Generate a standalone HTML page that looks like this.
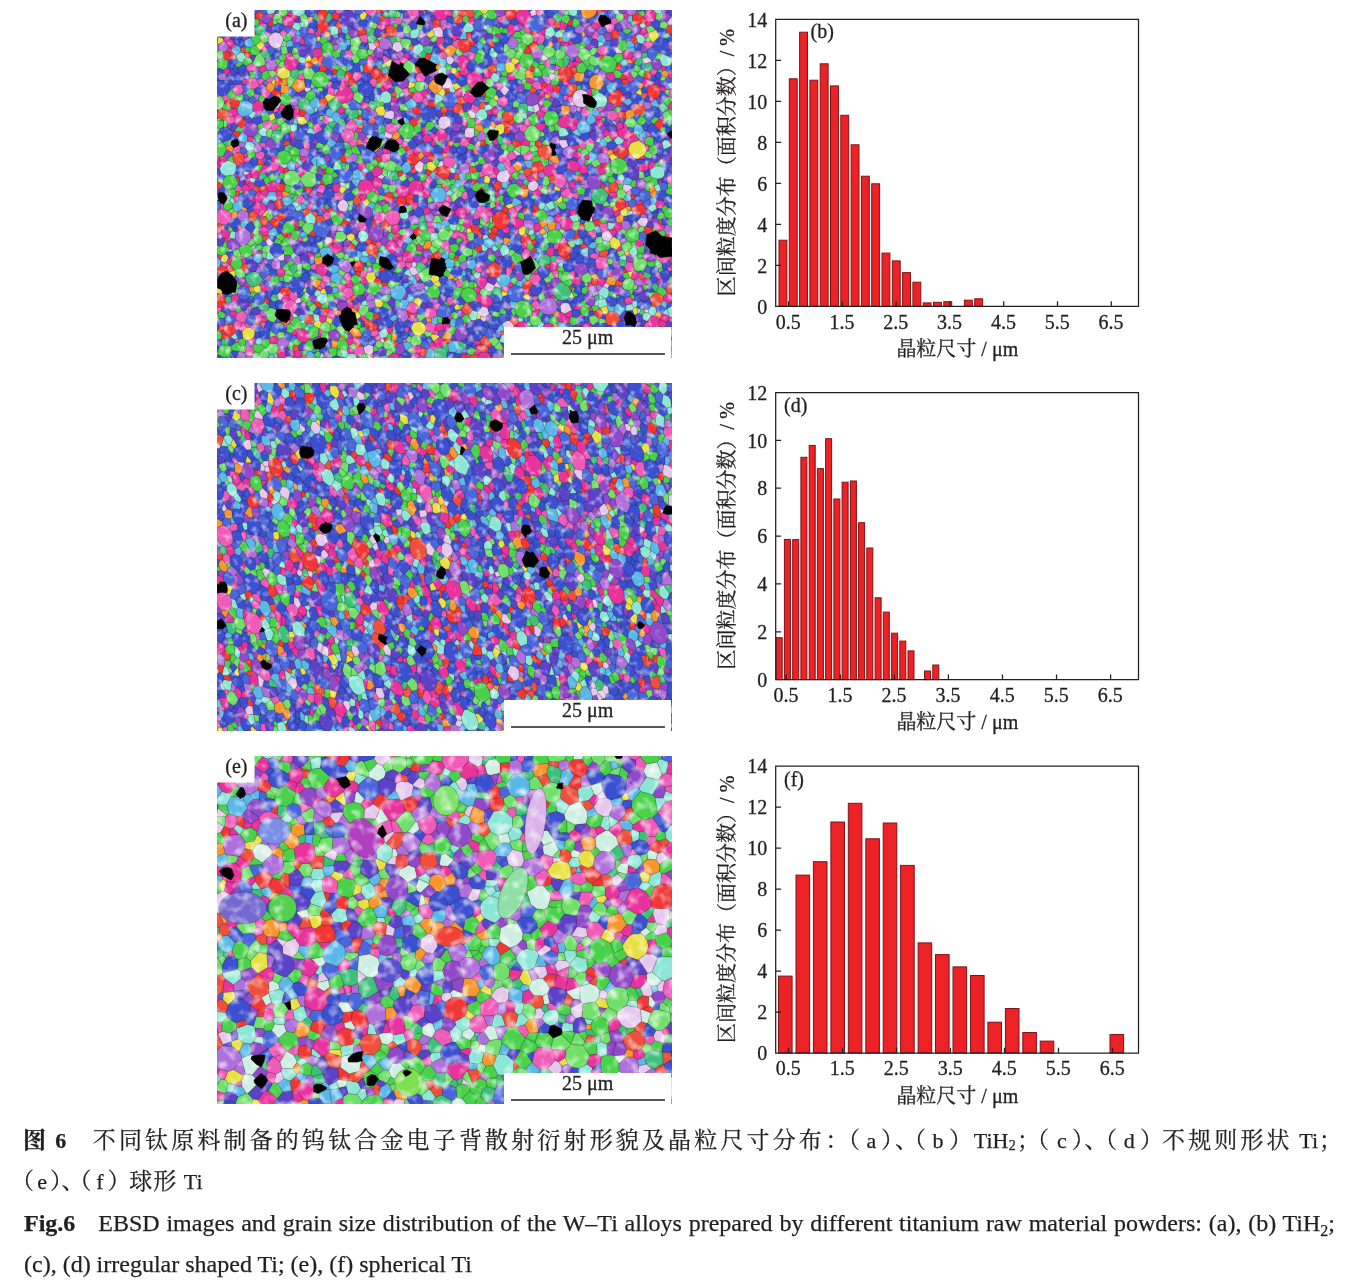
<!DOCTYPE html>
<html lang="zh"><head><meta charset="utf-8"><title>Fig.6</title>
<style>
html,body{margin:0;padding:0;background:#fff}
body{width:1348px;height:1286px;position:relative;overflow:hidden;color:#231f20;font-family:'Liberation Serif','Noto Serif CJK SC',serif}
.ln{position:absolute;left:24px;width:1306px;height:40px;line-height:40px;font-size:24px;white-space:nowrap}
.j{white-space:normal;text-align:justify;text-align-last:justify}
svg text{stroke:#231f20;stroke-width:.3px}
.ln{-webkit-text-stroke:.25px #231f20}
.a{position:absolute;top:0}
.c,.cb{font-size:23px}
.l,.lb{font-size:22px}
.cb,.lb{font-weight:bold}
.s{font-size:14px}
.g2{display:inline-block;width:23px}
sub{font-size:16px;vertical-align:-5px;line-height:0}
</style></head><body>
<svg width="1348" height="1286" viewBox="0 0 1348 1286" style="position:absolute;left:0;top:0" font-family="'Liberation Serif','Noto Serif CJK SC',serif" fill="#231f20"><defs>
<filter id="bl" x="0" y="0" width="100%" height="100%"><feGaussianBlur stdDeviation="0.9"/></filter>
<filter id="nz0" x="0" y="0" width="100%" height="100%" color-interpolation-filters="sRGB"><feTurbulence type="fractalNoise" baseFrequency="0.07" numOctaves="2" seed="3"/><feColorMatrix values="0 0 0 0 1  0 0 0 0 1  0 0 0 0 1  1.9 0 0 0 -0.95"/></filter>
<filter id="nz1" x="0" y="0" width="100%" height="100%" color-interpolation-filters="sRGB"><feTurbulence type="fractalNoise" baseFrequency="0.07" numOctaves="2" seed="8"/><feColorMatrix values="0 0 0 0 1  0 0 0 0 1  0 0 0 0 1  1.7 0 0 0 -0.9"/></filter>
<filter id="nz2" x="0" y="0" width="100%" height="100%" color-interpolation-filters="sRGB"><feTurbulence type="fractalNoise" baseFrequency="0.045" numOctaves="2" seed="5"/><feColorMatrix values="0 0 0 0 1  0 0 0 0 1  0 0 0 0 1  2.0 0 0 0 -0.95"/></filter>
</defs><svg x="217" y="10" width="455" height="348" viewBox="0 0 910 696" preserveAspectRatio="none"><rect width="910" height="696" fill="#555"/><g filter="url(#bl)"><g stroke="#111" stroke-width="0.7" stroke-opacity="0.5" stroke-linejoin="round"><path fill="#3cc07a" d="M748 373l4-12 14-6 7 2 10 12 0 1-4 12-9 7-1 0-10-2-9-8zM674 556l14-13 2 1 14 10 5 10-5 10-4 4-9 4-9-3-4-3-4-7zM530 370l6-8 8-3 11 5 3 12 0 2-4 5-8 3-8 0-8-9zM56 534l1-2 11-8 9-1 8 4 6 12-7 11-11 4-6-1-9-10zM112 241l5-1 10 1 7 7-1 8-7 8-7 2-12-10zM221 188l1-4 14-10 13 13 0 4-10 13-4 0-10-7zM434 680l4-4 12-1 11 9-2 13-17 5-7-6zM649 490l9-2 8 5 2 11-3 4-12 4-8-1-3-6zM601 196l5-9 12-1 4 4-1 12-2 3-11 2-5-2zM858 -15l6-5 2-1 9 2 5 8-7 12-10-1-5-7zM241 121l6-4 10 7-2 11-3 2-10-2-4-6zM74 39l3-6 6-3 9 2 5 7 0 3-2 5-9 4-8-3zM350 323l6-2 4 2 4 12 0 3-6 4-12-3-3-5zM268 199l13 0 3 12-4 5-10 3-3 0-5-7zM146 122l13-5 3 3 3 8-5 10-3 1-11-7zM303 186l4-5 7 0 4 2 3 10-5 7-5 1-9-9zM857 107l11-3 4 13-6 7-10-1-3-4zM671 15l4-8 7-2 9 7-2 10-2 2-10-1zM882 195l2-5 9-5 9 8 1 5-2 3-8 4-11-9zM342 7l3-10 7 0 7 5-2 13-2 1-9 0-3-2zM550 563l5-9 13 2 2 6-2 6-7 4-4-1-6-4zM648 467l3-2 12 2 1 8-6 8-8-1-4-8zM83 593l0-2 11-6 9 3 2 8-5 6-13-1zM163 181l8-4 1 0 10 15-6 8-10 0-5-9zM402 429l2-4 13-2 2 1 2 12-1 3-11 3-7-7zM839 97l9-1 2 1 3 8-8 7-10-3-1-2zM400 506l8-3 9 7 2 6-16 10-6-11zM301 51l13-1 6 6 0 2-8 8-10 0-1 0zM85 87l1-3 14-2 8 7-5 7-8 1zM763 330l14-3 6 7-1 8-10 3-2 0zM730 698l2-4 11-3 1 0 6 12-7 6-8-2zM559 258l6-8 1 0 11 9-2 7-8 4-4-2zM108 571l5-3 7 1 3 11-5 3-10-2zM566 135l3-2 9 0 5 8-6 10-4 1-10-10zM73 254l0-1 9-8 8 7-4 13-3 1-2 1zM803 501l2-2 14 2 2 3-6 9-10-1zM145 513l10-6 4 2 2 12-9 7-7-9zM220 229l1 0 11 8 0 7-6 6-14-10zM552 50l3 0 9 6 1 8-9 3-6-5zM663 97l0-1 12-5 5 6-3 12-9 0zM321 238l3-6 8-2 4 3 1 10-2 2-11 2-1-2zM413 73l10-3 9 5-3 12-10 0-6-6zM222 5l7 3 2 9-9 9-7-4zM529 349l5-4 9 2 2 9-1 3-8 3-7-8zM331 569l16-1 2 6-9 11-7 1-5-7zM79 469l8-1 5 5-2 9-10-1-4-4zM9 659l0-1 13-1 2 14-14-1zM299 40l6-5 11 3-2 12-13 1-2-3zM264 153l15-6 4 5-1 11-8 4zM483 662l4 0 10 6 1 1-1 7-9 4-4-3zM402 90l11-9 6 6-3 9-11 1zM194 531l4-6 13 8-2 8-13-3zM853 528l3-5 10 4 3 4-3 6-12-1zM450 675l5-9 7 2 1 15-2 1zM-11 418l1-1 7-1 6 11-2 4-9 4-7-9zM465 354l4-5 4 0 9 8-1 2-5 6-4 0-6-6zM868 553l6-7 4 0 6 8-6 10-1 0-1 0zM795 682l-1-2 2-2 4-1 10 5 0 10-7 1zM692 98l1-1 12 2 1 2-6 13-8-1zM896 465l10 0-1 13-11-4zM437 340l10-4 7 3-1 7-4 3-9 0zM247 217l7 1 4 10-2 5-15-7zM135 273l11-5 6 5-7 12-11-5zM850 86l10-2 2 10-12 3-2-1zM473 566l14 4 0 2-10 11-8-10zM225 224l9-2 6 4-8 11-11-8zM840 488l1-3 11 2 0 10-10 0zM254 265l1-1 9 1 5 10-1 1-10 3-4-3zM67 586l7-2 9 7 0 2-14 5zM898 222l10-3 3 9-7 6-2 0zM753 574l11-6 0 1 1 11-2 2-6-1zM403 415l11-6 1 1 2 13-13 2zM666 493l8-3 6 3-2 10-10 1zM256 198l8-2 4 3-6 13-7-7zM443 479l4-4 12 5 0 3-10 7-7-8zM346 60l2-6 9-2 2 11-8 5-3-1zM740 115l6-6 11 3-5 12-12-6zM555 470l1-3 5-2 10 5-6 10-2-1zM172 177l3-2 12 7-3 9-2 1zM11 264l15-5 3 3-1 7-10 4zM345 445l3-1 6 4-3 12-7 0-4-7zM810 682l5-2 4 2 1 8-6 4-4-2zM247 308l3-3 7 0 1 3-2 9-6 1zM330 469l6 2 1 5-8 8-6-1-1-5zM263 390l5 1 4 7-8 5-4-2zM830 636l10 1 1 5-12 8zM16 575l6-3 6 3 2 7-7 4-6-1zM85 325l13 3 2 5-7 6-9-5zM612 341l7-4 6 7-4 8-9-3zM551 -8l12 1 1 2-7 8-8-5zM912 416l4-5 8 1 2 3-4 11-2 1-2-1zM906 675l15 3-9 13-4-3zM642 68l9 0 5 5-5 11-10-7zM356 579l11 1-2 14-10-1zM123 533l10-1 2 12-11-2zM688 71l6 0 4 4-3 8-11-4zM387 333l4-1 4 8-9 5-5-7zM508 -4l0-1 15 3-6 10-2 1zM900 44l5 4-5 11-9-4zM189 143l9 11-10 4-2-3zM168 682l10-2 3 4-2 6-9 0zM826 25l5-2 6 6-6 5zM322 110l7 0 2 8-2 3-10-5zM-6 46l3-3 3 0 5 11-4 4-5-1zM646 601l7 6-6 10-6-5zM191 14l6-7 3 0 5 16-2 1-10-5zM185 600l8 3 1 5-2 3-12-2zM541 563l9 0 1 4-5 6-7-2zM720 151l8-1 0 9-9 2zM145 369l13-1 1 1-9 10-6-7zM214 393l5-7 6 9-5 5zM697 88l10 7-2 4-12-2zM19 694l6-3 3 5-6 5-2 0zM580 -10l6 7-10 6-2-4zM513 13l2-4 2-1 7 4-2 6-5 2zM715 324l9-3 4 6-10 6zM881 121l7-4 4 4-3 6-8-4zM343 120l8 2-7 8-3-3zM294 513l6 0 1 1-1 9-8-2zM799 570l8 2-9 6-1-1zM721 410l8 4-4 10-2-2zM592 78l9-7 1 12-4 1zM435 230l8 0 4 7-5 3-8-6zM836 248l1 0 8 1 1 6-3 4zM727 457l3 0 3 9-7 5-1-1zM67 472l9-5 3 2-3 8-4 1z"/><path fill="#e6c8ee" d="M711 172l3-7 5-4 9-2 11 4 8 14-1 7-9 9-5 2-12-2-3-2-5-8zM103 54l7-7 6-3 9 2 7 8 1 6-5 13-1 1-10 4-10-6-5-9zM559 331l6-8 14-4 8 11-4 10-5 4-10 1-7-4-2-5zM447 143l7-9 5-2 1 0 9 8 2 9-1 2-6 6-9 1-4-2zM442 223l4-8 3-2 9-1 7 5 3 12-1 2-12 8-8-2-4-7zM240 391l5-9 8-4 7 5 3 7-3 11-7 3-9-3zM431 38l0-1 1-1 14-3 6 9 0 12-10 1-7-4zM769 453l1-8 13-5 9 14-7 9-3 0-10-3zM686 592l6-7 11 1 1 1 6 13-14 8-8-4zM625 344l9-3 4 1 6 8-4 9-8 4-8-3-2-3-1-5zM570 627l10-6 4 0 10 10-4 12-2 3-5 1-3-1-5-4zM293 674l10-5 10 3 0 12-1 2-8 4-1 0-8-4zM495 241l5-6 1-1 13 2 1 1 0 15-6 4-11-1-3-6zM351 68l8-5 8 1 5 12-3 6-9 3-9-7zM522 604l8-12 11 3 4 13-8 6-9-1-6-8zM839 424l9-10 12 2 2 7-4 10-3 1-8-2zM684 266l1-6 11-1 3 1 4 12-10 5-4-2zM396 310l10-9 8 6-1 11-6 7-6-2-6-8zM337 204l11-4 7 4-1 12-5 3-14-3-2-4zM650 653l15 7-4 10-2 1-12-4 0-1zM541 544l13 6 1 4-5 9-9 0-7-7zM384 518l5-5 8 2 6 11-1 1-7 4-6 0zM573 152l4-1 8 9-9 11-2 0-8-10zM217 454l1-1 9 1 4 4-1 7-9 5-6-4zM667 126l7 1 6 6-12 8-5-9zM458 97l3-5 7 0 6 6 1 4-7 8-8-3zM302 66l10 0 8 8-7 8-9-4zM813 348l13 2 5 5-2 3-11 7-7-7zM568 -19l13 0-1 9-6 9-10-4-1-2zM97 462l6-7 10 10 0 1-7 7-6-3zM737 414l7-5 7 6 0 8-14 2zM631 192l11-5 4 13-9 6-2-1zM-13 106l12 0 3 10-4 6-10 0-3-7zM908 14l8 8-6 8-7 0-3-5zM335 245l2-2 14 6-1 7-5 2-9-5zM850 97l12-3 8 7-2 3-11 3-4-2zM162 575l5 1 2 6-1 3-9 3-4-6zM624 674l8-5 5 8-1 3-8 2-4-4zM625 3l12-6 2 13-10 3zM647 97l5-8 11 7 0 1-9 6-6-3zM501 204l6-4 11 7-1 8-2 2-8 0zM120 569l6-5 7 7-5 10-5-1zM528 613l9 1 2 7-6 3-7-6zM133 487l2 3 0 11-9 1-7-6zM330 328l5 5-5 6-11-5zM795 76l6-2 10 10-1 3-12 0zM507 159l1-2 14 0 1 3-7 7zM778 545l8 5-5 7-9-4-1 0zM445 303l7-2 2 10-12 4-1-1zM54 322l12 2 0 1-8 6-5-4zM592 283l3-4 12 8 1 2-8 3zM554 550l5-7 10 11-1 2-13-2zM177 154l9 1 2 3 0 2-9 5-5-6zM667 120l7-1 2 2-2 6-7-1zM328 656l4 0 4 7-4 4-6-6zM390 505l3-2 7 3-3 9-8-2zM854 599l1-1 8 1 0 7-8-1zM706 186l6-3 5 8-10 1zM491 160l7 4-6 10-2-1zM175 566l4-2 7 7-2 2-10-4zM916 22l4 1-1 12-9-5z"/><path fill="#f05ab8" d="M877 489l5-12 12-3 11 4 1 0 5 13-7 10-8 5-6 0-2-1-9-7zM0 406l4-6 3-1 7-1 8 3 6 6 2 9-7 11-9 3-11-3-6-11zM336 407l13-8 3 0 12 5 1 2 2 11-5 11-13 3-3-1-10-10zM130 594l3-8 13-7 9 3 4 6 2 9-6 9-4 3-10 1-9-6zM532 310l6-5 8 1 8 7-2 13-10 6-6-1-8-8zM757 499l7-7 14 3 2 3 3 11-6 9-15 1-5-7zM677 329l2-2 14 1 6 12 1 4-5 8-9 5-10-6-3-4zM247 251l0-1 10-14 18 8-1 14-10 7-9-1zM394 166l5-4 8 2 7 11-5 9-4 2-6-1-9-9zM381 4l6-8 14-2 3 7 0 12-14 5-7-5zM519 395l4-4 13 2 1 1 3 8-3 9-7 5-4 0-10-9zM417 598l3-2 12 0 7 6 1 9 0 1-11 5-11-2-1 0-2-5zM258 228l9-9 3 0 8 5 4 8 0 3-6 8-1 1-18-8-1-3zM452 301l3-4 6-4 9 2 6 4 1 7-6 9-5 2-12-6zM628 528l15 1 6 8-8 13-9 0-7-9zM783 202l11-2 8 6 0 9-7 6-6 2-9-9zM336 233l5-5 8-3 9 5 3 12-10 7-14-6zM250 564l8-10 12 2 4 13-13 10-10-9zM40 606l10-5 1 0 9 8 1 2-5 14-1 0-5 1-12-6-2-5zM560 182l3-6 11-5 2 0 7 12-2 6-7 6-13-7zM384 585l9-1 10 9-4 13-9 1-10-5-3-3zM906 159l1-2 8-4 9 8-1 11-6 5-15-4 0-1zM313 411l7-6 12-1 4 3 0 13-8 7-8-1-6-6zM35 150l14-2 1 1 3 13-4 6-11 3-8-11zM416 630l4-5 8-1 9 6 0 7-8 8-11-4zM303 -10l11-2 4 5 2 13-13 7-7-4-4-6zM64 139l3-2 8-1 5 3 4 11-2 4-8 5-8-3-4-7zM760 76l2-2 11-4 9 7-3 13-4 2-9-2-6-6zM59 674l12-1 4 10-4 10-12-2-3-6zM815 513l6-9 10 1 4 15-3 2-11 2-5-7zM90 225l1-2 14-3 3 2 2 4-2 11-8 2-7-4zM399 128l14-5 7 5-6 16-15-1-2-6zM191 237l3-9 7-2 4 3 6 11-14 8-1 0zM274 679l4-4 11-3 4 2 2 12-9 8-7-2-5-5zM450 462l12-2 4 9-1 5-6 6-12-5zM687 365l11-9 6 0 2 1 4 11-1 6-6 2-13-3-1-2zM144 571l4-8 12 4 2 8-7 7-9-3zM161 370l7 0 5 3 3 8-3 6-5 2-2 0-9-6zM489 258l9-3 8 11-7 9-13-5-1-5zM775 32l1-2 12-4 6 4 1 9-8 7-7-2zM111 304l10 0 5 5 0 1-5 10-11 4-3-3-3-8zM900 333l10-5 4 1 1 1 4 11-6 8-12-2-1 0zM91 162l7-4 10 7 0 1-7 11-4 0-9-8zM327 293l6-6 13 0 1 13-11 6-6-4zM226 599l4 0 6 5 1 8-6 6-11-4-2-2zM732 195l5-2 10 13 0 1-7 7-10-2-3-7zM236 365l9-1 6 4 2 4 0 6-8 4-12-4-1 0zM214 405l6-2 6 3 2 11-11 4-6-9zM271 129l4-5 12 0 2 1-1 11-9 8-9-8zM630 148l3-5 11-1 5 6 0 11-10 1-9-8zM611 291l14-10 4 3 4 9-4 8-14 0zM566 290l7-2 7 4 2 5-11 9-6-1-4-7zM200 355l6-5 1-1 8 1 1 1 2 5-6 11-12-3 0-1zM18 220l6-8 11 2 1 11-7 3-7-2zM58 112l13-7 7 8-3 9-11 2-5-4zM559 16l1-2 15-3 2 4-4 10-4 2-5-2zM459 582l1-7 9-2 8 10-9 8-2 1zM628 589l5-7 7-1 6 7-1 11-7 0-8-6zM255 81l2 0 9-1 8 9-5 6-11-1zM741 448l1-4 12-4 6 6-3 9-7 0zM764 432l4-6 13 0 2 14-13 5-1 0zM258 525l5 0 6 8-1 7-9 3-8-7 0-2zM362 503l10-2 5 4 0 8-7 5-9-6zM614 479l6-2 7 5 1 2-5 13-10 4-5-11zM580 292l5-8 7-1 8 9-3 6-10 3-5-4zM223 155l6-1 7 5 0 13-14-4-1-6zM477 542l5-4 6 1 3 3-1 14-11-2zM351 102l13-4 3 7-4 9-7 3-5-5zM280 431l1-2 4-5 11 0 5 11-6 6-8 1zM77 287l12-5 7 4-1 8-7 5-6-1-5-4zM604 229l10-1 8 6-8 11-8-3zM530 416l7-5 9 4-1 9-8 3zM599 652l1 0 13 3-2 12-10 2-6-6zM421 331l4 0 9 8-9 10-9-8zM-17 516l4-3 13 6 0 4-5 6-11 0-3-3zM514 518l5-8 6-1 7 11-5 6-9-2zM211 533l7-3 9 4 1 8-1 2-11 2-7-5zM240 554l3-6 3-2 10 4 2 4-8 10-6-2zM284 52l15-4 2 3 0 15-2 0-10-1zM33 275l10-4 4 4-1 9-14 3-1-3zM583 398l11-5 0 1 4 8-8 8-8-5zM35 357l7-8 7 6 0 4-5 5-6-1zM504 83l14 4-4 13-9 0-4-6zM75 611l11-4 4 6-3 8-9 2zM571 306l11-9 5 4 2 10-10 7zM491 365l7-3 2 1 3 14-8 3-7-6zM451 384l4-3 12 5-3 10-5 3-9-6zM321 29l11-1 7 6-1 2-9 5-10-5zM-8 438l0-3 9-4 8 10-1 3-7 4-6-2zM355 16l2-1 9 0 5 3 0 4-4 6-4 2-7-4zM558 145l5-3 10 10-7 9-6 0-1-1zM80 139l9-3 6 5-5 7-6 2zM50 626l5-1 3 11-8 7-7-3zM264 265l10-7 6 2 0 11-11 4zM214 212l3-2 10 4-2 10-4 5-1 0-8-6-1-2zM579 318l10-7 2 0 8 11-12 8-8-11zM851 68l4-5 14 0 3 2 0 8-10 5-11-8zM510 188l13 5 3 5-8 9-11-7zM459 370l8 2 4 12-4 2-12-5zM744 491l10-6 10 6 0 1-7 7-10-3zM637 -3l11 0 6 8-7 7-8-2zM32 629l6-9 12 6-7 14-4 1zM578 517l1-1 7-1 5 3-1 8-6 6-6-4zM757 41l2 0 6 8-6 10-7-1-3-4zM287 524l5-3 8 2 1 2-4 11-9 0-2-3zM368 269l5-9 9 6 0 6-8 4-5-2zM388 689l4-3 13 3 0 1-4 10-4 0-10-5zM110 226l10 0 5 5-8 9-5 1-4-4zM660 21l3-5 8-1 6 8-7 11-2-1zM359 464l6-6 9 6-5 11-5 0zM668 523l12-3 3 3 0 14-7-1zM654 103l9-6 5 12-5 6-5-1-4-5zM174 262l12 5 0 10-2 3-11-4zM645 50l9 0 2 9-5 9-9 0-3-4zM720 668l12-6 7 6-7 13-3 1-6-3zM723 268l5-8 9 4 2 2-2 11-6 2-7-7zM35 214l8-6 9 6 0 1-11 13-5-3zM369 130l6-5 9 4 0 3-3 7-10-2zM304 144l6-8 9 3 2 5-6 11-1 0zM414 175l4 0 6 8-4 9-11-8zM568 556l1-2 12-2 4 4-4 9-11-3zM437 385l14-1-1 9-9 3zM540 402l8 0 5 8-2 2-5 3-9-4zM615 218l6-2 9 14-8 4-8-6zM314 654l10-5 4 7-2 5-7 2zM377 505l13 0-1 8-5 5-7-5zM787 19l9-5 7 11-9 5-6-4zM-6 333l2 0 5 8 0 1-8 6-6-6zM-10 682l11 2 2 5-14 12-5-8zM364 98l9-6 10 7 0 2-10 7-6-3zM320 463l6-1 4 7-8 9-5-9zM433 591l10-6 5 4-9 13-7-6zM452 412l6-4 6 5-2 9-11 0zM105 133l7 2 1 3-5 8-6 0-4-5zM759 689l8-2 5 7-6 9-5 1-3-2zM209 541l7 5 1 7-2 4-3 0-7-6zM702 173l9-1 1 11-6 3-6-6zM420 439l1-3 12-3 3 4 0 8-8 3zM613 36l1-5 6-2 8 13-2 5-8-1zM710 368l9-4 5 6-2 8-2 1-11-5zM356 260l9-4 8 4-5 9-7-1zM31 375l6-4 5 1 2 10-8 2zM866 124l6-7 9 4 0 2-5 7-7 0zM308 643l12-4 4 5 0 5-10 5-6-2zM594 394l14-6 4 7-11 8-3-1zM330 96l3-5 2 0 12 7-10 8-2 0zM419 424l13-1 2 2-1 8-12 3zM472 63l10-4 4 0-6 17-1 0-9-6zM746 254l9 9-2 4-14-1-2-2zM652 192l1 0 9 4 0 6-5 4-11-6zM444 89l4-6 7 0 6 9-3 5-10 0zM705 524l8-3 3 3 0 9-8 5zM178 392l8-5 7 1-6 14-8-6zM9 173l11-4 6 9-11 5zM299 254l6 4-1 6-2 2-9-1-1-3zM182 41l4-5 6 1 4 7-2 4-12-1zM633 572l8 0 1 5-2 4-7 1-3-5zM358 493l12-1 2 9-10 2zM55 296l7-2 5 4-2 6-9 1-3-3zM631 51l11-5 3 4-6 14-6-1zM165 128l7 0 4 10-2 2-14-2zM72 478l4-1 4 4-1 6-7 4-2-1zM515 217l2-2 12 6-1 7-11 3zM542 332l10-6 7 5 0 5-12 1zM875 531l8-6 3 1 3 11-6 2zM810 126l10-5 5 5-7 6-7-2zM86 629l3-5 8 1-2 11-2 1zM132 207l13 4-10 12-5-8zM691 453l11 10-1 4-15 1-1-2zM83 266l3-1 11 1 0 8-7 2zM156 306l4-1 8 7-11 6zM378 283l9-6 5 2 1 8-9 4-6-5zM796 344l2-4 2-1 13 3 0 6-12 1zM674 468l11-2 1 2-5 11-6 0-2-3zM453 357l6-4 6 1 1 5-8 6zM187 510l9-3 4 3-3 11-10-3zM319 358l2 0 4 11-3 2-7-7zM852 487l2-1 8 3-3 13-7-5zM494 394l10-1 2 2 2 10-8 3zM154 192l7-1 5 9-1 0-10-2zM818 365l11-7 1 10-3 2-8-2zM224 141l7 4-2 9-6 1-3-5zM598 437l5 1 1 10-6 2-4-4zM363 130l6 0 2 7-7 5-4-4zM238 -3l9 1 1 7-3 4-9-4zM168 585l1-3 10 4 1 5-10 1zM112 413l9-1 1 7-11-2zM612 558l12 1-2 9-8 1zM513 407l3 0 10 9 0 1-13 2zM906 614l9 2-3 12-9-7zM678 109l10 6-4 5-8 1-2-2zM125 46l8-8 8 9-9 7zM55 625l1 0 10 5-1 5-7 1zM66 630l10-2-2 12-9-5zM166 453l6 2-1 8-12-2zM862 45l1 1 0 7-7 4-4-6zM15 505l4-1 6 5-7 5-5-2zM395 531l7-4 5 11-7 6zM533 136l1 0 5 2-3 11-5-1zM-1 595l10 0-1 7-7 4-3-2zM35 659l6-3 4 2-3 7-5 0zM902 514l4-1 5 6-5 5-6-6zM8 387l5-1 1 12-7 1zM759 196l18-3 0 3-12 9zM313 354l6 4-4 6-6-1zM692 171l8-1 2 3-2 7-7 2zM104 528l4 6-2 6-12 0-1-1zM383 614l3 0 7 5 0 7-12-7zM-9 291l3-3 12 6-1 2-11 0zM446 33l1-1 11 0 2 3-8 7zM494 625l6 1-4 9-5-1zM34 68l6 3-11 7-1-2zM488 341l9-3 3 3 0 2-8 6zM644 350l8 0-4 13-8-4zM839 424l8 8-6 8-4-3zM176 544l3 0 5 7-5 6-4-1zM524 324l4-1 8 8-1 2-11 2zM739 553l3-1 6 2-1 7-4 0zM382 198l10-1 0 8-11-4zM307 90l6-5 3 8-3 2zM121 696l1-1 12 2-1 4-5 3zM743 24l5 5-14 7-1-2zM412 3l5-3 1 7-5 2zM660 352l1 0 9 7-9 8zM642 187l2-3 6-2 2 1 1 9-1 0zM812 171l6 7-6 7zM728 608l6 5 0 1-13 4-1-2zM674 307l10-2-6 15-7-9zM781 524l8 0 2 8-8 1-3-3zM372 659l6-1 3 6-10 2z"/><path fill="#e8309c" d="M242 158l2-2 10-3 9 0 1 0 10 14-2 11-5 4-8 4-10 1-13-13 0-2zM382 354l4-9 9-5 10 1 3 2 5 15-7 10-3 2-12 0-6-3zM499 132l2-3 12-7 4-1 10 7 6 8-2 12-9 9-14 0-8-9zM599 5l7-5 12-2 7 5 4 10-9 16-6 2-10-5-7-11zM648 639l7-11 8-2 10 4 7 9 0 9-10 11-5 1-15-7-1-2zM281 354l5-13 12-3 12 4 3 12-4 9-10 6-8-1-7-8zM158 651l5-14 11 1 8 5 5 16-10 6-8 0-9-8zM432 4l6-10 10-4 14 9-1 14-4 5-11 3-7-3-6-8zM134 103l5-8 12-3 11 8 2 5-5 12-13 5-11-7zM652 322l2-8 9-5 8 2 7 9 1 7-2 2-14 4-7-1zM522 692l6-8 13 0 2 1 7 12 0 3-6 10-10 2-10-5zM359 354l13-5 10 5 3 13-9 8-14-1-5-11zM492 174l6-10 9-5 9 8 3 7-1 5-8 9-14-4zM131 14l8-4 12 3 4 8 0 4-5 9-16-1-3-5zM589 419l1-1 12-3 12 6-1 11-10 6-5-1-5-4zM73 392l2-6 1 0 13-2 9 7 2 9-10 11-2 1-5-1-10-10zM684 217l10-7 6 0 9 8 1 8-6 8-6 3-10-2-7-8zM97 350l10-7 9 0 5 6-1 12-3 3-13 0-5-6zM341 694l10-8 7 0 7 4-3 17-7 2-8-2-6-6zM336 471l8-11 7 0 8 4 5 11-11 14-5-1-11-12zM200 510l11-4 8 4 4 6 0 3-5 11-7 3-13-8-1-4zM437 247l5-7 5-3 8 2 6 9-3 12-9 5-12-4-1-1zM685 425l5-6 13-5 2 0 7 10-1 14-16 4-7-6zM482 95l1-2 8-3 10 4 4 6-6 15-11 1-5-3-4-10zM801 241l11-5 9 0 5 9-1 10-2 4-9 1-12-8zM856 4l7-4 10 1 6 6-2 11-8 6-9-2-6-5-1-3zM641 698l4-10 5-4 18 8 0 7-5 9-8 2-11-3zM699 312l8-13 14 4 5 8-2 10-9 3-15-5zM70 188l10-7 2 0 10 4 3 7-6 14-2 1-9-1-6-4zM861 622l7-10 7-1 11 7 0 1-4 13-7 5-9-4zM370 492l6-11 18 6 1 2-2 14-3 2-13 0-5-4zM190 84l6-7 13-1 2 3 0 12-10 5-5-3zM228 478l4-10 10-3 10 9-2 9-15 6-3 0zM532 573l7-2 7 2 6 10 0 2-2 5-9 5-11-3-4-6zM83 437l7-6 6 0 8 10-1 9-1 1-11 1-6-5zM476 403l6-8 12-1 6 14-4 10-1 0-10-1-9-10zM310 342l5-8 4 0 11 5 2 8-3 7-8 4-2 0-6-4zM433 663l12-9 5 2 3 3 2 7-5 9-12 1zM810 87l1-3 10-6 11 8 0 6-5 6-7 1-7-2zM907 184l10-2 6 5 1 5-1 5-6 5-14-4-1-5zM349 431l13-3 1 0 3 11-3 7-5 2-4 0-6-4zM678 613l8-8 2-1 8 4 3 6-7 11-9-1zM521 537l7-5 12 5 1 7-7 12-6 2-7-5-2-7zM600 630l4-5 8-3 7 3 3 9 0 3-9 6-9-3zM728 634l9-8 2 0 12 6 0 5-3 5-14 5-7-6zM665 508l3-4 10-1 4 4 1 6-3 7-12 3-1 0-2-5zM662 148l5-1 4 4 2 12-6 7-11-3-5-8zM330 149l8-8 6-1 4 2 4 10-12 10-3 0zM892 573l8-7 9 1 4 9-4 9-9 1-7-6zM411 256l2-4 6-5 8 4 4 9-4 4-12 2-2-2zM79 364l5-1 2 0 9 12-6 9-13 2-2-11zM580 36l3-7 3-2 11 4 1 12-8 9-1 0-6-4zM495 418l1 0 14 6 1 5-4 7-7 1-3-1-6-5 0-1zM635 428l9-3 6 11-6 6-10 0-3-4zM484 123l4-7 11-1 3 3-1 11-2 3-11-1zM726 311l9-2 4 2 4 8-2 7-11 2-2-1-4-6zM795 427l4-3 9 2 3 11-5 6-6 1-7-7zM66 325l0-1 8-7 1 0 10 7 0 1-1 9-7 4-8-3zM149 201l6-3 10 2-1 13-4 4-5 0-9-6zM390 671l17-1 2 5-4 14-13-3zM748 29l10-9 5 0 7 12-11 9-2 0zM315 314l6-2 11 6-2 10-11 6-4 0-7-10zM8 444l1-3 5-3 7 1 6 6-2 10-11 2-3-2zM474 442l4-2 8 3 2 2-2 9-8 5-11-5zM876 389l4-9 13 1 3 9-7 7-9 0zM712 690l11-11 6 3 3 12-2 4-11 4zM844 309l11-2 6 4 3 8-11 5-9-2-1-1zM477 160l11-5 3 5-1 13-9 2-7-9zM635 231l7-6 14 3 2 3-7 12-4 1zM908 219l3-6 4-2 5 3 4 9-7 7-6-2zM874 433l9-6 7 1 6 4-2 8-11 3-9-8zM413 358l6 0 8 8 0 6-6 5-7 0-8-9zM119 520l8-5 3 0 6 7 0 7-3 3-10 1-3-2zM658 483l6-8 9 1 2 3-1 11-8 3-8-5zM673 415l9-8 4 1 3 4 1 7-5 6-7 1-3-2zM103 657l2-3 14-3 4 7-3 10-14-1zM850 145l4-9 10 3 1 2 0 10-4 3-8-1zM756 225l2-5 10-1 6 6 1 6-12 3zM708 539l0-1 8-5 13 0 1 8-8 10-1 0-10-5zM22 202l6-6 12 2 3 10-8 6-11-2zM903 125l9-3 3 1 3 11-6 6-11-7zM119 685l5-8 8 1 5 5 0 10-3 4-12-2zM779 126l13-2 5 13-7 6-14-9zM815 575l11-3 8 9-4 7-11 2-5-6zM488 445l3 0 8 1 1 1 1 11-8 4-1-1-6-7zM785 244l15-3 1 0 1 11-8 9-3 0-8-10zM437 630l5-4 8 1 2 1 2 12-10 4-7-7zM761 539l3-3 10 0 4 6 0 3-7 8-10-5zM632 363l8-4 8 4 2 4-7 8-5 0-5-6zM825 255l11-7 7 11 0 2-15 5-5-7zM637 206l9-6 11 6-4 9-10 2zM92 310l2-1 10 4 3 8-9 7-13-3 0-1zM832 522l3-2 7 3 2 4-1 9-9 5-7-5zM331 21l5-6 7-1 3 2 0 14-7 4-7-6zM232 348l13-1 2 5-2 12-9 1-6-8zM49 355l8-7 4 1 6 10-7 9-7-3-4-6zM259 543l9-3 6 9-4 7-12-2-2-4zM771 -9l9-10 4 1 5 8-1 8-8 5-8-2 0-2zM504 15l9-2 4 7-5 11-10-6zM155 682l8-3 5 3 2 8-7 6-8-3zM533 125l8-7 10 9-4 9-8 2-5-2zM252 137l3-2 8 4 0 14-9 0-7-7zM298 98l5-7 4-1 6 5-1 7-5 5-5-2zM258 660l1-1 2-3 10 0 3 10-11 6zM578 133l4-7 8-1 6 6 1 6-1 3-13 1zM438 64l4-9 10-1 3 2 0 7-6 9-5 3-4-2zM836 463l8-5 9 5 0 7-14 6-3-1zM818 132l7-6 2 0 7 12-1 3-8 3-6-6zM710 226l10 4 0 7-10 7-6-10zM259 583l2-3 9 3 4 7-2 5-4 3-8-4zM387 389l7-6 7 1 2 10-11 6zM87 553l8-4 10 7-4 6-12 3-1-1zM848 36l10-1 4 10-10 6-7-3zM549 199l3-5 5-1 7 8-3 9-1 2-10-3zM18 65l9-7 5 2 2 8-6 8-5-1zM889 667l5-7 5 1 5 10 0 2-9 5-4-2zM410 283l6-5 11 3 1 5-7 7-6-1zM583 647l5-1 11 6-4 11-5 2-6-3zM28 575l3-5 9-3 6 11-8 7-8-3zM886 619l11 5 0 8-3 4-12-4zM811 267l3-7 9-1 5 7-6 12-10-3zM459 399l5-3 12 7 0 4-12 6-6-5zM281 307l13-3 4 2 0 9-9 7-9-4zM600 643l4-3 9 3 1 10-1 2-13-3zM850 539l4-3 12 1 0 1-4 11-10 0zM872 690l6-1 5 4-2 11-7 3-7-8zM890 608l1-1 13 5 2 2-3 7-6 3-11-5 0-1zM450 273l10-3 6 4-1 10-4 3-9-4zM412 398l8-5 7 8 0 5-12 4-1-1zM706 101l8 3 1 9-11 3-4-2zM909 507l8-3 5 4-6 12-5-1-5-6zM452 628l13-1 3 5-6 9-5 1-3-2zM630 603l8-4 7 0 1 2-5 11-13-1zM798 231l2-4 4-3 9 3-1 9-11 5-1 0zM-12 307l4-3 9 1 5 10-1 2-11 1zM126 310l8 7-1 9-6 0-6-6zM687 24l2-2 11 6 1 2-4 9-12 0 0-2zM762 322l7-9 8 3 3 5-3 6-14 3-1-1zM703 346l6-4 7-1 1 12-11 4-2-1zM133 571l11 0 2 8-13 7-5-5zM684 702l3-6 14 0 1 7-6 8-10-5zM769 275l10-3 5 7-4 8-11-1zM392 279l7-6 10 10-8 8-8-4zM715 283l5-1 7 2 4 8-9 7-10-5zM249 191l7 7-1 7-10 3-6-4zM609 265l8-8 9 6-2 10-14-3zM554 383l4-5 9 5 1 6-8 6-2-1zM699 614l7 2-1 11-10 2-3-4zM570 438l10-6 6 5-1 8-1 1-7 1zM86 363l13-5 5 6-5 10-4 1zM783 369l4-5 12 0 2 10-9 3-9-7zM337 637l15-4-1 14-1 1-7-1zM408 343l8-2 9 8-6 9-6 0zM61 349l6-5 7 2 2 5-3 8-6 0zM246 694l2-1 10 2 1 6-5 6-8-3zM205 612l12-1 1 1 2 2-2 9-9 3-5-5zM272 595l2-5 7-2 6 3-5 12zM405 690l11 3 4 4-5 11 0 1-14-9zM117 364l3-3 10 3 2 10-3 5-9 0zM701 696l3-6 8 0 7 12-3 6-14-5zM429 645l8-8 7 7-1 7-13-3zM157 420l6 1 1 12-8 1-3-7zM-11 163l7-2 9 11-10 5-7-5zM330 277l10-2 8 9-2 3-13 0zM288 536l9 0 6 9-9 5-8-5zM196 44l6-4 6 5-2 8-7 0-5-5zM619 334l9-5 6 4 0 8-9 3-6-7zM837 687l7-5 2 2 3 8-10 9-1 0zM594 631l6-1 4 10-4 3-10 0zM709 218l4-3 13 6 0 1-6 8-10-4zM286 187l5-5 12 4-1 6-6 6zM861 311l8-10 7 5 1 6-11 8-2-1zM90 613l8 0 4 7-5 5-8-1-2-3zM83 114l13-4 4 10-10 6-5-3zM13 120l7-4 6 3-2 9-5 2-5-5zM284 373l7-5 8 1 1 8-9 7-2-1zM399 470l4-3 9 7 1 4-3 5-12-2zM520 568l5-2 7 7-6 13-9-3-1-1zM577 259l2-2 11 7 0 3-9 5-6-6zM493 218l9 2-1 14-1 1-12-6zM259 679l4-5 11 5 0 8-11 1zM595 110l9-6 5 8-6 8-6-3zM-4 2l6-6 6 5 0 6-9 5-1-1zM5 296l1-2 7-2 8 6 0 3-10 6-6-7zM23 495l4 1 3 2-3 11-2 0-6-5zM271 656l2-2 14-1-2 10-10 4-1-1zM491 -6l14-6 3 7 0 1-11 6-5-4zM407 164l7-5 4 1 4 4 1 3-5 8-4 0zM708 273l15-5 1 4-4 10-5 1zM860 22l9 2 0 7-11 3-1-5zM696 608l14-8 1 13-5 3-7-2zM904 67l10 1 5 6-9 6-7-3zM370 158l12-4 2 3 0 7-3 3-6 1-4-3zM617 137l1-1 14 1 1 6-3 5-11-4zM739 163l8-8 1 1 3 16-4 5zM354 448l4 0 7 10-6 6-8-4zM462 -1l1 0 9 3-1 12-10-1zM516 678l2-1 8 4 2 3-6 8-8-3zM783 440l10-3 7 7-6 10-2 0zM771 246l8-7 6 5-2 7-9 4zM716 94l5-3 10 12 0 1-5 2-9-4zM538 202l11-3 1 10-1 1-8 0zM166 292l14 2 0 5-8 7-6-7zM390 607l9-1 1 2-1 5-6 6-7-5zM27 602l10 0 3 4-4 9-11-5zM112 290l8 0 1 14-10 0-4-6zM598 402l3 1 1 2 0 10-12 3 0-8zM286 615l2-5 7 0 4 8-6 5-3 0zM493 462l8-4 6 3-8 10zM813 8l5-3 6 5-4 9-6-2zM885 153l11 1 2 5-3 5-8-1zM903 261l4-5 8-1 0 13-6 3zM52 139l12 0-2 10-12 0-1-1zM128 187l11 5-9 12-5-3-2-5zM144 246l4-3 6 1 2 13-9 1zM255 -6l6-9 8 12-2 4-8 0zM239 406l5-5 9 3-2 11-11-6zM859 622l2 0 5 11-10 4-3-6zM794 404l9-4 3 1 1 8-9 5-5-4zM649 159l2 0 5 8-1 5-5 3-6-1-2-2zM12 57l7-5 7 5 1 1-9 7-5-2zM425 667l8-4 5 13-4 4-9-3zM368 451l10 0 2 2-6 11-9-6zM911 491l3 0 3 13-8 3-5-6zM142 85l7 0 3 4-1 3-12 3-3-6zM636 680l1-3 8-1 5 7 0 1-5 4zM705 401l13-3 2 11-14 3zM609 465l12 3-1 9-6 2-5-4zM427 251l3-4 7 0-1 13-5 0zM94 72l7 3-1 7-14 2 0-3zM412 494l12 3 0 1-7 12-9-7zM855 268l12 4-4 10-4 1zM61 252l12 1 0 1-4 10-9-1zM427 264l4-4 5 0 1 1 2 9-8 4zM587 543l8 7-10 6-4-4zM409 234l7-1 5 8-2 3-10 0-1-1zM172 316l8 7-13 12-6-9zM140 614l1-4 10-1 2 7-6 7zM47 493l1-1 9 3 2 12-8 2zM512 557l1-1 8-3 7 5-3 8-5 2zM579 667l5-5 6 3-1 9-10-5zM179 486l2-3 15 6-1 7 0 1-11-1zM655 36l2 2-1 11-2 1-9 0-3-4zM206 398l0-2 8-3 6 7 0 3-6 2zM56 343l4-6 5 1 2 6-6 5-4-1zM282 235l8 3 1 6-8 3-7-4zM112 198l2-2 9 0 2 5-11 6-1-1zM551 261l8-3 4 10-6 3-6-6zM204 637l1-1 8 7-6 11-5-1zM85 21l3-1 6 6-2 6-9-2zM158 636l4 1 1 0-5 14-8-1-1-3zM714 104l3-2 9 4-8 8-3-1zM827 98l5-6 7 5-5 10-1 0zM-6 296l11 0 0 4-4 5-9-1zM870 452l12-4 5 10-6 5zM349 174l8-1 4 5-1 6-13 0zM374 88l5-2 7 6-3 7-10-7zM514 661l12 0 2 7-8 3-7-5zM554 313l5 0 6 10-6 8-7-5zM756 213l9-6 6 8-3 4-10 1zM692 144l11-2 3 6-3 5-10-3zM808 470l3 10-11 4-1-5zM61 377l1-3 12 1 2 11-1 0zM537 394l9 0 3 3-1 5-8 0zM718 589l8 0 3 4-3 8-14-2zM855 290l2 5-3 4-12-1zM290 324l12 2-5 7-7-3zM514 269l5-2 7 6-6 5-4-1zM666 573l8-4 4 7-5 2-8-3zM326 20l5 1 1 7-11 1-1-2zM799 273l5 4-2 7-10 1-1-5zM148 681l3-1 4 2 0 11-4 2-4-3zM68 659l6-5 5 3-3 11-1 0zM741 546l7-3 4 7-4 4-6-2zM296 198l6-6 9 9-3 3zM23 75l5 1 1 2 1 6-3 2-9-3zM171 54l2 1 4 13-10 2-1-3zM694 64l8 0 2 6-6 5-4-4zM67 445l3 0 5 6-3 7-4-1zM816 382l7 1 0 9-6 3zM245 147l2-1 7 7-10 3zM52 288l7-3 3 9-7 2zM243 37l5-1 3 9-9 4 0-1zM469 47l6 4-1 4-4 3-6-4zM1 489l9 2-3 10-7-7zM498 688l2-2 8 5-6 7-1-1zM831 402l4-1 4 8-2 1-7-2zM888 117l2-6 8 2 0 8-6 0zM702 64l5-6 7 10-10 2zM386 309l10 1-1 5-6 2zM47 13l5 0 1 9-8 2-1 0zM822 289l2-4 10 11-8 1zM734 293l10-7 0 13-6 0zM7 644l6-3 2 5-5 3zM221 470l9-5 2 3-4 10-6-4zM461 615l7-6 3 8-5 4zM833 679l2-1 8 2 1 2-7 5-3-1zM429 134l10 0 0 5-8 1zM587 330l7 8-6 4-5-2zM906 647l9 3 0 6-7 4-4-2zM611 684l7 1 2 3-7 3zM141 447l7-1 1 10-4 1-5-3zM612 395l3 1 3 9-3 4-5-4zM58 543l9 10-3 3-10-5zM1 305l4-5 6 7-5 8zM151 13l2-3 12 3-10 8zM802 215l3 2-1 7-4 3-5-6zM325 157l5-8 7 13-7 3zM498 255l11 1-3 10zM142 4l7-1 4 7-2 3-12-3zM377 633l9 4-5 8-7-2zM866 174l13 3-1 1-11 8-1-1zM628 484l1 1 4 13-10-1zM475 51l11 1 0 7-4 0-8-4zM687 65l5-3 2 2 0 7-6 0zM470 58l4-3 8 4-10 4zM890 696l7 6-8 6-3-3zM202 107l1-2 8-1 1 6-6 2zM739 626l6-4 6 9 0 1zM567 45l2 0 0 1-5 10-9-6zM642 517l1 12-15-1zM223 118l9-4 2 5-3 5zM304 690l8-4 2 8-2 2zM103 8l11-1 1 1-4 11-1 0zM58 331l8-6 3 10-4 3-5-1zM743 596l3-3 3 0 3 9-7 1zM624 559l2 0 3 10-4 1-3-2zM11 534l4 1 0 5-6 4-7-3 0-1zM409 244l10 0 0 3-6 5zM838 383l9-2 5 3-1 4-12 2zM459 480l6-6 5 10-6 2-5-3zM768 308l1 5-7 9-6-7zM17 585l6 1 0 12-3 0-7-6zM846 684l9 0 2 4-1 4-7 0zM377 327l1 0 9 6-6 5-1 0zM63 584l4 2 2 12-1 1-4 0-1-1zM813 227l3-2 5 10 0 1-9 0zM53 302l3 3-7 8-5-3zM423 154l3 5-4 5-4-4zM644 174l6 1 0 7-6 2zM284 360l7 8-7 5-4-2zM555 364l3-2 3 0 6 8-9 6zM14 457l11-2 2 2-7 9-5-4z"/><path fill="#48d24a" d="M787 306l3-4 12-7 1 0 9 3 7 6 3 14-1 2-10 8-9 2-9-3-6-7zM653 215l4-9 5-4 13 0 5 4 4 11-3 10-6 4-13 2-4-2-2-3zM595 597l5-13 9-4 13 3 6 6 2 4 0 10-2 8-2 2-14 4-8-3-6-5zM661 445l3-3 13-4 7 3 7 7 0 5-6 13-11 2-9-3-4-10zM362 242l8-12 5-3 9-1 9 7 4 15-1 3-5 5-2 1-15 0-8-8zM604 100l7-13 2-1 15 2 6 9 0 4-4 10-10 6-11-5-5-8zM487 570l5-12 10-3 10 2 8 11-4 14-15 4-3-1-11-13zM765 102l10-10 4-2 13 4 8 12-4 14-4 4-13 2-11-7-5-9zM188 140l8-15 9-3 10 2 9 11 0 6-4 9-9 5-10 0-3-1-9-11zM819 441l8-5 10 1 4 3 4 5-1 13-8 5-10 1-5-2-5-8-1-4zM12 340l5-8 15-2 6 5 4 9 0 5-7 8-13 2-10-7-1-2zM44 477l3-5 14-4 6 4 5 6-2 12-6 4-7 1-9-3zM442 702l17-5 2 2 2 3 3 10-2 8-9 6-13-7-2-3zM120 290l3-6 11-4 11 5 4 7-1 8-8 8-14 1-5-5zM-8 277l5-8 12-5 2 0 7 9 1 7-6 12-7 2-12-6zM579 358l2-5 8-5 9-1 9 7 2 4-3 10-9 7-5 2-8-5-5-10zM127 172l2-5 12-1 10 9 0 1-5 12-4 3-3 1-11-5-3-6zM693 676l5-8 15-4 7 4 3 11-11 11-8 0-10-11zM270 556l4-7 12-4 8 5 4 10-6 9-13 3-5-3zM4 675l6-5 14 1 3 2 3 8-1 4-4 6-6 3-9 0-7-5-2-5zM420 562l4-8 9-5 10 5 4 10-3 10-2 2-16 1-6-8zM639 405l6-6 7 0 6 5 4 8-4 8-13 3-8-11zM900 703l12-9 8 7 2 8-5 11-3 1-5-1-8-4zM126 231l9-8 12 8 1 12-4 3-10 2-7-7zM305 546l9-2 7 5 5 11-1 3-10 8-11-4-4-7zM133 429l8-8 4 1 8 5 3 7-1 6-7 6-7 1-7-4-3-8zM406 450l3-8 11-3 8 9-2 13-8 1-7-2zM539 250l7-10 8-2 11 12-6 8-8 3-11-8zM613 655l1-2 13-1 6 5 1 7-2 5-8 5-12-6-1-1zM210 69l11-6 7 2 4 5 1 11-5 7-5 0-12-9-2-3zM30 498l9-4 8-1 4 16-4 8-12 3-8-11zM212 330l1-1 5-2 11 3 4 6-2 11-15 4-1-1-5-10zM147 623l6-7 9-2 5 7 0 6-5 10-4-1-12-9zM893 405l9-10 3 0 10 7 1 9-4 5-9 2-7-5zM-1 106l6-8 6-2 12 6-3 14-7 4-11-4zM284 77l10 0 7 4 2 10-5 7-12 1-8-11zM228 417l12-8 11 6 2 3-5 11-7 2-8-2zM538 7l6-9 5 0 8 5 3 11-1 2-8 4-10-3zM692 524l4-2 9 2 3 14 0 1-18 5-2-1-2-4zM381 469l9-4 9 5-1 11-4 6-18-6zM-1 479l6-6 5-1 6 3 3 11-1 2-8 3-9-2-2-3zM536 161l3-6 11-1 9 6 1 1-2 8-6 7-5 1-10-4zM182 643l3-7 9-5 10 6-2 16-14 6-1 0zM588 494l0-1 9-9 11 6 5 11-2 2-14 4-5-3zM718 114l8-8 5-2 9 11 0 3-6 9-14-3zM518 87l2-1 15 5-4 14-9 4-8-9zM299 369l10-6 6 1 7 7-1 12-2 3-2 1-11-2-6-8zM792 94l6-7 12 0 3 10-8 9-5 0zM621 216l0-1 13-10 1 0 2 1 6 11-1 8-7 6-5-1zM695 650l1-1 15 0 2 15-15 4-4-9zM726 601l3-8 4-1 10 4 2 7-4 9-7 1-6-5zM901 357l13-4 8 4 1 6-10 9-14-4-2-5zM72 458l3-7 10-4 6 5 1 9-5 7-8 1-3-2zM867 272l6-2 3 0 5 8-1 9-9 3-8-8zM66 75l8-5 4 1 8 10 0 3-1 3-7 4-9-1-4-6zM177 665l10-6 1 0 7 12-1 6-6 6-7 1-3-4zM48 34l9-6 6 1 5 11-1 1-10 7-2 0-9-9zM420 224l9-1 5 6 1 1-1 4-7 7-6 0-5-8zM632 124l4-8 6-1 7 6 1 11-1 1-1 1-14-1zM856 256l3-2 8-1 7 3-1 14-6 2-12-4zM179 165l9-5 10 8 0 6-11 8-12-7zM506 327l14-5 4 2 0 11-4 6-9-2-2-2zM295 610l8-8 10 3 1 1-1 9-6 6-8-3zM220 568l10-2 3 2 3 7-4 8-9 1-2-1zM649 121l9-7 5 1 4 5 0 6-4 6-13 0zM241 661l2-1 15 0 5 12 0 2-4 5-8 1-11-3 0-1zM805 60l12 0 2 2 2 15 0 1-10 6-10-10zM148 446l7-6 6 1 5 6 0 6-7 8-10-5zM134 475l2-2 8-2 6 2 4 12-7 6-12-1-2-3zM27 673l10-8 5 0 6 7-4 11-1 0-13-2zM13 386l3-4 9-1 7 7-1 7-9 6-8-3zM222 679l7-4 11 1 0 1-1 14-11 4-1-1zM152 273l3 0 11 6-1 12-16 1-4-7zM-3 643l4-1 6 2 3 5-1 9 0 1-15-1-2-7zM68 56l4-4 6-4 8 3 1 12-9 8-4-1zM269 533l8-4 9 4 2 3-2 9-12 4-6-9zM22 359l13-2 3 6-1 8-6 4-3 0-5-5zM666 616l8-5 4 2 5 11-2 2-8 4-10-4zM711 20l4-4 11 4 0 10-10 6-6-5zM59 164l7-8 8 3 2 8-3 6-8 2-6-7zM317 387l2-1 11 6 2 12-12 1-6-8zM908 14l0-2 10-9 11 8-7 11-2 1-4-1zM601 71l2-4 7-3 10 7-7 15-2 1-9-4zM489 616l7-7 7 1 5 10-3 5-5 1-6-1zM552 33l1-1 3 0 8 4 3 9-12 5-3 0-2-2zM209 277l5-8 5-1 9 7-6 13-5 2-7-7zM358 281l11-7 5 2 4 7 0 3-11 6zM87 207l2-1 8-1 7 6 1 9-14 3zM760 469l10-3 7 5 2 8-13 5-8-9zM890 694l5-8 13 2 4 3 0 3-12 9-3-1-7-6zM106 540l2-6 12-3 3 2 1 9-5 8-8 1zM71 673l4-5 1 0 13 1 6 7-10 10-10-3zM792 124l4-4 10 1 4 5 1 4-5 7-9 0zM1 221l12 1 0 12-7 4-11-5zM140 631l6-4 12 9-9 11-10-3zM652 183l9-5 1 0 7 9 0 3-7 6-9-4zM748 642l3-5 14 4 2 5-3 5-9 5-2 0zM465 474l1-5 13-2 2 1 4 10-9 8-6-2zM310 511l1-3 5-2 13 4-4 13-10 2-2-1zM846 212l8 2 5 6-2 6-8 5-9-4-1-4zM502 220l5-3 8 0 2 14-3 5-13-2zM483 492l8-4 8 6 0 8-12 4-5-6zM720 355l7-2 10 5-2 10-11 2-5-6zM706 616l5-3 9 3 1 2 1 10-10 4-7-5zM321 257l2-1 8 1 5 9-7 10-3 0-8-7zM542 490l11-3 5 7-4 10-2 1-11-7zM57 95l9 0 6 9-1 1-13 7-5-4-2-3zM479 554l11 2 2 2-5 12-14-4-1-5zM102 333l9-8 8 10-3 8-9 0zM581 272l9-5 6 8-1 4-3 4-7 1-5-5zM167 576l3-5 4-2 10 4 0 7-5 6-10-4zM511 350l10-6 8 5 0 5-8 9-5 0-6-4zM90 126l10-6 2 1 3 12-7 8-3 0-6-5zM276 620l1 0 11 4 0 10-4 4-12-3zM218 318l3-5 11 3 2 4 0 3-5 7-11-3zM91 659l12-2 3 10-8 10-3-1-6-7zM613 150l6-6 11 4 0 4-5 8-10-1zM233 568l11-6 6 2 1 6-5 6-5 1-5-2zM882 448l1-5 11-3 4 8-8 10-3 0zM819 682l5-6 9 3 1 7-5 5-9-1zM691 12l2-2 11 1 3 8-7 9-11-6zM149 292l16-1 1 1 0 7-6 6-4 1-8-6zM867 342l3-7 11 3 1 10-8 4-3-1zM587 330l12-8 2 1 3 5-2 10-3 2-5-2zM-17 478l10-4 6 5 0 7-14 3-3-2zM684 387l7-4 7 3 2 11-10 3-8-8zM1 606l7-4 8 4 2 5-4 6-10-1zM491 542l8-3 5 5-2 11-10 3-2-2zM468 609l1-3 6-3 6 3 3 9-6 4-7-2zM268 276l1-1 11-4 0 1 7 13-1 3-3 2-12-3zM-17 362l10-8 6 4-1 11-7 4-4-2zM170 508l11-3 6 5 0 8-4 4-12-6zM393 233l12-6 4 7-1 9-11 5zM-4 548l6-7 7 3 1 8-2 3-9 1zM882 406l11-1 3 8-8 7-4 0-5-4zM128 88l1 0 7 1 3 6-5 8-6-1-5-5zM884 554l4-1 10 7 2 6-8 7-14-9zM286 694l9-8 8 4-3 13-2 2-11-7zM330 392l9-6 2 0 8 13-13 8-4-3zM130 462l6-7 4-1 5 3-1 14-8 2zM207 54l9-1 4 3 1 7-11 6-5-6zM668 141l12-8 1 0 5 8-5 9-10 1-4-4zM20 169l6-9 4 0 8 11-2 4-8 3-2 0zM70 423l5-2 10 0 5 10-7 6-6-1zM500 679l9-5 7 4-2 11-6 2-8-5zM408 327l10 1 3 3-5 10-8 2-3-2zM641 650l8 1 1 2-3 13-13-2-1-7zM567 270l8-4 6 6-1 7-6 2-7-4zM132 54l9-7 2 0 7 8-1 5-10 3-6-3zM633 293l10-2 6 7-2 4-15 4-3-5zM839 476l14-6 3 4-2 12-2 1-11-2zM452 521l6-3 9 7 0 3-6 7-8-4zM641 572l8-8 5 2 4 10-8 5-8-4zM587 537l9-3 6 7-5 9-2 0-8-7zM680 97l12 1 0 15-4 2-10-6-1 0zM158 361l8-5 8 1 0 1-6 12-7 0-2-1-1-1zM464 486l6-2 6 2 1 2-4 12-10-4zM903 537l4-5 12 1 0 11-12 3zM137 349l13 4 1 2-7 11-10-4zM59 285l2-3 12-2 4 7 0 7-10 4-5-4zM621 468l5-4 8 7 1 3-8 8-7-5zM194 310l5 0 4 3-4 15-2 1-12-6zM208 -18l10 4 1 1-4 13-6-1-5-7zM213 643l10 1 1 13-12 3-5-6zM454 339l8-2 4 3 3 9-4 5-6-1-6-7zM322 371l3-2 1 0 8 3 0 8-13 3zM366 189l10-3 6 12-1 3-1 1-12 0-3-2zM97 413l6-10 5 0 4 10-1 4-6 6-1 0zM298 306l10-1 7 9-7 10-2-1-8-8zM278 354l3 0 3 6-4 11-4 1-8-8 0-1zM70 24l2-4 6-3 7 4-2 9-6 3zM233 81l12-2 3 2-2 13-10 3-8-9zM36 175l2-4 11-3 4 3 0 10-7 3zM119 452l3-4 7-1 7 8-6 7-1 0-10-6zM488 210l0-1 5-5 8 0 6 13-5 3-9-2zM45 658l7-2 6 5-1 10-9 1-6-7zM777 327l3-6 7-1 6 7-2 5-8 2zM535 260l5-7 11 8 0 4-8 5-5-1zM426 56l9-5 7 4-4 9-8 1-2-2zM247 648l10-7 6 1-2 14-2 3-13-6zM429 303l9-8 7 8-4 11-1 0zM690 544l18-5 3 7-3 5-4 3zM835 109l10 3 4 7-8 6-8-3zM15 187l11 6 2 3-6 6-12-5zM468 632l9 2 2 2-5 14-3 0-9-9zM903 418l9-2 6 10-10 6-7-3zM-11 71l9-3 3 1 1 0 1 11-6 6-7 0-4-6zM783 334l8-2 7 8-2 4-10 3-4-5zM474 501l8-1 5 6-2 7-11-1zM152 73l10 5 0 9-10 2-3-4zM318 183l9-5 8 9-2 5-12 1zM538 40l3-5 11-2-2 15-9-1zM860 503l15-1 1 10-8 3-8-5zM258 279l10-3 3 11-8 7-8-5zM349 219l5-3 8 5 0 4-4 5-9-5zM598 43l7 0 6 8-2 5-13 0-6-4zM44 1l7-4 2 1 7 10-8 5-5 0-5-8zM478 430l4-3 9 3 0 1-5 12-8-3zM139 506l6 7 0 6-9 3-6-7zM308 305l9-8 6 8-2 7-6 2zM602 405l8 0 5 4 0 11-1 1-12-6zM521 301l3-8 7 0 7 12-6 5-8-3zM149 664l11-7 9 8-6 7-9-2zM30 549l4-7 7 0 6 11-6 5-8-3zM472 2l5-2 5 3 1 7-9 6-3-2zM668 692l5-6 12 4 2 6-3 6-16-3zM744 691l10-5 5 3-1 13-8 1zM488 155l0-1 12-6 8 9-1 2-9 5-7-4zM909 567l4-5 12 2 1 1-4 11-5 1-4-1zM491 14l6-3 7 4-2 10-4 2-7-5zM729 557l7-4 3 0 4 8-7 8-7-3zM749 593l5-3 9 3 2 3-11 8-2-2zM644 109l10 0 4 5-9 7-7-6zM812 526l9-2 5 12-10 2-5-6zM812 39l9-3 7 3 1 5-10 5-8-7zM152 528l9-7 7 1 2 6-3 7-15-1 0-2zM-3 86l6-6 10 5-2 11-6 2zM841 125l8-6 4 0 3 4-2 13-12-6zM523 -2l9 10-2 3-6 1-7-4zM913 93l10-7 8 6-3 7-16-1 0-1zM32 -8l10 0 2 9-2 4-13-4zM378 396l6-7 3 0 5 11-11 5-2-1zM145 663l1-1 3 2 5 6-3 10-3 1-2-1-5-7zM647 667l12 4-9 12-5-7zM227 544l1-2 15 6-3 6-9 1-4-5zM860 658l6 1 0 11-7 4-9-8zM232 114l5-6 11 6-1 3-6 4-7-2zM388 428l14 1 0 6-9 5-8-5zM194 688l6-5 4 0 4 4-3 8-10-1zM504 544l9-2 1 2-1 12-1 1-10-2zM767 687l3-6 13 3-1 8-10 2zM258 48l4-2 7 11-2 2-7 1-4-5zM872 436l2-1 9 8-1 5-12 4-3-1zM568 124l9-4 5 6-4 7-9 0zM675 231l6-4 7 8-5 8-8-2zM726 66l4-3 8 6-2 7-11 2-1-1zM883 240l10-7 5 2-1 13-1 0zM390 671l2 15-4 3-9-9zM482 357l10-7 6 12-7 3-10-6zM227 628l3-2 9 8-1 5-13 3zM881 84l11 4-7 12-10-1zM361 512l9 6 0 2-8 7-10-3zM86 170l2-1 9 8-5 8-10-4zM339 655l4-8 7 1-1 12-2 1-6-1zM556 602l8 2 2 4-3 7-13-2-1-4zM333 586l7-1 9 11-6 4-13-7zM683 513l9 1 4 8-4 2-9-1-3-3zM876 213l7 3 1 2-10 10-4-1-2-6zM530 53l3 0 7 13-7 3-10-6zM198 269l4-5 12 5-5 8-10 0-2-1zM64 124l11-2 3 3-3 11-8 1zM841 5l10-5 5 4-3 10zM284 638l4-4 9 0 2 2-10 13zM359 309l10 4 1 9-10 1-4-2zM163 421l4-1 10 5-7 9-6 0 0-1zM617 525l11 3-3 13-5 0-6-6zM506 266l8 3 2 8-4 4-12-4-1-2zM93 339l7-6 2 0 5 10-10 7-1-1zM210 589l11-6 2 1 0 12-13 1-2-2zM219 -13l11 3-8 15-7-5zM750 379l9 8-5 7-9-2-1-1zM882 650l9 0 1 8-11 3-2-2zM81 309l11 1-7 14-10-7zM172 455l9-5 1 10-7 5-4-2zM766 419l6-6 2 1 7 12-13 0zM353 672l4 1 1 13-7 0-4-7zM127 326l6 0 2 1-3 12-1 0-9-4zM748 156l16 4 1 5-14 7zM690 373l13 3-5 10-7-3zM498 328l6-2 2 1 3 10-9 4-3-3zM439 189l0-2 11-5 6 11-7 3zM852 337l3-3 12-3 3 4-3 7-8 3zM835 671l12-4-4 13-8-2zM619 625l6-4 5 9-8 4zM323 305l7-3 6 4-3 11-1 1-11-6zM781 306l1 0 5 0 0 14-7 1-3-5zM564 201l10-2 2 3-5 8-10 0zM391 459l6-2 6 10-4 3-9-5zM835 425l4-1-2 13-10-1 1-4zM662 233l13-2 0 10-7 5zM777 471l5-8 3 0 3 12-7 6-2-2zM893 179l9-5 5 10-5 9-9-8zM526 417l0-1 4 0 7 11-2 4-10-2zM204 313l14-6 3 6-3 5-6 1zM12 10l8 2 0 10-13-2zM567 370l6 1 1 2-2 7-5 3-9-5 0-2zM785 653l12-6 4 5-5 10-1 1zM283 290l3-2 8 16-13 3-3-3zM460 107l8 3 2 5-2 3-9 1-4-5zM626 263l11 0 0 8-12 3-1-1zM167 627l9-1 3 2 0 4-5 6-11-1-1 0zM876 306l9-4 6 6-3 5-11-1zM647 302l2-4 14 0 0 11-9 5zM731 104l0-1 12-4 3 10-6 6zM737 193l9-9 10 11-9 11zM180 226l1-3 3-1 10 6-3 9-6-1zM321 144l9 5-5 8-10-2zM194 677l1-6 11 2-2 10-4 0zM536 174l1-1 10 4-3 8-9 0-1-2zM414 307l5 0 2 12-2 1-6-2zM728 583l9-4 2 9-6 4-4 1-3-4zM119 456l10 6-4 7-12-3 0-1zM151 355l7 6 0 7-13 1-1-3zM478 459l8-5 6 7-11 7-2-1zM84 -10l9-1 4 8-11 5-1 0zM240 677l11 3-3 13-2 1-7-3zM634 101l10 6 0 2-2 6-6 1-6-5zM859 345l8-3 4 9-5 3-7-2zM573 37l7-1 3 12-14-2 0-1zM572 596l8 8-4 5-10-1-2-4zM179 586l5-6 10 7-11 7-3-3zM625 451l9-3 4 5-2 6-8 2zM738 299l6 0 6 4-1 3-10 5-4-2zM384 157l11-3 4 8-5 4-10-2zM139 506l12-6 4 7-10 6zM798 193l6-1 3 10-5 4-8-6zM58 73l8 2-1 9-10 1zM408 212l6 9-9 6-3-7zM755 656l9-5 6 7-5 7zM671 382l8-1 5 6-2 5-6 4zM851 551l1-2 10 0 3 3-7 9-4-1zM629 284l12-2 2 9-10 2zM41 591l4 1 5 9-10 5-3-4zM411 460l7 2-6 12-9-7zM547 426l4 0 4 7-8 5-4-1-1-2zM238 303l8-6 4 8-3 3zM440 612l0-1 12 5-2 11-8-1zM67 565l8-1 4 2-6 8-7-2zM784 562l9 0 1 3-6 7-5 0zM792 377l9-3 3 3-7 8-5-2zM587 602l4-5 4 0 3 12-5 3zM901 201l2-3 14 4-2 9-4 2zM831 340l7 0 0 14-7 1-5-5zM783 684l11-4 1 2-5 15-8-5zM80 230l10-5 3 10-10 5zM42 231l10 6-1 6-3 2-12-3zM21 298l10-8 3 15-13-4zM875 502l4-4 9 7-8 8-4-1zM400 28l13 2-4 11-3 1-6-4zM650 266l5-7 11 5 1 2-2 5-14-1zM463 442l3-4 8 4-7 12zM605 43l8-7 5 10-7 5zM340 115l0-1 11-2 5 5-1 3-4 2-8-2zM333 4l1 0 8 3 1 7-7 1-5-4zM896 390l6 5-9 10-4-8zM437 261l12 4 1 7-11-2zM901 347l12 2 1 4-13 4zM186 532l8-1 2 7-4 3-7-3zM275 244l1-1 7 4-1 12-2 1-6-2zM848 599l6 0 1 6-4 6-7-4zM699 -3l2 0 4 13-1 1-11-1zM22 401l9-6 5 7-8 5zM-3 467l8 6-6 6-6-5zM75 683l10 3 0 4-14 3zM906 478l10 1-2 12-3 0zM511 479l3-2 8 8-6 11-6-6zM801 349l12-1-2 10-8 1zM15 462l5 4 0 7-4 2-6-3zM826 464l10-1 0 12-5-1zM125 231l1 0 1 10-10-1zM856 57l7-4 6 10-14 0zM298 505l4-4 9 7-1 3-9 3-1-1zM829 691l5-5 3 1 1 14zM117 217l3 1 0 8-10 0-2-4zM21 439l4-7 7 5-1 5-4 3zM116 99l7-2 5 5-6 9-1 0zM473 265l12 0 1 5-6 6-8-5zM192 698l3-4 10 1 1 2-1 7-12-3zM211 79l12 9-9 5-3-2zM313 672l3-1 7 6-1 5-9 2zM714 68l12-2-2 11zM350 366l7-3 5 11-1 1-7-1zM683 523l9 1-6 15-3-2zM596 56l13 0 1 8-7 3zM648 100l6 3 0 6-10 0 0-2zM711 565l3-1 9 5 0 2-10 4zM440 349l9 0 1 6-13-1zM883 517l7-1 3 3-7 7-3-1zM724 272l7 7-4 5-7-2zM673 578l5-2 4 3-4 6zM510 519l4-1 4 6-5 5-3-1zM560 212l1-2 10 0 0 9-11-6zM515 237l11 7-7 9-4-1zM229 330l5-7 8 7-1 4-8 2zM567 383l5-3 4 11 0 1-8-3zM689 412l14 2-13 5zM530 119l11-4 0 3-8 7-1 0zM610 318l3 2 0 6-9 2-3-5zM43 103l8 2 2 3-11 7-6-4zM823 561l8-3 2 1-2 10-4 1zM801 652l5 3-3 7-7 0zM356 26l7 4-4 7-9-6zM398 481l12 2 0 7-15-1-1-2zM826 572l1-2 4-1 5 3-2 9zM564 36l5-3 4 4-4 8-2 0zM162 120l12 0-2 8-7 0zM213 466l2 0 6 4 1 4-10 1zM876 676l2 1 0 12-6 1-5-5zM618 437l7 2-3 9-6-1zM478 116l5-3 5 3-4 7-4 0zM833 492l7-4 2 9-8 4zM466 340l8-3 4 3-5 9-4 0zM537 427l8-3 2 2-5 9-7-4zM913 576l4 1 1 13-6 0-3-5zM452 437l12-6 2 7-3 4zM855 204l-1 10-8-2-1-1zM1 214l12 7 0 1-12-1zM129 462l1 0 6 11-2 2-9-6zM16 475l4-2 4 4-2 7-3 2zM355 544l8-1 2 8-8 0zM771 215l7 0-4 10-6-6zM445 412l7 0-1 10-2 1zM453 588l6-6 7 10-1 0zM116 625l13 0 2 4-5 3zM859 352l7 2-1 10-11-5zM347 661l2-1 7 2-4 7zM49 359l4 6-7 2-2-3zM367 28l4-6 9 7-7 5zM196 489l9-5 4 9-14 3zM352 -3l7-2 3 5-1 1-2 1zM522 431l3-2 10 2-9 7zM711 555l5 1-2 8-3 1-2-1zM523 261l3 1 1 10-1 1-7-6zM159 369l2 1-4 13-5 2-2-6z"/><path fill="#3b4fd0" d="M406 207l2-6 12-9 14 3 5 9 0 8-4 7-6 4-9 1-6-3-6-9zM331 501l6-8 11-5 5 1 5 4 4 10-1 9-9 12-1 0-14-4-8-10zM143 546l9-12 15 1 9 9-1 12-4 6-6 4-5 1-12-4-4-8zM796 632l10-11 13 2 9 7 2 6-1 14 0 2-16 5-7-2-5-3-4-5zM-4 152l3-9 5-3 14 0 1 1 6 9 1 10-6 9-11 4-4-1-9-11zM872 65l12-11 7 1 9 4 4 8-1 10-11 11-11-4-9-11zM6 238l7-4 6 0 8 4 4 6 0 2-5 13-15 5-2 0-9-13 0-3zM106 473l7-7 12 3 9 6-1 12-14 9-4-1-10-11zM791 699l12-6 7-1 4 2 6 15-6 10-9 5-9-4-7-11zM283 152l11-8 10 0 10 11-2 11-9 7-10 0-11-10zM197 248l14-8 1 0 14 10 0 5-7 13-5 1-12-5-5-8zM609 383l4-7 8-3 6 2 7 5 1 10-4 4-8 3-8-1-3-1-4-7zM642 517l3-6 8 1 12 6 2 5-5 10-9 5-4-1-6-8zM542 622l8-9 13 2 7 12-9 10-10 1-8-2zM212 367l6-11 12 1 6 8-4 13-12 2-6-5zM661 369l0-2 9-8 4 0 12 4 1 2 2 6-10 10-8 1-2 0-8-10zM718 398l4-7 12-5 10 5 1 1 0 15-1 2-7 5-8 0-8-4-1-1zM522 485l8-4 8 2 4 7-1 8-5 5-9 1-11-8zM703 249l1-1 6-2 16 7 2 7-5 8-15 5-5-1-4-12zM427 281l4-7 8-4 11 2 0 1 2 10-3 7-11 5-10-9zM692 504l3-4 13-3 6 3 4 7-5 14-8 3-9-2-4-8zM326 524l11-4 14 4-2 17-7 5-13-2-4-8zM826 176l2-9 9-1 11 5 1 3-3 12-10 3-6-3zM588 462l10-4 9 2 2 5 0 10-12 9-7-5-3-8zM893 381l6-13 14 4 6 8-3 10-11 5-3 0-6-5zM471 515l3-3 11 1 7 7-4 11-7 4-6 0-8-7 0-3zM511 648l9-10 14 13-8 10-12 0-3-4zM508 44l6-4 9 2 7 11-7 10-2 1-3 0-9-4zM876 247l7-7 13 8-1 12-5 5-8-1-8-8zM-20 131l8-9 10 0 6 8 0 10-5 3-8 0-7-4zM283 465l4-3 10 2 4 5-3 12-9 3-9-3-2-4 0-4zM880 363l8-3 9 3 2 5-6 13-13-1-5-6zM30 132l8-6 5 0 4 2 5 11-3 9-14 2-3-2-4-9zM353 633l8-8 11-2 1 1 4 9-3 10-6 3-9-2zM186 210l10-6 2 1 7 7 1 8-5 6-7 2-10-6zM626 559l6-9 9 0 7 7 1 7-8 8-8 0-4-3zM707 51l9-7 12 4 4 6-2 9-4 3-12 2-7-10zM564 56l5-10 14 2 6 4-9 15-6 2-9-5zM179 557l5-6 6-1 8 6 1 3-5 10-8 2-7-7zM231 618l6-6 13 0 0 1 3 10-3 8-11 3-9-8zM552 75l4-8 9-3 9 5 0 15-12 3-7-5zM684 305l1-1 3 0 11 8 1 7-7 9-14-1-1-7zM730 457l11-9 9 7 1 9-9 8-9-6zM576 171l9-11 12-1 4 6-3 16-6 3-9-1zM30 416l11 0 6 6 0 9-7 5-8 1-7-5-2-5zM464 413l12-6 9 10-3 10-4 3-12-2-4-6zM333 617l8-3 4 2 6 7 1 10-15 4-2 0-4-7zM480 137l8-6 11 1 1 16-12 6-8-8zM85 645l8-8 2-1 11 5-1 13-2 3-12 2-5-4zM535 91l2-2 7-1 7 8 0 12-10 6-10-9zM282 25l6-5 7-1 10 6 0 10-6 5-14-5zM178 246l1 0 17 2 1 0 0 8-7 9-4 2-12-5 0-1zM520 278l6-5 1-1 6 1 5 9-7 11-7 0-4-4zM572 495l16-1 4 10-6 11-7 1-10-11zM814 694l6-4 9 1 9 10 1 0-1 4-4 6-5 1-9-3zM182 476l7-8 7-2 3 1 7 12-1 5-9 5-15-6zM77 338l7-4 9 5 3 10-11 6-9-4-2-5zM253 98l5-4 11 1 5 12-2 4-13 2-6-3zM886 526l7-7 7-1 6 6 1 8-4 5-12 2-2-2zM722 488l4-1 8 6-1 13-15 1-4-7zM550 590l2-5 15-2 2 0 4 4-1 9-8 8-8-2zM739 668l6-1 11 9-2 10-10 5-1 0-11-10zM203 377l11-2 6 5-1 6-5 7-8 3-9-8zM863 231l7-4 4 1 9 12-7 7-8 1-9-6zM70 218l8-12 9 1 4 16-1 2-10 5-10-6zM623 690l5-8 8-2 9 8-4 10-8 3-8-5zM790 144l0-1 7-6 9 0 3 3 3 10-1 2-8 8-4 0zM-11 701l14-12 7 5 3 10-3 6-11 3zM782 77l7-4 6 3 3 11-6 7-13-4zM392 400l11-6 9 4 2 11-11 6-8-5zM4 359l8-7 10 7 1 11-9 6-8-3-2-3zM380 202l1-1 11 4 3 3-1 8-9 6-9-8zM176 0l14-8 2 2 5 13-6 7-10 0-6-7zM492 350l0-1 8-6 8 3 3 4-1 9-10 4-2-1zM382 266l7-9 2-1 9 14-1 3-7 6-5-2-5-5zM781 265l10-4 3 0 5 8 0 4-8 7-7-1-5-7zM-17 236l10-2 7 14 0 3-12 6-9-9zM868 515l8-3 4 1 3 4 0 8-8 6-6 0-3-4zM289 125l3-1 15 3 3 9-6 8-10 0-6-8zM779 633l3-3 14 2 1 15-12 6-4-1-2-4zM35 47l4-7 7-1 9 9-4 10-5 2-9-3zM905 48l8-1 9 6-2 9-6 6-10-1-4-8zM203 195l3-3 8 1 5 7-2 10-3 2-9 0-7-7zM252 432l11-3 9 8-3 9-10 5-7-8zM65 422l5 1 7 13-7 9-3 0-12-9zM818 113l4-6 11 0 1 0 1 2-2 13-6 4-2 0-5-5zM505 100l9 0 8 9-1 6-4 6-4 1-11-4-3-3zM777 577l6-5 5 0 9 5 1 1 2 10-5 5-14-1zM50 385l11-8 14 9-2 6-13 6-8-5zM326 595l4-2 13 7-2 14-8 3-6-2-5-8zM119 266l7-2 6 4 3 5-1 7-11 4-6-8zM183 23l10-4 10 5-3 9-8 4-6-1-3-4zM869 24l8-6 9 4 1 2-2 11-6 5-2 0-8-9zM476 299l10-9 2 0 9 10-1 5-10 6-6-2-3-3zM167 535l3-7 12-3 4 7-1 6-6 6-3 0zM505 378l6-2 12 6 0 9-4 4-13 0-2-2zM789 489l11-4 5 9 0 5-2 2-10 1-5-6zM697 39l4-9 9 1 6 5 0 8-9 7-4-2-6-8zM161 261l13 0 0 1-1 14-7 3-11-6zM212 660l12-3 5 3 0 15-7 4-12-9zM583 141l13-1 3 12-2 7-12 1-8-9zM0 43l8-7 7 1 5 4 1 4-2 7-7 5-7-3zM574 373l10-1 8 5-2 10-14 4-4-11zM533 69l7-3 1 0 8 9-5 13-7 1-7-11zM516 621l3-2 7-1 7 6-1 8-12 6-1-1zM647 617l6-10 10 3 3 6-3 10-8 2-6-4zM657 5l8-7 3 1 7 8-4 8-8 1zM253 372l15-8 8 8-4 8-12 3-7-5zM198 168l3-5 11 0 4 10 0 2-11 4-7-5zM678 663l5-4 11 0 4 9-5 8-12-3zM113 32l0-2 9-4 9 2 3 5-1 5-8 8-9-2zM713 475l4-5 8 0 1 1 3 6-3 10-4 1-8-5zM265 308l3-5 10 1 3 3-1 11-9 6-7-5zM498 531l1-2 11-1 3 1 3 7-3 6-9 2-5-5zM65 304l2-6 10-4 5 4-1 11-6 8-1 0zM351 524l1 0 10 3 7 9-1 1-5 6-8 1-6-3zM728 150l2-4 14 1 3 8-8 8-11-4zM649 537l4 1 6 8-1 6-10 5-7-7zM445 535l8-4 8 4 1 3-7 13-6-1-6-9zM747 496l10 3 0 13-15 4-4-7zM480 276l6-6 13 5 1 2-4 9-8 4-2 0-6-7zM170 230l10-4 5 10-6 10-1 0-8-7zM726 253l2-5 17-4 1 10-9 10-9-4zM829 650l12-8 10 4 0 2-6 13-14-5-2-4zM710 600l2-1 14 2 2 7-8 8-9-3zM751 631l12-8 5 5 1 7-4 6-14-4 0-5zM457 206l4-5 12 1 1 3-2 8-7 4-7-5zM227 495l5-6 3 0 10 9 1 10-3 4-11-3-5-7zM432 75l1 0 7-2 4 2 4 8-4 6-15-1 0-1zM92 514l0-1 10-6 6 3 3 7-8 8-10-6zM192 109l10-2 4 5-1 10-9 3-7-9zM303 655l5-3 6 2 5 9-3 8-3 1-10-3zM584 446l1-1 9 1 4 4 0 8-10 4-1-1-4-5zM712 576l1-1 10-4 5 12-2 6-8 0-7-6zM220 380l12-2 1 0 3 12-6 6-5-1-6-9zM906 465l5-4 4 1 6 6 0 7-5 4-10-1-1 0zM504 295l10-7 6 1 4 4-3 8-6 4-6-1zM101 195l3-1 8 4 1 8-9 5-7-6zM413 30l2-2 16 9 0 1-12 11-10-8zM841 583l6-2 10 2-2 15-1 1-6 0-8-3-1 0zM145 211l1 0 9 6-3 11-5 3-12-8zM879 40l6-5 13 3 2 6-9 11-7-1zM200 594l8 1 2 2 0 5-6 8-10-2-1-5zM500 657l11 0 3 4-1 5-4 5-11-2-1-1zM665 402l1-2 10-4 6 11-9 8-8-4zM452 42l8-7 6 2 3 10-5 7-9 2-3-2zM576 609l4-5 7-2 6 10-9 9-4 0zM39 310l5 0 5 3 5 9-1 5-9 4-7-6zM3 25l3-4 1-1 13 2 2 4-7 11-7-1zM477 583l10-11 11 13-4 4-10 1-5-2zM673 680l8-7 12 3 1 3-9 11-12-4zM124 399l10-9 7 2 1 14-4 4-12-6zM680 639l2-2 10 0 4 12-1 1-12 1-3-3zM114 207l11-6 5 3 2 3-2 8-10 3-3-1zM875 202l7-6 11 9-2 5-8 6-7-3zM455 56l9-2 6 4 2 5-2 7-8 1-7-8zM228 695l11-4 7 3 0 10-5 6-8-1zM160 164l3 1 8 12-8 4-12-5 0-1zM264 403l8-5 5 0 7 10-12 6-6-3zM783 509l7 0 5 7-6 8-8 0-4-6zM368 646l6-3 7 2 3 7-6 6-6 1-5-5zM785 415l8-5 5 4 1 10-4 3-12-2zM734 127l6-9 12 6 3 5-9 8-11-6zM118 436l5-4 8 3 3 8-5 4-7 1zM218 307l1-1 9-7 9 4-5 13-11-3zM803 160l8-8 11 4 4 10-14 3zM649 -12l9-3 4 3 3 10-8 7-3 0-6-8zM572 573l9-3 6 12-2 3-12 2-4-4zM457 18l4-5 10 1 3 2 1 10-3 2-11-3zM96 286l7-5 3 0 6 9-5 8-7 0-5-4zM206 673l4-3 12 9-10 8-4 0-4-4zM272 111l2-4 9-1 2 3 2 15-12 0-4-7zM721 618l13-4 3 12-9 8-6-6zM903 77l7 3 3 13-1 4-20-9zM854 299l3-4 11 2 1 4-8 10-6-4zM320 619l7-4 6 2-2 13-10 1-3-4zM904 234l7-6 6 2 2 8-5 5-6-1zM822 411l8-3 7 2 2 14-4 1-12-3zM22 657l2-3 3 0 8 5 2 6-10 8-3-2zM110 89l6-8 12 7-5 9-7 2-1 0zM-7 661l1-3 15 1 1 11-6 5-9-5zM800 444l6-1 9 7 1 4-11 7-11-7zM842 633l6-4 5 2 3 6-5 9-10-4-1-5zM97 625l5-5 10 5-6 16-11-5zM392 328l9-5 6 2 1 2-3 14-10-1-4-8zM181 450l1 0 13 3 1 13-7 2-7-8zM887 163l8 1 7 8 0 1 0 1-9 5-10-5zM377 680l2 0 9 9-1 6-2 1-6 2-12-8zM164 105l11 2 2 9-3 4-12 0-3-3zM460 132l9-6 6 2 3 8-9 4zM720 442l15-4 7 6-1 4-11 9-3 0-1-1zM107 555l4-4 8-1 8 7-1 7-6 5-7-1zM174 140l2-2 12 2 1 3-3 12-9-1zM319 103l3-6 8-1 5 10-6 4-7 0zM836 -4l4-8 7 1 4 8 0 3-10 5-1 0zM835 68l6-3 10 3 0 2-5 11-10 0-2-7zM314 155l1 0 10 2 5 8-3 5-11 0-4-4zM231 145l9-2 5 4-1 9-2 2-6 1-7-5zM193 388l1 0 3 0 9 8 0 2-6 7-13-3zM510 424l3-5 13-2-1 12-3 2-11-2zM419 654l8-2 6 11-8 4-10-6zM522 109l9-4 10 9 0 1-11 4-9-4zM581 249l13-1 1 0 1 12-6 4-11-7zM37 645l2-4 4-1 7 3 2 13-7 2-4-2zM857 688l9-3 1 0 5 5-5 9-5 1-6-8zM500 639l6-5 13 3 1 1-9 10-9-3zM134 248l10-2 3 12-2 4-8-1-4-5zM854 176l8-5 4 3 0 11-10-1zM126 632l5-3 9 2-1 13-3 2-11-3zM656 59l10 0 1 3-4 10-7 1-5-5zM280 272l12-4 5 9-10 8zM224 135l8-7 6 1 4 6-2 8-9 2-7-4zM195 453l3-2 10 4-1 8-8 4-3-1zM367 292l11-6 6 5-5 12-2 1-10-7zM716 556l5-5 1 0 7 6 0 9-6 3-9-5zM597 298l3-6 8-3 3 2 4 10-1 3-4 3-11-3zM466 274l6-3 8 5 0 7-8 4-7-3zM384 30l6-7 9 3 1 2 0 10-11 2zM333 192l2-5 11-2 2 15-11 4zM643 375l7-8 11 2 0 3-7 14-5-1zM100 298l7 0 4 6-7 9-10-4zM42 115l11-7 5 4 1 8-12 8-4-2zM387 59l2-3 8 1 8 10-11 5-5-4zM74 159l8-5 9 8-3 7-2 1-10-3zM373 624l8-5 12 7-5 11-2 0-9-4zM809 667l3-1 6 4-3 10-5 2-10-5zM103 525l8-8 8 3 1 11-12 3-4-6zM507 461l6 0 2 4 0 12-1 0-3 2-12-5 0-3zM783 370l9 7 0 6-8 4-5-5zM46 60l5-2 3 3 3 12-10 3-5-5zM737 358l4-4 11 7-4 12-11-1-2-4zM454 565l4-7 14 3 1 5-4 7-9 2-4-4zM307 107l5-5 7 1 3 7-3 6-6 1zM898 113l10-4 4 13-9 3-5-4zM629 643l2-1 7 2 3 6-8 7-6-5zM461 684l2-1 12 2-1 12-13 2-2-2zM-17 407l6-8 11 7-3 10-7 1zM242 49l9-4 7 3-2 7-10 6-3-4zM455 239l12-8 5 11-7 7-4-1zM866 538l0-1 3-6 6 0 8 8-5 7-4 0zM118 583l5-3 5 1 5 5-3 8-9 1-4-3zM619 -10l9-2 8 5 1 4-12 6-7-5zM908 296l14 3-4 13-12-2-1-3zM183 522l4-4 10 3 1 4-4 6-8 1-4-7zM230 396l6-6 4 1 4 10-5 5-7-4zM647 12l7-7 3 0 6 11-3 5-4 1zM197 329l2-1 13 2-2 10-4 2-7-2zM828 630l6-9 5 3 3 9-2 4-10-1zM705 490l2-4 7-3 8 5-8 12-6-3zM517 313l0-1 7-5 8 3-4 13-4 1-4-2zM778 215l2-1 9 9 0 2-12 7-2-1-1-6zM734 647l14-5 5 14-4 2-14-5zM377 418l5-2 6 12-3 7-7 2-5-8zM222 26l9-9 11 4-6 11-8 1-4-3zM24 102l3-4 12-3 4 8-7 8-1 0zM586 21l11-6 7 11-7 5-11-4zM362 527l8-7 5 4 1 5-7 7zM462 460l5-6 11 5 1 8-13 2zM103 588l2-5 3-2 10 2-1 9-7 4-5 0zM500 363l10-4 6 4-5 13-6 2-2-1zM468 110l7-8 4 1 4 10-5 3-8-1zM569 27l4-2 10 4-3 7-7 1-4-4zM108 403l9-6 7 2 2 5-5 8-9 1zM876 130l5-7 8 4 2 4-5 8-7-2zM774 150l4 1 3 11-10 6-6-3-1-5zM362 0l8-7 3 1 4 9-4 3-5 1-7-6zM296 424l3-6 4-1 6 5 0 11-4 3-4-1zM487 230l1-1 12 6-5 6-9 0zM425 349l11 6-9 11-8-8zM472 287l8-4 6 7-10 9-6-4zM869 130l7 0 3 7-5 6-9-2-1-2zM363 30l4-2 6 6-2 9-10 0-2-6zM138 410l4-4 10 2 2 9-9 5-4-1-3-4zM609 475l5 4-6 11-11-6zM888 420l8-7 7 5-2 11-5 3-6-4zM557 647l6-4 2 1 4 7-4 11-10-9zM700 578l4-4 8 2-1 7-7 4-1-1zM541 595l9-5 6 12-7 7-4-1zM18 488l1-2 3-2 10-2 1 8-6 6-4-1zM756 676l8-4 6 9-3 6-8 2-5-3zM543 676l8-4 4 1 2 5-1 7-3 2-10-2-2-1zM596 140l1-3 12 3 1 8-11 4zM108 166l9 9 0 4-8 5-8-7zM348 142l12-4 4 4-3 10-6 1-3-1zM358 305l9-8 10 7-8 9-10-4zM270 583l9-8 4 7-2 6-7 2zM216 423l1-2 11-4 5 12-7 5zM558 281l9-4 7 4-1 7-7 2zM124 542l11 2-4 11-4 2-8-7zM517 583l9 3 4 6-8 12-11-3 0-1zM769 635l10-2 0 15-12-2-2-5zM786 550l10 1-3 11-9 0-3-5zM381 645l5-8 2 0 7 13-6 4-5-2zM309 249l5-6 9 2 1 2-1 9-2 1-11-4zM247 251l8 13-1 1-15 0-1-1zM730 541l4 3 2 9-7 4-7-6zM704 587l7-4 7 6-6 10-2 1zM798 578l9-6 4-1 4 4-1 9-9 5-5-1zM906 524l5-5 5 1 6 8-3 5-12-1zM267 344l2-1 9 11-10 9-5-5zM475 685l1 0 12 3 0 1-1 7-11 2-2-1zM485 478l6 2 0 8-8 4-6-4-1-2zM865 552l3 1 8 11-14 2-4-5zM35 111l1 0 6 4 1 11-5 0-7-8zM289 65l10 1-5 11-10 0-1-2zM890 506l6 0 6 8-2 4-7 1-3-3zM847 158l6-5 8 1-1 12-10 0zM427 241l7-7 8 6-5 7-7 0zM735 131l11 6-2 10-14-1 0-2zM661 372l8 10-12 6-3-2zM533 624l6-3 3 1 1 14-2 1-9-5zM160 229l2-2 8 3 0 9-10 1zM352 152l3 1 0 10-8 5-7-6zM849 231l8-5 6 5-4 11-2 0-3 0zM374 46l12 0 3 10-2 3-15-2zM434 339l2 0 1 1 3 9-3 5-1 1-11-6zM723 571l0-2 6-3 7 3 3 5-2 5-9 4zM895 321l8-3 7 10-10 5-5-2zM745 603l7-1 2 2 1 6-11 4-3-2zM164 434l6 0 3 9-7 4-5-6zM615 159l10 1 2 6-8 6-8-7zM676 396l6-4 8 8-4 8-4-1zM822 671l7-5 6 5 0 7-2 1-9-3zM125 422l13-5 3 4-8 8-8-2zM76 644l9 1 1 10-7 2-5-3zM439 212l7 3-4 8-5-1-2-3zM23 102l1 0 11 9-4 7-5 1-6-3zM495 520l5-4 10 3 0 9-11 1zM335 91l8-10 5 13-1 4zM781 481l7-6 11 4 1 5 0 1-11 4-6-4zM119 335l3 0 9 4-5 8-5 2-5-6zM549 210l1-1 10 3 0 1-8 10-4 0-2-2zM102 451l1-1 16 2 0 4-6 9-10-10zM202 287l8-4 7 7-3 5-14-2zM101 562l4-6 2-1 6 13-5 3-6-2zM335 218l0-2 14 3 0 6-8 3zM150 353l12-7 4 10-8 5-7-6zM590 665l5-2 6 6-3 9-5 1-4-5zM560 161l6 0 8 10-11 5-5-7zM59 580l7-8 7 2 1 10-7 2-4-2zM303 173l9-7 4 4-2 11-7 0zM795 663l1-1 7 0 6 5-9 10-4 1zM405 227l9-6 6 3-4 9-7 1zM371 344l9-6 1 0 5 7-4 9-10-5zM404 652l10-5 5 7-4 7-5 2zM293 -16l1 0 9 6-7 13-1 0-8-9zM293 173l10 0 4 8-4 5-12-4zM851 648l9 10-10 8-3 0-2-5zM-11 635l12-9 5 4-5 12-4 1zM729 414l8 0 0 11-3 3-7-2-2-2zM822 602l9-2 4 10-4 5-1 0zM139 74l13-1-3 12-7 0zM391 370l12 0 0 12-2 2-7-1zM730 328l11-2 5 6-5 9-9-2zM272 414l12-6 1 0-2 12-7 2-4-3zM175 465l7-5 7 8-7 8zM734 493l9-2 1 0 3 5-9 13-5-3zM356 647l3-3 9 2-1 8-6 1zM840 298l2 0 12 1 1 8-11 2-2-2zM116 150l1 0 11 2-1 11-13-3zM63 29l7-5 7 9-3 6-6 1zM29 685l1-4 13 2-4 13-3 0zM211 155l9-5 3 5-2 7-9 1zM465 592l1 0 2-1 6 3 3 6-2 3-6 3zM836 371l7-2 4 12-9 2-4-4zM587 301l10-3 2 6-8 7-2 0zM686 141l6 3 1 6-6 4-6-4zM811 328l10-8 1 14-6 3zM263 525l4-4 10 2 0 6-8 4zM880 397l9 0 4 8-11 1zM247 280l7-4 4 3-3 10-4 1zM870 404l12 2-3 10-6 0-1-1zM94 26l8 1 1 5-6 7-5-7zM734 614l0-1 7-1 3 2 1 8-6 4-2 0zM555 281l1 0 2 0 8 9-5 8-4-1zM384 129l11-6 4 5-2 9-13-5zM14 430l9-3 2 5-4 7-7-1zM681 591l5 1 2 12-2 1-7-4zM499 494l11-4 6 6-1 2-16 4zM373 -6l6-4 6 1 2 5-6 8-4-1zM168 522l3-6 12 6-1 3-12 3zM60 398l13-6 0 9-10 6-3-4zM640 464l8 3-2 7-8 2-3-2-1-3zM533 273l5-4 5 1 2 9-7 3zM624 360l8 3 1 6-6 6-6-2zM-12 677l7-7 9 5-3 9-11-2zM368 202l12 0-4 12-4 2zM813 413l8-2 1 0 1 11-10 0zM361 612l1 0 10 11-11 2-3-4zM437 222l5 1 1 7-8 0-1-1zM-15 489l14-3 2 3-1 5-14 4zM455 63l7 8-5 5-8-4zM97 574l-1-1 6-4 6 2 0 10-3 2zM764 651l3-5 12 2 2 4-11 6zM791 332l2-5 9 3-2 9-2 1zM650 175l5-3 6 6-9 5-2-1zM760 84l6 6-4 6-11-5zM279 144l9-8 6 8-11 8-4-5zM720 379l2-1 10 2 2 6-12 5zM662 196l7-6 6 5 0 7-13 0zM677 269l7-3 5 9-12 2zM369 82l3-6 9 2-2 8-5 2zM311 411l2 0 1 9-5 2-6-5zM783 485l6 4-1 7-8 2-2-3zM491 22l7 5-6 9-8-8zM753 13l6-7 6 1 0 11-2 2-5 0zM-2 122l4-6 11 4 1 5-10 5zM90 276l7-2 6 7-7 5-7-4zM900 586l9-1 3 5-12 8-2 0zM853 324l11-5 2 1 1 11-12 3zM299 66l2 0 1 0 2 12-3 3-7-4zM502 118l11 4-12 7zM623 397l8-3 3 7-5 4-6-2zM159 588l9-3 2 7-6 6-3-1zM331 257l5-4 9 5-7 8-2 0zM370 518l7-5 7 5-9 6-5-4zM32 437l8-1 2 5-4 4-7-3zM315 525l10-2 1 1-1 12-7 0zM32 60l5-3 9 3-4 11-2 0-6-3zM288 624l2-1 3 0 4 11-9 0zM378 327l9-5 5 6-1 4-4 1zM173 373l9-5 2 1 1 3-5 8-4 1zM663 467l2-2 9 3-1 8-9-1zM680 206l8-2 6 6-10 7zM805 217l13 1-2 7-3 2-9-3zM639 160l10-1-7 13-6-6zM174 358l8 10-9 5-5-3zM290 220l2-2 8 2 1 5-8 4-1-1zM247 -2l8-4 4 7-11 4zM242 135l10 2-5 9-2 1-5-4zM898 235l4-1 2 0 4 8-8 6-3 0zM363 543l5-6 6 9-2 6-7-1zM514 446l6 0 2 7-8 5zM847 623l5-4 7 3-6 9-5-2zM417 0l1-2 8 5-4 5-4-1zM95 141l3 0 4 5-4 9-8-7zM771 168l10-6 6 4-6 12zM579 362l5 10-10 1-1-2zM404 1l8 2 1 6-5 5-3 0-1-1zM19 141l9-2 4 9-7 2zM509 671l4-5 7 5-2 6-2 1-7-4zM566 250l8-5 7 3 0 1-2 8-2 2zM65 7l12 1 1 9-6 3zM363 428l10 1 5 8-12 2zM-1 -11l3 5 0 2-6 6-11-5zM803 515l2-3 10 1 1 4-5 5zM293 506l5-1 2 8-6 0zM718 142l12 2 0 2-2 4-8 1-4-4zM837 410l2-1 8 1 1 4-9 10zM551 638l10-1 2 6-6 4zM538 386l8 0 0 8-9 0-1-1zM580 471l7 0 3 8-5 1zM760 446l9-1 1 0-1 8-11 2-1 0zM705 99l2-4 9-1 1 8-3 2-8-3zM545 356l8-4 5 10-3 2-11-5zM254 218l8-6 5 7-9 9zM698 237l6-3 6 10 0 2-6 2zM708 475l5 0 1 8-7 3zM622 634l8-4 3 2-2 10-2 1-7-6zM208 455l9-1-2 12-2 0-6-3zM524 12l6-1 2 4-3 5-7-2zM880 397l2 9-12-2zM583 487l5 6 0 1-16 1-1-2zM246 61l10-6 4 5-2 5-12-2zM591 518l3-1 6 5-4 7-6-3zM53 162l6 2 0 4-6 3-4-3zM51 601l12-3 1 1-4 10zM-4 333l9-3 0 8-4 3zM117 592l4 3-2 5-9-4zM683 651l12-1-1 9-11 0zM385 696l2-1 10 5-10 5zM261 70l6 0 1 1-2 9-9 1zM613 218l2 0-1 10-10 1-1-2zM422 164l4-5 8 8-11 0zM233 378l12 4-5 9-4-1zM823 422l12 3-7 7zM194 677l6 6-6 5-6-5zM896 278l11-5-3 14zM216 351l15-4 1 1-2 9-12-1zM474 205l14 4 0 1-11 7-5-4zM242 465l0-1 11-1 0 10-1 1zM640 581l2-4 8 4-4 7zM768 628l10-3 4 5-3 3-10 2zM-1 358l5 1 0 11-6-1zM212 163l9-1 1 6-6 5zM500 626l5-1 1 9-6 5-4-4zM436 437l13-1 1 0-9 11-5-2zM11 568l0-1 11 2 0 3-6 3zM461 699l13-2 2 1-2 9-11-5zM419 244l2-3 6 0 3 6-3 4-8-4zM704 11l1-1 10 3 0 3-4 4-4-1zM750 455l7 0 1 0-2 9-5 0zM707 298l5-4 10 5-1 4-14-4zM263 122l8-5 4 7-4 5zM643 217l10-2 3 13-14-3zM57 495l7-1 3 7-8 6zM190 354l4-2 6 3 0 8-9-3zM691 47l6-6 6 8-11 3zM842 523l12-3 2 3-3 5-9-1zM864 576l2 0 4 14-12-7zM223 519l8 9-4 6-9-4zM397 57l6-4 6 5-3 9-1 0zM577 447l7-1-1 10-10-1zM234 320l14-1-6 11-8-7zM399 185l6 1-1 8-7-1zM874 256l8 8-6 6-3 0zM366 249l8 8-1 3-8-4zM108 89l2 0 5 10-10 1-2-4zM277 620l9-5 4 8-2 1zM683 256l2-3 9 0 2 6-11 1zM263 416l3-5 6 3 0 5-4 1zM515 498l1-2 11 8-2 5-6 1zM894 222l1-1 3 1 4 12-4 1-5-2zM868 248l8-1-2 9-7-3zM543 347l2-1 8 3 0 3-8 4zM192 37l8-4 2 7-6 4zM303 595l10 1 0 9-10-3zM499 656l1 1-3 11-10-6zM270 512l2 0 5 11-10-2zM400 544l7-6 7 8-14-1zM430 65l8-1 2 9-7 2zM755 397l7 6-6 5-3-2zM107 321l3 3 1 1-9 8-2 0-2-5zM125 427l8 2-2 6-8-3zM691 582l9-4 3 8-11-1zM527 128l5-3 1 0 1 11-1 0zM498 669l11 2 0 3-9 5-3-3zM275 450l8-4-1 8-6 2zM22 26l9 5-11 10-5-4zM671 34l14 3 0 2 0 1-8 5zM535 185l9 0 1 4-9 2zM566 664l13 3 0 2-7 6zM541 210l8 0-3 11-7-4zM488 290l8-4 7 9-6 5zM780 530l3 3-5 9-4-6zM214 193l7-5 4 9-6 3zM885 290l5-2 4 4-4 6-2-1zM131 339l1 0 5 10-11-2zM160 567l5-1 5 5-3 5-5-1zM716 524l13 8 0 1-13 0z"/><path fill="#6fe06a" d="M166 340l1-5 13-12 5 0 12 6 2 11-2 8-3 4-4 2-14 0zM611 503l2-2 10-4 10 1 4 2 5 5 3 6-3 6-14 11-11-3-4-5zM135 327l10-6 10 0 6 5 6 9-1 5-4 6-12 7-13-4-5-10zM-25 605l11-5 12 4 3 2 3 10-3 10-12 9-2 0-12-6-6-11zM614 245l8-11 8-4 5 1 12 13-2 10-2 6-6 3-11 0-9-6zM230 -19l7-9 11-2 12 7 2 5-1 3-6 9-8 4-9-1-8-7zM831 505l3-4 8-4 10 0 7 5 1 1 0 7-6 10-12 3-7-3zM609 56l2-5 7-5 8 1 5 4 2 12-11 8-2 0-10-7zM811 545l5-7 10-2 1 0 7 5 1 7-4 10-8 3-8-2-5-6zM402 527l1-1 16-10 1 0 6 5 4 9-3 9-13 7-7-8zM656 73l7-1 9 3 5 6-2 10-12 5-11-7-1-5zM100 602l5-6 5 0 9 4 6 8 0 3-10 13-3 1-10-5-4-7zM174 120l3-4 12 0 7 9-8 15-12-2-4-10zM921 678l5-2 6 3 6 11-4 9-14 2-8-7 0-3zM441 447l9-11 2 1 11 5 4 12-5 6-12 2-7-6zM373 108l10-7 13 7 1 4-2 11-11 6-9-4-4-8zM170 434l7-9 1 0 16 3-1 11-11 11-9-7zM336 306l11-6 11 5 1 4-3 12-6 2-9-1-8-5zM78 91l7-4 10 10 2 10-1 3-13 4-5-1-7-8 1-1zM725 78l11-2 9 6 3 9-5 8-12 4-10-12zM209 626l9-3 9 5-2 14-2 2-10-1-8-7zM766 703l6-9 10-2 8 5 1 2-2 10-11 8-5-2zM-5 177l10-5 4 1 6 10 0 4-5 10-7 3-12-7-2-4zM389 654l6-4 9 2 6 11-3 7-17 1-3-5zM71 693l14-3 8 9 0 7-7 7-12-1-5-8zM367 64l3-6 2-1 15 2 2 9-7 9-1 1-9-2zM818 218l0-1 14-2 7 8 1 4-7 9-12-1-5-10zM267 59l2-2 15-5 5 13-6 10-15-4-1-1zM743 99l5-8 3 0 11 5 3 6-2 8-6 2-11-3zM397 146l2-3 15 1 2 2-2 13-7 5-8-2-4-8zM908 660l7-4 8 3 4 8-1 9-5 2-15-3-2-2 0-2zM239 443l13 0 7 8 0 6-6 6-11 1-7-7zM734 428l3-3 14-2 1 0 5 9-3 8-12 4-7-6zM625 621l1-8 2-2 13 1 6 5 2 7-9 8-7 0-3-2zM35 520l12-3 9 7 1 8-1 2-12 3-7-7zM332 667l4-4 5-3 6 1 5 8 1 3-6 7-8 1-7-7zM596 131l8-11 13 4 1 12-1 1-8 3-12-3zM577 85l10-8 5 1 6 6-4 11-5 3-8-5zM539 138l8-2 8 8-5 10-11 1-3-6zM98 677l8-10 14 1 4 9-5 8-6 3-8 0zM891 210l2-5 8-4 10 12-3 6-10 3-3-1zM808 470l13-8 5 2 5 10-7 8-8 1-5-3zM287 591l2-1 11 1 3 4 0 7-8 8-7 0-6-7zM428 463l15-7 7 6-3 13-4 4-14-9zM799 364l4-5 8-1 7 7 1 3-6 10-9-1-3-3zM274 167l8-4 11 10-2 9-5 5-1 0-13-9zM86 51l9-4 8 7-1 9-8 4-7-4zM123 -2l2-2 13-3 4 11-3 6-8 4-1 0-6-7zM907 635l6-5 5 1 4 6-2 10-5 3-9-3 0-1zM543 659l0-1 12-5 10 9 0 1-10 10-4-1zM677 81l7-2 11 4 2 5-4 9-1 1-12-1-5-6zM593 211l10-6 5 2 5 11-10 9-6-2-5-7zM608 271l2-1 14 3 1 1 0 7-14 10-3-2-1-2zM491 480l8-6 12 5-1 11-11 4-8-6zM744 614l11-4 9 7-1 6-12 8-6-9zM342 356l3-7 11 1 3 4-2 9-7 3-5-2zM92 473l8-3 6 3-1 11-5 2-9-1-1-3zM796 14l2-4 7-5 8 3 1 9-10 8-1 0zM373 34l7-5 4 1 5 10-3 6-12 0-3-3zM729 533l0-1 12-8 7 6 2 7-2 6-7 3-7-2-4-3zM311 700l1-4 2-2 12 0 3 11-12 5zM85 686l10-10 3 1 7 11-2 6-10 5-8-9zM866 659l4-2 9 2 2 2 1 5-4 10 0 1-2-1-10-6zM139 137l7-5 11 7-8 15-4 1-4-4zM887 24l8-2 5 3 3 5-5 8-13-3zM652 336l4-4 7 1 3 13-5 6-1 0-8-2zM739 266l14 1 2 7-6 9-4 2-8-8zM93 699l10-5 6 7-2 9-8 1-6-5zM355 153l6-1 9 6 1 7-7 3-5 0-4-5zM133 532l3-3 16 3 0 2-9 12-8-2zM165 13l10-6 6 7 1 8-7 3-7-1zM555 673l10-10 1 1 6 11-2 6-13-3zM500 447l10-3 4 2 0 12-1 3-6 0-6-3zM749 306l1-3 11-6 7 11-12 7-4-2zM758 455l11-2 3 7-2 6-10 3-4-5zM712 424l11-2 2 2 2 2-7 16-3 0-6-4zM467 372l5-7 4 0 7 10-9 9-3 0zM235 489l15-6 5 5-2 9-8 1zM435 412l5-2 5 2 4 11-1 3-14-1-2-2zM528 558l6-2 7 7-2 8-7 2-7-7zM544 185l3-8 5-1 8 6 1 6-4 5-5 1-7-5zM266 80l2-9 15 4 1 2-6 11-4 1zM727 284l4-5 6-2 8 8-1 1-10 7-3-1zM879 7l11-2 2 1-1 7-5 9-9-4zM119 649l6-6 11 3-2 9-11 3-4-7zM8 1l7-3 11 4-6 10-8-2-4-3zM602 -11l8-4 5 0 4 5-1 8-12 2zM366 439l12-2 0 14-10 0-5-5zM374 326l3 1 3 11-9 6-7-6 0-3zM127 74l1-1 11 0 0 1 3 11-6 4-7-1zM479 76l1 0 12 9-1 5-8 3-6-8zM652 350l8 2 1 15 0 2-11-2-2-4zM745 82l6-7 9 1 0 8-9 7-3 0zM592 184l6-3 8 6-5 9-10-2 0-1zM239 634l11-3 7 10-10 7-9-9zM491 701l10-4 1 1 2 13-7 0-6-4zM522 79l8-1 7 11-2 2-15-5zM274 495l5-3 7 4 0 5-10 3-1-1zM318 497l2-1 11 5-2 9-13-4zM399 613l1-5 15 2 2 5-9 8-3 0zM68 457l4 1 4 9-9 5-6-4zM269 95l5-6 4-1 8 11-3 7-9 1zM421 377l6-5 7 11-13 4zM120 218l10-3 5 8-9 8-1 0-5-5zM115 8l9-1 6 7-10 7-9-2zM859 283l4-1 8 8-3 7-11-2-2-5zM301 81l3-3 9 4 0 3-6 5-4 1zM342 546l7-5 6 3 2 7-9 8-7-9zM625 274l12-3 6 6-2 5-12 2-4-3zM199 467l8-4 6 3-1 9-6 4zM780 498l8-2 5 6-3 7-7 0zM77 436l6 1 2 10-10 4-5-6zM653 538l9-5 7 6-3 6-7 1zM773 257l1-2 9-4 8 10-10 4zM397 457l2-5 7-2 5 10-8 7zM319 663l7-2 6 6 0 6-9 4-7-6zM268 464l0-1 8-6 7 8-5 8zM136 522l9-3 7 9 0 4-16-3zM858 35l0-1 11-3 8 9-14 6-1-1zM844 322l9 2 2 10-3 3-9 0zM102 121l12 0 6 6-8 8-7-2zM183 594l11-7 6 7-7 9-8-3zM847 432l8 2-1 9-9 2-4-5zM424 478l5-8 14 9-1 3-11 6zM100 239l8-2 4 4-5 15-2 0-7-4zM128 102l6 1 1 12-7 1-6-5zM546 386l8-3 4 11-9 3-3-3zM533 236l10 0 3 4-7 10-8-7zM414 647l4-6 11 4 1 3-3 4-8 2zM596 275l12-4-1 16-12-8zM576 688l15-6-4 18zM476 365l5-6 10 6-3 9-5 1zM265 495l9 0 1 8-8 2-5-5zM701 467l1-4 11-3 4 10-4 5-5 0zM32 482l1-1 11-4 4 15-1 1-8 1-6-4zM800 485l0-1 11-4 5 3-1 6-10 5zM485 417l10 1-4 12-9-3zM48 672l9-1 2 3-3 11-12-2zM764 617l1-1 12 3 1 6-10 3-5-5zM574 69l6-2 7 10-10 8-3-1zM339 680l8-1 4 7-10 8-3-4zM784 387l8-4 5 2 0 6-7 4-5-3zM332 347l12 2 1 0-3 7-8 3-5-5zM862 566l14-2 1 0-11 12-2 0zM242 524l3-6 13 7-7 9zM598 84l4-1 9 4-7 13-10-5zM770 389l9-7 5 5 1 5-9 2zM674 127l2-6 8-1-3 13-1 0zM249 191l0-4 10-1 5 6 0 4-8 2zM33 555l8 3-1 9-9 3-3-4zM379 698l6-2 2 9-2 4-6 0-3-5zM585 480l5-1 7 5-9 9-5-6zM263 672l11-6 1 1 3 8-4 4-11-5zM205 212l9 0-3 9-5-1zM574 281l6-2 5 5-5 8-7-4zM130 14l1 0 0 14-9-2-2-5zM653 457l8-2 4 10-2 2-12-2zM159 509l9-2 2 1 1 8-3 6-7-1zM305 25l2-2 13 4 1 2-2 7-3 2-11-3zM226 406l6-4 7 4 1 3-12 8zM827 126l6-4 8 3 1 5-8 8zM378 658l6-6 5 2-2 12-6-2zM13 222l0-1 5-1 4 6-3 8-6 0zM255 488l5-1 5 8-3 5-7 0-2-3zM609 140l8-3 2 7-6 6-3-2zM332 318l1-1 8 5 0 11-6 0-5-5zM257 346l10-2-4 14-4 0-3-4zM1 342l0-1 4-3 7 2-1 10zM251 536l8 7-3 7-10-4zM546 415l5-3 0 14-4 0-2-2zM359 2l2-1 7 6-2 8-9 0zM321 549l7-3 4 6-6 8zM898 159l8 0-4 13-7-8zM667 523l1 0 8 13-7 3-7-6zM281 199l1-1 9 3-3 10-4 0zM509 304l6 1 2 7 0 1-11 0-1-4zM359 168l5 0 2 6-5 4-4-5zM89 489l2-4 9 1-2 11-6-1zM891 131l8 4-3 5-8 2-2-3zM515 305l6-4 3 6-7 5zM530 11l2-3 6-1 3 10-2 1-7-3zM151 92l1-3 10-2 4 6-4 7zM811 437l8 4-4 9-9-7zM133 60l6 3 0 10-11 0zM-7 234l2-1 11 5-6 10zM888 505l2 1 0 10-7 1-3-4zM835 548l7 4-3 7-6 0-2-1zM806 655l7 2-1 9-3 1-6-5zM647 244l4-1 5 5-2 5-9 1zM329 110l6-4 2 0 3 8 0 1-9 3zM902 174l0-1 15 4 0 5-10 2zM201 155l10 0 1 8-11 0zM260 383l12-3 1 7-5 4-5-1zM258 308l7 0-1 11-8-2zM113 688l6-3 3 10-1 1-5 0zM597 117l6 3 1 0-8 11-6-6zM514 544l5 2 2 7-8 3zM488 531l2 2-2 6-6-1-1-3zM110 19l1 0 9 2 2 5-9 4zM175 556l4 1 0 7-4 2-4-4zM346 430l3 1-1 13-3 1-8-6zM899 661l5-3 4 2-4 11zM270 219l10-3 2 3-4 5zM739 588l7 5-3 3-10-4zM491 431l6 5-6 9-3 0-2-2zM630 593l8 6-8 4zM609 112l11 5 0 2-3 5-13-4-1 0zM320 56l8-3 3 3-6 7-5-5zM543 437l4 1 2 8-2 1-5-3zM429 223l6-4 2 3-3 7zM685 40l0-1 12 0 0 2-6 6zM420 516l9-6 4 7-7 4zM276 422l7-2 2 4-4 5zM239 594l3 4-6 6-6-5zM684 441l4-5 7 6-4 6zM484 590l10-1-6 10-1 0zM299 250l10-1 1 4-5 5-6-4zM361 268l7 1 1 5-11 7zM106 641l13 8 0 2-14 3zM734 544l7 2 1 6-3 1-3 0zM248 114l5-4 6 3 1 9-3 2-10-7zM357 52l13 6-3 6-8-1zM627 375l6-6 5 6-4 5zM352 633l1 0 6 11-3 3-5 0zM883 693l7 1 0 2-4 9-5-1z"/><path fill="#5ab8e8" d="M348 559l9-8 8 0 7 1 5 5 2 8-8 13-4 2-11-1-7-5-2-6zM46 184l7-3 10 1 7 6 2 14-9 9-11 3-9-6-3-10zM427 366l9-11 1-1 13 1 3 2 5 8 1 5-4 11-4 3-14 1-3-2-7-11zM720 230l6-8 12 1 8 7 0 12-1 2-17 4-8-11zM559 536l9-8 10 0 6 4 3 5 0 6-6 9-12 2-10-11zM-16 502l2-4 14-4 7 7 0 11-7 7-13-6zM32 388l4-4 8-2 6 3 2 8-4 7-7 4-5-2-5-7zM533 460l10-5 9 4 4 8-1 3-6 6-7 1-10-9zM462 668l6-6 14-1 1 1 1 15-8 8-1 0-12-2zM227 534l4-6 11-4 9 10 0 2-5 10-3 2-15-6zM205 484l1-5 6-4 10-1 6 4 4 11-5 6-15 0-3-2zM499 502l16-4 4 12-5 8-4 1-10-3zM187 182l11-8 7 5 1 13-3 3-9 2-10-6zM429 88l15 1 4 8-5 11-4 1-15-5zM456 499l7-3 10 4 1 1 0 11-3 3-12 1-5-8zM129 379l3-5 12-2 6 7 2 6-2 2-9 5-7-2zM376 186l1-1 12-9 1 0 9 9-2 8-5 4-10 1zM369 313l8-9 2-1 7 6 3 8-2 5-9 5-1 0-3-1-4-4zM200 293l14 2 5 11-1 1-14 6-1 0-4-3zM833 236l7-9 9 4 5 11-9 7-8-1-4-5zM223 516l9-7 11 3 2 6-3 6-11 4-8-9zM72 491l7-4 10 2 3 7-5 9-6 2-8-6zM795 593l5-5 5 1 12 10 0 1-12 12-11-10zM729 477l14-2 0 16-9 2-8-6zM140 308l8-8 8 6 1 12-2 3-10 0-5-6zM558 111l5-5 12 0 1 1 1 13-9 4-9-3zM48 245l3-2 10 9-1 11-3 3-13-2-4-6 0-1zM740 214l7-7 9 6 2 7-2 5-10 5-8-7zM54 61l10-5 4 0 6 14-8 5-8-2-1 0zM134 697l3-4 10-1 4 3 1 11-11 5-8-10zM749 658l4-2 2 0 10 9-1 7-8 4-11-9zM286 496l5-4 11 0 0 9-4 4-5 1-7-5zM243 68l3-5 12 2 3 5-4 11-2 0-7 0-3-2zM104 364l13 0 3 15-5 4-12-4-4-5zM271 324l9-6 9 4 1 2 0 6-6 9-12-2zM367 580l4-2 8 2 5 5-7 14-7 0-5-5zM778 151l12-7 9 16-12 6-6-4zM421 679l4-2 9 3 1 16-15 1-4-4zM229 213l6-9 4 0 6 4 2 9-6 9-1 0-6-4zM29 78l11-7 2 0 5 5 1 8-9 7-9-7zM765 266l2-8 6-1 8 8-2 7-10 3-1-1zM483 328l5-3 10 3-1 10-9 3-3-2zM612 668l12 6 0 4-6 7-7-1-5-5zM816 337l6-3 9 6-5 10-13-2 0-6zM182 192l2-1 10 6 2 7-10 6-8-5-2-5zM867 186l11-8 6 12-2 5-13-3zM478 340l7-1 3 2 4 8 0 1-10 7-9-8zM592 377l5-2 12 8-1 5-14 6 0-1-4-6zM690 55l2-3 11-3 4 2 0 7-5 6-8 0-2-2zM614 304l1-3 14 0 3 5-3 11-9-1zM323 483l6 1 8 9-6 8-11-5zM104 441l9-6 5 1 4 12-3 4-16-2zM559 313l6-8 6 1 8 12 0 1-14 4zM79 657l7-2 5 4-2 10-13-1zM744 286l1-1 4-2 13 7-1 7-11 6-6-4zM382 567l8 1 6 9-3 7-9 1-5-5zM448 426l1-3 2-1 11 0 4 6-2 3-12 6-2-1-1 0zM819 368l8 2 3 8-7 5-7-1-3-4zM765 49l8 1 4 11-4 4-10-2-4-4zM179 690l2-6 7-1 6 5 1 6-3 4-9-1zM448 97l10 0 2 10-5 7-7 0-5-6zM818 178l8-2 4 10-8 6-10-7zM269 343l3-6 12 2 2 2-5 13-3 0zM662 412l3-1 8 4 2 9-14 2-3-6zM434 425l14 1 1 10-13 1-3-4zM381 139l3-7 13 5 2 6-2 3-13-2zM521 64l2-1 10 6-3 9-8 1-3-4zM756 195l3 1 6 9 0 2-9 6-9-6 0-1zM-12 260l0-3 12-6 9 13-12 5zM387 533l2-2 6 0 5 13 0 1-4 4-4-1-6-7zM345 616l10-7 6 3-3 9-7 2zM219 200l6-3 10 7-6 9-2 1-10-4zM371 666l10-2 6 2 3 5-11 9-2 0zM819 62l8-1 8 7-1 6-13 3zM248 36l3-4 9 2 4 8-2 4-4 2-7-3zM486 52l7-9 6 2 1 14-14 0zM685 690l9-11 10 11-3 6-14 0zM329 121l2-3 9-3 3 5-2 7-10 1zM523 382l7-5 8 9-2 7-13-2zM713 460l1-2 12-2 1 1-2 13-8 0zM380 453l6 1 5 5-1 6-9 4-7-5zM449 490l10-7 5 3-1 10-7 3-7-4zM-7 31l3-5 7-1 5 11-8 7-3 0zM429 617l11-5 2 14-5 4-9-6zM845 249l9-7 3 0 2 12-3 2-10-1zM751 464l5 0 4 5-2 6-5 3-10-3-1-3zM865 378l3-4 7 0 5 6-4 9-7 0zM813 97l7 2 2 8-4 6-9-2-4-5zM430 323l2 0 7 6-3 10-2 0-9-8zM-14 595l4-5 9 5-1 9-12-4zM139 63l10-3 4 8-1 5-13 1 0-1zM280 481l9 3 2 8-5 4-7-4zM517 121l4-6 9 4 2 6-5 3zM326 694l1-2 11-2 3 4 0 7-12 4zM329 484l8-8 11 12-11 5zM278 224l4-5 8 1 2 8-10 4zM316 170l11 0 0 8-9 5-4-2zM561 637l9-10 5 15-10 2-2-1zM162 614l0-1 6-5 9 3-2 9-8 1zM780 592l1 0 14 1-1 9-11 2zM893 580l7 6-2 12-11-8zM638 476l8-2 4 8-3 5-3 0-5-4zM824 10l7 1 0 12-5 2-3 0-3-6zM602 541l6 0 4 6-1 9-14-6zM226 255l12 9 1 1-4 7-7 3-9-7zM681 626l2-2 9 1 3 4-3 8-10 0zM105 688l8 0 3 8-7 5-6-7zM652 399l5-8 9 9-1 2-7 2zM47 422l17-2 1 2-10 14-3 0-5-5zM-2 11l1 1 7 9-3 4-7 1-8-5 0-1zM183 697l9 1 1 3-6 11-3-1-4-3zM506 395l13 0-3 12-3 0-5-2zM194 293l6 0-1 17-5 0-7-8zM403 370l3-2 8 9-1 3-10 2zM306 385l11 2-3 10-3 2-11-7zM568 345l10-1 3 9-2 5-10-3zM324 247l11-2 1 8-5 4-8-1zM757 432l7 0 5 13-9 1-6-6zM290 330l7 3 1 5-12 3-2-2zM172 -11l15-2 3 5-14 8zM585 585l2-3 13 2-5 13-4 0zM95 375l4-1 4 5 0 7-5 5-9-7zM466 621l5-4 7 2-1 15-9-2-3-5zM259 113l13-2-1 6-8 5-3 0zM231 555l9-1 4 8-11 6-3-2zM633 632l7 0 3 6-5 6-7-2zM159 41l5 0 5 11-12-2zM710 246l0-2 10-7 8 11-2 5zM532 15l7 3-5 8-5-6zM334 359l8-3 3 8-8 3-3-3zM199 340l7 2 1 7-1 1-9-2zM372 216l4-2 9 8-1 4-9 1zM311 399l3-2 6 8-7 6-2 0zM608 541l6-6 6 6-8 6zM260 60l7-1 0 11-6 0-3-5zM231 51l11-3 0 1 1 8-10-1zM285 109l8 2-1 13-3 1-2-1zM245 498l8-1 2 3-9 8zM484 677l4 3 0 8-12-3zM166 447l7-4 9 7-1 0-9 5-6-2zM138 -7l2 0 9 4 0 6-7 1zM882 666l7 1 2 9-13 0zM653 436l8-8 3 14-3 3zM2 -6l11-3 2 7-7 3-6-5zM160 305l6-6 6 7-2 6-2 0zM155 217l5 0 2 10-2 2-8-1zM821 78l0-1 13-3 2 7-4 5zM176 381l4-1 6 7-8 5-5-5zM168 389l5-2 5 5 1 4-5 3-4-1zM644 487l3 0 2 3-7 15-5-5zM374 546l8-1 3 5-8 7-5-5zM179 628l14 0 1 3-9 5-6-4zM-11 399l0-2 15 3-4 6zM561 572l7-4 4 5-3 10-2 0zM492 520l3 0 4 9-1 2-8 2-2-2zM416 146l7 3 0 5-5 6-4-1zM587 461l1 1-1 9-7 0-2-1zM216 546l11-2 0 6-10 3zM289 322l9-7 8 8-4 3-12-2zM-12 566l8-4 2 5-7 6zM789 225l0-2 6-2 5 6-2 4zM368 7l5-1 0 10-2 2-5-3zM259 186l8-4-3 10zM382 545l4-4 6 7-7 2z"/><path fill="#4a66dc" d="M193 439l1-11 3-3 19-2 10 11 0 8-8 11-1 1-9 1-10-4zM451 173l6-6 9-3 8 2 7 9-1 12-8 7-12 1-4-2-6-11zM242 330l6-11 2-1 6-1 8 2 7 5 1 13-3 6-2 1-10 2-11-1-5-11zM629 13l10-3 8 2 9 10-1 14-13 10-14-4-8-13zM581 565l4-9 10-6 2 0 14 6 1 2 2 11-2 7-3 4-9 4-13-2-6-12zM41 558l6-5 7-2 10 5 3 9-1 7-7 8-7 0-6-2-6-11zM286 288l1-3 10-8 6-2 2 0 9 4 3 5 3 8-3 5-9 8-10 1-4-2zM439 602l9-13 5-1 12 4 4 14-1 3-7 6-9 1-12-5zM293 229l8-4 5 0 7 5 2 9-1 4-5 6-10 1-8-6-1-6zM222 288l6-13 7-3 12 8 4 10-5 7-8 6-1 0-9-4zM853 463l9-11 5-1 3 1 11 11-2 11-13 4-10-4-3-4zM214 93l9-5 5 0 8 9 1 11-5 6-9 4-2 0-9-8-1-6zM908 109l4-11 16 1 8 8-1 12-11 5-9-1-3-1zM698 386l5-10 6-2 11 5 2 12-4 7-13 3-5-4zM173 55l9-8 12 1 5 5 2 10-7 9-10 0-7-4zM154 244l6-4 10-1 8 7-4 15-13 0-5-4zM843 369l4-8 7-2 11 5 1 2 2 8-3 4-13 6-5-3zM73 574l6-8 9-2 1 1 7 8 1 1-3 11-11 6-9-7zM824 146l1-2 8-3 10 7 2 10-8 8-9 1-2-1-4-10zM691 448l4-6 16-4 6 4-3 16-1 2-11 3-11-10zM855 204l2-4 10-3 8 5 1 11-8 8-9-1-5-6zM462 538l11 1 4 3 2 12-7 7-14-3-3-7zM692 637l3-8 10-2 7 5 4 11-5 6-15 0zM562 87l12-3 3 1 4 8-6 13-12 0-5-11zM-17 95l7-9 7 0 8 12-6 8-12 0-3-4zM307 13l13-7 1 1 4 4 1 9-6 7-13-4zM152 408l6-7 7 1 6 4 2 5-6 9-4 1-6-1-3-3zM315 216l8-5 10 1 2 4 0 2-3 12-8 2-8-4zM14 617l4-6 7-1 11 5 2 5-6 9-17 0zM759 527l3-8 15-1 4 6-1 6-6 6-10 0zM517 20l5-2 7 2 5 6 1 4-3 7-9 5-9-2-2-9zM693 328l7-9 15 5 3 9-2 8-7 1-10-2zM267 182l5-4 13 9-3 11-1 1-13 0-4-3 0-4zM49 313l7-8 9-1 9 13-8 7-12-2zM291 201l5-3 12 6 2 11-10 5-8-2-4-7zM61 611l10-2 4 2 3 12-2 5-10 2-10-5zM240 226l1 0 15 7 1 3-10 14-15-6 0-7zM112 625l3-1 1 1 10 7-1 11-6 6-13-8zM687 154l6-4 10 3 2 8-5 9-8 1-8-5zM-7 380l10 0 5 7-1 12-3 1-15-3-3-6zM601 165l10 0 8 7-1 14-12 1-8-6zM732 54l6-3 11 3 3 4-5 9-9 2-8-6zM860 84l2-6 10-5 9 11-6 15-5 2-8-7zM448 -14l4-7 11 1 3 4-3 15-1 0-14-9zM265 478l13-1 2 4-1 11-5 3-9 0-5-8zM76 628l10 1 7 8-8 8-9-1-2-4zM529 221l10-4 7 4 2 2-1 7-4 6-10 0-5-8zM534 26l5-8 2-1 10 3 2 12-1 1-11 2-6-5zM346 287l2-3 10-3 9 11 0 5-9 8-11-5zM765 7l7-6 8 2 3 13-8 6-10-4zM659 671l2-1 12 10 0 6-5 6-18-8 0-1zM681 166l3 0 8 5 1 11-4 5-14-9 0-1zM513 461l1-3 8-5 9 2 2 5-1 8-4 3-3 0-10-6zM42 372l4-5 7-2 7 3 2 6-1 3-11 8-6-3zM743 319l9-6 4 2 6 7 0 7-16 3-5-6zM33 697l3-1 3 0 7 6-4 13-11 1-3-10zM85 527l8-8 10 6 1 3-11 11-2 0zM164 41l4-6 6-1 2 1 6 6 0 6-9 8-2-1-2-2zM236 97l10-3 7 4 0 12-5 4-11-6zM673 67l8-5 6 3 1 6-4 8-7 2-5-6zM638 453l9-4 4 1 2 7-2 8-3 2-8-3-4-5zM184 280l2-3 11-1 2 1 3 10-2 6-6 0-10-5zM541 637l2-1 8 2 6 9-2 6-12 5-8-7zM407 670l3-7 5-2 10 6 0 10-4 2-12-4zM759 41l11-9 5 0 5 12-7 6-8-1zM615 409l3-4 5-2 6 2 5 8-5 7-14 0zM287 653l2-2 14 4 0 14-10 5-4-2-4-9zM405 575l1-2 4-4 10 0 6 8-2 5-5 5-9-2zM413 9l5-2 4 1 5 6-1 6-10 4-8-10zM403 593l2 0 12 5-2 12-15-2-1-2zM478 619l6-4 5 1 5 9-3 9-12 2-2-2zM223 584l9-1 8 6-1 5-9 5-4 0-3-3zM401 384l2-2 10-2 8 7-1 6-8 5-9-4zM823 383l7-5 4 1 4 4 1 7-3 3-8 1-5-2zM780 3l8-5 4 3 6 9-2 4-9 5-4-3zM597 507l14-4 2 17-13 2-6-5zM78 125l7-2 5 3-1 10-9 3-5-3zM302 492l2-1 6-1 8 7-2 9-5 2-9-7zM67 359l6 0 6 5-5 11-12-1-2-6zM877 594l10-4 11 8-7 9-1 1-11-4zM656 248l12-2 4 8-6 10-11-5-1-6zM845 445l9-2 8 9-9 11-9-5zM634 380l4-5 5 0 6 10-7 6-7-1zM399 273l1-3 13-6 2 2 1 12-6 5-1 0zM884 349l8-5 8 3 1 0 0 10-4 6-9-3zM819 49l10-5 6 7-8 10-8 1-2-2zM834 138l8-8 12 6-4 9-7 3-10-7zM136 646l3-2 10 3 1 3-4 12-1 1-11-8zM94 540l12 0 5 11-4 4-2 1-10-7zM253 404l7-3 4 2 2 8-3 5-8 2-2 0-2-3zM239 265l15 0 0 11-7 4-12-8zM466 -16l14 2 2 3-5 11-5 2-9-3zM675 278l2-1 12-2 4 2-2 9-10 6-3-2zM415 266l12-2 4 10-4 7-11-3zM50 149l12 0 4 7-7 8-6-2zM756 408l6-5 6 0 1 0 3 10-6 6-4-1-6-7zM508 73l4-1 7 3 3 4-2 7-2 1-14-4zM47 275l8-1 6 8-2 3-7 3-6-4zM414 546l13-7 6 8 0 2-9 5-8-3zM857 583l1 0 12 7 1 2-8 7-8-1zM851 388l1-4 13-6 4 11-6 8-5 0zM714 207l5-4 8 2 3 7-4 9-13-6zM141 392l9-5 7 9 1 5-6 7-10-2zM563 615l3-7 10 1 4 12-10 6zM678 -10l1 0 6 8-3 7-7 2-7-8zM755 274l8 3 1 10-2 3-13-7zM805 45l6-3 8 7-2 11-12 0-2-3zM31 31l1 0 7 9-4 7-6 1-8-3-1-4zM638 342l7-7 7 1 0 14-8 0zM184 496l11 1 1 10-9 3-6-5zM829 358l2-3 7-1 9 7-4 8-7 2-6-3zM815 559l8 2 4 9-1 2-11 3-4-4zM519 174l6-4 11 4-2 9-7 2-9-6zM230 -10l8 7-2 8-7 3-7-3zM106 281l11-5 6 8-3 6-8 0zM629 485l10-2 5 4-7 13-4-2zM145 155l4-1 11 10-9 11-10-9zM335 333l6 0 2 1 3 5-2 10-12-2-2-8zM286 99l12-1 4 7-9 6-8-2-2-3zM488 680l9-4 3 3 0 7-2 2-10 1 0-1zM632 669l2-5 13 2 0 1-2 9-8 1zM101 75l6-3 10 6-1 3-6 8-2 0-8-7zM443 554l6-4 6 1 3 7-4 7-7-1zM809 111l9 2 2 8-10 5-4-5zM661 352l5-6 7 1 3 4-2 8-4 0zM773 65l4-4 10-1 2 13-7 4-9-7zM612 617l14-4-1 8-6 4-7-3zM891 650l4-5 11 1 0 1-2 11-5 3-5-1-2-2zM405 186l4-2 11 8-12 9-4-7zM299 636l3 0 6 7 0 9-5 3-14-4 0-2zM278 -3l3-2 6-1 8 9-10 7-8-2zM133 38l1-5 16 1 0 1-7 12-2 0zM520 638l12-6 9 5-6 14-1 0zM343 600l6-4 1 1 5 12-10 7-4-2zM361 655l6-1 5 5-1 7-8 1-6-5zM881 278l11-2 2 2-4 10-5 2-5-3zM90 252l8 0 7 4-8 10-11-1zM4 616l10 1 1 12-1 1-8 0-5-4zM520 341l4-6 11-2-1 12-5 4-8-5zM712 131l6 11-2 5-10 1-3-6zM574 195l7-6 10 4 0 1-5 9-10-1-2-3zM757 112l6-2 5 9-6 10-7 0-3-5zM859 678l0-4 7-4 10 6-9 9-1 0zM566 456l7 0 1 13-3 1-10-5zM693 182l7-2 6 6 1 6-1 1-17-3 0-1 0-2zM358 342l6-4 7 6 1 5-13 5-3-4zM557 193l4-5 13 7 0 4-10 2zM891 308l2-2 12 1 1 3-3 8-8 3-7-8zM390 568l9-8 1 0 6 13-1 2-9 2zM65 175l8-2 7 8-10 7-7-6zM409 561l5-5 6 6 0 7-10 0zM434 195l5-6 10 7-2 6-8 2zM629 420l5-7 3-1 8 11-1 2-9 3zM245 208l10-3 7 7-8 6-7-1zM495 380l8-3 2 1-1 15-10 1zM111 325l-1-1 11-4 6 6-5 9-3 0zM742 18l11-5 5 7-10 9-5-5zM773 136l3-2 14 9 0 1-12 7-4-1zM632 137l2-4 14 1-4 8-11 1zM233 336l8-2 5 11-1 2-13 1-1-1zM899 135l2-2 11 7 0 4-11 3-5-7zM465 217l7-4 5 4 0 8-9 4zM315 571l10-8 6 6-3 10-12-1zM449 265l9-5 3 3-1 7-10 3 0-1zM313 596l4-3 9 2-4 12-8-1-1-1zM321 358l8-4 5 5 0 5-8 5-1 0zM248 81l7 0 3 13-5 4-7-4zM201 63l4 0 5 6-1 7-13 1-2-5zM150 650l8 1 2 6-11 7-3-2zM279 692l7 2 1 4-5 9-5-4zM586 437l7-4 5 4-4 9-9-1zM772 345l10-3 4 5-3 6-7 1zM559 449l7 7-5 9-5 2-4-8zM126 502l9-1 4 5-9 9-3 0zM162 346l4-6 10 14-2 3-8-1zM860 510l8 5-2 12-10-4-2-3zM200 405l6-7 8 7-3 7-10-1zM536 503l5-5 11 7-11 8zM57 48l10-7 5 11-4 4-4 0zM638 644l5-6 5 1 1 12-8-1zM153 68l13-1 1 3-5 8-10-5zM894 278l2 0 8 9 0 3-10 2-4-4zM92 461l5 1 3 8-8 3-5-5zM557 571l4 1 6 11-15 2 0-2zM743 475l10 3 1 7-10 6-1 0zM622 580l4-3 4 0 3 5-5 7-6-6zM5 330l3-4 9 6-5 8-7-2zM668 109l9 0 1 0-4 10-7 1-4-5zM119 600l2-5 9-1 2 10-7 4zM381 78l1-1 10 3 2 7-8 5-7-6zM438 295l11-5 6 7-3 4-7 2zM836 572l7-2 4 11-6 2-7-2zM168 312l2 0 2 4-11 10-6-5 2-3zM417 615l1 0 2 10-4 5-8-7zM588 342l6-4 5 2-1 7-9 1zM715 13l5-5 9 1 3 5-6 6-11-4zM645 254l9-1 1 6-5 7-7-6zM86 2l11-5 1 0 3 10-9 3zM518 179l9 6-4 8-13-5zM180 294l4-6 10 5-7 9-7-3zM31 246l9 11 0 1-11 4-3-3zM490 533l8-2 1 8-8 3-3-3zM590 526l6 3 0 5-9 3-3-5zM716 341l11 4 1 3-1 5-7 2-3-2zM188 158l10-4 3 1 0 8-3 5-10-8zM551 20l8-4 5 9-8 7-3 0zM335 -4l5-2 5 3-3 10-8-3zM142 191l4-3 8 4 1 6-6 3zM560 395l8-6 8 3-7 10-5 0zM598 450l6-2 5 3-2 9-9-2zM724 370l11-2 2 4-5 8-10-2zM64 494l6-4 2 1 1 10-6 0zM634 442l10 0 3 7-9 4-4-5zM360 389l6 4-2 11-12-5zM277 8l8 2 3 10-6 5-3-2zM836 208l9 3 1 1-7 11-7-8zM866 538l8 8-6 7-3-1-3-3zM444 644l10-4 3 2-7 14-5-2-2-3zM300 9l7 4 0 10-2 2-10-6zM805 589l9-5 5 6-2 9zM859 220l9 1 2 6-7 4-6-5zM413 318l6 2-1 8-10-1-1-2zM294 550l9-5 2 1-5 14-2 0zM610 307l4-3 6 12-7 4-3-2zM821 236l0-1 12 1 0 7-7 2zM634 97l13 0 1 3-4 7-10-6zM583 183l9 1-1 9-10-4zM173 411l3 1 2 13-1 0-10-5zM366 -12l4 5-8 7-3-5zM812 150l12-4-2 10-11-4zM469 140l9-4 2 1 0 9-9 3zM730 212l10 2-2 9-12-1 0-1zM135 544l8 2 1 9-13 0zM577 15l9 6 0 6-3 2-10-4zM869 192l13 3 0 1-7 6-8-5zM20 598l3 0 4 4-2 8-7 1-2-5zM83 411l5 1-3 9-10 0zM313 230l3-2 8 4-3 6-6 1zM53 171l6-3 6 7-2 7-10-1zM480 309l6 2-2 6-5 1zM546 573l5-6 6 4-5 12zM888 553l5-4 7 3-2 8zM268 391l5-4 7 4-3 7-5 0zM25 150l7-2 3 2-5 10-4 0zM95 192l6 3-4 10-8 1zM739 311l10-5 3 7-9 6zM565 509l4-4 10 11-1 1-9 1zM557 678l13 3-7 7-7-3zM849 174l5 2 2 8-5 4-5-2zM624 678l4 4-5 8-3-2-2-3zM194 376l5-2 4 3-6 11-3 0zM25 691l4-6 7 11-3 1-5-1zM374 464l7 5-5 12-7-6zM663 610l10-2 1 3-8 5zM868 403l2 1 2 11-12 0 0-2zM227 502l5 7-9 7-4-6zM56 524l5-4 7 4-11 8zM22 569l6-3 3 4-3 5-6-3zM845 112l8-7 4 2-4 12-4 0zM259 358l4 0 5 5 0 1-15 8-2-4zM721 0l6-1 2 10-9-1zM400 560l9 1 1 8-4 4zM165 566l6-4 4 4-1 3-4 2zM542 444l5 3-4 6-5-4zM612 576l10 4 0 3-13-3zM320 426l8 1 0 7-9-3zM335 218l6 10-5 5-4-3zM170 398l4 1-3 7-6-4zM650 482l8 1 0 5-9 2-2-3zM224 30l4 3-2 12-6-2zM28 696l5 1-5 9-6-5zM654 50l2-1 11 6-1 4-10 0zM102 500l10-2-4 12-6-3zM334 364l3 3-3 5-8-3zM341 51l7 3-2 6-9-4zM579 407l3-2 8 5 0 8-1 1-2 0zM116 81l1-3 10-4 2 14-1 0zM260 34l9-1 1 5-6 4zM321 7l12-3-2 7-6 0zM515 465l10 6-10 6zM264 298l4 5-3 5-7 0-1-3zM176 35l7-3 3 4-4 5zM477 600l10-1-6 7-6-3zM516 536l5 1-2 9-5-2-1-2zM699 340l10 2-6 4-3-2zM570 681l6 7-9 7-4-7z"/><path fill="#5b42c8" d="M245 9l3-4 11-4 8 0 10 7 2 15-10 10-9 1-9-2-8-11zM765 665l5-7 11-6 4 1 10 10 1 15-2 2-11 4-13-3-6-9zM-32 219l9-13 10-3 12 6 2 5 0 7-6 12-2 1-10 2-6-3zM150 473l9-12 12 2 4 2 7 11-1 7-2 3-14 6-5-1-6-6zM883 -10l6-11 12-4 10 11-1 10-9 10-9 0-2-1zM162 78l5-8 10-2 7 4 5 12-4 7-8 5-11-3-4-6zM338 266l7-8 5-2 6 4 5 8-3 13-10 3-8-9zM466 37l6-9 3-2 9 2 8 8 1 7-7 9-11-1-6-4zM591 682l2-3 5-1 8 1 5 5 2 7-1 9-9 7-16-7zM821 320l1-2 12-2 9 5 1 1-1 15-5 3-7 0-9-6zM465 249l7-7 13 0 4 7 0 9-4 7-12 0-6-4zM172 306l8-7 7 3 7 8-9 13-5 0-8-7-2-4zM59 507l8-6 6 0 8 6 1 6-5 10-9 1-7-4zM64 -6l6-6 9-1 5 3 1 12-8 6-12-1zM164 598l6-6 10-1 3 3 2 6-5 9-3 2-9-3zM777 232l12-7 9 6 2 10-15 3-6-5zM805 612l12-12 5 2 8 13-11 8-13-2zM377 557l8-7 7-2 4 1 3 11-9 8-8-1-3-2zM843 570l1-5 10-5 4 1 4 5 2 10-6 7-1 0-10-2zM819 304l7-7 8-1 6 2 2 9-8 9-12 2zM835 610l6-3 3 0 7 4 1 8-5 4-8 1-5-3-3-6zM165 492l14-6 5 10-3 9-11 3-2-1zM52 580l7 0 4 4 0 14-12 3-1 0-5-9zM423 167l11 0 2 1-1 14-11 1-6-8zM490 190l6-6 14 4-3 12-6 4-8 0zM386 92l8-5 8 3 3 7-1 2-8 9-13-7 0-2zM-15 -3l11 5 2 9-10 9-11-8 0-4zM526 438l9-7 7 4 1 2-1 7-4 5-6 2-7-9zM745 244l1-2 14-1 4 5 0 11-9 6-9-9zM573 587l12-2 6 12-4 5-7 2-8-8zM322 682l1-5 9-4 7 7-1 10-11 2zM533 53l8-6 9 1 2 2-2 12-9 4-1 0zM787 60l2-3 14 0 2 3-4 14-6 2-6-3zM368 537l1-1 7-7 11 4-1 8-4 4-8 1zM215 557l2-4 10-3 4 5-1 11-10 2zM794 30l9-5 1 0 8 8 0 6-1 3-6 3-10-6zM563 439l7-1 7 9-4 8 0 1-7 0-7-7zM43 333l1-2 9-4 5 4 2 6-4 6-11-1zM47 128l12-8 5 4 3 13-3 2-12 0zM804 192l8-7 10 7 2 7-8 6-9-3zM68 599l1-1 14-5 4 8-1 6-11 4-4-2zM316 38l3-2 10 5 2 5-3 7-8 3-6-6zM-3 461l6-5 8-1 3 2 1 5-5 10-5 1-8-6zM496 286l4-9 12 4 2 7-10 7-1 0zM871 290l9-3 5 3 3 7-3 5-9 4-7-5-1-4zM442 576l2-2 12-3 4 4-1 7-6 6-5 1-5-4zM-11 325l5-7 11-1 3 9-3 4-9 3-2 0-6-6zM613 643l9-6 7 6-2 9-13 1zM477 217l11-7 5 8-5 11-1 1-10-5zM754 394l5-7 10 2-1 14-6 0-7-6zM97 39l6-7 10 0 3 12-6 3-13-5zM163 672l6-7 8 0 1 15-10 2-5-3zM483 375l5-1 7 6-1 14-12 1-8-11zM747 67l5-9 7 1 4 4-1 11-2 2-9-1zM690 400l10-3 5 4 1 11-1 2-2 0-14-2-3-4zM340 585l9-11 7 5-1 14-5 4-1-1zM516 363l5 0 9 7 0 7-7 5-12-6zM420 128l1 0 8 6 2 6-8 9-7-3-2-2zM726 20l6-6 10 4 1 6-10 10-7-4zM221 697l6-3 1 1 5 14-1 1-12 2-4-2zM665 660l5-1 8 4 3 10-8 7-12-10zM509 256l6-4 4 1 4 8-4 6-5 2-8-3zM888 142l8-2 5 7-1 3-4 4-11-1-1-1zM891 539l12-2 4 10-1 2-6 3-7-3zM742 516l15-4 5 7-3 8-11 3-7-6zM350 597l5-4 10 1 5 5-8 13-1 0-6-3zM302 326l4-3 2 1 7 10-5 8-12-4-1-5zM669 187l6-9 14 9 0 2-14 6-6-5zM215 124l6-6 2 0 8 6 1 4-8 7zM561 362l8-7 10 3 0 4-6 9-6-1zM523 42l9-5 6 3 3 7-8 6-3 0zM391 256l5-5 15 5 2 8-13 6zM540 537l3-4 16 3 0 7-5 7-13-6zM163 165l11-6 5 6-4 10-3 2-1 0zM343 81l8-3 9 7-1 6-11 3zM543 270l8-5 6 6-1 10-1 0-10-2zM279 575l0-3 13-3 6 6 0 5-9 4-6-2zM558 494l12-2 1 1 1 2-3 10-4 4-11-5zM549 397l9-3 2 1 4 7-11 8-5-8zM681 292l10-6 7 9-10 9-3 0zM468 325l8 2-2 10-8 3-4-3zM617 703l8-7 8 5-1 7-2 2-10-1zM361 178l5-4 7-1 4 12-1 1-10 3-6-5zM125 611l6 8-2 6-13 0-1-1zM145 262l2-4 9-1 5 4-6 12-3 0-6-5zM668 246l7-5 8 2 2 10-2 3-11-2zM833 559l6 0 5 6-1 5-7 2-5-3zM279 23l3 2 3 10-4 6-11-3-1-5zM912 140l6-6 7 0 0 13-10 4-3-7zM467 386l4-2 3 0 8 11-6 8-12-7zM897 624l6-3 9 7 1 2-6 5-10-3zM746 230l10-5 7 9-3 7-14 1zM587 419l2 0 4 14-7 4-6-5zM856 474l10 4 1 8-5 3-8-3zM591 194l10 2 2 9-10 6-7-8zM321 631l10-1 4 7-11 7-4-5zM890 336l5-5 5 2 0 14-8-3zM29 228l7-3 5 3 1 3-6 11-5 2-4-6zM424 498l6 7-1 5-9 6-1 0-2-6zM667 55l8-4 5 5 1 6-8 5-6-5-1-3zM658 231l4 2 6 13-12 2-5-5zM698 295l9 3 0 1-8 13-11-8zM874 143l5-6 7 2 2 3-4 10-8-3zM505 625l3-5 8 1 3 16-13-3zM312 686l1-2 9-2 5 10-1 2-12 0zM675 195l14-6 0 1-1 14-8 2-5-4zM52 215l0-1 11-3 7 7 0 6-11 3zM557 297l4 1 4 7-6 8-5 0-8-7zM192 -6l12-2 5 7-9 8-3 0zM910 -4l7 3 1 4-10 9-7-6zM137 683l9-3 2 1-1 11-10 1zM712 632l10-4 6 6-1 7-11 2zM547 337l12-1 2 5-8 8-8-3zM19 130l5-2 6 4-2 7-9 2-1-1zM675 479l6 0 3 12-4 2-6-3zM220 56l8-6 3 1 2 5-5 9-7-2zM501 586l15-4 1 1-6 17zM597 375l9-7 7 8-4 7zM-5 529l5-6 11 11-9 6-7-8zM811 532l5 6-5 7-11-5zM42 344l3-2 11 1 1 5-8 7-7-6zM564 25l5 2 0 6-5 3-8-4zM862 423l7 1 5 9 0 2-2 1-14-3zM439 204l8-2 4 4-2 7-3 2-7-3zM648 557l10-5 5 4-3 8-6 2-5-2zM397 248l11-5 1 1 4 8-2 4-15-5zM753 478l5-3 8 9-2 7-10-6zM502 645l9 3 0 9-11 0-1-1zM381 405l11-5 3 10-12 4zM26 119l5-1 7 8-8 6-6-4zM205 229l7-6 8 6-8 11-1 0zM186 267l4-2 8 4-1 7-11 1zM9 595l4-3 7 6-4 8-8-4zM419 587l5-5 9 9-1 5-12 0zM557 271l6-3 4 2 0 7-9 4-2 0zM367 417l10 1-4 11-10-1-1 0zM161 597l3 1 4 10-6 5-7-7zM822 192l8-6 6 3-4 11-8-1zM427 14l6-4 6 8-8 5-5-3zM307 621l6-6 7 4-2 8-9-2zM482 -11l9 5 1 4-10 5-5-3zM881 338l9-2 2 8-8 5-2-1zM851 -3l7-4 5 7-7 4-5-4zM822 289l4 8-7 7-7-6zM700 210l6-7 8 4-1 8-4 3zM896 506l8-5 5 6-3 6-4 1zM64 599l4 0 3 10-10 2-1-2zM447 564l7 1 2 6-12 3zM29 48l6-1 2 10-5 3-5-2-1-1zM-9 193l12 7-4 9-12-6zM812 171l0-2 14-3 2 1-2 9-8 2zM729 682l3-1 11 10-11 3zM468 92l9-7 6 8-1 2-8 3zM485 242l1-1 9 0 0 8-6 0zM578 344l5-4 5 2 1 6-8 5zM410 585l9 2 1 9-3 2-12-5zM878 178l1-1 4-3 10 5 0 6-9 5zM556 125l3-4 9 3 1 9-3 2zM422 8l4-5 6 1 1 6-6 4zM155 21l10-8 3 11-3 2-10-1zM89 565l12-3 1 7-6 4zM120 127l4 8-8 5-3-2-1-3zM896 248l1 0 3 0 7 8-4 5-8-1zM569 518l9-1 0 11-10 0zM184 72l10 0 2 5-6 7-1 0zM336 266l2 0 2 9-10 2-1-1zM132 678l9-5 5 7-9 3zM471 650l3 0 8 11-14 1-2-4zM32 537l5-7 7 7-3 5-7 0zM133 256l4 5-5 7-6-4zM189 84l1 0 6 9-7 5-4-7zM199 277l10 0 1 6-8 4zM413 380l1-3 7 0 0 10zM208 45l9 0-1 8-9 1-1-1zM118 -2l5 0 1 9-9 1-1-1zM329 41l9-5 0 10-7 0zM773 608l5 1-1 10-12-3zM-7 60l3-3 5 1 0 11-3-1zM489 249l6 0 3 6-9 3zM708 551l3-5 10 5-5 5-5-1zM332 79l10 0 1 2-8 10-2 0zM518 64l3 0-2 11-7-3zM285 187l1 0 10 11-5 3-9-3zM226 442l1 0 0 12-9-1zM763 277l5-3 1 1 0 11-5 1zM7 501l8 4-2 7-6 0zM859 678l7 7-9 3-2-4zM103 379l12 4-1 3-11 0zM625 570l4-1 4 3-3 5-4 0zM69 90l9 1-6 13-6-9zM587 242l7 6-13 1 0-1zM555 144l3 1 1 15-9-6zM799 269l12-2 1 8-8 2-5-4zM612 395l-2 10-8 0-1-2zM785 295l5 7-3 4-5 0zM348 67l3 1 0 10-8 3-1-2zM694 253l9-4-4 11-3-1zM500 341l9-4 2 2-3 7-8-3zM428 63l2 2 3 10-1 0-9-5zM310 215l-4 10-5 0-1-5zM769 389l1 0 6 5-7 9-1 0zM543 685l10 2-3 10zM38 585l8-7 6 2-7 12-4-1z"/><path fill="#8ce6d6" d="M747 177l4-5 14-7 6 3 10 10 0 5-4 10-18 3-3-1-10-11zM5 317l1-2 5-8 10-6 13 4 5 5-2 15-5 5-15 2-9-6zM900 598l12-8 6 0 9 6 1 10-6 9-7 1-9-2-2-2zM866 320l11-8 11 1 7 8 0 10-5 5-9 2-11-3-3-4zM149 -3l5-8 7-3 11 2 0 1 4 11-1 7-10 6-12-3-4-7zM518 207l8-9 8 0 4 4 3 8-2 7-10 4-12-6zM-26 546l12-4 10 6 3 8-3 6-8 4-9 0-8-5 0-3zM885 100l7-12 20 9 0 1-4 11-10 4-8-2zM327 170l3-5 7-3 3 0 7 6 2 6-2 10-1 1-11 2-8-9zM657 38l11-5 2 1 1 0 6 11-2 6-8 4-11-6zM176 412l11-8 11 11-1 10-3 3-16-3zM57 266l3-3 9 1 7 5-3 11-12 2-6-8zM394 72l11-5 1 0 7 6 0 8-11 9-8-3-2-7zM386 46l3-6 11-2 6 4-3 11-6 4-8-1zM199 574l9-7 12 1 1 15-11 6-10-8zM283 446l1-2 3-2 8-1 7 7 2 7-7 9-10-2-5-8zM417 -10l4-7 14 3 3 8-6 10-6-1-8-5zM701 -3l1-1 14-2 5 6-1 8-5 5-10-3zM569 651l11-5 3 1 1 15-5 5-13-3-1-1 0-1zM763 563l9-10 9 4 3 5-1 10-6 5-1 0-12-8 0-1zM258 695l5-7 11-1 5 5-2 11-10 6-8-8zM571 470l3-1 4 1 2 1 5 9-2 7-12 6-1-1-5-12zM39 91l9-7 6 2 3 9-6 10-8-2-4-8zM98 -3l7-7 6-2 7 10-4 9-11 1-2-1zM890 265l5-5 8 1 6 10-2 2-11 5-2 0-2-2zM837 51l8-3 7 3 4 6-1 6-4 5-10-3zM683 243l5-8 10 2 6 11-1 1-9 4-9 0zM863 599l8-7 6 2 2 10-4 7-7 1-5-6zM109 184l8-5 8 2 3 6-5 9-9 0-5-7zM324 644l11-7 2 0 6 10-4 8-7 1-4 0-4-7zM492 36l6-9 4-2 10 6 2 9-6 4-9 1-6-2zM851 611l4-6 8 1 5 6-7 10-2 0-7-3zM442 120l6-6 7 0 4 5 0 13-5 2-11-5zM228 33l8-1 7 5-1 11-11 3-3-1-2-5zM763 582l2-2 11-3 1 0 4 15-1 0-14 4-1 0-2-3zM824 482l7-8 5 1 3 1 2 9-1 3-7 4-7-3zM657 388l12-6 2 0 5 14-10 4-9-9zM503 610l8-9 11 3 0 1-3 14-3 2-8-1zM677 45l8-5 6 7 1 5-2 3-10 1-5-5zM162 100l4-7 11 3 1 7-3 4-11-2zM83 240l10-5 7 4-2 13-8 0-8-7zM155 25l10 1 3 9-4 6-5 0-9-6 0-1zM802 330l9-2 5 9-3 5-13-3zM436 168l5-1 10 6-1 9-11 5-4-5zM192 611l2-3 10 2 1 2-1 9-9 3zM794 261l8-9 12 8-3 7-12 2zM237 303l1 0 9 5 3 10-2 1-14 1-2-4zM863 397l6-8 7 0 4 8-10 7-2-1zM100 486l5-2 10 11-3 3-10 2-4-3zM428 448l8-3 5 2 2 9-15 7-2-2zM544 88l11-6 7 5-4 8-7 1zM464 431l2-3 12 2 0 10-4 2-8-4zM819 590l11-2 4 8-3 4-9 2-5-2 0-1zM27 445l4-3 7 3-2 13-9-1-2-2zM251 680l8-1 4 9-5 7-10-2zM147 231l5-3 8 1 0 11-6 4-6-1zM874 352l8-4 2 1 4 11-8 3-3-2zM536 191l9-2 7 5-3 5-11 3-4-4zM705 414l1-2 14-3 1 1 2 12-11 2zM547 136l4-9 5-2 10 10-3 7-5 3-3-1zM834 581l7 2-2 13-5 0-4-8zM880 -11l3 1 7 15-11 2-6-6zM642 391l7-6 5 1 3 2 0 3-5 8-7 0zM789 -10l10-2 5 5-2 5-10 3-4-3zM365 406l14-2 2 1 2 9-1 2-5 2-10-1zM199 559l8 3 1 5-9 7-5-5zM781 426l2-1 12 2-2 10-10 3zM718 -15l5-2 8 5-4 11-6 1-5-6zM166 389l2 0 2 9-5 4-7-1-1-5zM601 618l3-4 8 3 0 5-8 3zM375 524l9-6 5 13-2 2-11-4zM14 376l9-6 5 5-3 6-9 1zM735 653l14 5-4 9-6 1-7-6zM613 691l7-3 3 2 2 6-8 7-5-3zM185 236l6 1 5 11-17-2zM792 1l10-3 3 7-7 5zM649 624l6 4-7 11-5-1-3-6zM622 190l9 2 4 13-1 0-13-3zM625 439l6-1 3 4 0 6-9 3-3-3zM165 26l3-2 7 1-1 9-6 1zM682 507l10-3 0 10-9-1zM794 565l5 5-2 7-9-5zM466 317l5-2 7 3-1 9-1 0-8-2zM513 529l5-5 9 2 1 6-7 5-5-1zM528 471l4-3 10 9-4 6-8-2zM844 30l7-5 6 4 1 5 0 1-10 1zM757 581l6 1 0 11-9-3zM559 703l8-5 8 10-3 4-11-2zM37 645l4 11-6 3-8-5zM126 310l0-1 14-1 0 7-6 2zM464 157l6-6 7 9-3 6-8-2zM608 207l11-2 2 10 0 1-6 2-2 0zM805 494l10-5 4 4 0 8-14-2zM175 25l7-3 1 1 0 9-7 3-2-1zM72 202l6 4-8 12-7-7zM822 402l6-1 3 1-1 6-8 3-1 0zM289 484l9-3 6 10-2 1-11 0zM458 365l8-6 6 6-5 7-8-2zM289 584l9-4 2 2 0 9-11-1zM147 491l7-6 6 6-9 9zM549 476l6-6 8 9-9 5zM901 147l11-3 3 7 0 2-8 4-7-7zM458 518l1-2 12-1-4 10zM65 338l4-3 8 3-3 8-7-2zM543 236l4-6 8 7-1 1-8 2zM772 460l10 3-5 8-7-5zM28 375l3 0 5 9-4 4-7-7zM549 75l3 0 3 7-11 6zM881 661l11-3 2 2-5 7-7-1zM532 451l6-2 5 4 0 2-10 5-2-5zM373 260l1-3 15 0-7 9zM477 306l3 3-1 9-1 0-7-3zM341 322l9 1-7 11-2-1zM150 387l2-2 5-2 9 6-9 7zM763 63l10 2 0 5-11 4zM416 551l8 3-4 8-6-6zM208 687l4 0 3 7-9 3-1-2zM151 609l4-3 7 7 0 1-9 2zM236 159l6-1-6 14zM535 30l6 5-3 5-6-3zM24 477l9 4-1 1-10 2zM194 197l9-2-5 10-2-1zM840 596l8 3-4 8-3 0zM179 632l6 4-3 7-8-5zM255 418l8-2 5 4-4 5zM764 569l12 8-11 3zM167 621l8-1 1 6-9 1zM364 168l7-3 4 3-2 5-7 1zM764 257l3 1-2 8-10-3zM227 214l2-1 5 9-9 2zM651 450l10-5 0 10-8 2zM898 598l2 0 4 14-13-5zM245 347l1-2 11 1-1 8-9-2z"/><path fill="#f8962e" d="M746 137l9-8 7 0 11 7 1 14-10 10-16-4-1-1-3-8zM731 -12l9-4 6 0 8 3 4 4 1 3 0 12-6 7-11 5-10-4-3-5-2-10zM423 154l0-5 8-9 8-1 8 4 4 13-10 11-5 1-2-1-8-8zM157 139l3-1 14 2 3 14-3 5-11 6-3-1-11-10zM457 76l5-5 8-1 9 6-2 9-9 7-7 0-6-9zM264 642l7-7 1 0 12 3 5 11 0 2-2 2-14 1zM851 646l5-9 10-4 9 4 1 9-6 11-4 2-6-1-9-10zM816 205l8-6 8 1 4 8-4 7-14 2zM712 131l1-1 7-6 14 3 1 4-5 13-12-2zM878 677l0-1 13 0 4 2 0 8-5 8-7-1-5-4zM689 190l17 3 0 10-6 7-6 0-6-6zM783 533l8-1 8 8-3 11-10-1-8-5 0-3zM609 358l13-1 2 3-3 13-8 3-7-8zM847 667l0-1 3 0 9 8 0 4-4 6-9 0-2-2-1-2zM102 146l6 0 8 4-2 10-6 5-10-7 0-3zM195 497l0-1 14-3 3 2-1 11-11 4-4-3zM567 698l0-3 9-7 11 12-12 8zM457 642l5-1 9 9-5 8-13 1-3-3zM192 541l4-3 13 3-4 10-7 5-8-6zM617 124l3-5 12 5 2 9-2 4-14-1zM591 311l8-7 11 3 0 11-9 5-2-1zM661 428l0-2 14-2 3 2-1 12-13 4zM128 152l2-2 11 1 4 4-4 11-12 1-2-4zM663 298l7-7 8-1 3 2 4 12-1 1-10 2zM418 462l8-1 2 2 1 7-5 8-11 0-1-4zM189 98l7-5 5 3 2 9-1 2-10 2-5-6zM644 425l1-2 13-3 3 6 0 2-8 8-3 0zM351 249l10-7 1 0 4 7-1 7-9 4-6-4zM798 414l9-5 6 4 0 9-5 4-9-2zM514 236l3-5 11-3 5 8-2 7-5 1-11-7zM573 456l0-1 10 1 4 5-9 9-4-1zM350 648l1-1 5 0 5 8-4 7-1 0-7-2zM229 660l12 1-1 15-11-1zM889 127l3-6 6 0 5 4-2 8-2 2-8-4zM401 291l8-8 1 0 5 9-9 9zM866 354l5-3 3 1 3 9-11 5-1-2zM748 530l11-3 5 9-3 3-11-2zM644 442l6-6 3 0 8 9-10 5-4-1zM790 395l7-4 6 9-9 4zM18 273l10-4 5 6-2 9-12-4zM598 -12l4 1 4 11-7 5-8-7zM784 279l7 1 1 5 0 2-8 4-4-4zM130 138l9-1 2 14-11-1zM217 45l3-2 6 2 2 5-8 6-4-3zM268 598l4-3 10 8-11 6zM130 364l4-2 10 4 1 3-1 3-12 2zM467 528l8 7-2 4-11-1-1-3zM28 407l8-5 5 2 0 12-11 0zM64 556l3-3 6 1 2 10-8 1zM816 483l8-1 2 7-7 4-4-4zM655 172l1-5 11 3 1 3-6 5-1 0zM817 395l6-3 5 2 0 7-6 1zM548 223l4 0 7 7-4 7-8-7zM418 615l11 2-1 7-8 1zM843 148l7-3 3 8-6 5-2 0zM667 62l6 5-1 8-9-3zM820 99l7-1 6 9-11 0zM673 630l8-4 1 11-2 2zM439 109l4-1 5 6-6 6-6-4zM282 232l10-4 1 1-3 9-8-3zM679 601l7 4-8 8-4-2-1-3zM728 48l6-6 4 9-6 3zM866 366l11-5 3 2-5 11-7 0zM879 604l11 4-4 10-11-7zM246 653l13 6-1 1-15 0zM52 393l8 5 0 5-12-3zM181 14l10 0 2 5-10 4-1-1zM475 535l6 0 1 3-5 4-4-3z"/><path fill="#b070dc" d="M646 588l4-7 8-5 7-1 8 3 5 7 3 6-2 10-6 7-10 2-10-3-7-6-1-2zM38 445l4-4 10-5 3 0 12 9 1 12-7 11-14 4-11-14zM698 75l6-5 10-2 10 9 1 1-4 13-5 3-9 1-10-7-2-5zM243 512l3-4 9-8 7 0 5 5 3 7-3 9-4 4-5 0-13-7zM420 697l15-1 7 6-2 14-15 4-10-12zM97 107l8-7 10-1 1 0 5 12-7 10-12 0-2-1-4-10zM41 404l7-4 12 3 3 4 1 13-17 2-6-6zM589 52l1 0 6 4 7 11-2 4-9 7-5-1-7-10zM123 658l11-3 11 8-4 10-9 5-8-1-4-9zM326 560l6-8 9-2 7 9-1 9-16 1-6-6zM370 599l7 0 3 3 3 12-2 5-8 5-1-1-10-11zM325 63l6-7 6 0 9 4 2 7-6 12-10 0-8-5zM486 311l10-6 9 4 1 4-2 13-6 2-10-3-4-8zM762 290l2-3 5-1 11 1 4 4 1 4-3 11-1 0-13 2-7-11zM628 88l1-4 12-7 10 7 1 5-5 8-13 0zM614 421l1-1 14 0 6 8-4 10-6 1-7-2-5-5zM693 277l10-5 5 1 7 10-3 11-5 4-9-3-7-9zM839 701l10-9 7 0 6 8-2 8-8 4-14-7zM2 69l11-6 5 2 5 10-5 8-5 2-10-5zM415 410l12-4 8 6-3 11-13 1-2-1zM109 701l7-5 5 0 7 8-2 6-9 7-2 0-8-7zM382 416l1-2 12-4 8 5 1 10-2 4-14-1zM23 586l7-4 8 3 3 6-4 11-10 0-4-4zM896 432l5-3 7 3 7 8 0 1-7 9-10-2-4-8zM832 86l4-5 10 0 4 5-2 10-9 1-7-5zM431 117l5-1 6 4 1 9-4 5-10 0-8-6zM166 279l7-3 11 4 0 8-4 6-14-2-1-1zM519 253l7-9 5-1 8 7 1 3-5 7-9 2-3-1zM808 426l5-4 10 0 5 10-1 4-8 5-8-4zM112 498l3-3 4 1 7 6 1 13-8 5-8-3-3-7zM263 294l8-7 12 3-5 14-10-1-4-5zM819 -5l12-2 5 3 4 9-9 6-7-1-6-5zM553 687l3-2 7 3 4 7 0 3-8 5-9-3 0-3zM396 549l4-4 14 1 2 5-2 5-5 5-9-1-1 0zM834 541l9-5 7 3 2 10-1 2-9 1-7-4zM43 683l1 0 12 2 3 6-1 2-11 9-1 0-7-6zM851 188l5-4 10 1 1 1 2 6-2 5-10 3zM722 299l9-7 3 1 4 6-3 10-9 2-5-8zM76 269l5-2 2-1 7 10-1 6-12 5-4-7zM732 380l5-8 11 1 2 6-6 12-10-5zM191 360l9 3 0 1-1 10-5 2-9-4-1-3zM804 25l10-8 6 2 3 6-4 6-7 2zM716 36l10-6 7 4 1 2 0 6-6 6-12-4zM300 582l15-3 2 14-4 3-10-1-3-4zM378 437l7-2 8 5 0 7-7 7-6-1-2-2zM581 -19l16 4 1 3-7 10-5-1-6-7zM685 -2l11-3 3 2-6 13-2 2-9-7zM706 193l1-1 10-1 3 2-1 10-5 4-8-4zM58 661l10-2 7 9-4 5-12 1-2-3zM150 35l9 6-2 9-7 5-7-8zM672 254l11 2 2 4-1 6-7 3-10-3-1-2zM298 575l6-8 11 4 1 7-1 1-15 3-2-2zM680 493l4-2 10 5 1 4-3 4-10 3-4-4zM151 500l9-9 5 1 3 15-9 2-4-2zM361 43l10 0 3 3-2 11-2 1-13-6zM4 130l10-5 5 5-1 10-14 0zM748 554l4-4 6 0 3 12-10 2-4-3zM360 85l9-3 5 6-1 4-9 6-5-7zM487 506l12-4 1 14-5 4-3 0-7-7zM226 434l7-5 8 2-2 12-12-1-1 0zM151 176l12 5-2 10-7 1-8-4zM446 21l11-3 4 7-3 7-11 0zM-14 451l9-5 6 2 2 8-6 5zM406 42l3-1 10 8 0 2-10 7-6-5zM604 328l9-2 6 8 0 3-7 4-10-3zM212 687l10-8 5 15-6 3-6-3zM649 133l1-1 13 0 5 9-1 6-5 1-7-3zM206 697l9-3 6 3-5 13-7 1-4-7zM678 426l7-1 3 11-4 5-7-3zM145 457l4-1 10 5-9 12-6-2zM82 513l10 1 1 5-8 8-8-4zM843 259l3-4 10 1-1 12-12-7zM662 -12l8-5 8 7-10 9-3-1zM727 345l5-6 9 2 0 11-13-4zM86 607l1-6 13 1-2 11-8 0zM308 204l3-3 5-1 7 11-8 5-5-1zM551 96l7-1 5 11-5 5-7-3zM768 119l11 7-3 8-3 2-11-7zM58 693l1-2 12 2-2 11-9 3-1-1zM32 31l12-7 1 0 3 10-2 5-7 1zM764 246l7 0 3 9-1 2-6 1-3-1zM857 242l2 0 9 6-1 5-8 1zM793 502l10-1 2 11-2 3-8 1-5-7zM241 431l7-2 4 3 0 11-13 0zM292 268l1-3 9 1 1 9-6 2zM805 461l11-7 5 8-13 8zM44 264l13 2-2 8-8 1-4-4zM73 173l3-6 10 3-4 11-2 0zM497 300l6-5 1 0 5 9-4 5-9-4zM393 619l6-6 6 10-12 3zM758 550l3-2 10 5 1 0-9 10-2-1zM643 326l9-4 4 10-4 4-7-1-3-4zM346 16l9 0 1 10-6 5-4-1zM819 31l4-6 3 0 5 9-3 5-7-3zM173 213l5-8 8 5-2 12-3 1zM537 614l8-6 4 1 1 4-8 9-3-1zM232 70l11-2 2 11-12 2zM667 170l6-7 8 3-6 11-7-4zM751 564l10-2 2 1 1 5-11 6-2-1zM461 248l4 1 2 12-6 2-3-3zM461 25l11 3-6 9-6-2-2-3zM287 698l11 7 0 1-15 2-1-1zM1 448l7-4 3 11-8 1zM744 409l1-2 8-1 3 2 0 3-5 4zM581 93l8 5-1 6-12 3-1-1zM236 575l5 2 1 9-2 3-8-6zM700 344l3 2 1 10-6 0-3-4zM865 141l9 2 2 6-11 2zM346 339l12 3-2 8-11-1-1 0zM478 318l1 0 5-1 4 8-5 3-6-1zM439 329l2-1 6 8-10 4-1-1zM21 45l8 3-3 9-7-5zM267 1l2-4 9 0-1 11zM73 254l8 13-5 2-7-5zM154 417l3 3-4 7-8-5zM497 436l3 1-1 9-8-1zM847 410l7-3 6 6 0 2 0 1-12-2zM492 85l12-2-3 11-10-4zM883 216l8-6 4 11-1 1-10-4zM891 13l4 9-8 2-1-2zM663 298l11 9-3 4-8-2zM896 154l4-4 7 7-1 2-8 0zM658 404l7-2 0 9-3 1zM315 239l6-1 2 7-9-2zM839 624l8-1 1 6-6 4zM95 97l8-1 2 4-8 7zM812 33l7-2 2 5-9 3zM727 353l1-5 13 4 0 2-4 4zM95 47l2-5 13 5-7 7z"/><path fill="#f0503c" d="M641 282l2-5 8-7 14 1 5 8 0 12-7 7-14 0-6-7zM778 609l5-5 11-2 11 10 1 9-10 11-14-2-4-5-1-6zM338 36l1-2 7-4 4 1 9 6 2 6-4 9-9 2-7-3-3-5zM866 576l11-12 1 0 14 9 1 7-6 10-10 4-6-2-1-2zM31 290l1-3 14-3 6 4 3 8-2 6-9 8-5 0-5-5zM571 210l5-8 10 1 7 8-1 7-8 5-11 0-2-4zM502 698l6-7 6-2 8 3 2 15-3 4-12 3-5-3zM836 189l10-3 5 2 6 12-2 4-10 7-9-3-4-8zM301 469l9-2 7 2 5 9 1 5-13 7-6 1-6-10zM783 353l3-6 10-3 5 5 2 10-4 5-12 0zM-1 209l4-9 7-3 12 5 2 10-6 8-5 1-12-7zM494 589l4-4 3 1 10 14 0 1-8 9-7-1-8-10zM177 611l3-2 12 2 3 13-2 4-14 0-3-2-1-6zM88 412l2-1 7 2 7 10-8 8-6 0-5-10zM272 380l4-8 4-1 4 2 5 10-6 7-3 1-7-4zM476 698l11-2 4 5 0 6-8 8-4 0-5-5 0-3zM472 194l8-7 10 3 3 14-5 5-14-4-1-3zM613 320l7-4 9 1 1 3-2 9-9 5-6-8zM497 2l11-6 7 13-2 4-9 2-7-4zM205 179l11-4 6 9-1 4-7 5-8-1zM63 407l10-6 10 10-8 10-5 2-5-1-1-2zM813 657l16-5 2 4-2 10-7 5-4-1-6-4zM703 153l3-5 10-1 4 4-1 10-5 4-9-4zM482 3l10-5 5 4 0 9-6 3-8-4zM474 16l9-6 8 4 0 8-7 6-9-2zM328 427l8-7 10 10-9 9-4 0-5-5zM766 484l13-5 2 2 2 4-5 10-14-3 0-1zM584 621l9-9 8 6 3 7-4 5-6 1zM131 619l9-5 7 9-1 4-6 4-9-2-2-4zM319 139l12-8 7 10-8 8-9-5zM198 415l3-4 10 1 6 9-1 2-19 2zM175 107l3-4 9 0 5 6-3 7-12 0zM401 -6l1-4 15 0 1 8-1 2-5 3-8-2zM409 675l12 4-5 14-11-3 0-1zM900 552l6-3 7 7 0 6-4 5-9-1-2-6zM677 23l10 1-2 13-14-3-1 0zM541 115l0-1 10-6 7 3 1 10-3 4-5 2-10-9zM856 123l10 1 3 6-5 9-10-3zM506 313l11 0 3 9-14 5-2-1zM449 196l7-3 4 2 1 6-4 5-6 0-4-4zM210 602l0-5 13-1 3 3-8 13-1-1zM748 543l2-6 11 2 0 9-3 2-6 0zM18 514l7-5 2 0 8 11-11 5zM481 175l9-2 2 1 4 10-6 6-10-3zM663 333l14-4-4 18-7-1zM625 160l5-8 9 8-3 6-9 0zM151 695l4-2 8 3 0 10-8 3-3-3zM461 263l6-2 6 4-1 6-6 3-6-4zM680 648l3 3 0 8-5 4-8-4zM174 399l5-3 8 6 0 2-11 8-3-1-2-5zM51 509l8-2 2 13-5 4-9-7zM527 185l7-2 1 2 1 6-2 7-8 0-3-5zM154 670l9 2 0 7-8 3-4-2zM534 651l1 0 8 7 0 1-7 10-7-1-1 0-2-7zM773 357l3-3 7-1 4 11-4 5zM799 540l1 0 11 5-1 8-14-2zM242 21l1 0 8 11-3 4-5 1-7-5zM27 86l3-2 9 7 0 4-12 3zM850 166l10 0 2 5-8 5-5-2-1-3zM-1 12l9-5 4 3-5 10-1 1zM275 667l10-4 4 9-11 3zM325 11l6 0 5 4-5 6-5-1zM476 327l1 0 6 1 2 11-7 1-4-3zM331 46l7 0 3 5-4 5-6 0-3-3zM82 298l6 1 6 10-2 1-11-1zM38 363l6 1 2 3-4 5-5-1zM347 168l8-5 4 5-2 5-8 1zM91 452l11-1 1 4-6 7-5-1zM310 490l13-7-3 13-2 1zM356 662l1 0 6 5-6 6-4-1-1-3zM907 547l12-3 2 3-8 9-7-7zM584 223l8-5 5 7-9 6zM1 431l2-4 11 3 0 8-5 3zM47 76l10-3 1 0-3 12-1 1-6-2zM85 355l11-6 1 1 2 8-13 5-2 0zM10 694l9 0 1 7-7 3zM389 68l5 4-2 8-10-3zM601 669l10-2 1 1-6 11-8-1zM187 404l0-2 13 3 1 6-3 4zM76 351l9 4-1 8-5 1-6-5zM274 569l5 3 0 3-9 8-9-3 0-1zM565 644l10-2 5 4-11 5zM512 281l4-4 4 1 0 11-6-1zM615 396l8 1 0 6-5 2zM884 420l4 0 2 8-7-1zM680 56l10-1 2 7-5 3-6-3zM58 693l1 13-12-4zM449 349l4-3 6 7-6 4-3-2zM818 670l4 1 2 5-5 6-4-2zM766 90l9 2-10 10-3-6zM653 512l12-4 0 10zM612 349l9 3 1 5-13 1-2-4zM78 623l9-2 2 3-3 5-10-1z"/><path fill="#e8e040" d="M822 278l6-12 15-5 12 7 4 15-4 7-13 8-2 0-6-2-10-11zM393 626l12-3 3 0 8 7 2 11-4 6-10 5-9-2-7-13zM50 643l8-7 7-1 9 5 2 4-2 10-6 5-10 2-6-5zM120 127l8-11 7-1 11 7 0 10-7 5-9 1-6-3zM301 525l12-1 2 1 3 11-4 8-9 2-2-1-6-9zM785 463l7-9 2 0 11 7 3 9-9 9-11-4zM554 238l1-1 4-7 13-4 4 9-2 10-8 5-1 0zM576 107l12-3 7 6 2 7-7 8-8 1-5-6zM316 200l5-7 12-1 4 12-4 8-10-1zM863 46l14-6 2 0 5 14-12 11-3-2-6-10zM527 -8l9-3 4 2 4 7-6 9-6 1-9-10zM806 401l11-6 5 7-1 9-8 2-6-4zM419 307l6-4 4 0 11 11-8 9-2 0-9-4zM315 579l1-1 12 1 5 7-3 7-4 2-9-2zM430 530l9-1 6 6-2 6-10 6-6-8zM160 217l4-4 9 0 8 10-1 3-10 4-8-3zM337 106l10-8 4 4 0 10-11 2zM259 451l10-5 6 4 1 6 0 1-8 6-9-6zM10 491l8-3 5 7-4 9-4 1-8-4zM603 438l10-6 5 5-2 10-7 4-5-3zM285 10l10-7 1 0 4 6-5 10-7 1zM291 384l9-7 6 8-6 7-5 0zM270 611l1-2 11-6 6 7-2 5-9 5-1 0-1-1zM831 656l14 5 2 5 0 1-12 4-6-5zM468 118l2-3 8 1 2 7-5 5-6-2zM766 596l14-4 3 12-5 5-5-1zM451 156l4 2 2 9-6 6-10-6zM73 554l11-4 3 3 1 11-9 2-4-2zM393 584l3-7 9-2 5 10-5 8-2 0zM614 569l8-1 3 2 1 7-4 3-10-4zM87 63l7 4 0 5-8 9-8-10zM535 333l1-2 6 1 5 5-2 9-2 1-9-2zM474 594l5-6 5 2 3 9-10 1zM-4 562l3-6 9-1 3 12 0 1-13-1zM1 58l4-4 7 3 1 6-11 6-1 0zM784 291l8-4 10 8-12 7-5-7zM470 151l1-2 9-3 8 8 0 1-11 5zM216 173l6-5 14 4 0 2-14 10-6-9zM193 628l2-4 9-3 5 5-4 10-1 1-10-6zM431 38l4 13-9 5-7-5 0-2zM589 98l5-3 10 5 0 4-9 6-7-6zM427 652l3-4 13 3 2 3-12 9zM433 547l10-6 6 9-6 4-10-5zM104 211l9-5 1 1 3 10-9 5-3-2zM-9 373l7-4 6 1 2 3-3 7-10 0zM247 352l9 2 3 4-8 10-6-4zM384 144l13 2-2 8-11 3-2-3zM207 562l5-5 3 0 5 11-12-1zM500 437l7-1 3 8-10 3-1-1zM24 525l11-5 2 10-5 7-11-6zM177 96l8-5 4 7-2 5-9 0zM831 600l3-4 5 0 1 0 1 11-6 3zM895 678l9-5 2 2 2 13-13-2zM303 690l1 0 8 6-1 4-11 3zM633 701l8-3 3 9-12 1zM821 524l11-2-5 14-1 0zM220 614l11 4-1 8-3 2-9-5zM318 270l0-1 8 7-9 8-3-5zM689 371l1 2 1 10-7 4-5-6zM576 391l14-4 4 6-11 5zM570 562l11 3 0 5-9 3-4-5zM845 158l2 0 3 8-2 5-11-5zM100 400l3 3-6 10-7-2zM558 169l5 7-3 6-8-6zM113 138l3 2 1 10-1 0-8-4zM676 351l10 6 0 6-12-4zM885 302l3-5 2 1 3 8-2 2zM709 564l2 1 2 10-1 1-8-2zM522 605l6 8-2 5-7 1zM918 426l2 1-5 13-7-8zM199 53l7 0 1 1-2 9-4 0z"/><path fill="#f23636" d="M551 412l2-2 11-8 5 0 10 5 8 12-7 13-10 6-7 1-8-6-4-7zM-13 579l4-6 7-6 13 1 5 7 1 10-4 7-4 3-10 0-9-5zM541 513l11-8 2-1 11 5 4 9-1 10-9 8-16-3-5-14zM787 166l12-6 4 0 9 9 0 2 0 14-8 7-6 1-17-10 0-5zM684 120l4-5 4-2 8 1 4 2 9 14-1 1-9 11-11 2-6-3-5-8zM861 154l4-3 11-2 8 3 1 1 2 10-4 11-4 3-13-3-4-3-2-5zM20 12l6-10 3-1 13 4 5 8-3 11-12 7-1 0-9-5-2-4zM486 59l14 0 5 2 3 12-4 10-12 2-12-9zM681 479l5-11 15-1 7 8-1 11-2 4-11 6-10-5zM442 315l12-4 12 6 2 8-6 12-8 2-7-3-6-8zM200 33l3-9 2-1 10-1 7 4 2 4-4 13-3 2-9 0-6-5zM836 393l3-3 12-2 7 9-4 10-7 3-8-1-4-8zM13 641l1-11 1-1 17 0 7 12-2 4-10 9-3 0-9-8zM711 649l5-6 11-2 7 6 1 6-3 9-12 6-7-4zM632 306l15-4 7 12-2 8-9 4-6-1-7-5-1-3zM307 127l6-10 6-1 10 5 2 7 0 3-12 8-9-3zM272 512l4-8 10-3 7 5 1 7-2 8-5 3-10-1zM576 3l10-6 5 1 8 7-2 10-11 6-9-6-2-4zM797 385l7-8 9 1 3 4 1 13-11 6-3-1-6-9zM52 13l8-5 5-1 7 13-2 4-7 5-6-1-4-6zM200 7l9-8 6 1 7 5-7 17-10 1zM831 11l9-6 1 0 12 9 1 3-3 8-7 5-7-1-6-6zM163 696l7-6 9 0 4 7-3 11-7 2-6-1-4-3zM293 111l9-6 5 2 6 10-6 10-15-3zM384 291l9-4 8 4 5 10-10 9-10-1-7-6zM609 451l7-4 6 1 3 3 3 10-2 3-5 4-12-3-2-5zM802 284l2-7 8-2 10 3 2 7-2 4-10 9-9-3zM361 375l1-1 14 1 2 11-5 6-7 1-6-4-1-4zM898 38l5-8 7 0 9 5 1 2-7 10-8 1-5-4zM13 -9l3-7 10-1 6 9-3 9-3 1-11-4zM0 519l7-7 6 0 5 2 6 11-3 6-6 4-4-1-11-11zM28 178l8-3 10 9-6 14-12-2-2-3zM127 557l4-2 13 0 4 8-4 8-11 0-7-7zM507 436l4-7 11 2 4 7-1 4-5 4-6 0-4-2zM376 375l9-8 6 3 3 13-7 6-3 0-6-3zM344 130l7-8 4-2 8 10-3 8-12 4-4-2zM875 637l7-5 12 4 1 9-4 5-9 0-6-4zM334 372l3-5 8-3 5 2 4 8-3 7-10 5-2 0-5-6zM114 386l1-3 5-4 9 0 5 11-10 9-7-2zM309 625l9 2 3 4-1 8-12 4-6-7zM855 434l3-1 14 3-5 15-5 1-8-9zM612 547l8-6 5 0 7 9-6 9-2 0-12-1-1-2zM754 604l11-8 1 0 7 12-8 8-1 1-9-7zM898 448l10 2 3 11-5 4-10 0-6-7zM874 228l10-10 10 4-1 11-10 7zM572 675l7-6 10 5 4 5-2 3-15 6-6-7zM671 151l10-1 6 4-3 12-3 0-8-3zM622 71l11-8 6 1 3 4-1 9-12 7zM385 222l9-6 8 4 3 7-12 6-9-7zM787 46l8-7 10 6-2 12-14 0zM529 668l7 1 7 7-2 8-13 0-2-3zM121 412l5-8 12 6 0 7-13 5-3-3zM318 -7l11-3 6 6-1 8-1 0-12 3-1-1zM553 352l0-3 8-8 7 4 1 10-8 7-3 0zM13 85l5-2 9 3 0 12-3 4-1 0-12-6zM802 206l5-4 9 3 2 12 0 1-13-1-3-2zM121 349l5-2 11 2-3 13-4 2-10-3zM718 333l10-6 2 1 2 11-5 6-11-4zM392 197l5-4 7 1 4 7-2 6-11 1-3-3zM105 423l6-6 11 2 3 3 0 5-2 5-5 4-5-1zM393 440l9-5 7 7-3 8-7 2-6-5zM547 438l8-5 8 6-4 10-10-3zM108 166l0-1 6-5 13 3 2 4-2 5-10 3zM77 8l8-6 1 0 6 8-4 10-3 1-7-4zM229 8l7-3 9 4-2 12-1 0-11-4zM236 604l6-6 7 4 1 10-13 0zM293 623l6-5 8 3 2 4-7 11-3 0-2-2zM431 23l8-5 7 3 1 11-1 1-14 3zM397 112l14 1 2 10-14 5-4-5zM431 490l0-2 11-6 7 8 0 5-7 6-1-1zM251 290l4-1 8 5 1 4-7 7-7 0-4-8zM910 80l9-6 3 1 2 2-1 9-10 7zM41 228l11-13 7 12-7 10-10-6zM-14 538l9-6 7 8 0 1-6 7-10-6zM116 140l8-5 6 3 0 12-2 2-11-2zM576 235l10 0 1 7-6 6-7-3zM257 124l3-2 3 0 8 7-1 7-7 3-8-4zM-7 348l8-6 10 8 1 2-8 7-5-1-6-4zM590 267l0-3 6-4 13 5 1 5-2 1-12 4zM541 66l9-4 6 5-4 8-3 0zM174 358l0-1 2-3 14 0 1 6-7 9-2-1zM54 86l1-1 10-1 4 6-3 5-9 0zM421 293l7-7 10 9-9 8-4 0zM304 455l7 7-1 5-9 2-4-5zM752 423l10-5 4 1 2 7-4 6-7 0zM911 -14l9-3 3 3-6 13-7-3zM424 183l11-1 4 5 0 2-5 6-14-3zM389 317l6-2 6 8-9 5-5-6zM525 161l11 0 1 12-1 1-11-4zM526 262l9-2 3 9-5 4-6-1zM547 447l2-1 10 3-7 10-9-4 0-2zM620 71l2 0 7 13-1 4-15-2zM704 116l11-3 3 1 2 10-7 6zM268 464l10 9 0 4-13 1-3-5zM309 422l5-2 6 6-1 5-10 2zM206 112l6-2 9 8-6 6-10-2zM572 226l1-3 11 0 4 8-2 4-10 0zM314 606l8 1 5 8-7 4-7-4zM475 128l5-5 4 0 4 8-8 6-2-1zM263 139l7-3 9 8 0 3-15 6-1 0zM809 140l10-2 6 6-1 2-12 4zM576 392l0-1 7 7-1 7-3 2-10-5zM201 96l10-5 3 2-3 11-8 1zM529 354l7 8-6 8-9-7zM280 260l2-1 10 3 1 3-1 3-12 4 0-1zM253 418l2 0 9 7-1 4-11 3-4-3zM631 394l4-4 7 1 3 8-6 6-5-4zM536 669l7-10 8 13-8 4zM637 263l6-3 7 6 1 4-8 7-6-6zM194 587l6-6 10 8-2 6-8-1zM281 41l4-6 14 5 0 8-15 4zM312 66l8-8 5 5-1 11-4 0zM31 246l0-2 5-2 12 3-8 12zM6 630l8 0-1 11-6 3-6-2zM424 498l0-1 7-7 10 10-11 5zM835 51l2 0 4 14-6 3-8-7zM844 527l9 1 1 8-4 3-7-3zM318 536l7 0 4 8-1 2-7 3-7-5zM515 477l10-6 3 0 2 10-8 4-8-8zM800 106l5 0 4 5-3 10-10-1zM759 -6l13 5 0 2-7 6-6-1zM15 183l11-5 2 0-2 15-11-6zM165 200l1 0 10 0 2 5-5 8-9 0zM137 261l8 1 1 6-11 5-3-5zM488 689l10-1 3 9-10 4-4-5zM10 649l5-3 9 8-2 3-13 1zM193 439l5 12-3 2-13-3zM717 442l3 0 6 14-12 2zM331 131l0-3 10-1 3 3 0 10-6 1zM649 148l6-3 7 3-11 11-2 0zM620 117l10-6 6 5-4 8-12-5zM284 211l4 0 4 7-2 2-8-1-2-3zM634 333l3-2 5 0 3 4-7 7-4-1zM419 87l10 0 0 1-5 16-8-8zM220 400l5-5 5 1 2 6-6 4-6-3zM317 297l3-5 7 1 3 9-7 3zM705 161l9 4-3 7-9 1-2-3zM311 462l9 1-3 6-7-2zM452 283l9 4 0 6-6 4-6-7zM121 111l1 0 6 5-8 11-6-6zM905 395l11-5 4 8-5 4zM630 320l7 5 0 6-3 2-6-4zM505 61l4-1 9 4-6 8-4 1zM477 488l6 4-1 8-8 1-1-1zM277 523l10 1-1 9-9-4zM694 496l11-6 3 7-13 3zM455 158l9-1 2 7-9 3zM453 659l13-1 2 4-6 6-7-2zM520 446l5-4 7 9-1 4-9-2zM129 447l5-4 7 4-1 7-4 1zM726 471l7-5 9 6 1 3-14 2zM511 339l9 2 1 3-10 6-3-4zM628 42l14 4-11 5-5-4zM360 323l10-1 4 4-10 9zM231 124l3-5 7 2-3 8-6-1zM45 24l8-2 4 6-9 6zM444 75l5-3 8 4-2 7-7 0zM374 276l8-4 5 5-9 6zM102 27l8-8 3 11 0 2-10 0zM419 320l2-1 9 4-5 8-4 0-3-3zM876 646l6 4-3 9-9-2zM440 314l1 0 1 1-1 13-2 1-7-6zM329 510l8 10-11 4-1-1zM53 -2l8-6 3 2 1 13-5 1zM231 458l4-1 7 7 0 1-10 3-2-3zM134 317l6-2 5 6-10 6-2-1zM198 556l7-5 7 6-5 5-8-3zM707 19l4 1-1 11-9-1-1-2zM381 167l3-3 10 2-4 10-1 0zM97 574l8 9-2 5-9-3zM499 45l9-1 1 16-4 1-5-2zM628 461l8-2 4 5-6 7-8-7zM727 426l7 2 1 10-15 4zM792 287l0-2 10-1 1 11-1 0zM828 394l8-1-1 8-4 1-3-1zM704 554l4-3 3 4-2 9zM629 405l5-4 5 4-2 7-3 1zM637 325l6 1-1 5-5 0zM768 308l13-2-4 10-8-3zM38 335l5-2 2 9-3 2zM826 245l7-2 4 5-1 0-11 7zM854 17l6 5-3 7-6-4zM310 215l5 1 1 12-3 2-7-5zM770 345l2 0 4 9-3 3-7-2zM328 546l1-2 13 2-1 4-9 2zM33 490l6 4-9 4-3-2zM451 206l6 0 1 6-9 1zM811 130l7 2 1 6-10 2-3-3zM380 602l10 5-4 7-3 0zM827 370l3-2 6 3-2 8-4-1zM520 671l8-3 1 0-3 13-8-4zM592 504l5 3-3 10-3 1-5-3zM67 41l1-1 6-1 4 9-6 4zM156 434l8-1 0 1-3 7-6-1zM206 342l4-2 5 10-8-1zM635 474l3 2 1 7-10 2-1-1-1-2zM358 448l5-2 5 5-3 7zM40 436l7-5 5 5-10 5zM212 319l6-1 0 9-5 2zM332 656l7-1 2 5-5 3zM811 522l5-5 5 7-9 2zM758 -9l13 0 1 8-13-5zM588 646l2-3 10 0 0 9-1 0zM117 175l10-3-2 9-8-2z"/><path fill="#9048c8" d="M52 237l7-10 11-3 10 6 3 10-1 5-9 8-12-1-10-9zM741 341l5-9 16-3 1 1 7 15-4 10-14 6-11-7 0-2zM305 436l4-3 10-2 9 3 5 5 0 13-7 10-6 1-9-1-7-7-2-7zM479 636l12-2 5 1 4 4 2 6-3 11-12 6-4 0-1-1-8-11zM907 273l2-2 6-3 7 1 8 5 4 10-2 10-10 5-14-3-4-6 0-3zM619 172l8-6 9 0 6 6 2 2 0 10-2 3-11 5-9-2-4-4zM718 507l15-1 5 3 4 7-1 8-12 8-13-8-3-3zM838 340l5-3 9 0 7 8 0 7-5 7-7 2-9-7zM223 644l2-2 13-3 9 9-1 5-3 7-2 1-12-1-5-3zM291 395l4-3 5 0 11 7 0 12-8 6-4 1-14-10zM789 524l6-8 8-1 8 7 1 4-1 6-11 8-1 0-8-8zM20 466l7-9 9 1 11 14-3 5-11 4-9-4-4-4zM538 282l7-3 10 2 2 16-11 9-8-1-7-12zM97 266l8-10 2 0 12 10-2 10-11 5-3 0-6-7zM769 403l7-9 9-2 5 3 4 9-1 6-8 5-11-1-2-1zM734 36l14-7 9 12-8 13-11-3-4-9zM313 85l0-3 7-8 4 0 8 5 1 12-3 5-8 1-6-4zM586 235l2-4 9-6 6 2 1 2 2 13-11 6-1 0-7-6zM793 562l3-11 14 2 5 6-4 12-4 1-8-2-5-5zM188 659l14-6 5 1 5 6-2 10-4 3-11-2zM364 142l7-5 10 2 3 5-2 10-12 4-9-6zM439 398l2-2 9-3 9 6-1 9-6 4-7 0-5-2zM595 248l11-6 8 3 3 12-8 8-13-5zM737 579l2-5 12-1 2 1 4 7-3 9-5 3-3 0-7-5zM150 55l7-5 12 2 2 2-5 13-13 1-4-8zM357 673l6-6 8-1 6 14-10 10-2 0-7-4zM92 10l9-3 2 1 7 11-8 8-8-1-6-6zM828 39l3-5 6-5 7 1 4 6-3 12-8 3-2 0-6-7zM409 58l10-7 7 5 2 7-5 7-10 3-7-6zM868 104l2-3 5-2 10 1 5 11-2 6-7 4-9-4zM596 529l4-7 13-2 4 5-3 10-6 6-6 0-6-7zM908 450l7-9 11 3 4 6-3 8-12 4-4-1zM240 589l2-3 5-3 12 0 1 11-11 8-7-4-3-4zM283 247l8-3 8 6 0 4-7 8-10-3zM346 185l1-1 13 0 6 5-1 11-10 4-7-4zM333 452l7 1 4 7-8 11-6-2-4-7zM395 489l15 1 2 4-4 9-8 3-7-3zM410 483l3-5 11 0 7 10 0 2-7 7-12-3-2-4zM669 539l7-3 7 1 3 2 2 4-14 13-5-2-3-9zM262 46l2-4 6-4 11 3 3 11-15 5zM765 207l0-2 12-9 6 6-3 12-2 1-7 0zM355 204l10-4 3 2 4 14-10 5-8-5zM862 489l5-3 10 3 2 9-4 4-15 1-1-1zM364 475l5 0 7 6-6 11-12 1-5-4zM421 387l13-4 3 2 4 11-2 2-12 3-7-8zM467 231l1-2 9-4 10 5-1 11-1 1-13 0zM500 408l8-3 5 2 0 12-3 5-14-6zM226 250l6-6 15 6 0 1-9 13-12-9zM264 425l4-5 4-1 4 3 5 7-1 2-5 5-3 1-9-8zM371 18l2-2 10-3 7 5 0 5-6 7-4-1-9-7zM890 298l4-6 10-2 4 6-3 11-12-1zM802 -2l2-5 6-2 9 3 0 1-1 10-5 3-8-3zM135 490l12 1 4 9-12 6-4-5zM903 318l3-8 12 2 3 4-7 13-4-1zM557 3l7-8 10 4 2 4-1 8-15 3zM663 556l6-2 5 2 0 13-8 4-6-9zM873 416l6 0 5 4-1 7-9 6-5-9zM253 463l6-6 9 6 0 1-6 9-9 0zM98 391l5-5 11 0 3 11-9 6-5 0-3-3zM560 213l11 6 2 4-1 3-13 4-7-7zM180 380l5-8 9 4 0 12-1 0-7-1zM41 542l3-5 12-3 2 9-4 8-7 2zM373 173l2-5 6-1 8 9-12 9zM326 276l3 0 1 1 3 10-6 6-7-1-3-8zM743 561l4 0 4 3 0 9-12 1-3-5zM233 56l10 1 3 4 0 2-3 5-11 2-4-5zM426 577l16-1 1 9-10 6-9-9zM763 234l12-3 2 1 2 7-8 7-7 0-4-5zM773 50l7-6 7 2 2 11-2 3-10 1zM184 573l2-2 8-2 5 5 1 7-6 6-10-7zM599 152l11-4 3 2 2 9-4 6-10 0-4-6zM341 386l10-5 8 4 1 4-8 10-3 0zM92 496l6 1 4 3 0 7-10 6-5-8zM365 690l2 0 12 8-3 6-9 5-3 0-2-2zM706 357l11-4 3 2-1 9-9 4zM415 292l6 1 4 10-6 4-5 0-8-6zM597 31l7-5 10 5-1 5-8 7-7 0zM19 280l12 4 1 3-1 3-10 8-8-6zM481 468l11-7 1 1 6 9 0 3-8 6-6-2zM883 539l6-2 2 2 2 10-5 4-4 1-6-8zM277 398l3-7 3-1 8 5-6 13-1 0zM252 474l1-1 9 0 3 5-5 9-5 1-5-5zM525 509l2-5 9-1 5 10-3 6-6 1zM891 13l1-7 9 0 7 6 0 2-8 11-5-3zM554 484l9-5 2 1 5 12-12 2-5-7zM599 340l3-2 10 3 0 8-5 5-9-7zM876 270l6-6 8 1 2 11-11 2zM203 313l1 0 8 6 1 10-1 1-13-2zM851 70l11 8-2 6-10 2-4-5zM104 423l1 0 8 12-9 6-8-10zM777 193l4-10 17 10-4 7-11 2-6-6zM738 69l9-2 4 8-6 7-9-6zM227 442l12 1-4 14-4 1-4-4zM678 585l4-6 9 3 1 3-6 7-5-1zM481 606l6-7 1 0 8 10-7 7-5-1zM415 28l1-4 10-4 5 3 1 13-1 1zM842 552l9-1 3 9-10 5-5-6zM858 397l5 0 5 6-8 10-6-6zM272 437l3-1 9 8-1 2-8 4-6-4zM819 493l7-4 7 3 1 9-3 4-10-1-2-3zM542 477l7-1 5 8-1 3-11 3-4-7zM527 526l5-6 6-1 5 14-3 4-12-5zM656 22l4-1 8 12-11 5-2-2zM200 364l12 3 2 8-11 2-4-3zM427 401l12-3 1 12-5 2-8-6zM395 208l11-1 2 5-6 8-8-4zM301 514l9-3 3 13-12 1-1-2zM753 267l2-4 10 3 3 8-5 3-8-3zM214 295l3-5 5-2 6 11-9 7zM795 682l8 11-12 6-1-2zM662 178l6-5 7 4 0 1-6 9zM94 67l8-4 5 9-6 3-7-3zM246 576l5-6 10 9 0 1-2 3-12 0zM348 94l11-3 5 7-13 4-4-4zM32 330l5-5 7 6-1 2-5 2zM358 230l4-5 8 5-8 12-1 0zM82 154l2-4 6-2 8 7 0 3-7 4zM894 636l3-4 10 3-1 11-11-1zM179 544l6-6 7 3-2 9-6 1zM333 439l4 0 8 6-5 8-7-1zM459 119l9-1 1 8-9 6-1 0zM298 560l2 0 4 7-6 8-6-6zM619 205l2-3 13 3-13 10zM91 539l2 0 1 1 1 9-8 4-3-3zM540 -9l6-5 5 6-2 6-5 0zM321 383l13-3 5 6-9 6-11-6zM659 546l7-1 3 9-6 2-5-4zM373 6l4-3 4 1 2 9-10 3zM81 507l6-2 5 8 0 1-10-1zM720 193l12 2-5 10-8-2zM774 414l11 1-2 10-2 1zM751 415l5-4 6 7-10 5-1 0zM210 602l7 9-12 1-1-2zM390 18l14-5 1 1-6 12-9-3zM842 307l2 2-1 12-9-5zM22 226l7 2-2 10-8-4zM461 287l4-3 7 3-2 8-9-2zM313 95l3-2 6 4-3 6-7-1zM55 48l2 0 7 8-10 5-3-3zM88 299l7-5 5 4-6 11zM654 566l6-2 6 9-1 2-7 1zM474 98l8-3-3 8-4-1zM351 623l7-2 3 4-8 8-1 0zM648 134l1-1 6 12-6 3-5-6zM686 357l9-5 3 4-11 9-1-2zM301 435l4 1-3 12-7-7zM80 481l10 1 1 3-2 4-10-2zM78 113l5 1 2 9-7 2-3-3zM276 457l0-1 6-2 5 8-4 3zM860 416l0-1 12 0 1 1-4 8-7-1zM42 -8l3-1 6 6-7 4zM354 374l7 1-2 10-8-4zM477 583l2 5-5 6-6-3zM263 642l1 0 9 12-2 2-10 0zM283 582l6 2 0 6-2 1-6-3zM289 383l2 1 4 8-4 3-8-5zM378 386l6 3-6 7-5-4zM275 436l5-5 7 11-3 2zM241 577l5-1 1 7-5 3zM642 187l10 5-6 8zM206 220l5 1 1 2-7 6-4-3zM197 256l5 8-4 5-8-4zM197 348l9 2-6 5-6-3zM593 612l5-3 6 5-3 4zM-9 143l8 0-3 9-5-1zM460 195l12-1 1 8-12-1zM379 565l3 2-3 13-8-2z"/></g><rect width="910" height="696" filter="url(#nz0)"/><path fill="#050505" stroke="#050505" stroke-width="1.2" stroke-linejoin="round" d="M8 555l2-3 9-6 11 3 3 6-5 11-6 3-11-2zM249 602l11-8 8 4 3 11-1 2-9 6-11-4 0-1zM250 631l3-8 8-5 8 5 2 12-7 7-1 0-6-1zM139 192l3-1 7 10-3 10-1 0-13-4-2-3zM430 505l11-5 1 1 4 9-1 4-7 4-5-1-4-7zM411 113l0-1 13-8 7 13-10 11-1 0-7-5zM305 258l5-5 11 4-3 12 0 1-8-1-6-5zM881 463l6-5 3 0 6 7-2 9-12 3-3-3zM92 185l5-8 4 0 8 7 0 5-5 5-3 1-6-3zM15 540l0-5 6-4 11 6 2 5-4 7-11-3zM355 120l1-3 7-3 8 3 4 8-6 5-6 0zM452 616l9-1 5 6-1 6-13 1-2-1zM404 99l1-2 11-1 8 8-13 8zM3 380l3-7 8 3 2 6-3 4-5 1zM285 408l14 10-3 6-11 0-2-4zM212 495l15 0 0 7-8 8-8-4zM405 14l3 0 8 10-1 4-2 2-13-2-1-2zM441 522l8-3 3 2 1 10-8 4-6-6zM745 392l9 2 1 3-2 9-8 1zM531 148l5 1 3 6-3 6-11 0-2-1-1-3zM900 248l8-6 6 1 2 11-1 1-8 1zM426 521l7-4 5 1 3 4-2 7-9 1zM366 393l7-1 5 4 1 8-14 2-1-2zM29 262l11-4 4 6-1 7-10 4-5-6zM830 615l1 0 3 6-6 9-9-7zM442 501l7-6 7 4-2 9-8 2zM362 221l10-5 3 11-5 3-8-5zM775 22l8-6 4 3 1 7-12 4zM445 514l1-4 8-2 5 8-1 2-6 3-3-2zM396 108l8-9 7 13 0 1-14-1zM439 134l4-5 11 5-7 9-8-4zM125 611l0-3 7-4 9 6-1 4-9 5zM866 478l13-4 3 3-5 12-10-3zM261 617l9-6 5 8-6 4-8-5zM310 269l8 1-4 9-9-4zM386 454l7-7 6 5-2 5-6 2zM424 104l15 5-3 7-5 1zM763 20l2-2 10 4 1 8-1 2-5 0zM665 271l2-5 10 3 0 8-2 1-5 1zM250 613l11 4 0 1-8 5zM302 266l2-2 6 5-5 6-2 0zM670 279l5-1 3 12-8 1zM438 518l7-4 4 5-8 3zM367 105l6 3-2 9-8-3zM267 505l8-2 1 1-4 8-2 0zM9 544l6-4 4 6-9 6zM269 623l6-4 1 1-4 15-1 0zM523 160l2 1 0 9-6 4-3-7zM104 194l5-5 5 7-2 2zM382 132 372 142 357 144 343 132 345 121 350 102 360 108 372 114 385 128zM403 113 416 106 421 100 434 106 435 114 439 121 423 129 416 133 409 124zM436 145 435 132 443 128 450 126 462 133 458 139 455 147 450 152 442 148zM528 173 516 174 506 165 512 155 522 144 532 144 537 150 545 156 537 162zM733 186 733 178 731 169 739 169 750 173 759 184 758 192 754 196 743 193zM767 29 763 19 767 10 772 11 777 11 784 18 783 20 777 28 771 34zM112 201 104 201 97 200 93 193 98 182 115 172 124 175 128 181 120 192zM152 215 145 221 136 217 131 214 128 206 134 196 140 190 147 190 153 201zM312 283 308 280 298 276 301 266 308 256 318 253 323 256 331 259 325 274zM364 277 361 281 353 284 343 279 334 276 339 263 345 260 358 261 364 269zM560 255 554 260 546 261 542 251 540 247 545 240 555 241 563 242 562 249zM535 385 526 385 522 383 516 371 520 364 530 358 535 365 546 371 543 381zM454 411 449 409 443 400 448 393 453 391 460 394 468 398 465 404 460 414zM750 408 744 423 737 421 729 419 721 405 724 391 732 380 749 382 751 392zM868 480 857 470 860 449 878 441 889 452 910 456 909 473 916 492 886 495zM612 527 610 515 607 504 616 500 627 493 633 504 637 516 629 525 620 530zM426 512 429 497 438 498 452 501 457 507 456 523 445 533 435 530 424 529zM353 515 346 520 332 515 324 509 325 502 326 493 339 495 344 499 346 503zM1 540 7 528 19 522 31 531 40 545 37 565 28 564 17 563 1 556zM253 632 248 625 244 611 253 607 260 598 276 606 279 620 281 629 267 632zM145 619 139 625 128 622 118 614 116 610 120 598 130 599 144 600 147 605zM207 678 196 678 192 669 192 661 201 658 207 656 218 656 221 662 214 674zM828 629 818 631 815 617 815 613 820 603 827 604 837 613 839 625 835 635zM226 511 220 513 215 505 212 498 214 493 221 488 227 492 234 496 231 506zM13 389 9 382 2 377 2 370 5 365 11 365 15 367 20 375 20 379z"/></g></svg><rect x="216.5" y="9.5" width="38" height="27" fill="#fff"/><text x="225.3" y="26.7" font-size="20">(a)</text><rect x="504" y="327" width="167" height="32" fill="#fff"/><text x="587.7" y="343.7" font-size="20" text-anchor="middle">25 μm</text><path d="M511 354h154" stroke="#231f20" stroke-width="1.4"/><svg x="217" y="383" width="455" height="348" viewBox="0 0 910 696" preserveAspectRatio="none"><rect width="910" height="696" fill="#555"/><g filter="url(#bl)"><g stroke="#111" stroke-width="0.7" stroke-opacity="0.5" stroke-linejoin="round"><path fill="#5b42c8" d="M743 216l2-3 5-2 14 0 9 11 1 19-10 9-11-3-8-10zM406 585l6-10 7-3 10 3 9 13 3 7-3 13-3 5-11 4-6-3-11-17zM867 655l11-9 10 5 9 9 2 16-5 13-7 2-11-6-10-13 0-1zM185 562l4-7 7-3 2 1 13 11 1 5-1 17-6 4-8 0-8-7-5-11zM624 -8l5-6 5-1 12 6 3 3 6 15-6 12-9 3-8-2-6-7zM517 707l6-15 11 3 7 6 4 11-2 11-5 6-10 0-10-13zM693 394l7-16 14 5 5 6 3 7-1 12-7 8-8-1-10-11zM118 132l2-7 8-8 7-1 11 11 1 3 0 14-2 5-10 5-10-7-6-11zM838 647l11-11 7 3 10 13 1 3-1 16-12 4-4-2-9-9-1-3zM334 418l3-10 1-1 13 0 7 8 4 10-4 16-5 1-9-3-8-8zM504 88l6-18 1-1 14 5 8 13 1 9-3 8-4 5-13-3-8-11zM799 11l6-10 6 1 10 10 3 10-4 10-2 2-8 1-5-4-6-11zM742 571l-1-7 11-8 9 5 4 8 1 11-4 9-13-3zM905 580l0-7 9-10 11 7 4 12-3 11-11 4-4-2zM380 -21l1-3 8-6 11 4 5 7 1 14-3 5-3 3-10-2-8-11zM204 676l2-10 4-4 7-1 12 11 3 12-6 12-8 3-9-7zM-2 461l11-1 8 9 3 10-2 4-9 5-14-8zM160 265l8-8 5 1 9 9 2 10-3 9-10 3-9-8-1-4zM513 169l5-7 7-3 10 4 4 8-1 13-6 5-10 0-3-4zM681 218l4-10 2-1 8 0 11 12 1 2-1 10-2 3-14 2zM770 667l0-5 14-2 10 12 0 1-7 12-6 2-5-3zM301 525l9-7 11 6 5 8 0 10-4 9-8 0-8-5-5-9zM575 205l7-7 9-1 4 4 5 16-5 11-8-1-12-13zM186 426l2-9 1-1 13 2 6 4 1 23-12 1zM611 649l3-14 11 3 5 4 3 11 0 5-9 6-4-2-8-7zM644 566l6-10 9 1 7 5 3 4-5 18-5 3-7-4-8-12zM703 646l6-7 1 0 4 1 11 13-3 16-3 1-13-5-4-9zM495 53l0-10 10-5 12 11 1 4-7 16-1 1-4-2zM419 267l1-7 12-2 4 3 5 9-3 15-11 1-5-7zM474 39l1-2 5-2 10 2 5 6 0 10-7 8-8-2-6-13zM396 694l0-1 6-14 17 4 2 6-1 15-7 6-7-2zM331 387l2-3 9-4 10 7 1 0 1 16-3 4-13 0zM236 229l4-4 12 4 9 13-7 11-5 1-4-3-5-5zM217 358l0-6 6-7 10 6 3 10 0 5-7 3-6-2zM624 664l9-6 6 5 4 7-1 13-12 1-5-6zM2 17l1-3 8-3 11 4 1 1 0 16-14 3-2-4zM700 675l6-10 13 5 2 16-2 4-5 3-12-10zM337 25l3-9 10-1 8 7 2 5-1 7-5 6-11 0-1-1-4-7zM595 669l7-11 8 1 5 8 3 11-3 6-6 1-11-6zM789 477l10-1 7 5 3 5-3 13-2 1-13-4-3-3zM530 235l1-1 13-1 3 2 2 15-5 9-12-6-2-4zM316 697l1-1 10-6 3 0 7 5 1 11-8 8-10-5zM867 561l4-5 8 4 5 8-4 14-14-8-1-3zM348 534l8-5 5 3 6 11 0 3-7 8-11-5-2-3zM504 381l3-2 9 3 2 5 2 9-3 12-4 1-10-6-4-6zM372 47l4-11 10 0 8 12-2 8-9 5zM289 430l6-13 12 7 4 14-6 8-12-6zM534 521l5-11 3-1 3 2 10 14 0 4-4 8-10-1-7-10zM804 64l12-5 11 9 0 1-5 12-7 2-3-2zM96 683l4-10 12 6 3 7-4 13-5 2-7-4zM534 410l8-2 9 6 2 6-6 9-3 0-9-9zM326 131l1-5 6-5 6 2 4 9-1 8-8 2-4-3zM664 542l6-4 12 10 2 3-5 13-9 2-1 0-3-4zM354 40l5-6 13 13-6 14-9-5-1-1zM219 651l6-4 9 5 4 11-1 3-8 6-12-11zM708 445l9-5 10 12-8 13-10-6-1-1zM574 353l8-7 1-1 6 5 3 9-1 8-2 2-6 0-7-7zM240 618l1-1 10 9 3 9-2 6-12-2-4-8zM887 461l11-2 6 7 3 13-3 4-12-2zM903 332l0-2 9-2 11 7 1 1 0 8-5 6-2 0-10-5zM318 3l7-10 8 3 5 5-1 11-7 3-6-2zM147 53l9-3 5 6 1 18-13-1-3-7zM452 34l2-5 8-1 12 11 0 7-11 8zM264 654l3-7 10-1 7 5-2 15-9 0zM624 104l3-6 11 0 2 1 4 12-7 10-5-3zM104 612l2-5 12 2 5 13-1 4-15 4zM-16 150l9-4 5 3 6 14-1 3-5 5-6-1-9-9zM683 351l12-5 5 18-3 9-13-12zM445 645l1-5 11-2 8 11-1 9-9 4-4-3zM662 308l1-2 14 0 4 4 1 13-9 6-6-1zM304 331l7-2 6 7 2 12-6 4-1 0-8-9zM27 90l9 2 3 4 2 10-8 7-1 0-7-9zM387 284l7-6 7 7-1 12-3 3-10-6-1-1zM737 152l9 0 6 10-2 7-8 3-5-2zM867 376l13 6-3 13-10-2-3-6zM154 645l4-9 2-1 8 11 0 11-2 1-8-1zM625 262l3-6 9 3 7 7 0 9-14 4-2-4zM408 18l4-7 11 4 3 11-8 9-9-7zM391 581l8-3 7 7 1 12-6 4-11-12zM688 553l9-4 8 12-5 7-8-1zM711 33l5 0 9 8 2 11-11 5-11-14zM688 571l4-4 8 1 7 16-6 5-12-9zM778 527l6 1 3 3 2 11-5 7-3 0-10-10zM444 624l7-5 7 7 1 6-2 6-11 2-3-7zM234 575l5-7 3 0 9 6 3 10-7 5-14-5zM61 630l0-9 10-3 7 12-3 12-1 0zM543 302l1-13 14 9 0 9-5 5-5-2zM513 457l5-3 10 3 2 2 0 13-7 2-8-6zM555 22l4 0 9 13 0 6-13 6-4-7-1-5zM285 34l11-1 2 1 2 9-5 11-2 0-8-9zM690 61l11-7 4 8 0 10-7 3-7-8zM349 492l0-1 9-9 4 1 5 14-3 7-6-1zM895 690l12-3 4 7-2 9-4 2-6-4zM368 701l4-5 8 0 5 6 2 6-6 7-9-1zM363 468l4-6 9 3 2 2 1 6-5 9-8-2zM128 183l5-9 9 7 0 11-3 3-7-3zM827 289l6-9 11 6 3 15 0 3-9 1zM547 630l12 3 3 7-3 14-3 1-9-11zM324 78l5-9 3 0 8 13-7 8-4-1zM774 185l10-5 2 2 5 8-1 8-6 2-8-8zM658 459l2-2 9-2 7 11-4 13-9-2zM91 206l10-9 1 0 3 2 2 5-3 16-2 1-11-11zM733 241l4-4 8 0 8 10-3 10-7 2-8-6zM671 528l12 1 3 6-4 13-12-10zM405 -19l12 0 2 5 0 9-7 3-6-3zM279 78l8 0 3 4 0 11 0 2-8 1-4-5zM354 631l2-7 13 2 0 13-6 3-3-2zM692 488l6-6 7 4 2 11-5 5zM516 353l8-8 6 5 3 7-5 8-6-1zM475 584l7-5 2 1 3 8-1 10-5 3-7-6zM14 241l-1-5 10-1 9 9 1 7-3 5-10-4zM566 412l1 1 9 9-7 14-11-15zM319 420l5-5 10 3 2 13-3 5-9-1zM293 658l12-1 0 1-2 18-10-6zM-9 650l8-3 4 4 2 3-1 8-9 2zM271 418l7-7 5 3 3 15-7 2zM488 382l1-4 8-2 7 5-5 16-6-2zM180 158l0-1 11 8 1 6-2 7-7 4-8-10zM200 329l1-1 7 10 1 10-1 0-12-4-2-2zM787 531l6-3 9 5 0 12-3 3-10-6zM229 169l6-4 10 6-2 7-10 6-6-10zM813 382l1-2 15 8 1 6-10 5-5-5zM893 205l2-4 10-2 4 9-8 13-2-1zM206 76l7-5 5 5 0 15-12-5zM571 390l9-2 6 9-1 10-2 0-11-7zM330 610l4-6 13 9-3 10-9 1zM208 488l11 2 2 7-5 10-10-8-1-1zM587 434l9 0 4 5 2 10-8 3-6-6zM417 451l1 0 9 7-5 14-11-8 0-5zM117 76l9 6 2 11-8 4-8-9zM68 9l11-3 4 13 0 1-7 3-6-5zM16 507l4 4 2 11-6 8-9-11zM822 455l8-2 5 8-9 9-6-2-1-2zM370 678l7-10 8 9 1 7-6 4-8-5zM416 350l4-8 10 4 2 15-12 0zM836 579l1-4 10-2 7 14-1 4-9 1zM853 18l9 4 1 12-4 4-12-6zM603 405l5-7 7 1 4 9-8 7-7-10zM641 508l5-3 7 3 1 11-2 2-8-3zM514 272l3-8 9 5 2 9-8 5zM321 244l1-1 9 3 3 15-7 5-6-6zM371 119l6-3 9 5-1 12-8 5zM146 556l8 1 4 14-9 3-4-5zM343 588l4-7 8 5 0 9-6 4-6-6zM310 8l6-5 2 0 6 10-4 9-9-1zM29 655l5-7 6 6 1 12-4 1zM819 95l8 2 3 6-4 9-12-5-1-2zM547 555l7-5 6 10-4 9-9-5zM-2 149l9-5 9 10-1 5-11 4zM795 601l1-3 10-5 2 1-1 17-4 1zM454 380l2-8 8 0 6 15-2 5-4 1zM672 495l1 1 10 13-1 3-14 0-1-2zM725 635l1-2 1-1 9 8-1 10-8 0zM374 327l11 2 3 12-10 0zM199 -13l4-3 9 8 0 5-7 6-5-5zM226 119l6-9 9 5 0 15-11-4zM99 436l6-10 5 3 8 12-1 1-12 2zM853 591l1-4 10-1 4 5-1 10-10-2zM675 226l3-8 3 0 9 18-1 1-6 2zM568 194l5-12 9 16-7 7zM229 672l8-6 6 14-9 5-2-1zM481 308l6-6 8 6-1 11-6 4-5-7zM824 289l3 0 11 16-4 6-9-5zM539 171l8 2 4 19-1 0-12-8zM273 619l8 5 1 11-5 1-8-6zM632 591l3-3 10 3 3 11-8 3-7-8zM726 265l-1-3 8-3 7 8-3 9-2 0zM835 105l5-2 6 6 1 7-7 6-2-1zM-8 619l2-1 9 6 2 6 0 1-6 5-10-5zM225 219l11 10-12 8-4-6zM288 4l4 0 4 14-2 4-12-6zM444 596l5-8 8 2 2 14-6 1zM95 84l1 1 7 13-3 8-11-1-1-2zM532 -9l7 5 0 11-9 4-3-6zM628 530l9 1 3 6-2 9-10-3zM13 66l2-5 7 0 7 9-6 9zM827 182l5-8 4 1 4 8-4 7-8-3zM846 33l1-1 12 6 4 8 0 1-8 4zM486 366l3-3 7 3 1 10-8 2zM334 482l3-3 12 12 0 1-3 3-8 0zM772 440l9 7 0 10-1 1-10-2zM815 432l2 1 2 6-3 10-3 1-6-8zM173 507l2-1 13 8-1 12-11-6zM679 5l1 0 6 7-1 8-6 2-6-7zM131 247l10-3 4 6-2 11-7 0zM527 117l1-6 8 3 3 11-7 1zM550 366l4-3 8 5 0 8-7 3zM656 70l9-6 3 11-9 4zM324 143l6-4 4 3 0 8-6 4zM614 573l6 0 3 10-9 2-2-6zM881 226l11 1 2 10-11 2zM784 80l6-3 8 12-12 4-1-2zM623 394l6-10 7 14-3 5-6-2zM584 630l3-6 11 5-3 7-7-1zM861 94l6 6-1 9-7 0-3-5zM471 92l7-8 8 11-3 10zM217 510l4 4 3 6-5 7-7-2-2-4zM400 253l2 0 2 2 2 14-15-3zM355 188l9-1 4 10-7 2-6-6zM832 211l2 0 8 10-1 6-2 1-6-5zM689 237l1-1 14-2 1 14-6 4zM553 312l5-5 6 9-2 7-6-2zM627 67l1-5 11 0 1 9-7 4zM224 456l9 0 1 11-8 3-1 0zM702 434l1-2 14 5 0 3-9 5-5-4zM368 329l6-2 4 14-3 5-8-9zM56 697l11-6 2 15-4 2zM24 640l9 5 1 3-5 7-8-4zM328 388l3-1 7 20-1 1-9-5zM527 310l10-1 3 6-6 6zM258 137l3-5 8 6-1 7-7-1zM844 331l2 0 2 12-7 4-7-8zM398 111l3-4 10 10-4 10-3 0zM641 626l3-3 8 4-1 10-7 0zM389 265l2 1 3 12-7 6-6-8zM307 614l8-7 3 3 0 12-5 1zM539 584l6-9 8 11-2 3-9 0zM614 176l4-3 10 11-1 4-12-4zM748 105l1 0 6 13-10-1-2-4zM858 311l3-9 9 6 1 9-1 1zM649 -6l8-1 1 16-3 0zM357 104l8-1 4 14-13-3zM741 199l7-1 2 13-5 2zM243 133l6 2 2 11-6 3-2-2zM360 322l3-12 10 13 1 4-6 2zM140 322l1 0 11 9-8 8-6-4zM148 644l6 1 4 12-2 2-10-2-2-4zM178 120l8-1 5 13-10 2zM820 468l6 2 3 6-6 9-2-2zM195 533l4 0 8 7-9 13-2-1zM15 178l5-6 6 4-1 9-5 1zM901 379l5-4 7 3 1 1-5 11zM481 388l7-6 5 13-7 3zM219 5l7-2 1 2-2 9-6-1zM487 588l7 6-1 8-7-4zM880 530l3 0 4 15-6 2-2-2zM-6 349l6-1 6 7-3 7-6-3zM362 157l4-4 3 1 3 9-3 4zM198 239l8 5-3 6-8-5zM154 366l-1-6 11-3 0 16-3 1zM579 37l6-3 3 7-6 5zM228 255l3-5 5 1 3 5 0 3-6 6zM42 631l3 0 2 16-2 0-6-6zM299 303l5-6 4 8-4 8zM700 592l4 17-10-6zM233 54l9 2 1 4-7 6zM474 298l0-1 10-1 3 6-6 6-3-2zM616 310l1-1 2-2 12 9 0 4-5 2zM900 15l4 3-2 9-8-4zM201 328l1-3 10 2 2 6-6 5zM481 178l14 6-1 4-9 3zM721 686l6-2 3 4-2 7-9-5zM452 75l6-2 4 13-8 0zM57 486l3 5 0 8-9 0-1-4zM454 86l8 0 4 5-5 7-2-1zM801 -5l4 6-6 10-7-7zM142 90l4-6 5 10-4 4zM702 629l5-9 1 1 2 18-1 0zM176 238l5-2 7 13-1 2-7-2zM418 405l1-2 6 1 3 12-1 2zM329 36l9-4 4 7-10 7zM604 9l9-3 5 7-11 5z"/><path fill="#3b4fd0" d="M682 512l1-3 6-5 13 0 6 7 5 10-1 13-4 8-11 2-11-9-3-6zM186 119l2-9 7-8 9-1 10 6 6 11-1 18-2 3-12 3-11-6-3-4zM821 12l1-13 7-7 8-1 13 10 3 17-6 14-1 1-1 0-12-4-9-7zM429 51l1-8 6-11 0-1 16 3 11 20 1 9-6 10-6 2-4 0-10-5-6-7zM588 462l6-10 8-3 9 5 7 11 2 5-2 15-3 3-9 3-11-5-7-8 0-2zM53 393l6-9 8-4 13 7 7 9 1 7-7 18-10 1-13-9-5-11zM902 602l9-7 4 2 11 10 4 6 1 14-7 9-13 1-11-18-1-2zM824 134l7-12 7-1 2 1 9 7 5 11-1 17 0 1-11 0-12-6-5-9zM588 -7l0-10 8-11 14 7 6 12-3 15-9 3-7-3-8-10zM664 701l2-3 14-4 8 6 4 10 1 14-1 1-5 6-10 2-3-3-9-13zM405 523l1-3 16-5 7 5 8 19-8 12-8 3-11-8-4-7zM853 158l0-1 12-5 10 5 7 8 3 13-4 11-10 3-14-8zM60 281l6-11 6-2 11 4 6 16-5 17-2 1-12-2-1 0-8-12zM358 567l4-8 10-2 9 4 5 5 5 15-1 8-10 9-6-1-11-8-2-4zM454 527l4-7 11-3 5 3 4 5 5 9-2 19-6 6-9-2-8-7-4-8zM827 545l8-9 2 0 11 10 5 14 0 3-6 10-10 2-13-14zM532 671l5-11 4-1 13 4 4 8 1 9-4 10-10 0-8-5-5-10zM275 385l2-2 9 0 9 8 5 13-6 11-11-1-5-3-5-12zM287 259l1-1 3-1 14 3 7 10 2 8 0 9-1 3-9 5-13-7-5-7zM197 213l1-9 5-6 9-2 12 10 1 13-5 12-11 1-8-6zM197 26l12-8 4 2 9 9 3 9 0 8-6 6-11-2-7-7zM438 120l6-12 11 2 2 1 6 6 4 11-3 12-8 5-7-1-11-13zM794 171l4-12 10 1 6 3 1 2 4 14-2 10-7 4-8-3-1-1-6-12zM547 235l9-8 7 0 9 10 4 12-6 11-11 0-10-10zM345 158l5-5 12 4 7 10 1 4-1 10-5 6-9 1-9-9-3-5zM901 431l4-10 6-4 11 5 7 10 2 12-10 12-11-6zM32 140l2-9 6-6 13 1 6 8 1 12-3 13-2 1-14-3-6-9zM550 157l2-4 10-6 0-1 8 6 6 14-2 10-2 3-9 0-11-11zM847 441l3-7 6-6 8 1 6 7 5 11 0 6-7 8-10-1-8-7zM222 293l3-2 12 0 7 12 1 8-7 11-16-5-4-11zM30 256l3-5 14 2 7 7 0 18-4 4-10 1-3-2-7-13zM346 232l4-9 7-2 10 4 5 9-3 18-12 1-6-5-3-5zM26 347l10-6 9 5 6 12-3 13-7 6-12-11-3-6zM738 29l7-13 13 5 2 1 6 16-5 10-7 2-7-3-8-10-1-3zM-11 491l6-11 14 8 7 15 0 4-9 12-4-1-9-7-3-5zM595 201l10-9 7 0 9 13 0 7-3 7-9 4-9-6zM29 509l1-5 8-6 11 6 4 12-4 9-9 3-4-2-2-2zM5 131l2-5 1 0 13 1 6 12-2 11-9 4-9-10zM896 532l3-9 11-3 8 6 3 6 0 17-9 7-12-7zM516 290l4-7 8-5 16 10 0 1-1 13-6 7-10 1-9-12zM427 443l4-8 11 1 10 16 0 1-4 13-4 3-10-3-7-8zM780 43l3-5 10-3 4 3 6 10 1 16-4 2-16-5zM91 73l1-6 7-8 8 1 9 11 1 5-5 12-1 1-15-4-1-1zM156 39l4-10 14 2 5 11 0 1-6 14-12-1-5-6zM719 467l0-2 8-13 3 0 9 7 5 14-3 11-9 3-10-9zM660 356l1-10 7-6 9 3 6 8 1 10-1 4-6 5-3 1-11-6zM893 306l5-10 15 2 5 10 0 7-6 13-9 2-8-12zM711 700l3-7 5-3 9 5 8 9 2 5-7 14-11-1-7-8zM448 212l12-5 2 1 1 0 10 16-2 12-7 2-10-3-5-9zM658 231l5-9 12 4 8 13-3 10-3 3-11-2-8-10zM738 125l7-8 10 1 4 3 5 11-1 13-3 2-12 0-10-13zM497 577l2-9 12-2 4 2 4 9 1 11-1 2-7 6-6-1-5-4zM797 655l2-3 13 5 1 0 3 10-2 10-2 2-13 0-5-6 0-1zM310 596l5-15 2-1 11 6 6 12 0 6-4 6-12 0-3-3zM29 297l12-3 7 5 4 17-7 9-13-8zM550 195l0-3 1 0 9-3 8 5 7 11 0 9-10 4-10-7zM14 656l2-4 5-1 8 4 8 12-2 10-6 6-7 0-10-14zM812 363l6-6 9 3 5 5 4 11-7 12-15-8zM549 333l2-9 5-3 6 2 7 8 1 7-1 5-8 5-9-4zM855 291l3-10 3-3 10 0 4 6 4 16-9 8-9-6-5-8zM268 493l8-3 8 2 7 8-2 15-6 2-11-4-2-2zM56 360l4-11 4-2 11 4 3 13-2 8-9 3-9-9zM570 260l6-11 8-1 4 3 6 12 0 13-7 4-7-1-9-13zM466 621l6-11 9 1 4 5 3 11-6 12-7 0-3-4zM692 332l8-8 6 2 10 13-2 13-4 3-1 0-14-9zM80 345l0-4 12-6 8 5 5 10-5 9-5 2-7-3zM81 421l7-18 13 8 4 15-6 10-10-1zM-12 214l2-8 6-5 10 3 8 12-3 16-12-1-10-9zM202 384l7-8 9 2 6 8-1 11-7 9-9-7-4-9zM612 588l2-3 9-2 9 8 1 6-6 10-4 1-6-3-5-7zM460 248l4-10 7-2 10 10 1 14-10 8-7-2-2-3zM283 695l8-9 5 1 10 10 0 18-11 2-8-9zM826 246l12-2 4 3 4 8-1 15-12 5-12-17zM67 160l1-5 8-6 6 4 6 8-2 14 0 1-11-2zM612 702l9-6 8 3 6 18-4 9-10 1-8-16zM791 454l3-13 13 1 6 8 2 14-10 6-6-1-6-6-2-6zM550 487l2-4 13-1 6 7 2 6-6 16-2 1-10-7-4-9zM361 367l0-4 5-8 9-2 10 13 0 6-9 10-4 0zM163 431l5-11 2-1 15 7-2 18-9 3-6-3zM672 401l-1-2 3-12 10 0 9 7 3 10-5 9-7 4-3-2zM294 124l4-7 7-3 8 4 3 14 0 2-15 4-2-1zM648 375l8-6 2 1 9 12-4 10-6 3-7-3-3-8zM900 146l4-14 8 2 9 7 0 14-6 4-8-4zM695 287l3-1 14 8 4 6-7 11-13-1zM298 34l8-11 4-1 10 13 1 12-2 4-11-1-8-7zM140 680l1-6 5-3 9 4 7 12 0 3-4 8-8 1-7-7zM664 13l1 0 8 2 6 7 3 11-2 6-6 2-10-7-2-3zM404 474l1-5 6-5 11 8 4 7 0 1-5 10-6 0-8-6zM464 -15l8-2 6 3 4 9 0 10-8 7-6 0-9-13zM583 407l2 0 4 1 8 8 2 4-3 14-9 0-1 0-8-11zM834 311l4-6 9-1 7 8 0 14-8 5-2 0-8-10zM29 596l9-11 6 2 5 4 4 10 0 1-9 9-6-2-8-10zM744 675l1-1 8-1 6 4 2 17-10 6-8-8-1-1zM176 491l4-5 3 0 11 11 2 12-8 5-13-8zM795 627l7-6 9 6 3 6 1 8-4 4-13-3-1-2zM15 159l1-5 9-4 4 3 7 10-1 14-9-1-6-4zM709 201l1-5 4-5 6-2 8 5 2 15-5 8-6 2-8-10zM150 392l1-9 9-1 6 5 4 11-1 5-13 2-3-3zM136 31l9-4 5 3 6 9 0 11-9 3-6-4-5-7zM675 289l6-10 1-1 13 9 1 23-15 0-4-4zM609 270l6-4 13 9 2 4 0 1-4 11-8 3-4-2-5-6zM253 35l2-6 7-5 1 0 9 6 2 15-4 5-6 1-9-7zM48 671l3-1 11 4 7 11 0 1-2 5-11 6-2 0-7-12zM168 646l8-7 9 8 2 5-2 11-3 2-7-1-7-7zM145 170l7-8 8 1 7 15-1 10-10 2-10-12zM137 101l10-1 9 10-1 10-9 7-11-11zM323 368l6-11 13 7 0 2 0 14-9 4zM690 24l4-11 3-3 8 5 6 18-6 10-2 1-12-15zM609 248l5-9 9 1 4 6 1 10-3 6-9 2-7-11zM275 236l3-5 9 0 4 5 3 9-3 12-3 1-11-12zM-6 262l3-11 12 1 5 6 2 10-6 9-14-8zM816 570l6-9 2 0 13 14-1 4-4 8-6 2-7-7zM589 385l5-7 6 0 7 9 1 11-5 7-7-4-5-6zM435 -15l1-2 11-3 5 5 5 14-11 6-7-7zM320 320l0-1 6-5 7 3 5 5 3 11-7 8-1 0-10-10zM389 393l3-8 12-3 5 13-2 11-11-3zM400 505l3-11 10 2 7 8 2 11-16 5zM73 101l3-3 12 5 1 2 0 13-9 5-11-10zM444 494l6-6 2 1 8 9 1 11-5 5-9-2-3-7zM750 169l2-7 8-2 8 7 2 14-9 2-7-4zM887 42l2-1 11 9 1 11-7 7-13-9 0-1 0-4zM782 608l6-7 7 0 8 11-1 9-7 6-11-8zM527 444l5-6 8 2 5 7 1 7-6 7-10-2-2-2zM715 62l1-5 11-5 6 6 3 11-3 8-9 2-4-4zM83 20l0-1 9-5 10 5-2 18-10 0-5-7zM337 466l8-7 8 8 5 15-9 9-12-12zM161 239l9-5 6 4 4 11-7 9-5-1-7-10zM427 418l1-2 12-3 2 1 4 16-4 6-11-1-5-8zM644 400l6-8 7 3 6 13-3 8-7 5-7-8zM724 79l9-2 9 6 0 2 0 13-8 5-10-9zM155 -16l4-7 1 0 13 10 1 15-9 5-7-2-3-5zM259 368l3-5 13 2 2 18-2 2-13-2-3-3zM568 441l2-3 7 3 6 8 1 9-5 5-8-2-4-5zM546 -4l1 0 8-1 10 9-6 18-4 0-9-13zM306 101l-1-9 7-5 10 10 2 11-5 6-3 0zM167 674l7 2 7 6-5 16-14-8 0-3zM294 576l9-6 12 11-5 15-9-2-3-2zM353 442l5-1 1 1 8 12 0 8-4 6-10-1-8-8 0-3zM337 695l5-3 12 3 3 3-2 16-6 3-5-2-6-9zM761 517l5-5 6 5 6 10-7 12-4 1-8-11zM522 491l1-1 11-3 3 1 5 12 0 9-3 1-14-6zM803 403l1-10 11 1 5 5 1 9-4 6-4 1zM618 294l8-3 10 7 2 11-7 7-12-9zM333 504l5-9 8 0 8 19-2 3-12 5zM60 27l2-4 8-5 6 5 3 8-1 6-6 5-11-9zM683 449l6-10 9 8 3 9-4 6-5 1-6-4zM482 639l6-12 9 1 5 6 1 14-2 5-7 1zM333 212l5-4 10 9 2 6-4 9-9-1-5-10zM305 405l6-12 7 2 6 9 0 11-5 5-8-3zM247 589l7-5 9 6 1 15-9 6-8-5-2-6zM173 199l0-2 10-12 9 9 1 7-3 6-8 2zM117 442l1-1 9-5 12 11 0 5-10 10-2-1-8-9zM169 589l1-5 8-2 7 6 1 6-5 10-7-3zM391 547l7-9 8 1 4 7-3 13-4 4-4-1-1 0zM724 670l9-4 11 9-2 16-12-3-3-4zM495 260l10-7 11 9 1 2-3 8-3 3-6-1-5-5zM419 683l0-1 10-7 8 3 3 4 1 14 0 2-9 2-11-11zM389 452l8-9 8 6 6 10 0 5-6 5-15-8zM490 232l5-2 11 12-1 11-10 7-8-15zM581 234l6-7 8 1 5 7 1 5-4 9-9 2-4-3zM653 438l5-5 12 5 2 5-3 12-9 2-6-9zM361 517l4-10 10 0 2 2 5 15-1 2-10 5-6-4zM223 397l13 3 1 1 0 20-20-9-1-6zM389 19l3-9 7-1 9 9 1 10-8 5-7-5zM630 280l0-1 14-4 5 8 1 5-3 8-11 1zM561 548l6-10 10 7 2 4 1 11-9 4-6-4zM641 642l3-5 7 0 9 10-7 14-10-7-2-3zM36 433l9-8 10 10 1 11-1 5-3 2-10-4zM629 384l0-1 7-5 11 6 3 8-6 8-8-2zM250 669l4-2 8 3 3 4-1 13-1 1-11-1-3-5zM838 530l13-8 1 0 1 1 6 17 0 2-2 2-9 2-11-10zM49 504l2-5 9 0 6 5 1 15-5 2-9-5zM768 167l5-7 9 4 2 3 0 13-10 5-4-4zM832 365l4-8 5-2 9 7 1 2-3 14-12-2zM574 303l7-1 7 14-6 10-6-2-4-10zM65 -13l4 0 13 12-3 7-11 3-7-6 0-1zM496 614l1-3 8-1 10 11 1 4-5 10-9-1-5-6zM808 594l4-2 11 7 2 13-6 8-2-1-10-8zM519 313l8-3 7 11 0 10-11 1-5-6zM719 220l0-1 6-2 9 3 3 17-4 4-11-4zM622 126l0-3 10-5 5 3 6 10 0 1-7 11-12-8zM45 239l4-5 11 3 4 10-9 13-1 0-7-7zM352 86l4-2 7 3 6 9-4 7-8 1-5-9zM665 634l7-5 10 5 0 12-5 5-10-1-3-3zM255 611l9-6 9 14-4 11-2 1-10-10zM805 470l10-6 4 2 1 2 1 15-5 4-7-1-3-5zM417 369l3-8 12 0 2 2 3 10-4 9-6 2-1-1zM705 486l5-9 1-1 8 4 4 12 0 5-8 6-8-6zM467 323l2-6 3-2 11 1 5 7 1 2-5 11-10 1-2-1zM100 359l5-9 4 0 9 14-6 14-6-2zM405 439l1-11 8-2 5 3 2 12-3 10-1 0-9-6zM189 684l5-9 10 1 5 16-14 2zM487 464l3-6 6-2 7 5 3 12-11 7-5-3zM579 670l6-10 10 9 3 10-4 6-10-2-4-5zM460 571l6-14 9 2 7 20-7 5-12-4zM322 97l7-8 4 1 7 7 1 13-10 3-7-5zM659 587l5-3 11 0 3 6 2 16-8 1-12-10zM233 265l6-6 9 4 5 7-3 12-12 1-5-7zM863 633l0-3 8-6 8 6 2 5-4 11-9-4zM385 372l0-6 5-2 10 6 4 11 0 1-12 3zM292 4l3-3 4-2 11 9 1 13-1 1-4 1-10-5zM783 3l3 3 6 14-2 5-10 3-6-6-1-4zM790 269l7-5 3 1 4 4 2 5-1 14-1 1-15-10-1-2zM62 521l5-2 1 1 9 13-6 9-9-3-2-3zM464 482l1-3 14 1 1 0 2 17-6 5-9-7zM385 677l6-8 9 5 2 5-6 14-10-9zM833 414l3-9 9 3 7 9 0 5-5 6-7-1-7-8zM169 118l4 0 5 2 3 14-2 5-9-1-6-6 0-3zM897 -16l8-1 6 13-2 8-9 0-5-6zM604 93l7-3 2 1 7 14-4 8-3-1-8-6-2-4zM780 -6l5-10 14 4 2 7-9 9-6 2-3-3zM845 87l3-7 12 6 1 8-5 10-4-1-5-7zM189 9l3-11 8 0 5 5 4 15-12 8-1-1-5-5zM364 410l1-4 2-3 14 8 1 11-11 5-2-2zM-8 601l0-1 10-1 5 2 2 12-6 11-9-6zM105 277l4-1 11 8 0 13-8 2-11-9zM0 90l6-5 10 5 2 14-5 5-11-7zM-6 237l5-6 12 1 2 4 1 5-5 11-12-1-4-8zM259 66l6-3 8 3 4 11-8 11-10-11zM759 360l6-6 9 6 3 12-8 8-11-8 0-1zM182 217l0-8 8-2 7 6 4 13-4 4-11-4zM863 401l4-8 10 2 2 3 1 12-5 5-8-2zM375 83l8-2 3 4 2 8-3 10-8 1-8-8zM667 650l10 1 6 7 1 10-8 7-8-7zM184 455l3-6 9-1 9 20-5 8-12-3-1-1zM636 144l0-1 7-11 9 8 4 12-5 7-2 0zM570 152l8-7 8 1 0 1 4 13-7 6-7 0zM511 647l2-6 8 2 6 8-5 10-5 1-1-1zM660 294l2-6 6-2 7 3 2 17-14 0zM325 181l5-1 9 10-2 14-11-4-5-7zM45 631l4-3 11 3 2 14-6 8-9-6zM376 646l11-2 4 10-2 10-13-2-2-2zM815 262l1-3 5-1 12 17 0 5-6 9-3 0-5-3-4-8zM248 379l11 1 3 3 2 13-5 7-5 1-5-4zM307 424l4-7 8 3 5 15-4 6-9-3zM163 152l7-2 10 8-5 14-2 0-12-9zM742 416l6-5 8 6 2 8-2 8-5 1-7-4 0-1zM541 348l10 0 3 8 0 7-4 3-5-1-6-7zM677 336l9-8 6 4 3 14-12 5-6-8zM584 611l10-6 7 11 1 10-4 3-11-5zM114 3l6-2 10 11-2 12-4 2-12-12zM-16 376l0-3 11-4 3 2 4 6 1 7-5 4-11-3zM71 647l3-5 1 0 8 4 5 16-4 3-11-2zM444 469l4-3 11 2 6 11-1 3-12 7-2-1zM234 94l4-1 9 8-2 13-4 1-9-5-1-4zM140 540l7-7 1 1 12 16-6 7-8-1-6-9zM87 139l8-4 8 9 1 10-1 2-10 0-5-8zM635 415l1-1 10-1 7 8-6 14-4 1-5-2zM767 27l7-5 6 6 3 10-3 5-4 1-10-6zM171 466l8-2 8 8 1 1-5 13-3 0-11-11zM751 459l3-10 7 1 6 7-2 12-7 0-5-3zM340 97l3-3 9 1 5 9-1 10-2 2-10-3-3-3zM863 198l8-2 7 8-2 16-7 0-7-10zM33 113l8-7 5 2 7 13 0 5-13-1zM161 56l12 1 4 8-4 9-8 3-3-3zM718 102l3-7 3-1 10 9 1 5-4 9-7-1zM-3 587l7-9 6 4 2 3 2 8-4 7-3 1-5-2zM339 657l6-2 2 1 2 2 1 13-6 6-10-11zM409 304l4-3 6 2 4 17-5 4-11-12zM891 366l8-10 4 2 3 4 0 13-5 4-6-1-3-5zM417 187l6 2 7 10-2 9-14-7zM685 130l4-3 9 8 0 10-8 4-4-2-2-7zM296 617l1-4 3-1 7 2 6 9-1 8-10 4zM300 -10l1-1 10 0 5 14-6 5-11-9zM612 338l1-6 11-2 5 8-2 8-7 3zM417 563l4-9 12 9 0 4-4 8-10-3zM84 665l4-3 9 4 3 7-4 10-9-2-3-3zM59 134l8-1 9 14 0 2-8 6-8-9zM-18 281l5-8 7 0 6 17-13 1zM777 585l0-1 6 3 5 14-6 7-8-5-3-6zM682 162l10-3 3 3 3 12 0 2-15 2-1-2zM517 244l1-1 12 6 2 4-1 12-5 4-9-5-1-2zM481 601l5-3 7 4 4 9-1 3-11 2-4-5zM355 135l8 6 3 12-4 4-12-4-1-4zM211 627l3 0 8 4 3 16-6 4-9-10zM507 474l8-6 8 6 0 16-1 1-10-5zM5 677l5-8 2 0 10 14-2 4-10 3-3-2zM599 697l9 1 4 4 1 9-7 7-3 0-6-7zM52 217l5-7 5 2 6 11-7 8-8-7zM407 70l6-8 7 5 4 9-7 10-7-3zM674 66l4-8 10 1 2 2 1 6-6 12-8-6zM530 638l5 0 6 7 0 14-4 1-10-9zM351 64l6-8 9 5 0 14-3 2-7 0-4-6zM806 127l6-4 12 11 1 9-10 3-7-4zM832 601l6-5 3 1 6 11-3 10-1 1-8-6zM153 197l3-7 10-2 7 9 0 2-3 4-9 2-7-5zM270 674l3-8 9 0 5 7 0 5-9 6-2-1zM182 300l2-10 6 0 6 6 2 9-2 7-5-1zM251 697l1-2 11 4 2 4-2 13-5 1-4-3zM528 365l5-8 6 1 6 7-2 11-11 1zM729 366l8-8 7 6 1 9-4 7-6-1zM449 418l9-3 8 17-9 4-7-6zM501 155l10-10 5 4 2 13-5 7-4 0-4-2zM647 235l9 6 2 13-9 4-7-10zM135 155l0-1 10-5 7 13-7 8-5-3zM48 702l6-5 2 0 9 11-2 13 0 1-12-5zM118 658l7 4 4 7 1 8-9 3-5-4zM882 242l1-3 11-2 7 6-6 13-9-6zM56 446l10-7 1 1 5 10-2 8-7 1-8-8zM210 447l14 9 1 14-9 1-6-4zM809 486l7 1 7 12-1 9-2 1-14-10zM375 186l2-8 7-3 6 9-2 13-3 0-9-6zM80 534l4-7 3 0 9 6 2 7-8 5-7-4zM595 82l7-7 6 3 3 12-7 3-2-1zM367 543l5-9 9 4 3 6-5 7-8-1-4-4zM733 58l9-4 5 6-1 12-3 2-7-5zM344 254l7-6 6 5 3 12-12 4-5-7zM695 201l7-4 7 4 2 8-5 10-11-12zM600 372l5-7 4 2 6 10-3 9-5 1-7-9zM735 591l3-6 11 2 2 10-4 7-7 0zM551 589l2-3 1 0 7 5 4 12-1 3-11-2-3-5zM891 586l4-6 10 0 6 15-9 7-3-3zM397 163l-1-3 5-8 11 5 2 5-3 13-9-3zM828 347l6-9 0 1 7 8 0 8-5 2-6-5zM207 540l1 0 4 4 1 15-2 5-13-11zM538 44l13-4 4 7 1 3-8 9-9-9zM252 318l8-2 9 9 2 3-11 11-9-9zM244 303l15-6 1 0 0 19-8 2-7-7zM697 462l4-6 7 2 1 1 3 16-1 1-1 1-8-5zM520 396l10 1 4 13-10 4-7-6zM419 56l2-9 8 4 3 12-5 2-4-2zM158 592l1-3 10 0 5 12-6 8-7-5zM571 400l1 0 11 7-5 16-2-1-9-9zM261 242l4-8 10 2 2 10-6 7zM185 647l3-7 7-2 7 7 0 1-5 12-1 0-9-6zM656 605l4-8 12 10-4 10-9-3zM370 197l6-6 9 6-1 10-6 5-2-1zM43 570l9 1 6 8 0 1-9 11-5-4zM224 239l0-2 12-8 4 17-4 5-5-1zM736 348l11-2 4 10-2 6-5 2-7-6zM539 388l8-5 1 1 7 14-4 4-8-1-4-5zM570 281l7 1 6 16-2 4-7 1-7-8zM146 657l10 2 2 11-3 5-9-4zM506 549l5-7 3 2 6 10 0 8-5 6-4-2zM89 288l9 3 1 16-5 3-10-5zM911 404l0-1 12 5 2 7-3 7-11-5zM351 277l9-5 9 13 0 1-1 1-6 3-11-6zM846 109l6-6 4 1 3 5 0 11-7 1-5-5zM41 377l7-6 5 2 6 11-6 9zM-9 134l2-3 12 0 2 13-9 5-5-3zM834 211l6-7 6 1 6 9 0 6-2 2-8-1zM525 74l2-2 10-1 2 4 1 10-7 2zM26 567l2-9 4 1 9 10-7 9-3-1zM879 84l15 6 0 11-9 2-6-8zM40 283l10-1 5 13-7 4-7-5zM432 700l9-2 3 8-2 8-8 1-4-7zM97 266l2-8 9-1 5 12-4 7-4 1zM523 332l11-1 1 1 2 11-7 7-6-5zM886 269l0-1 12 8 2 4-5 10-10-4zM749 536l7-8 3 1 8 11-2 8-11-2zM131 528l3-8 7 0 6 13-7 7-5-4zM628 565l4-7 7 1 5 7 0 5-8 3zM170 203l3-4 9 10 0 8-5 4-6-5zM331 246l5-3 8 11-1 8-9-1zM415 149l0-4 4-6 6 4 5 14-5 5-1-1zM6 204l3-6 6 0 5 7-1 11-5 0zM365 103l4-7 8 8 0 12-6 3-2-2zM707 221l12-1 3 17-2 1-14-7zM631 320l0-4 7-7 5 3 5 9-2 11-10-4zM772 517l5-10 5 0 4 7-2 14-6-1zM349 549l11 5 2 5-4 8-10-3zM629 699l2-2 10 3 3 15-9 2zM429 575l4-8 10 8 1 5-6 8zM374 275l7 1 6 8-1 9-17-7 0-1zM573 495l1 1 12 12-8 10-11-7zM242 557l7-2 6 5-4 14-9-6zM114 547l8-4 3 3 1 1-1 15-10-4zM519 577l11-1 4 7-4 10-10-5zM518 19l12-6 4 14-6 4-10-6-1-2zM135 485l1-1 14 0 2 13-9 0zM803 48l7-3 5 7 1 7-12 5zM419 303l9-5 1 1 4 12-8 9-2 0zM438 70l10 5-1 10-4 3-8-4-1-1zM9 613l5 2 5 13-14 2-2-6zM134 55l0-2 7-4 6 4-1 13-7-1zM657 -7l1-2 8 0 3 9-4 13-1 0-6-4zM129 462l10-10 7 13-9 7-8-9zM881 148l1-6 14 6 0 15-2 1-6-3zM774 685l2-1 5 3 4 10-2 9-12-8zM9 488l9-5 4 15-6 5zM681 310l15 0 4 14-8 8-6-4-4-5zM291 288l13 7 0 2-5 6-6-1zM836 235l3-7 2-1 8 7 2 5-9 8-4-3zM577 598l3-3 13 4 1 6-10 6-7-9zM156 110l4-2 9 10-5 11-9-9zM142 181l4-3 10 12-3 7-11-5zM571 564l9-4 6 5-5 14-7-2zM524 59l12 0 1 3 0 9-10 1zM852 214l10-4 7 10-4 6-13-6zM550 216l5-5 10 7-2 9-7 0zM223 572l2-6 4-1 5 10-1 9 0 1-2 0zM94 595l9 1 3 11-2 5-13-5zM774 64l3-3 7 0 6 14 0 2-6 3-5-3zM644 111l6 3 1 8-8 9-6-10zM156 659l2-2 8 1 1 16-9-4zM40 212l12 5 1 7-6 4-8-7zM690 658l12-2 4 9-6 10-7-5zM802 250l14 9-1 3-11 7-4-4zM630 642l4-3 7 3 0 9-8 2zM494 188l1-4 4-1 6 4 3 11-4 10-3 1-3-3zM311 -11l0-2 11-1 2 3 1 4-7 10-2 0zM481 246l6-1 8 15-7 4-6-4zM212 66l7-7 8 12-4 6-5-1-5-5zM904 18l10-1 0 14-7 2-5-6zM43 182l7-4 7 12-7 7-1 0zM823 231l8-2 5 6 2 9-12 2zM520 150l6-5 11 14-2 4-10-4zM527 651l10 9-5 11-10-10zM386 36l0-1 8-7 7 5-2 14-5 1zM502 634l9 1 2 6-2 6-8 1zM277 307l13 0 2 9-10 1zM262 383l13 2-2 14-9-3zM401 142l14 3 0 4-3 8-11-5zM449 169l1 0 4 2 2 13-6 4-4-4zM846 74l11-4 5 10-2 6-12-6zM493 698l5-7 6 4 1 9-2 2-8-2zM219 559l4-9 8 13-2 2-4 1zM243 479l3 2 5 13-11-1-3-6zM820 399l10-5 6 11-3 9-12-6zM585 34l5-12 8 7-1 10-7 2-2 0zM80 452l4-2 7 12-7 6-6-6zM833 275l12-5 3 3-3 13-1 0-11-6zM907 33l7-2 4 6-1 9-7 2-1 0zM439 187l7-3 4 4 0 11-4 3-6-5zM865 126l6-3 7 5 2 11-14-2-1-2zM899 493l5-8 9 16-1 1-10 0zM588 251l9-2 4 7 0 7-7 0zM239 704l2-5 10-2 3 17-8 0zM108 -13l10-5 5 6-3 13-6 2zM157 467l3-3 9 11-2 3-9-2zM338 292l1-3 10-2 3 14-8 3zM472 665l4-2 4 11-4 10-5-1zM100 570l9-2 5 12-6 6zM352 517l2-3 7 3 4 10-4 5-5-3zM25 52l6-1 4 4-5 15-1 0-7-9zM155 253l6-6 7 10-8 8-2-2zM523 195l-1-6 10 0 2 15zM777 479l9-6 1 1 2 3-1 16-1 0-6-4zM416 369l1 0 9 14-11 2-2-3zM786 6l6-2 7 7 0 9-7 0zM247 606l8 5 2 10-6 5-10-9zM138 389l12 3 3 10-13 3-1-1zM730 510l0-4 2-1 10 4 1 1-6 9-3-1zM858 244l9-6 6 6-2 6-7 4-3-2zM545 690l10 0 3 7-6 9-8-6zM459 442l5 4 2 7-7 6-7-6 0-1zM33 645l6-4 6 6-5 7-6-6zM363 642l6-3 7 7-2 14-6-2zM687 488l5 0 10 14 0 2-13 0zM404 240l3 0 8 9 1 5-12 1-2-2zM320 35l3-3 6 4 3 10 0 1-11 0zM900 619l11 18-1 3-14-7zM376 662l13 2 2 5-6 8-8-9zM708 542l4-8 9 7 0 8-10-1zM870 513l4 3 5 14-11-1-2-3zM679 22l6-2 5 4 1 5-9 4zM222 29l6-6 9 7-12 8zM742 51l5-4 7 3 1 9-8 1-5-6zM875 157l6-9 7 13-6 4zM641 189l0-1 7-6 2 1 7 15-1 1-3 2-8-4zM850 673l4 2 2 11-7 1-6-5 0-1zM823 599l3-3 6 5 3 12-10-1zM24 584l1-3 6-4 3 1 4 7-9 11zM503 461l5-5 5 1 2 11-8 6-1-1zM626 322l5-2 5 8-3 11-4-1-5-8zM658 309l4-1 5 20-1 0-9-2 0-2zM817 346l0-1 11 2 2 5-3 8-9-3zM146 218l5 3 3 11-11 0zM313 206l9 4 2 9-7 4zM403 563l4-4 10 4 2 9-7 3zM391 236l8-1 5 5-2 13-2 0zM881 379l11-6 3 5-6 10-9-7zM407 240l5-6 6 3-3 12zM36 -13l10-5 1 1 1 6-7 10-3-2zM192 194l5-4 6 8-5 6-5-3zM259 560l12-5 4 8-2 6-4 1zM90 37l10 0 1 2-4 10-8-8zM533 383l6 5 0 8-9 1-1-3zM751 356l8 4-1 11-9-9zM155 675l3-5 9 4-5 13zM394 511l2-6 4 0 6 15-1 3-5-1zM781 141l8 0 4 11-9 1-3-6zM-3 359l6 3 1 4-6 5-3-2zM509 169l4 0 6 16-9-2zM135 -3l8 0 1 1-1 10-6 2-1-1zM558 446l10-5-1 15-6-1zM194 -15l5 2 1 11-8 0-4-4zM197 590l8 0 0 15-8-5zM440 313l3-3 9 4 3 5-6 7-5-2zM446 202l4-3 10 8-12 5zM488 108l11 1 2 3-4 9-3 0zM653 545l4 0 2 12-9-1 0-1zM262 473l3-7 11 7 1 5-1 0-12 0zM174 554l4-7 11 8-4 7zM463 117l3-3 8 5-2 8-5 1zM146 425l7 1 1 2 0 14-9-1zM803 612l4-1 10 8-6 8-9-6zM314 551l8 0 3 5-9 8-1-1zM44 611l9-9 3 14-7 3zM238 93l4-9 8 11-2 5-1 1zM635 44l0-2 11 0-4 15zM496 445l2-1 10 12-5 5-7-5zM910 115l5-5 7 9-3 6zM689 127l2-4 7 2 3 9-3 1zM766 580l11 5-6 12-9-6 0-2zM295 107l8-2 2 9-7 3zM47 228l6-4 8 7-1 6-11-3zM879 630l5-5 7 11-10-1zM452 -15l9-4 3 4-5 14-2 0zM512 695l10-6 1 3-6 15-2-2zM698 125l8-3 0 12-1 1-4-1zM160 108l0-3 9-1 4 14-4 0zM902 510l5 3 3 7-11 3-1-4zM344 677l6-6 5 4-3 8-7-6zM601 555l7 7-7 9-5-4zM885 -3l-2 15-11-10zM55 295l6-3 8 12-10-1zM789 279l15 10-1 5-16-7zM663 477l9 2-1 14-10-10zM592 182l2 0 11 10-10 9-4-4zM842 221l8 1-1 12-8-7zM577 545l2-8 6 9-1 3-5 0zM689 198l6 3 0 6-8 0zM765 506l5-4 7 5-5 10-6-5zM457 111l5-3 4 6-3 3zM415 490l6 0 2 5-3 9-7-8zM183 185l0-3 7-4 8 11-1 1-5 4zM646 234l6-8 6 5 0 9-2 1-9-6zM599 333l11-6 3 5-1 6-12-1-2-2zM830 352l6 5-4 8-5-5zM254 14l2-8 6 2 1 16-1 0zM145 634l3-4 10 6-4 9-6-1zM410 546l11 8-4 9-10-4zM818 34l2-2 9 8-6 5zM730 452l6-6 7 8 0 1-4 4zM335 624l9-1 2 8-11 1-1-2zM119 136l6 11-3 5-6-3 0-1zM95 361l5-2 6 17-10-6zM607 387l5-1 5 7-2 6-7-1zM291 236l7-1 1 8-5 2zM-12 422l11-5 2 3-3 12zM514 544l14 1-1 9-7 0zM887 194l5 0 3 7-2 4-5-3zM247 101l1-1 9 15-2 4-10-5zM260 654l1 1 1 15-8-3zM849 687l7-1 5 7-10 4zM246 357l0-1 7 1 1 7-5 3zM649 74l2-5 5 1 3 9-8-2zM792 312l0-1 12-4 0 16-10-3zM868 642l9 4 1 0-11 9-1-3zM919 125l5 14-3 2-9-7zM27 139l5 1 3 8-6 5-4-3zM347 53l9 2 1 1-6 8-6-6zM610 132l4 1 3 5-3 8-4-2zM126 82l5-2 5 11-1 6-7-4zM377 509l7 2 1 12-3 1zM348 217l6-5 3 9-7 2zM634 618l6-3 4 8-3 3-6-2zM290 82l10 8-10 3zM-11 439l9-6 3 10-7 2zM63 97l10 4-4 12-1 0zM351 201l4-8 6 6-2 8-4 0zM1 6l2-4 3-1 5 10-8 3zM395 527l5-5 5 1 1 16-8-1z"/><path fill="#8ce6d6" d="M489 675l0-9 5-12 7-1 15 8 1 1 6 18-1 9-10 6-8 0-6-4-7-10zM473 152l1 0 8-9 5 0 3 1 11 11 4 12-6 16-4 1-14-6-4-4-1-2zM264 605l-1-15 5-4 14-2 10 10 5 19-1 4-8 7-7 0-8-5zM749 -3l4-13 4-4 9 0 9 7 5 7 3 9-10 15-9-1-9-6-2-3zM208 182l0-1 9-11 10 4 6 10 2 9-6 12-5 1-12-10zM544 279l4-12 10-1 9 9 3 6-3 14-9 3-14-9 0-1zM599 500l8-5 7 3 7 10 0 14-14 5-9-15zM150 484l2-4 6-4 9 2 9 13-1 15-2 1-17-3-4-7zM783 706l2-9 7-5 7 1 6 10 0 12-9 7-1 0-11-12zM876 74l5-15 13 9 1 3-1 19-15-6zM461 98l5-7 5 1 12 13-5 12-4 2-8-5-4-6zM279 121l13 2 2 1 5 13-7 9-11-2-5-8zM316 226l1-3 7-4 8 2 5 10 0 10-1 2-5 3-9-3zM406 285l3-5 13-1 5 7 1 12-9 5-6-2-4-8zM119 385l7-4 11 6 1 2 1 15-9 1-9-6zM20 205l5-5 6 0 8 7 1 5-1 9-6 6-7-2-7-9zM829 446l4-8 7-2 7 5 3 12-6 10-3 1-6-3-5-8zM121 680l9-3 1 0 5 6 4 9-4 9-7 0-6-4-3-8zM205 142l12-3 6 15-7 11-10-7zM846 331l8-5 12 7 1 2-1 10-7 6-6-2-5-6zM10 600l4-7 15 3 1 3-3 17-2 0-8-3zM771 434l4-9 7-2 10 17-6 7-5 0-9-7-1-1zM328 154l6-4 11 8-2 16-12-2-4-8zM94 497l1-4 12-4 7 12-5 14-9 0zM892 23l2 0 8 4 5 6 2 15-9 2-11-9zM225 38l12-8 2 1 6 15-3 9 0 1-9-2-8-8zM884 412l8-8 1 0 12 17-4 10-7 2-10-9zM440 527l6-6 8 6 0 15-13 0-2-3zM885 -3l10 1 5 6 0 11-6 8-2 0-8-7-1-4zM450 188l6-4 8 3 4 10-6 11-2-1-10-8zM89 477l8-7 8 12 2 7-12 4-5-5zM313 290l1-3 12-2 5 10-1 7-5 4-8-5zM266 95l3-7 9 3 4 5 1 8-9 9-4-3zM767 457l3-1 10 2 6 15-9 6-7-2-5-8zM368 265l3-11 9 1 9 10-8 11-7-1zM263 688l1-1 8 2 6 7-2 12-11-5-2-4zM381 526l1-2 3-1 10 4 3 11-7 9-7-3-3-6zM854 312l4-1 12 7-4 15-12-7zM545 617l8-8 9 6 3 10-6 8-12-3 0-1zM130 12l6-3 1 1 8 8 0 9-9 4-8-7zM257 150l4-6 7 1 8 9 0 4 0 2-13 3-5-5zM617 545l11-1 4 14-4 7-5 0-6-5zM229 205l6-12 13 7 2 7 0 3-10 8zM472 127l2-8 4-2 10 11-1 15-5 0zM532 189l6-5 12 8 0 3-9 10-7-1zM707 584l8-9 9 6 1 3-2 14-2 1zM567 642l8-6 10 13-1 9-14-1zM110 223l7-8 8 3 3 7-4 15-1-1-9-6zM534 321l6-6 5 1 6 8-2 9-14-1-1-1zM527 430l1-5 7-5 9 9-4 11-8-2zM339 190l7-11 9 9 0 5-4 8-3-1zM565 218l10-4 4 19-7 4-9-10zM615 377l6-1 8 7 0 1-6 10-6-1-5-7zM895 290l5-10 9 5 4 10 0 3-15-2zM157 288l5-7 9 8 1 12-11-2zM852 417l4-5 10 2 1 11-3 4-8-1-4-6zM62 663l11 0 3 13-7 9-7-11zM14 566l1 0 5 3 5 12-1 3-12 1-2-3zM13 110l0-1 5-5 7 0 7 9-5 10-5 2zM752 497l3-1 10 10 1 6-5 5-10-2-2-3zM107 116l8-1 5 10-2 7-8-2-4-6zM400 222l6 1 6 11-5 6-3 0-5-5zM272 30l7-3 6 7 0 11-5 2-6-2zM543 376l2-11 5 1 5 13 0 1-7 4-1-1zM653 421l7-5 10 8 2 10-2 4-12-5zM647 296l3-8 10 6 3 12-1 2-4 1-7-4zM36 526l4 2 7 9-2 14-6-2-5-6zM488 61l7-8 11 15-12 4zM334 598l9-5 6 6-2 14-13-9zM539 544l2-8 10 1 4 11-1 2-7 5zM785 643l12-3 1 2 1 10-2 3-11-2zM331 295l7-3 6 12-1 3-7 1-6-6zM813 548l2-8 7-2 5 7-3 16-2 0zM392 431l9-8 5 5-1 11-8 3zM33 227l6-6 8 7 2 6-4 5-9-4zM633 403l3-5 8 2 2 13-10 1zM424 76l2 0 8 7 1 1-3 8-10 0-5-6zM583 166l7-6 6 3 2 4-4 15-2 0-4-3zM298 235l2-4 8 3 1 3-5 10-5-4zM236 543l10-3 3 15-7 2zM776 298l3-6 4 0 9 19 0 1-13 0zM300 404l5 1 6 12-4 7-12-7-1-2zM282 582l9-8 3 2 4 16-6 2-10-10zM784 257l7-5 1 1 5 11-7 5-7-9zM665 212l5-4 8 10-3 8-12-4 0-1zM437 513l9 5 0 3-6 6-9-7zM129 355l6 5 2 11-10-2-4-4zM505 516l3-2 7 10-4 11-8-12zM866 345l1-10 13 8-4 13zM577 282l3-3 7 1 3 16-7 2zM284 651l1 0 8 7 0 12-6 3-5-7zM911 -4l9-1 4 8-9 12-6-11zM264 637l3-6 2-1 8 6 0 10-10 1zM743 74l3-2 9 6 2 5-2 7-13-5 0-2zM698 135l3-1 4 1 4 11-2 6-9-7zM378 467l12-6 2 12-2 6-11-6zM725 599l10-8 5 13 0 3-10 1zM292 483l3-10 10 8-6 10-2-1zM20 186l5-1 5 5 1 10-6 0-5-7zM664 104l10 4-2 10-7 0-3-5zM135 576l2-1 11 7 1 6-9 9-2-2zM390 211l2-2 7 3 0 10-9-2zM89 632l4-6 14 4 0 2-10 10-7-4zM28 431l8 2 6 16-4 4-9-5zM731 12l5-3 3 1 6 6-7 13-8-11zM45 425l0-1 10-4 4 12-4 3zM395 350l10 5 0 3-5 12-10-6zM397 300l3-3 4 1 5 6-2 8-9-3zM446 518l1-6 9 2 2 6-4 7-8-6zM858 460l10 1 2 11-11-1zM835 517l6-4 10 9-13 8zM785 378l8 9-7 13-6-8zM887 447l4-2 8 11-1 3-11 2zM235 509l2-1 8 7-3 9-7-4zM249 18l5-4 8 10-7 5zM595 486l11 5 1 4-8 5-3-4zM912 187l2-8 8 4 5 15-2 3-1 0zM652 140l6-5 6 9-7 8-1 0zM175 664l7 1 1 16-2 1-7-6zM13 110l9 15-1 2-13-1zM900 50l9-2 1 0 2 11-6 5-5-3zM464 157l9-5 3 20-12-9zM288 624l8-7 6 18-12-3zM528 529l6-3 7 10-2 8-9-1zM128 159l7-4 5 12-8 4zM247 426l8-3 1 15-3 2-2-2zM304 297l0-2 9-5 4 11-4 5-5-1zM786 514l5 2 2 12-6 3-3-3zM669 566l1 0 5 18-11 0zM798 642l13 3 1 12-13-5zM591 530l1-1 12 5-6 13-5-3zM711 209l8 10 0 1-12 1-1-2zM774 360l3-2 7 4 0 14-7-4zM463 584l0-4 12 4-1 11-2 0zM370 171l7 7-2 8-6-5zM657 545l3-3 4 0 2 20-7-5zM908 454l2-4 11 6 1 0-10 9zM419 -14l8 4 2 9-3 3-7-7zM516 436l7-1 2 7-6 0zM479 513l5 3 2 7-8 2-4-5zM207 93l9 5-2 9-10-6zM677 252l3-3 11 12-8 7zM786 182l9-5 6 12-10 1zM792 440l2 1-3 13-5-7zM7 601l3-1 7 13-3 2-5-2zM865 135l1 2-2 9-6-6zM902 502l10 0-5 11-5-3zM386 85l15 5-1 11-12-8zM174 447l9-3 4 5-3 6-4 0zM546 129l5-4 4 5-2 8-2 0zM875 284l10 2-3 16-3-2zM404 55l9 5 0 2-6 8-5-7zM651 77l8 2-4 12zM733 666l1-3 4-3 7 14-1 1zM180 455l4 0 3 17-8-8zM701 49l2-5 2-1 11 14-1 5-10 0-4-8zM297 490l2 1 5 12-11-3zM305 658l8 18-10 0zM906 362l6 2 1 14-7-3zM70 425l4 9-7 6-1-1-2-5zM160 163l1 0 12 9-6 6zM538 32l12 3 1 5-13 4-2-3zM314 278l13 1-1 6-12 2zM50 282l4-4 6 3 1 11-6 3zM794 130l0-2 12-1 2 15-3 2zM589 369l2-2 9 5 0 6-6 0zM131 677l9-4 1 1-1 6-4 3zM567 538l0-1 12-1 0 1-2 8z"/><path fill="#9048c8" d="M866 488l7-11 7 0 12 4 7 12 3 9 0 8-4 9-13 5-11-8-4-3-5-11zM786 93l12-4 2 0 1 1 12 15 1 2-2 16-6 4-12 1-7-7-4-14zM784 362l6-9 12 0 10 10 2 17-1 2-10 10-10-5-8-9-1-2zM565 4l7-4 10 7 8 12 0 3-5 12-6 3-11-2-9-13zM253 270l7-5 7 2 9 14-5 17-11-1-1 0-9-15zM696 262l3-10 6-4 14 4 6 10 1 3-2 11-6 6-6 1-10-6zM50 169l5-9 2-1 10 1 8 14 1 10-11 10-8-4-7-12zM401 33l8-5 9 7 2 4 1 8-2 9-6 4-9-5-5-8zM562 615l2-9 1-3 1 0 11-1 7 9 3 13-3 6-9 4-10-9zM530 13l0-2 9-4 7 2 9 13-5 13-12-3-4-5zM223 593l8-8 2 0 12 15 2 6-6 11-1 1-14-5-2-2zM152 519l1-9 3-6 17 3 3 13-1 13-12 1-7-5zM70 555l4-4 5 0 8 7 4 12-7 14-2 0-8-4-5-7 0-1zM717 437l2-11 11-1 3 3 5 10 0 2-2 6-6 6-3 0-10-12zM764 204l12-12 8 8 3 12-6 11-8-1-9-11zM-14 324l11-3 8 8 1 8-6 11-6 1-5-4-4-8zM759 63l7-2 8 3 5 13-1 11-7 5-14-10-2-5zM578 695l6-12 10 2 5 12-2 14-7 1-8-7zM47 537l7-3 6 2 2 3 2 13-6 7-6 0-6-6-1-2zM306 368l10-1 3 2 8 19-9 7-7-2-6-9zM480 480l10-3 5 3 8 14-1 6-10 5-10-8zM684 608l4-5 6 0 10 6 0 1 3 10-5 9-8 0-7-9zM816 523l4-14 2-1 13 9 3 13-1 6-2 0-11-3zM852 509l6-8 7 1 5 11-4 13-13-3-1-1zM161 619l8-9 10 6 3 6-2 10-5 4-12-8zM439 299l2-10 6-1 8 6 3 9-6 11-9-4zM151 221l5-7 5-1 7 5 3 11-1 5-9 5-7-7zM33 387l8-10 12 16 0 9-11 1-7-7zM566 58l6-8 9 1 4 5-2 20-2 1-11-9zM267 267l4-11 16 3-1 22-10 0zM181 236l0-5 5-5 11 4 1 9-3 6-7 4zM420 504l3-9 10 2 5 9-1 7-6 7-2 0-7-5zM163 534l12-1 3 14-4 7-6 2-6-6zM212 569l11 3 8 13-8 8-12-7zM761 48l5-10 10 6 1 17-3 3-8-3zM326 670l2-4 6 0 10 11 1 0-3 15-5 3-7-5zM173 57l6-14 14 13 0 2-8 13-8-6zM845 33l1 0 9 18-1 5-6 1-9-5-1-4zM489 27l2-6 5-3 9 9 0 11-10 5-5-6zM55 41l6-8 11 9 1 3-1 5-6 7-2 0-7-5zM335 632l11-1 2 1 4 11-5 13-2-1-9-11zM550 100l9-5 1 0 11 17-4 9-15-7-1-2zM829 59l9-2 7 12 1 4-14 2-5-6 0-1zM708 621l10-2 8 14-1 2-11 5-4-1zM904 485l0-2 3-4 7-1 4 4 3 12-5 8-3-1zM40 654l5-7 2 0 9 6 2 6-7 11-3 1-7-5zM86 176l0-1 10 1 2 2 4 19-1 0-13-3-5-8zM909 285l5-14 10 13 0 8-11 3zM275 198l2 1 12 16 0 1-2 4-9 1-7-9zM69 250l14-2 4 17-4 7-11-4zM789 141l5-11 11 14 0 1-8 12-4-5zM497 121l4-9 11 4 2 5-7 14-4-3zM750 257l3-10 11 3 5 15-3 5-10-1zM854 56l1-5 8-4 5 9-2 9-8 0zM239 6l1-4 12-3 4 7-2 8-5 4-4 0zM655 9l3 0 6 4-2 18-8-2-2-2-3-6zM815 146l10-3 5 9 0 9-3 3-12 1-1-2zM218 -25l3 0 8 6 2 10-6 7-9-8zM357 -2l7-9 4 1 6 7-6 12-4 0zM906 64l6-5 5 6 1 14-8 2-2-4zM784 242l4-11 8 0 4 18-8 4-1-1zM912 364l3-1 6 2 9 16-16-2-1-1zM495 308l4-1 8 5 3 12-8 5-8-10zM-9 29l2-1 14 3 2 4 1 3-4 9-7 2-8-7zM37 667l4-1 7 5-1 14-5 1-7-9zM306 697l1-2 9 2 4 12-2 3-10 4-2-1zM252 -1l1-4 7-9 10 12-7 10-1 0-6-2zM769 380l8-8 7 4 1 2-5 14-9-4zM869 613l1-4 13 3 1 13-5 5-8-6zM131 80l1-3 4-2 10 5 0 4-4 6-6 1zM741 295l2-5 4-2 7 4 2 6-3 9-7-4zM773 222l8 1 7 8-4 11-7 1-3-2zM438 669l7 0 6 6-1 8-10-1-3-4zM95 126l11-2 4 6-2 11-5 3-8-9zM254 253l7-11 10 11 0 3-4 11-7-2zM128 342l10-7 6 4 2 13-6 1zM457 638l2-6 13 3 3 4-4 10-6 0zM636 298l0-1 11-1 4 9-8 7-5-3zM822 698l6-11 7 4 4 12-1 3-14-2zM887 600l12-1 3 3-3 15-14-6zM399 562l4 1 9 12-6 10-7-7zM793 387l10 5 1 1-1 10-16-1-1-2zM738 311l8-8 7 4 1 4-2 7-5 2zM854 607l3-8 10 2 3 8-1 4-10 2zM713 80l7-5 4 4 0 15-3 1-8-9zM764 290l5-8 10 10-3 6-5 2-5-3zM670 438l2-4 15-1 1 2 1 4-6 10-11-6zM747 60l8-1 4 4-4 15-9-6zM75 351l5-6 8 13-3 7-7-1zM312 67l8-8 9 10-5 9-9-2zM192 382l7-1 3 3 1 6-9 8-5-9zM653 508l3-3 11 5 1 2-1 9-13-2zM907 345l10 5-2 13-3 1-6-2-3-4zM313 118l3-4 3 0 8 12-1 5-10 1zM2 377l6-3 7 4-3 11-9-5zM282 546l3-7 10 2 2 12-3 4-7-3zM485 616l11-2 1 14-9-1zM736 332l10 4 2 6-1 4-11 2-2-4zM712 283l6-1 6 10-6 9-2-1-4-6zM880 343l2-1 7 9-3 8-10-3zM709 -1l9 6-1 9-9-1zM318 395l9-7 1 0 0 15-4 1zM751 626l8-2 5 13-2 3-12-6zM770 119l14 3-5 12-8-5zM654 29l8 2 2 3-5 12-8-4zM879 398l13 5 0 1-8 8-4-2zM80 696l8-2 5 5-4 11-9-4zM295 541l6-4 5 9-2 8-7-1zM21 42l3-8 4 2 3 15-6 1zM891 571l7-5 7 7 0 7-10 0zM734 220l3-4 6 0 2 21-8 0zM82 306l2-1 10 5 4 9-1 3-6 3-8-9zM71 542l6-9 3 1 3 7-4 10-5 0zM637 367l2-1 9 9-1 9-11-6zM212 -3l0-5 4-2 9 8 1 5-7 2zM604 286l5 0 5 6-4 8-4 0-3-5zM522 234l8 1 0 14-12-6zM639 62l3-5 9 12-2 5-9-3zM26 225l7 2 3 8-4 9-9-9zM625 90l7-4 6 12-11 0zM69 -13l6-8 10 7-2 13-1 0zM54 260l1 0 11 10-6 11-6-3zM394 48l5-1 5 8-2 8-10-7zM448 75l4 0 2 11-7-1zM474 337l10-1 5 10-4 4-2 0zM716 300l2 1 4 9-6 8-3-1-4-6zM548 384l7-4 4 8-2 10-2 0zM650 354l10 2 3 9-5 5-2-1zM874 101l5-6 6 8-4 8-2-2zM564 357l10-4 2 9-10 0zM147 130l9 10 0 1-9 3zM481 17l1 0 9 4-2 6-7-3zM628 629l2 1 4 9-4 3-5-4zM367 497l6 2 2 8-10 0-1-3zM727 21l3-3 8 11 0 5-4 0zM882 342l4-7 6 3 2 13-5 0zM34 690l6 0 4 11-10-3zM702 502l5-5 8 6 0 1-7 7-6-7zM758 397l7 1 4 11-8 3-3-4zM319 369l4-1 10 16-2 3-3 1-1 0zM3 448l7 7-1 5-11 1-2-3zM667 382l3 0 4 5-3 12-8-7zM530 350l7-7 4 5-2 10-6-1zM656 199l1-1 13 5 0 5-5 4zM401 285l5 0 3 8-5 5-4-1zM714 177l6 12-6 2-5-4zM337 580l2-5 7 3 1 3-4 7zM191 327l9 2-6 13-4-3zM330 15l7-3 3 4-3 9zM813 450l3-1 6 6-3 11-4-2zM813 382l2 12-11-1-1-1zM476 503l3 10-5 7-5-3-1-2z"/><path fill="#48d24a" d="M515 609l3-6 5-4 8-1 7 5 7 14 2 12-12 9-5 0-5-3-9-10-1-4zM251 189l8-7 13 9 3 7-4 14-9 2-12-7-2-7zM803 294l1-5 1-1 14-2 5 3 1 17-6 10-15-9zM551 712l1-6 6-9 9 2 10 17 0 1 0 3-10 10-10-4zM120 284l4-8 8-3 13 13 1 15-2 6-12 2-8-7-4-5zM481 280l8-8 9 3 5 5 5 8-2 12-7 7-4 1-8-6-3-6zM65 194l11-10 7 2 5 8 3 12 0 4-7 7-8-1-9-10zM237 401l12-1 5 4 3 17-2 2-8 3-9-4-1-1zM229 -19l8-9 8 1 5 7 3 15-1 4-12 3-9-11zM125 424l6-5 11 1 4 5-1 16-6 6-12-11zM106 376l6 2 7 7 2 14-6 7-10-2-7-14zM368 219l8-8 2 1 10 10 1 13-8 3-9-4-5-9zM881 547l6-2 11 5 0 16-7 5-7-3-5-8zM157 305l4-6 11 2 1 0 2 10-2 10-12 4-1 0-3-7zM563 522l2-10 2-1 11 7 4 9-3 9-12 1 0-1zM507 135l7-14 8 3 4 6 0 15-6 5-4-1-5-4zM631 441l7-7 5 2 5 11 0 11-5 3-12-11zM668 617l4-10 8-1 4 2 3 12-3 13-2 1-10-5zM513 -17l7-4 10 6 2 6-5 14-12-4-3-3zM260 -14l0-1 4-10 4-2 11 9 2 6 0 5-10 6-1-1zM845 196l3-8 8-2 7 12-1 12-10 4-6-9zM228 532l0-8 7-4 7 4 5 14-1 2-10 3-2-1zM136 261l7 0 9 8 0 1-3 14-4 2-13-13zM368 287l1-1 17 7 1 1 0 12-6 6-3-1-8-7zM552 460l5 0 10 13-2 9-13 1-5-10zM16 530l6-8 12 2 2 2-2 17-7 1-11-9zM81 48l2-5 6-2 8 8 2 10-7 8-10-13zM106 469l10-1 8 14-8 7-9 0-2-7zM214 107l2-9 4-4 11 12 1 4-6 9-6-1zM652 521l2-2 13 2 4 7-1 10-6 4-4 0-9-10zM751 276l5-7 10 1 3 12-5 8-8-2zM620 573l3-8 5 0 8 9-1 14-3 3-9-8zM6 47l4-9 11 4 4 10-3 9-7 0zM200 476l5-8 5-1 6 4 4 17-1 2-11-2-7-9zM585 649l14 0 3 9-7 11-10-9-1-2zM20 687l2-4 7 0 5 7 0 8-5 7-7-7zM738 660l1-5 10-3 4 4 0 17-8 1zM114 501l7 1 5 11-6 11-11-9zM52 75l12 1 4 4 0 4-6 12-2 0-9-8zM644 266l5-4 12 11-3 7-9 3-5-8zM873 363l3-7 10 3 5 7 1 7-11 6zM259 403l5-7 9 3 5 12-7 7-3-1zM721 20l6 1 7 13-9 7-9-8zM79 375l9-3 2 2 6 15-9 7-7-9zM765 548l2-8 4-1 10 10-2 9-7 1-6-6zM751 700l10-6 7 5-2 17-3 1-11-8zM45 327l0-2 7-9 5 0 8 15-3 4-11 2-1 0zM862 22l4-2 9 7 3 10-4 5-6-1-5-7zM817 414l4-6 12 6 0 5-7 8-3 0zM657 326l9 2 2 12-7 6-9-8zM494 594l7-3 5 4 0 14-1 1-8 1-4-9zM431 346l5-12 1 0 8 6 0 16 0 1-5-1zM457 590l6-6 9 11-4 10-8-1-1 0zM866 137l14 2 2 3-1 6-6 9-10-5-1-6zM804 500l2-1 14 10-4 14-4 1-9-12zM437 539l2 0 2 3 3 10-3 9-8 2-4-12zM579 536l3-9 9 3 2 14-8 2-6-9zM373 499l5-9 8 4 2 4-2 11-2 2-7-2-2-2zM826 644l3-3 5 1 4 5 2 14-13-1zM161 325l12-4 5 5 3 11-7 4zM52 559l6 0 11 13 0 1-11 6-6-8zM789 584l1-4 6-3 7 5 3 11-10 5zM23 459l-1-3 7-8 9 5 2 15-5 5zM584 331l14 4 2 2-3 11-8 2-6-5zM272 184l10-7 3 2 3 4 0 9-11 7-2-1-3-7zM530 459l10 2 5 12-5 4-9-3-1-2zM733 383l2-4 6 1 9 9 0 1-4 6-11-3zM290 307l3-5 6 1 5 10-6 7-6-4zM668 512l14 0 1 17-12-1-4-7zM863 47l0-1 5-5 6 1 7 12 0 4-13-2zM606 121l7-9 3 1 6 10 0 3-8 7-4-1zM866 5l2-3 4 0 11 10 1 4-7 5-10-3zM517 204l6-9 11 9-1 8-4 2-10-4zM478 84l1-7 9 1 5 8-1 7-6 2zM759 677l3 0 12 8-3 13-3 1-7-5zM426 26l10 6-6 11-10-4-2-4zM659 614l9 3 4 12-7 5-9-9zM747 346l1-4 10 0 6 5 1 7-6 6-8-4zM670 145l4-10 10 5 2 7-8 8-5-3zM870 690l6-5 11 6-2 11-9-2zM-12 3l4-4 9 7 2 8-1 3-6 1-6-5zM315 76l9 2 5 11-7 8-10-10zM191 666l5-8 1 0 9 8-2 10-10-1zM723 497l0-5 9-5 4 10-4 8-2 1zM277 199l11-7 6 10-5 13zM724 581l4-9 8 5 2 8-3 6-10-7zM-13 90l10-3 3 3 2 12-6 5-4-4zM385 103l3-10 12 8 1 6-3 4-8 0zM299 367l6 0 1 1-1 16-7 0-6-9zM378 311l3 1 6 6-2 11-11-2-1-4zM215 612l9-1 2 2 0 15-4 3-8-4zM804 307l15 9 1 2-7 10-6-1-3-4zM464 306l4-9 6 1 4 8-6 9-3 2zM236 366l0-5 10-4 3 10-2 11-4-1zM372 234l9 4-1 17-9-1-2-2zM264 478l12 0 0 12-8 3-2-1zM242 78l7-2 5 4 2 10-6 5-8-11zM716 318l6-8 7 5 1 8-8 5zM261 655l3-1 9 12-3 8-5 0-3-4zM16 554l10 2 2 2-2 9-6 2-5-3zM826 427l7-8 7 8 0 9-7 2zM182 665l3-2 6 3 3 9-5 9-6-3zM582 326l6-10 3 1 8 16-1 2-14-4zM249 135l3-1 6 3 3 7-4 6-6-4zM79 517l1-3 7-2 1 1 4 8-5 6-3 0zM197 230l4-4 8 6 0 11-3 1-8-5zM853 523l13 3 2 3-1 8-8 3zM20 511l9-2 5 15-12-2zM363 77l3-2 9 8-6 13-6-9zM414 667l4-7 2 0 8 7 1 8-10 7zM859 542l0-2 8-3 6 8-2 9-7-4zM667 669l1-1 8 7 1 11-10 1-4-7zM340 522l12-5 4 12-8 5zM376 382l9-10 7 13-3 8-2 1zM437 22l9-5 8 12-2 5-16-3zM576 422l2 1 8 11-9 7-7-3-1-2zM450 698l3-3 12 11-9 6-5-6zM583 369l6 0 5 9-5 7-5-2zM68 520l11-3 5 10-4 7-3-1zM649 159l2 0 9 16-10 8-2-1zM126 196l6-4 7 3-1 13-8 0zM185 71l5 6-3 12-7-5-1-5zM746 396l4-6 8 7 0 11-9 0zM343 132l12 2 0 1-6 14-7-9zM386 157l10 3 1 3-5 8-7-1-2-4zM294 245l5-2 5 4 2 10-1 3-14-3zM482 -5l10 2 3 5-1 8-12-5zM506 595l6 1 6 7-3 6-9 0zM16 90l7-4 4 4-2 14-7 0zM64 57l2 0 8 8 2 5-8 10-4-4zM804 269l11-7 0 16-9-4zM740 267l2 0 9 9-3 3-8 0-3-3zM388 222l2-2 9 2 1 0-1 13-8 1-2-1zM428 210l9 7 0 9-6 2zM107 489l9 0 6 7-1 6-7-1zM238 422l9 4 4 12-9 2zM278 684l9-6 4 8-8 9-1 0zM411 648l6-7 6 2-3 17-2 0zM885 103l9-2 2 5-5 11-8-1-2-5zM688 700l11-5 2 4 0 12-9-1zM337 231l9 1 2 11-11-2zM871 192l10-3 1 2 0 11-4 2-7-8zM811 701l2-6 9 3 2 6-4 5zM620 470l5 3 4 11-5 3-6-2zM575 214l12 13-6 7-2-1zM326 532l6 0 5 11-5 4-6-5zM518 53l6 6 3 13-2 2-14-5zM492 505l10-5 6 9 0 5-3 2-11-1-1-3zM294 22l2-4 10 5-8 11-2-1zM753 8l2 3 3 10-13-5zM396 403l11 3 1 2 0 5-7 6-6-8zM421 689l11 11-2 8-10-4zM895 185l11 6-1 8-10 2-3-7zM221 497l8 9-8 8-4-4-1-3zM411 117l9 2 1 3-3 14-11-9zM855 -11l13 13-2 3-15-5zM338 322l8-4 6 8 0 1-8 7-3-1zM504 695l8 0 3 10-10-1zM464 187l2-5 6 0 2 10-5 5-1 0zM276 160l0-2 12 9-3 12-3-2zM754 292l2-4 8 2 2 7-10 1zM648 321l9 3 0 2-5 12-3 0-3-6zM361 532l4-5 6 4 1 3-5 9zM184 277l7 5-1 8-6 0-3-4zM85 365l3-7 7 3 1 9-6 4-2-2zM67 375l9-3 3 3 1 12-13-7zM444 552l7 4 1 9-6 1-5-5zM744 448l9-1 1 2-3 10-8-4 0-1zM208 348l1 0 8 4 0 6-3 3-8-1zM783 587l6-3 7 14-1 3-7 0zM-9 520l3-9 9 7-8 10zM264 51l6-1 5 13-2 3-8-3zM704 610l13 1 2 4-1 4-10 2-1-1zM736 577l6-6 7 15 0 1-11-2zM27 544l7-1 5 6-7 10-4-1-2-2zM718 619l1-4 6 2 2 15-1 1zM29 683l6-6 7 9-2 4-6 0zM156 405l13-2 1 0 0 16-2 1-11-9zM-8 70l8-6 4 4-1 8-5 2zM326 285l1-6 0-1 12 11-1 3-7 3zM899 676l8 6 0 5-12 3-1-1zM725 584l10 7-10 8-2-1zM854 140l4 0 6 6 1 6-12 5zM253 440l3-2 10 11-3 7-6-2zM702 683l12 10-3 7-10-1-2-4zM503 648l8-1 5 14-15-8zM245 149l6-3 6 4 1 8-8 1zM809 571l7-1 3 12-6 2-4-6zM407 484l8 6-2 6-10-2-1-3zM325 306l5-4 6 6-3 9-7-3zM875 415l5-5 4 2 0 12-1 1zM147 100l0-2 4-4 7 4 2 7 0 3-4 2zM362 290l6-3 2 17-8 3 0-1zM441 698l0-2 9 2 1 8-7 0zM764 17l9 1 1 4-7 5-5-5zM351 407l3-4 11 3-1 4-6 5zM427 458l7 8-8 13-4-7zM165 7l9-5 2 17zM522 364l6 1 4 12 0 1-12-2zM520 554l7 0 3 11-10-3zM826 589l6-2 6 9-6 5-6-5zM518 25l10 6 1 5-7 2zM425 143l8 0-1 14-2 0zM589 350l8-2 3 10-8 1zM175 311l10 7-7 8-5-5zM397 443l0-1 8-3 3 6-3 4zM904 466l8-1 2 13-7 1zM539 75l9 2-5 10-3-2zM401 419l7-6 6 13-8 2-5-5zM259 182l0-2 3-4 10 8 0 7zM561 591l6-2 3 4-4 10-1 0zM516 149l4 1 5 9-7 3zM72 50l5 6-3 9-8-8zM819 179l8 3 1 5-6 6-5-4zM780 28l10-3 3 10-10 3zM437 217l4 0 5 9-4 4-5-4zM710 355l4-3 10 14-3 4-1 0zM281 624l7 0 2 8-6 5-2-2zM755 11l9 6-2 5-2 0-2-1zM465 292l3-7 4 1 2 11 0 1-6-1zM72 50l1-5 8 3 1 6-5 2zM190 377l7-3 2 7-7 1zM-6 445l7-2 2 5-7 10-1-1zM434 186l5 1 1 10-7-1zM-2 371l6-5 4 8-6 3zM179 43l0-1 11-2 5 6-2 10zM712 475l7-8 3 11-3 2-8-4zM19 363l7-3 3 6-8 6zM648 447l6 1 6 9-2 2-10-1zM386 121l10 13-11-1zM112 679l4-3 5 4-1 9-5-3zM348 269l12-4 0 7-9 5zM579 463l5-5 4 4 0 14zM505 610l1-1 9 0 0 12zM15 198l5-5 5 7-5 5zM196 296l6-2 2 7-6 4zM-2 78l5-2 3 9-6 5-3-3zM390 184l3 1 3 10-8 2zM645 197l8 4-6 8-1-1zM706 188l3-1 5 4-4 5zM413 60l6-4 4 7-3 4-7-5zM66 602l11 5-6 10zM799 469l6 1 1 11-7-5zM500 269l5 5-2 6-5-5zM715 570l11-2 2 4-4 9-9-6zM333 436l3-5 8 8-4 6zM385 702l9-5-1 13-6-2zM441 217l7-5 1 14-3 0zM404 298l5-5 4 8-4 3zM278 221l9-1 0 11-9 0zM839 89l6-2 2 9-6 1z"/><path fill="#f05ab8" d="M702 -24l6-10 5-3 9 2 10 11 2 7 1 10-4 8-5 4-8 0-9-6-5-7zM-2 433l0-1 3-12 8-2 9 1 7 6 3 6 1 17-7 8-12-1-7-7-2-5zM0 290l11-7 14 8 4 6 3 20-3 6-11 5-9-3-10-15-1-1zM54 473l9-14 7-1 8 4 6 6 5 9 1 11-5 10-1 2-8 2-6-2-10-9-3-5zM707 152l2-6 7-9 4-2 12 7 5 10 0 18-6 5-15-3-8-14zM68 84l0-4 8-10 15 3 4 11-7 19-12-5zM404 209l2-4 8-4 14 7 0 2 3 18-1 1-7 8-5 0-6-3-6-11zM894 101l0-11 16-3 8 14-3 9-5 5-5 0-9-9zM641 700l6-10 17 11 1 16-13 6-8-8zM139 452l0-5 6-6 9 1 8 9 1 7-3 6-3 3-11-2zM547 64l1-5 8-9 10 8 4 10-4 12-1 1-14-4-1-1zM175 533l13-6 7 6 1 19-7 3-11-8zM84 584l7-14 9 0 8 16 0 5-5 5-9-1zM836 166l6-8 11 0 4 26-1 2-8 2-8-5-4-8zM375 346l3-5 10 0 7 9-5 14-5 2-10-13zM260 339l11-11 3 2 7 17-7 11-13-9zM812 218l3-8 11-3 6 4 1 12-2 6-8 2zM-23 312l0-4 9-9 12 10 1 1-2 11-11 3-7-6zM683 268l8-7 5 1 6 15-4 9-3 1-13-9zM274 358l7-11 9 6 3 9-3 11-15-8zM415 616l3-2 6 3 5 10-4 15-2 1-6-2-7-11zM791 516l5-5 7 1 9 12-2 4-8 5-9-5zM46 63l2-9 9-2 7 5 0 19-12-1-5-5zM547 429l6-9 5 1 11 15 1 2-2 3-10 5-7-5zM12 344l8-3 6 6 0 13-7 3-8-9zM302 683l1-7 10 0 3 2 1 2 0 16-1 1-9-2zM-8 170l6 1 5 13 0 3-8 3-9-7 0-1zM418 237l5 0 7 7 2 14-12 2-4-6-1-5zM826 668l13 4 4 9 0 1-8 9-7-4-2-3zM125 56l9-1 5 10-3 10-4 2-9-10zM854 675l12-4 0 1 2 17-7 4-5-7zM669 455l3-12 11 6 3 10-6 8-4-1zM783 292l4-5 16 7 1 13-12 4zM605 63l3-7 7 0 6 10-7 8-2 0zM376 141l1-1 9 17-3 9-11-3-3-9zM883 530l2-2 11 4 4 17-2 1-11-5zM182 622l12 1 1 15-7 2-8-8zM115 406l6-7 9 6 1 14-6 5-3-2zM680 39l2-6 9-4 12 15-2 5-14-1zM400 674l5-10 9 3 5 15 0 1-17-4zM67 440l7-6 12 6-2 10-4 2-8-2zM49 197l1 0 7 13-5 7-12-5-1-5zM761 183l9-2 4 4 2 7-12 12-6-9zM599 420l10 4 0 12-9 3-4-5zM813 584l6-2 7 7 0 7-3 3-11-7zM279 431l7-2 3 1 4 10-5 6-9-5zM885 286l10 4 3 6-5 10-10-3-1-1zM190 178l2-7 11 4 5 6 0 1-10 7zM-8 673l3-3 10 7 2 11-6 3-5-2zM107 632l0-2 15-4 4 10-11 7zM893 642l-2-6 5-3 14 7 0 5-6 9-1 0zM79 128l1-5 9-5 6 8 0 9-8 4-3-2zM568 684l3-8 9 2 4 5-6 12-7-2zM28 281l9 0 3 2 1 11-12 3-4-6zM578 518l8-10 6 5 0 16-1 1-9-3zM391 266l15 3 1 0 2 11-3 5-5 0-7-7zM499 100l7-5 8 11-2 10-11-4-2-3zM202 159l4-1 10 7 1 5-9 11-5-6zM698 75l7-3 8 8 0 6-6 5-9-7zM14 216l5 0 7 9-3 10-10 1-2-4zM313 352l6-4 8 4 2 5-6 11-4 1-3-2zM582 7l7-11 8 10-7 13zM739 546l4-1 8 9 1 2-11 8-4-5zM57 11l4-8 7 6 2 9-8 5zM760 147l3-2 7 7 3 8-5 7-8-7zM671 378l3-7 3-1 7 5 0 12-10 0-4-5zM345 677l7 6 2 12-12-3zM224 206l5-1 11 13 0 7-4 4-11-10zM87 396l9-7 2 1 7 14-4 7-13-8zM588 635l7 1 4 12 0 1-14 0zM535 163l2-4 13-2 2 11-5 5-8-2zM732 142l6-8 10 13-2 5-9 0zM332 47l0-1 10-7 1 1 4 13-2 5-3 1-6-3zM48 299l7-4 4 8 0 9-2 4-5 0zM324 473l7-8 6 1 0 13-3 3zM615 399l2-6 6 1 4 7-2 7-6 0zM508 288l4-1 4 3 2 8-4 9-3 0-5-7zM123 28l1-2 4-2 8 7 0 11-5 2-3-1zM870 308l9-8 3 2 1 1 2 14-3 4-11-4zM707 91l6-5 8 9-3 7-10-3zM79 31l6-1 5 7-1 4-6 2-5-6zM10 690l10-3 2 11-8 3zM91 325l6-3 7 8-4 10-8-5zM342 366l12 6-2 15-10-7zM437 131l1 0 11 13-4 6-11-7zM606 300l4 0 7 9-1 1-8 4-3-4zM374 -2l8-8 8 11-1 3-7 2zM364 187l5-6 6 5 1 5-6 6-2 0zM725 653l9 10-1 3-9 4-2-1zM430 229l1-1 6-2 5 4 1 10-8-1zM238 322l7-11 7 7-1 12-7 0-6-7zM70 425l1-3 10-1 8 14-3 5-12-6zM643 670l9 0 2 4-7 15-5-6zM649 262l0-4 9-4 1 1 3 18-1 0zM572 237l7-4 2 1 3 14-8 1zM51 337l11-2 2 12-4 2zM606 49l4-4 6 6-1 5-7 0zM326 542l6 5-1 10-6-1-3-5zM400 3l3-3 8 8 1 3-4 7-9-9zM452 453l7 6 0 9-11-2zM562 640l5 2 3 15-11-3zM229 369l7-3 7 11-11 6zM544 429l3 0 4 12-6 6-5-7zM197 190l1-1 10-7 4 14-9 2zM313 623l5-1 6 9-3 8-9-8zM237 666l1-3 12 6-1 13-6-2zM444 324l5 2 0 13-4 1-8-6zM423 15l3-3 11 10-1 9 0 1-10-6zM354 351l6-4 6 8-5 8zM537 309l6-7 5 8-3 6-5-1zM87 681l9 2 3 14-6 2-5-5zM62 212l5-6 9 10-4 7-4 0zM514 307l4-9 9 12-8 3zM336 243l1-2 11 2 3 5-7 6zM508 198l9 6 2 6-2 3-13-5zM72 42l6-5 5 6-2 5-8-3zM76 502l8-2 3 12-7 2zM421 441l6 2 0 15-9-7zM187 -7l1 1 4 4-3 11-5-7zM44 44l6-6 5 3 2 11-9 2-4-5zM202 294l1-6 5 2 5 13-9-2zM614 133l8-7 2 9-1 3-6 0zM58 659l4 4 0 11-11-4zM702 277l10 6 0 11-14-8zM14 615l3-2 8 3-6 12zM310 22l1-1 9 1 3 10-3 3zM76 23l7-3 2 10-6 1zM494 548l4 2-1 13-9-9zM601 63l4 0 7 11-4 4-6-3zM194 497l6-3 5 4 1 1-8 11-2-1zM725 653l2-3 8 0 4 5-1 5-4 3zM3 651l7-6 6 7-2 4-9-2zM26 176l9 1-5 13-5-5zM784 660l2-7 11 2-3 17zM161 604l7 5 1 1-8 9-5-6zM527 117l5 9-6 4-4-6zM626 291l4-11 6 17 0 1zM29 153l6-5 6 9 0 3-5 3zM420 39l10 4-1 8-8-4zM766 424l7-1 2 2-4 9zM227 157l4-1 4 9-6 4zM779 77l5 3 1 11-7-3zM272 689l4-6 2 1 4 11-4 1zM9 35l14-3 1 2-3 8-11-4zM733 428l11 1 0 1-6 8zM805 145l3 15-10-1-1-2zM332 648l4-4 9 11-6 2zM214 361l3-3 6 9-4 4zM135 536l5 4 0 7-14 0-1-1zM415 180l12-1-4 10-6-2z"/><path fill="#5ab8e8" d="M190 713l-1-7 6-12 14-2 9 7 8 22-3 9-14 9-13-8zM853 -31l2-9 3-1 12-1 14 10 3 9-2 20-13 5-4 0-13-13-2-6zM85 -14l13-7 10 8 6 16-2 11-6 5-4 0-10-5-9-15zM108 251l4-7 11-5 1 1 7 7 5 14-4 12-8 3-11-7-5-12zM829 388l7-12 12 2 6 9 1 11-2 5-8 5-9-3-6-11zM301 138l15-4 8 9 4 11-1 10-11 6-4-1-9-12zM84 450l2-10 3-5 10 1 6 8 4 12-6 10-6 1-6-5zM659 79l9-4 6 3 8 8 0 3-1 15-7 4-10-4-9-12 0-1zM725 617l5-9 10-1 7 8 4 11-1 8-4 6-10 0-9-8zM338 -18l1-12 10-4 6 3 6 9 3 11-7 9-10 1-1-1zM659 255l7-5 11 2 6 16-1 10-1 1-18-6-1 0zM71 618l0-1 6-10 6-2 6 4 4 17-4 6-11-2zM501 364l1-9 8-4 6 2 6 11-2 12-4 6-9-3zM632 86l1-11 7-4 9 3 2 3 4 14 0 1-6 7-9 0-2-1zM878 204l4-2 6 0 5 3 6 15-7 7-11-1-5-6zM823 499l4-6 9 0 7 9 0 1-2 10-6 4-13-9zM343 307l1-3 8-3 10 5 0 1 1 3-3 12-8 4-6-8zM219 490l1-2 10-5 7 4 3 6-3 15-2 1-6-3-8-9zM146 80l3-7 13 1 3 3 0 3 0 11-7 7-7-4-5-10zM595 636l3-7 4-3 12 9-3 14-12-1zM442 391l4-14 8 3 10 13-8 11-5-1zM654 674l9 6 4 7-1 11-2 3-17-11 0-1zM796 203l6-13 8 3 5 17-3 8-3 0-11-8zM870 318l1-1 11 4 4 14-4 7-2 1-13-8-1-2zM700 592l1-3 6-5 14 15-4 12-13-1 0-1zM764 132l7-3 8 5 2 7 0 6-11 5-7-7zM766 270l3-5 8 0 11 12 1 2-2 8-4 5-4 0-10-10zM305 658l0-1 2-4 7 0 12 11 2 2-2 4-10 8-3-2zM629 193l12-4 4 8 1 11-10 3-8-9zM57 316l2-4 10-4 8 12-2 13-10-2zM3 187l0-3 7-7 5 1 5 8 0 7-5 5-6 0zM788 334l4-1 10 8 0 12-12 0-5-9zM901 243l2 0 8 6 2 20-10-1-8-12zM666 160l7-8 5 3 4 7 0 14-14-5zM619 365l3-7 7 1 8 8-1 11-7 5-8-7zM386 494l6-10 10 7 1 3-3 11-4 0-8-7zM89 105l11 1 7 10-1 8-11 2-6-8zM304 247l5-10 12 7 0 16-5 1-10-4zM556 569l4-9 5 0 6 4 3 13-6 4-9-5zM400 370l5-12 11 11-3 13-9-1zM288 167l8-3 9 14 0 3-4 4-13-2-3-4zM485 350l4-4 7 1 6 8-1 9-5 2-7-3zM563 132l5-6 8 6 2 13-8 7-8-6zM815 165l12-1 5 10-5 8-8-3zM746 640l4-6 12 6 2 15-11 1-4-4zM139 195l3-3 11 5 1 3-1 8-9 5-6-5zM251 47l4-3 9 7 1 12-6 3-6-3-3-6zM38 453l4-4 10 4 1 19-13-4zM526 269l5-4 7 3 6 11 0 9-16-10zM154 557l6-7 2 0 6 6 2 12-4 5-8-1 0-1zM753 656l11-1 6 7 0 5-8 10-3 0-6-4zM910 48l7-2 10 7-3 11-7 1-5-6zM108 586l6-6 9 2 3 10-7 9-11-10zM271 -1l10-6 7 11-6 12-1 0-7-8zM299 491l6-10 6 0 0 1 4 16-7 8-4-3zM412 -2l7-3 7 7 0 10-3 3-11-4-1-3zM802 533l8-5 5 12-2 8-11-3zM168 556l6-2 11 8-1 10-7 3-7-7zM32 244l4-9 9 4 2 14-14-2zM649 99l6-7 9 12-2 9-9-1zM556 655l3-1 11 3 2 8-4 7-10-1-4-8zM558 298l9-3 7 8-2 11-8 2-6-9zM640 537l8-1 5 9-3 10-10-6-2-3zM363 310l-1-3 8-3 8 7-5 12zM145 286l4-2 8 4 4 11-4 6-11-4zM516 382l4-6 12 2 1 5-4 11-11-7zM483 195l2-4 9-3 4 18-11-1zM243 456l10 2 4 13-8 3-7-5zM594 685l4-6 11 6-1 13-9-1zM659 46l5-12 10 7-1 12-7 5zM742 85l13 5 1 4-7 11-1 0-6-7zM555 -14l4-4 6 1 7 16 0 1-7 4-10-9zM404 646l7 2 7 12-4 7-9-3-3-7zM440 682l10 1 3 4 0 8-3 3-9-2zM324 404l4-1 9 5-3 10-10-3zM35 332l10-5 5 10-5 9-9-5zM290 95l0-2 10-3 5 2 1 9-3 4-8 2-1-1zM859 351l7-6 10 11-3 7-9 3-1 0zM484 580l13-3 4 14-7 3-7-6zM802 341l2-1 13 6 1 11-6 6-10-10zM568 41l0-6 11 2 3 9-1 5-9-1zM232 684l2 1 7 14-2 5-2 1-11-9zM616 -9l8 1 2 23-8-2-5-7zM274 113l9-9 5 4 4 15-13-2zM856 474l3-3 11 1 3 5-7 11-9-8zM144 -2l11 2 3 5-3 11-7-1-5-7zM780 458l1-1 10 0 2 6-6 11-1-1zM765 569l7-2 5 5 0 12 0 1-11-5zM741 499l5-6 6 4-3 15-6-2-1-1zM463 54l11-8 6 13-5 10-11-6zM170 403l18 14-2 9-1 0-15-7zM179 616l2-10 11 4 4 11-2 2-12-1zM853 403l2-5 8 3 4 12-1 1-10-2zM686 535l11 9 0 5-9 4-4-2-2-3zM292 146l7-9 2 1 2 19-5 2zM777 572l6-3 7 11-1 4-6 3-6-3zM327 647l5 1 7 9-5 9-6 0-2-2zM304 554l2-8 8 5 1 12-8-2zM472 286l5-8 4 2 3 16-10 1zM684 551l4 2 4 14-4 4-9-7zM140 598l12 14-7 8-8-4zM483 534l1 1 10 13-6 6-7-1zM744 364l5-2 9 9 0 1-7 7-6-6zM603 151l7-7 4 2 4 5-2 9-8 0zM816 667l10 1 0 16-12-7zM97 49l4-10 10 6-4 15-8-1zM217 139l2-3 6 1 8 12-2 7-4 1-4-3zM340 82l6-2 6 6 0 9-9-1zM885 524l13-5 1 4-3 9-11-4zM544 259l5-9 10 10-1 6-10 1-3-5zM249 67l4-4 6 3 0 11-5 3-5-4zM114 320l4 1 7 18-10-1-5-7zM343 40l11 0 2 15-9-2zM4 662l1-8 9 2-2 13-2 0zM161 205l9-2 1 13-3 2-7-5zM593 96l2 0 8 6 2 4-7 7-4-2zM47 -17l15 0 3 4-4 15-13-13zM328 586l9-6 6 8 0 5-9 5zM749 587l0-1 13 3 0 2-5 10-6-4zM652 670l2-6 13 5-4 11-9-6zM896 106l9 9-2 14-12-12zM40 690l2-4 5-1 7 12-6 5-3 0-1-1zM515 1l12 4 3 6 0 2-12 6zM-5 190l8-3 6 11-3 6-10-3zM784 61l16 5-3 7-7 2zM665 118l7 0 4 8-3 7-8-7zM213 20l6-7 6 1 3 9-6 6zM619 621l2 0 7 8-3 9-11-3zM543 223l6-7 1 0 6 11-9 8-3-2zM78 630l11 2 1 6-7 8-8-4zM615 56l1-5 9 1 3 10-1 5-6-1zM542 500l9-4 4 9-10 6-3-2zM16 503l6-5 8 6-1 5-9 2-4-4zM867 100l7 1 5 8-10 3-3-3zM193 58l5 4 2 10-3 5-7 0-5-6zM384 175l1-5 7 1 4 6-3 8-3-1zM814 633l8-3 7 11-3 3-11-3zM722 514l8-4 4 8-4 11-8-10zM791 496l13 4-1 12-7-1zM649 283l9-3 4 8-2 6-10-6zM-1 636l6-5 5 14-7 6-4-4zM496 366l5-2 6 15-3 2-7-5zM344 623l3-10 9 11-2 7-6 1-2-1zM346 495l3-3 9 11-4 11zM746 336l3-7 7 2 2 11-10 0zM820 32l4-10 9 7-3 11-1 0zM793 463l6 6 0 7-10 1-2-3zM322 642l5 5-1 17-12-11zM813 415l4-1 6 13-6 6-2-1zM316 134l0-2 10-1 4 8-6 4zM485 448l2-4 9 1 0 11-6 2zM84 137l3 2 1 9-6 5-6-4 0-2zM463 208l9 0 5 7-1 7-3 2zM781 447l5 0 5 7 0 3-10 0zM275 449l4-8 9 5-1 14-2 0zM166 658l2-1 7 7-1 12-7-2zM212 544l10 3 1 3-4 9-6 0zM148 582l2-3 6 2 3 8-1 3-9-4zM349 658l11 7 1 7-6 3-5-4zM643 436l4-1 6 3 1 10-6-1zM308 234l8-8 6 17-1 1-12-7zM856 186l1-2 14 8 0 4-8 2zM253 357l5-3 4 9-3 5-5-4zM537 685l8 5-1 10-3 1-7-6zM577 441l9-7 1 0 1 12-5 3zM486 689l5-8 7 10-5 7zM62 539l9 3 3 9-4 4-6-3zM896 148l4-2 7 9-4 10-7-2zM588 -7l1 3-7 11-10-7 0-1zM523 509l2-5 14 6-5 11zM586 397l5-2 5 6-7 7-4-1zM799 679l13 0-1 11-10-4zM511 275l3-3 6 11-4 7-4-3zM748 279l3-3 5 12-2 4-7-4zM144 213l9-5 3 6-5 7-5-3zM171 229l6-3 4 5 0 5-5 2-6-4zM206 86l12 5 2 2 0 1-4 4-9-5zM839 672l2-8 9 9-7 8zM256 122l5 10-3 5-6-3zM96 85l15 4-1 6-7 3zM97 470l0-3 6-1 3 3-1 13zM625 408l2-7 6 2 3 11-1 1zM499 423l6-6 3 12-6 1zM677 651l5-5 5 10-4 2zM554 550l1-2 6 0 4 12-5 0zM570 593l7 5 0 4-11 1zM627 246l10 4 0 9-9-3zM238 323l6 7-6 8-4-6zM372 683l8 5 0 8-8 0zM840 122l7-6 5 5-3 8zM551 138l2 0 9 9-10 6zM137 10l6-2 5 7-3 3zM911 694l4 2 1 11-1 0-6-4zM158 263l2 2 1 12-9-7 0-1zM667 687l10-1 3 8-14 4zM196 25l1 1 4 17-6 3-5-6zM503 280l2-6 6 1 1 12-4 1zM618 465l9-6 2 4-4 10-5-3zM-3 321l2-11 10 15-4 4zM385 197l3 0 4 12-2 2-6-4zM-4 553l7 12-2 5-8-5zM741 380l4-7 6 6-1 10zM183 100l5-7 7 9-7 8zM242 557l0 11-3 0-4-4zM166 387l5-4 4 4-5 11zM606 491l9-3-1 10-7-3zM756 417l5-5 3 11-6 2zM26 272l4-4 7 13-9 0zM97 249l5-4 6 6 0 6-9 1z"/><path fill="#f23636" d="M581 114l4-3 9 0 4 2 8 8 4 11 0 12-7 7-5 1-12-5 0-1-7-14zM167 354l0-1 7-12 7-4 9 2 4 3 2 2 7 19-1 2-5 9-7 3-9-2-6-5zM103 166l0-10 1-2 12-5 6 3 6 7 4 12 1 3-5 9-7 5-7-1-8-10zM274 330l8-13 10-1 6 4 6 11 0 12-6 8-8 2-9-6zM611 415l8-7 6 0 10 7 3 19-7 7-13-4-7-14zM762 640l2-3 7-6 5 0 9 12 1 10-2 7-14 2-6-7zM459 459l7-6 9 4 4 6 0 17-14-1-6-11zM170 398l5-11 8-2 6 4 5 9 0 2-5 16-1 1-18-14-1 0zM288 446l5-6 12 6 4 10 0 3-3 4-13 3-6-6zM860 86l2-6 6-1 11 5 0 11-5 6-7-1-6-6zM182 267l7-10 12 11-2 13-8 1-7-5zM421 122l9 2 7 7-3 12-1 0-8 0-6-4-1-3zM60 237l1-6 7-8 4 0 11 14 1 7-1 4-14 2-5-3zM769 489l1-2 11 2 6 4-5 14-5 0-7-5zM848 703l3-6 10-4 7 16-1 8-1 0-10-1zM705 104l3-5 10 3 6 14-6 9-11-6zM729 315l8-5 1 1 9 9 2 9-3 7-10-4-6-9zM101 411l4-7 10 2 7 16-12 7-5-3zM176 20l15 0 5 5-6 15-11 2-5-11zM680 -11l7-10 1 1 12 14-4 13-14-8zM871 250l2-6 9-2 4 8 2 11-2 7 0 1-3-1-10-8zM910 87l0-6 8-2 5 2 6 9-5 12-6-1zM608 314l8-4 10 12-2 8-11 2-3-5zM511 535l4-11 5-1 8 6 2 14-2 2-14-1-3-2zM684 417l7-4 11 10 1 9-1 2-14 1-1-2zM612 192l3-8 12 4 2 5-1 9-7 3zM414 162l10-1 1 1 2 17-12 1-4-5zM145 149l2-5 9-3 7 11-2 11-1 0-8-1zM362 425l7 0 2 2 4 14-1 1-15 0-1-1zM360 665l8-7 6 2 2 2 1 6-7 10-9-6zM472 268l10-8 6 4 1 8-8 8-4-2zM601 616l10-5 1 1 7 9-5 14-12-9zM534 583l5 1 3 5 2 9-6 5-7-5-1-5zM910 640l1-3 13-1 5 11-2 7-3 1-14-10zM841 597l3-5 9-1 4 8-3 8-7 1zM676 466l4 1 5 5 2 16-5-1-10-8zM685 472l6-3 7 7 0 6-6 6-5 0zM545 447l6-6 7 5 3 9-4 5-5 0-6-6zM650 114l3-2 9 1 3 5 0 8-7 4-7-8zM453 605l6-1 1 0 5 16-7 6-7-7-1-3zM771 93l7-5 7 3 1 2-3 14-12-7zM400 614l1-3 14 5-5 14-6-1zM543 87l5-10 2-1 1 1 8 18-9 5-3-3zM592 513l6-1 9 15-1 6-2 1-12-5zM777 345l8-1 5 9-6 9-7-4zM55 420l3-7 13 9-1 3-6 9-5-2zM451 556l7-6 8 7-6 14-8-6zM349 287l2-3 11 6 0 16-10-5zM11 542l5-7 11 9-1 12-10-2zM443 88l4-3 7 1 5 11-6 4-6-2zM371 427l11-5 4 7-6 13-5-1zM373 613l5-1 10 7-4 11-13-6zM290 353l8-2 5 6 2 10-6 0-6-5zM538 603l6-5 6 1 3 5 0 5-8 8zM784 200l6-2 6 5 2 7-4 5-7-3zM700 -6l4-2 5 7-1 14-3 2-8-5-1-3zM296 164l2-5 5-2 9 12-7 9zM665 408l7-7 9 14-9 3zM647 346l2-8 3 0 9 8-1 10-10-2-1 0zM657 395l6-3 8 7 1 2-7 7-2 0zM621 212l0-7 7-3 8 9-3 10-3 0zM705 15l3-2 9 1 4 6-5 13-5 0zM530 397l9-1 4 5-1 7-8 2zM754 546l11 2 1 5-5 8-9-5-1-2zM455 281l7-6 6 10-3 7-7-3zM102 221l2-1 6 3 4 10-5 5-7-3-2-3zM252 229l3-8 5 0 5 13-4 8zM480 447l5 1 5 10-3 6-8-1-4-6zM317 680l-1-2 10-8 4 20-3 0zM186 318l5-7 5 1 6 13-1 3-1 1-9-2zM608 562l3 0 3 11-2 6-8-3-3-5zM735 108l8 5 2 4-7 8-7-8zM861 693l7-4 2 1 6 10-1 4-7 5zM823 485l6-9 9 7-2 10-9 0zM191 282l8-1 4 7-1 6-6 2-6-6zM334 142l8-2 7 9 1 4-5 5-11-8zM145 18l3-3 7 1 3 11-8 3-5-3zM734 103l8-5 6 7-5 8-8-5zM885 178l6 1 4 6-3 9-5 0-5-3-1-2zM873 545l6 0 2 2-2 13-8-4 0-2zM628 544l0-1 10 3 2 3-1 10-7-1zM334 341l7-8 3 1 6 15-6 3zM581 580l13 16-1 3-13-4zM747 320l5-2 6 7-2 6-7-2zM615 667l5-5 4 2 1 14-7 0zM121 49l7-6 3 1 3 9 0 2-9 1zM612 612l5-7 6 3 1 7-3 6-2 0zM617 138l6 0 2 7-7 6-4-5zM60 631l1-1 13 12-3 5-9-2zM322 210l3-2 8 4-1 9-8-2zM354 212l1-5 4 0 9 12-1 6-10-4zM446 662l5-3 4 3 1 9-5 4-6-6zM220 94l0-1 6-5 8 6-3 12zM640 549l10 6 0 1-6 10-5-7zM1 570l2-5 11 1-4 16-6-4zM233 351l6-5 7 10 0 1-10 4zM583 449l5-3 6 6-6 10-4-4zM421 490l5-10 9 11-2 6-10-2zM84 468l7-6 6 5 0 3-8 7zM683 658l4-2 3 2 3 12-9-2zM624 487l5-3 5 3 1 15-5-1zM276 306l1 1 5 10-8 13-3-2-2-3zM220 118l6 1 4 7-5 11-6-1zM6 337l6 7-1 10-5 1-6-7zM126 513l8 7-3 8-11-4zM574 496l9-2 3 5 0 9zM508 514l0-5 12 3 0 11-5 1zM551 348l1-4 9 4 1 6-8 2zM60 491l10 9-4 4-6-5zM58 580l0-1 11-6 5 7-8 9zM791 190l10-1 1 1-6 13-6-5zM559 576l9 5-1 8-6 2-7-5zM618 219l3-7 9 9-6 8zM12 585l12-1 5 12-15-3zM489 325l-1-2 6-4 8 10-1 6zM381 312l6-6 5 5-5 7zM58 559l6-7 6 3-1 17zM269 138l7-2 5 8-5 10-8-9zM521 222l5 0 5 12-1 1-8-1zM168 218l3-2 6 5 0 5-6 3zM462 28l4-6 9 15-1 2zM640 24l9-3 3 6-7 4zM121 188l7-5 4 9-6 4zM847 428l5-6 4 6-6 6zM645 31l7-4 2 2-3 13-3 0zM730 209l7 7-3 4-9-3zM871 262l2-2 10 8-10 2zM478 306l3 2 2 8-11-1zM303 105l3-4 10 13-3 4-8-4zM740 279l8 0-1 9-4 2zM451 403l5 1 2 11-9 3-4-5zM290 373l2 2 6 9-3 7-9-8zM781 687l6-2 5 7-7 5zM609 424l2-1 7 14-2 4-7-5zM542 589l9 0-1 10-6-1zM136 683l4-3 3 12-3 0zM442 414l3-1 4 5 1 12-4 0zM864 550l7 4 0 2-4 5-4-6zM695 346l14 9-9 9zM75 174l11 2-3 10-7-2zM276 478l1 0 7 7 0 7-8-2z"/><path fill="#f0503c" d="M385 329l2-11 5-7 6-2 9 3 11 12 2 18-4 8-11 5-10-5-7-9zM311 482l10-10 3 1 10 9 4 13-5 9-6 2-12-8zM144 339l8-8 4-1 11 23 0 1-3 3-11 3-7-8zM868 591l13-7 1 1 5 15-2 11-2 1-13-3-3-8zM352 643l8-3 3 2 5 16-8 7-11-7-2-2zM308 506l7-8 12 8 1 11-7 7-11-6zM473 224l3-2 14 10-3 13-6 1-10-10zM222 631l4-3 10 3 4 8-6 13-9-5zM794 320l10 3 3 4-3 13-2 1-10-8zM441 595l3 1 9 9-3 11-12-8zM698 176l0-2 6-3 10 6-5 10-3 1-2 0zM702 423l4-8 8 1 5 10-2 11-14-5zM195 601l2-1 8 5 1 2-2 14-8 0-4-11zM344 334l8-7 9 13-1 7-6 4-4-2zM594 50l5-6 7 5 2 7-3 7-4 0-7-7zM339 123l5-10 10 3 1 18-12-2zM621 621l3-6 6-1 4 4 1 6-5 6-2-1zM627 607l6-10 7 8 0 10-6 3-4-4zM338 1l8-3 1 1 3 16-10 1-3-4zM-4 107l6-5 11 7 0 1-5 16-1 0-10-11zM98 178l8-1 8 10-9 12-3-2zM462 275l3-9 7 2 5 10-5 8-4-1zM456 145l8-5 10 12-1 0-9 5zM97 556l9-1 4 5-1 8-9 2zM140 692l3 0 7 7-2 8-8 1-4-7zM321 524l7-7 8 6-4 9-6 0zM170 138l9 1 4 8-3 10 0 1-10-8zM853 560l4-5 6 0 4 6-2 10-12-8zM844 463l6-10 8 7 1 11-3 3zM394 697l2-3 10 14-8 8-5-6zM253 458l4-4 6 2 2 10-3 7-5-2zM452 489l12-7 3 13-7 3zM853 349l6 2 4 15-12-2-1-2zM594 298l9-3 3 5-1 10-7-2zM435 613l3-5 12 8 1 3-7 5-6-5zM105 444l12-2 2 10-6 6-4-2zM601 240l8 8 0 5-8 3-4-7zM139 65l7 1 3 7-3 7-10-5zM807 327l6 1 4 17 0 1-13-6zM223 154l4 3 2 12-2 5-10-4-1-5zM258 354l3-5 13 9 1 7-13-2zM206 607l9 5-1 15-3 0-7-6zM805 145l0-1 3-2 7 4-1 17-6-3zM698 476l4-4 8 5-5 9-7-4zM359 442l15 0-3 11-4 1zM453 101l6-4 2 1 1 10-5 3-2-1zM197 374l5-9 7 11-7 8-3-3zM672 479l10 8-9 9-1-1-1-2zM460 349l9-6 3 13-5 3zM848 546l9-2 0 11-4 5zM137 575l8-6 4 5 1 5-2 3zM761 561l5-8 6 6 0 8-7 2zM124 302l8 7 0 3-8-1zM404 382l0-1 9 1 2 3 0 10-6 0zM-6 586l3 1 5 12-10 1zM250 210l0-3 12 7-2 7-5 0zM705 135l1-1 10 3-7 9zM857 544l2-2 5 8-1 5-6 0zM378 612l3-9 9 13 0 2-2 1zM203 390l4 9-8 4-5-3 0-2zM405 449l3-4 9 6-6 8zM776 44l4-1 4 18-7 0zM124 482l4 3-6 11-6-7zM615 266l1-2 9-2 3 13zM478 525l8-2-2 12-1-1zM567 473l1 0 6 7-3 9-6-7z"/><path fill="#e8309c" d="M616 160l2-9 7-6 11-1 13 15-1 23-7 6-13-4-10-11zM782 423l-1-9 6-12 16 1 10 12 2 17-8 10-13-1-2-1zM458 415l-2-11 8-11 4-1 17 10 5 18-1 5-7 9-7 2-7-3-2-1zM327 266l7-5 9 1 5 7 3 8 0 7-2 3-10 2-12-11zM320 441l4-6 9 1 7 9 5 11 0 3-8 7-6-1-8-8-3-4zM208 261l7-11 3 0 10 5 5 10 0 11-11 5-6-3-9-13zM560 95l5-14 1-1 14 1 6 13-1 17-4 3-10-2zM526 130l6-4 7-1 7 4 5 9 1 15-2 4-13 2-11-14zM354 116l2-2 13 3 2 2 6 19 0 2-1 1-13 0-8-6 0-1zM349 599l6-4 7 2 7 7 4 9-2 11-2 2-13-2-9-11zM426 480l0-1 8-13 10 3 6 19-6 6-9-3zM234 652l6-13 12 2 8 13-6 13-4 2-12-6zM475 559l6-6 7 1 9 9 2 5-2 9-13 3-2-1zM498 434l4-4 6-1 8 7 3 6-1 12-5 3-5-1-10-12zM718 125l6-9 7 1 7 8 0 9-6 8-12-7zM753 307l3-9 10-1 5 3 6 14-2 9-4 2-9-3-8-11zM471 649l4-10 7 0 12 15-5 12-13-3zM813 328l7-10 9 6 5 14-6 9-11-2zM674 108l7-4 3 2 7 17-2 4-4 3-9-4-4-8zM682 180l1-2 15-2 6 12-2 9-7 4-6-3-4-4zM443 575l3-9 6-1 8 6 3 9 0 4-6 6-8-2-5-8zM285 460l2 0 6 6 2 7-3 10-8 2-7-7-1-5zM231 156l2-7 10-2 2 2 5 10-3 11-2 1-10-6zM5 631l0-1 14-2 5 12-3 11-5 1-6-7zM429 627l8 2 6 4 3 7-1 5-7 6-13-9zM135 360l5-7 6-1 7 8 1 6-6 11-9-3-2-3zM850 222l2-2 13 6 2 12-9 6-7-5-2-5zM111 45l1-1 9 5 4 7-2 11-7 4-9-11zM141 234l2-2 11 0 7 7 0 8-6 6-10-3-4-6zM636 211l10-3 1 1 5 9 0 8-6 8-13-13zM18 328l11-5 6 9 1 9-10 6-6-6zM447 259l1-2 15 6 2 3-3 9-7 6-4-2-7-8zM194 623l2-2 8 0 7 6-1 14-8 4-7-7zM598 167l9 1 7 8 1 8-3 8-7 0-11-10zM756 331l2-6 4-3 9 3 2 16-9 6-6-5zM-3 396l1-8 5-4 9 5 4 14-8 3-8-3zM276 154l5-10 11 2 6 13-2 5-8 3-12-9zM851 364l12 2 1 0 3 10-3 11-10 0-6-9zM837 -15l5-11 3 0 8 9 2 6-4 11-1 1-13-10zM35 177l8 5 6 15-10 10-8-7-1-10zM66 589l8-9 8 4 1 21-6 2-11-5zM684 592l0-6 5-6 12 9-1 3-6 11-6 0zM221 340l5-12 8 4 4 6 1 8-6 5-10-6zM199 403l8-4 9 7 1 6-9 10-6-4zM218 699l8-3 11 9-5 15-6 1zM432 399l0-2 10-6 9 12-6 10-3 1-2-1zM811 645l4-4 11 3 1 16-1 1-13-4-1 0zM850 1l1-1 15 5 1 13-1 2-4 2-9-4zM615 488l3-3 6 2 6 14-9 7-7-10zM201 268l6-3 9 13-1 9-7 3-5-2-4-7zM50 197l7-7 8 4 2 12-5 6-5-2zM466 22l2-10 6 0 7 5 1 7-2 11-5 2zM162 451l6-7 6 3 6 8-1 9-8 2-8-8zM877 433l6-8 1-1 10 9-3 12-4 2-8-5zM347 -1l10-1 7 11-6 13-8-7zM866 414l1-1 8 2 8 10-6 8-3-1-7-7zM348 564l10 3 3 18-6 1-8-5-1-3zM728 194l2-2 11 7 4 14-2 3-6 0-7-7zM17 469l6-10 12 14-1 6-14 0zM408 413l0-5 10-3 9 13-1 9-7 2-5-3zM460 498l7-3 9 7 0 1-8 12-7-6zM484 336l5-11 12 10 0 3-5 9-7-1zM740 -4l6-2 3 3 4 11-8 8-6-6zM545 511l10-6 10 7-2 10-8 3zM-5 528l8-10 4 1 9 11 0 5-5 7-8-1zM123 582l7-10 5 4 3 19-12-3zM536 114l3-3 12 1 1 2-1 11-5 4-7-4zM850 491l0-1 7-10 9 8-1 14-7-1zM457 171l7-8 12 9 1 2-5 8-6 0zM738 438l6-8 7 4 2 13-9 1-6-8zM597 6l7 3 3 9-4 11-5 0-8-7 0-3zM819 316l6-10 9 5 2 10-7 3-9-6zM317 336l6-5 10 10-6 11-8-4zM873 270l10-2 3 1-1 17-10-2-4-6zM651 159l5-7 1 0 9 8 2 11-2 5-6-1zM183 147l9-1 6 12-7 7-11-8zM672 418l9-3 3 2 3 16-15 1-2-10zM505 27l12-4 1 2 4 13-5 11-12-11zM205 3l7-6 7 8 0 8-6 7-4-2zM882 321l3-4 10 1 8 12 0 2-11 6-6-3zM391 654l11 3 3 7-5 10-9-5-2-5zM905 115l5 0 9 10-7 9-8-2-1-3zM551 402l4-4 2 0 4 3 5 11-8 9-5-1-2-6zM483 105l5 3 6 13-3 6-3 1-10-11zM706 326l7-9 3 1 6 10-1 9-5 2zM569 331l7-7 6 2 2 5-1 14-1 1-12-8zM127 369l10 2 2 3-2 13-11-6zM333 341l1 0 10 11-2 12-13-7-2-5zM586 499l10-3 3 4-1 12-6 1-6-5zM581 302l2-4 7-2 4 2 4 10-7 9-3-1zM34 618l4-9 6 2 5 8 0 9-4 3-3 0zM399 136l5-9 3 0 11 9 1 3-4 6-14-3zM888 261l7-5 8 12-5 8-12-8zM380 688l6-4 10 9 0 1-2 3-9 5-5-6zM377 104l8-1 5 8-4 10-9-5zM609 223l9-4 6 10-1 11-9-1-5-6zM386 566l12-4 1 0 0 16-8 3zM477 215l9-3 9 10 0 8-5 2-14-10zM601 263l0-7 8-3 7 11-1 2-6 4-5-2zM761 412l8-3 4 4 0 10-7 1-2-1zM202 365l1-2 3-3 8 1 5 10-1 7-9-2zM157 411l11 9-5 11-9-3-1-2zM116 468l1-2 10-5 2 1 0 1 1 21-2 1-4-3zM476 503l0-1 6-5 10 8 1 7-9 4-5-3zM36 34l1-6 8-2 5 12-6 6zM815 52l8-4 6 11-2 9-11-9zM337 205l11-5 3 1 4 6-1 5-6 5-10-9zM597 39l1-10 5 0 7 16-4 4-7-5zM60 96l2 0 1 1 5 16-1 1-8-1-5-8zM352 327l0-1 8-4 8 7-1 8-6 3zM616 441l2-4 13 4 0 9-4 5-11-9zM643 312l8-7 7 4-1 15-9-3zM541 205l9-10 5 16-5 5-1 0zM331 172l12 2 3 5-7 11-9-10zM544 570l3-6 9 5 3 7-5 10-1 0-8-11zM154 366l7 8-1 8-9 1-3-6zM571 489l3-9 9 2 0 12-9 2-1-1zM453 695l0-8 14 0-2 19zM868 56l13 2 0 1-5 15-6-3-4-6zM493 73l1-1 12-4 4 2-6 18-6-4zM875 447l4-5 8 5 0 14-2 0-10-8zM221 514l8-8 6 3 0 11-7 4-4-4zM148 534l8-5 7 5-1 16-2 0zM388 197l8-2 10 10-2 4-5 3-7-3zM534 204l7 1 8 11-6 7-10-11zM156 330l4-5 1 0 13 16-7 12zM887 691l7-2 1 1 4 11-6 8-6-2-2-5zM236 66l7-6 6 7 0 9-7 2-6-8zM160 635l3-7 12 8 1 3-8 7zM164 357l3-3 8 16-5 7-6-4zM608 160l8 0 2 13-4 3-7-8zM219 371l4-4 6 2 3 14-2 3-6 0-6-8zM46 95l2-7 3 0 9 8-6 9-4-1zM377 21l4 0 5 14 0 1-10 0-2-5zM308 50l11 1 1 8-8 8-5-7zM49 525l4-9 9 5-2 15-6-2zM697 549l0-5 11-2 3 6-3 13-3 0zM829 324l7-3 8 10-10 8 0-1zM692 633l2-4 8 0 7 10-6 7zM433 143l1 0 11 7 0 4-6 5-7-2zM664 144l6 1 3 7-7 8-9-8zM265 674l5 0 6 9-4 6-8-2zM254 404l5-1 9 14-11 4zM519 442l6 0 2 2 1 13-10-3zM755 90l2-7 14 10 0 7-2 2-13-8zM401 601l6-4 11 17-3 2-14-5zM141 520l3-4 8 3 4 10-8 5-1-1zM342 59l3-1 6 6 1 7-6 3-5-5zM907 155l8 4-2 17-10-11zM221 318l1-1 16 5 0 1-4 9-8-4zM441 542l13 0 4 8-7 6-7-4zM597 416l7-11 7 10 0 8-2 1-10-4zM669 0l10 5-6 10-8-2zM422 92l10 0 3 11-7 5-2-1zM847 304l0-3 9-7 5 8-3 9-4 1zM567 121l4-9 10 2-2 18-3 0-8-6zM764 347l9-6 4 4 0 13-3 2-9-6zM211 564l2-5 6 0 6 7-2 6-11-3zM49 619l7-3 5 5 0 9-1 1-11-3zM636 350l1-4 10 0 2 8-8 3zM212 327l9-9 5 10-5 12-7-7zM387 394l2-1 7 10-1 8-10-3zM637 250l5-2 7 10 0 4-5 4-7-7zM284 485l8-2 5 7-4 10-2 0-7-8zM903 268l10 1 1 1 0 1-5 14-9-5-2-4zM847 608l7-1 5 8-1 5-14-2zM689 439l-1-4 14-1 1 7-5 6zM196 448l1-2 12-1 1 2 0 20-5 1zM532 378l0-1 11-1 4 7-8 5-6-5zM483 350l2 0 4 13-3 3-9-9zM-8 -9l7 1 4 10-2 4-9-7zM245 18l4 0 6 11-2 6-11-7zM696 310l13 1 4 6-7 9-6-2zM419 429l7-2 5 8-4 8-6-2zM600 235l9-2 5 6-5 9-8-8zM283 414l11 1 1 2-6 13-3-1zM797 38l8-7 5 4 0 10-7 3zM29 406l6-10 7 7-3 10-8-3zM846 255l7 5 1 7-5 6-1 0-3-3zM191 165l7-7 4 1 1 16-11-4zM223 533l5-1 6 10-12 4zM888 651l5-9 10 12-6 6zM367 546l4 4 1 7-10 2-2-5zM559 260l11 0 1 6-4 9-9-9zM332 69l1-1 8 1 5 5 0 6-6 2zM447 99l6 2 2 9-11-2-1-1zM388 498l8 7-2 6-8-2zM46 553l6 6 0 12-9-1-1-1zM623 138l1-3 12 8 0 1-11 1zM346 74l6-3 4 6 0 7-4 2-6-6zM676 126l9 4-1 10-10-5-1-2zM144 308l0-1 2-6 11 4 0 13zM113 458l6-6 8 9-10 5zM519 590l1-2 10 5 1 5-8 1zM152 270l9 7 1 4-5 7-8-4zM390 461l15 8-1 5-12-1zM187 652l9 6-5 8-6-3zM523 435l4-5 5 8-5 6-2-2zM856 639l7-6 5 9-2 10zM818 -13l6-1 5 6-7 7-2-2zM409 395l6 0 4 8-1 2-10 3-1-2zM146 465l11 2 1 9-6 4zM458 626l7-6 1 1 6 14-13-3zM709 459l10 6 0 2-7 8zM742 172l8-3 4 10-3 4zM794 215l4-5 11 8-11 8zM405 358l0-3 11-5 4 11-3 8-1 0zM277 636l5-1 2 2 1 14-1 0-7-5zM292 594l6-2 3 2-1 18-3 1zM456 514l5-5 7 6 1 2-11 3zM424 617l11-4 3 6-1 10-8-2zM52 453l3-2 8 8-9 14-1-1zM371 550l8 1 2 10-9-4zM336 564l12 0-2 14-7-3zM803 582l6-4 4 6-1 8-4 2-2-1zM233 585l0-1 14 5-2 11zM830 152l12 6-6 8-6-5zM543 401l8 1 0 12-9-6zM102 235l7 3 3 6-4 7-6-6zM512 596l7-6 4 9-5 4zM51 358l5 2 2 6-5 7-5-2zM245 46l6 1-1 10-8-2zM496 347l5-9 9 13-8 4zM288 108l6-2 1 1 3 10-4 7-2-1zM682 89l9 9-7 8-3-2zM870 436l4-4 3 1 2 9-4 5zM40 528l9-3 5 9-7 3zM420 67l3-4 4 2-1 11-2 0zM733 259l2-6 8 6-1 8-2 0zM739 37l8 10-5 4zM129 463l8 9-1 12-1 1-5-1zM751 515l10 2-2 12-3-1zM218 76l5 1 3 11-6 5-2-2zM479 463l8 1 3 13-10 3-1 0zM356 77l7 0 0 10-7-3zM339 190l9 10-11 5 0-1zM193 201l5 3-1 9-7-6zM570 68l11 9-1 4-14-1zM484 516l9-4 1 3 0 1-8 7zM833 223l6 5-3 7-5-6zM824 533l11 3-8 9-5-7zM610 659l2-4 8 7-5 5zM252 687l11 1 0 11-11-4zM277 77l2 1-1 13-9-3zM845 408l8-5 3 9-4 5zM150 30l8-3 2 2-4 10zM160 464l3-6 8 8-2 9zM661 273l1 0 1 0 5 13-6 2-4-8zM219 527l5-7 4 4 0 8-5 1zM569 343l1-5 12 8-8 7zM686 12l8 1-4 11-5-4zM421 554l8-3 4 12zM760 22l2 0 5 5-1 11zM88 194l13 3-10 9zM736 446l2-6 6 8-1 6zM438 619l6 5-1 9-6-4zM494 516l0-1 11 1-2 7zM517 213l2-3 10 4-3 8-5 0zM682 323l4 5-9 8-4-7zM122 152l3-5 10 7 0 1-7 4zM677 370l6-5 2 10-1 0zM291 -9l5-4 4 3-1 9-4 2zM340 82l3 12-3 3-7-7zM399 212l5-3 2 14-6-1-1 0zM726 265l9 11-8 3-3-3z"/><path fill="#4a66dc" d="M208 422l9-10 20 9 1 1 4 18-3 11-6 5-9 0-14-9-1-2zM286 63l7-9 2 0 12 6 5 7 3 9-3 11-7 5-5-2-10-8-3-4zM495 222l6-13 3-1 13 5 4 9 1 12-4 9-1 1-11-2-11-12zM401 90l9-7 7 3 5 6 4 15-6 12-9-2-10-10-1-6zM97 523l3-8 9 0 11 9 2 19-8 4-8-1-7-6-1 0-2-7zM676 675l8-7 9 2 7 5 2 8-3 12-11 5-8-6-3-8zM381 67l2-6 9-5 10 7 5 7 3 13-9 7-15-5-3-4zM494 10l1-8 8-6 9 2 3 3 3 18-1 4-12 4-9-9zM289 215l5-13 9-2 9 4 1 2 4 17-1 3-8 8-8-3-11-15zM819 620l6-8 10 1 8 6 1 10-10 13-5-1-7-11zM650 183l10-8 6 1 7 10 1 12-4 5-13-5zM501 335l1-6 8-5 8 2 5 6 1 13-8 8-6-2-9-13zM878 128l5-12 8 1 12 12 1 3-4 14-4 2-14-6-2-3zM105 199l9-12 7 1 5 8 4 12-5 10-8-3-10-11zM909 390l5-11 16 2 1 0 4 12-5 14-7 1-12-5zM484 535l2-12 8-7 9 7 8 12 0 7-5 7-8 1-4-2zM238 338l6-8 7 0 9 9 1 10-3 5-5 3-7-1-7-10zM-21 44l0-1 12-1 8 7 1 15-8 6-10-2-3-4zM425 162l5-5 2 0 7 2 10 10-3 15-7 3-5-1-7-7zM125 562l1-15 14 0 6 9-1 13-8 6-2 1-5-4zM284 637l6-5 12 3 5 18-2 4-12 1-8-7zM256 122l-1-3 2-4 13-5 4 3 5 8-3 15-7 2-8-6zM527 554l1-9 2-2 9 1 8 11 0 9-3 6-13-4-1-1zM621 508l9-7 5 1 6 6 3 10-1 6-6 7-9-1-7-8zM89 710l4-11 6-2 7 4 8 18-8 12-15-9zM12 389l3-11 5-3 13 12 2 9-6 10-13-3zM650 494l3-9 8-2 10 10 1 2-5 15-11-5zM522 38l7-2 7 5 2 3 1 6-3 9-12 0-6-6-1-4zM223 77l4-6 9-1 6 8 0 6-4 9-4 1-8-6zM118 321l3-7 3-3 8 1 8 10-2 13-10 7-3-3zM684 106l7-8 3-1 11 7 2 15-1 3-8 3-7-2zM640 605l8-3 8 3 3 9-3 11-4 2-8-4-4-8zM458 73l6-10 11 6 4 8-1 7-7 8-5-1-4-5zM731 175l6-5 5 2 9 11 2 10-5 5-7 1-11-7zM751 379l7-7 11 8 2 8-6 10-7-1-8-7 0-1zM242 524l3-9 8-2 4 3 4 10-1 10-2 4-11-2zM646 42l2 0 3 0 8 4 7 12 0 3-1 3-9 6-5-1-9-12zM109 350l6-12 10 1 3 3 1 13-6 10-5-1zM642 468l1-7 5-3 10 1 5 18-2 6-8 2-9-8zM205 590l6-4 12 7 1 18-9 1-9-5-1-2zM352 683l3-8 6-3 9 6 2 5 0 13-4 5-11-3-3-3zM505 417l1-1 7-7 4-1 7 6 4 11-1 5-4 5-7 1-8-7zM566 -26l6-5 5 1 11 13 0 10-16 6-7-16zM365 394l7-12 4 0 11 12-2 14-4 3-14-8zM119 601l7-9 12 3 2 2 0 1-3 18-1 0-6-1-10-10zM897 660l6-6 1 0 13 20-10 8-8-6zM155 16l3-11 7 2 11 12 0 1-2 11-14-2-2-2zM291 500l2 0 11 3 4 3 2 12-9 7-12-10zM614 74l7-8 6 1 6 8-1 11-7 4-6-4zM276 281l10 0 5 7 2 14-3 5-13 0-1-1-5-8zM853 260l8-8 3 2 7 8 2 8-2 8-10 0-7-11zM97 666l5-11 13-1 3 4-2 18-4 3-12-6zM847 573l6-10 12 8 1 3-2 12-10 1zM799 -12l3-6 11-1 5 6 2 10-9 5-6-1-4-6zM246 481l3-7 8-3 5 2 2 5 2 14-10 6-2 0-3-4zM354 372l7-5 11 15-7 12-12-7-1 0zM283 517l6-2 12 10 0 12-6 4-10-2-4-10zM415 385l11-2 1 1 5 13 0 2-7 5-6-1-4-8zM700 364l9-9 1 0 10 15-6 13-14-5-3-4 0-1zM169 104l2-6 5-2 7 4 5 10-2 9-8 1-5-2zM263 163l13-3 6 17-10 7-10-8zM585 56l9 0 7 7 1 12-7 7-12-6zM140 405l13-3 3 3 1 6-4 15-7-1-4-5zM430 199l3-3 7 1 6 5 2 10-7 5-4 0-9-7 0-2zM225 137l5-11 11 4 2 3 0 14-10 2zM423 643l2-1 13 9 1 7-2 8-9 1-8-7zM3 76l1-8 9-2 10 13 0 7-7 4-10-5zM109 568l1-8 5-2 10 4 5 10-7 10-9-2zM320 22l4-9 6 2 7 10 1 7-9 4-6-4zM260 221l2-7 9-2 7 9 0 10-3 5-10-2zM332 547l5-4 10 3 2 3-1 15-12 0-5-7zM841 464l3-1 12 11 1 6-7 10-11-8zM230 386l2-3 11-6 4 1 1 1 1 21-12 1-1-1zM248 100l2-5 6-5 10 5 4 15-13 5zM302 635l10-4 9 8 1 3-8 11-7 0zM721 541l10-8 8 13-2 13-9 0-7-10zM319 51l2-4 11 0 4 9-3 12-1 1-3 0-9-10zM10 277l6-9 10 4 2 9-3 10-14-8zM9 -8l5-2 11 8-3 17-11-4-5-10zM83 646l7-8 7 4 5 13-5 11-9-4zM606 533l1-6 14-5 7 8 0 13 0 1-11 1zM822 193l6-6 8 3 3 6 1 8-6 7-2 0-6-4zM713 521l9-2 8 10 1 1 0 3-10 8-9-7zM718 301l6-9 4 0 6 4 3 14-8 5-7-5zM670 566l9-2 9 7 1 9-5 6-9-2zM865 226l4-6 7 0 5 6 2 13-1 3-9 2-6-6zM120 97l8-4 7 4 2 4-2 15-7 1-9-10-1-2zM720 238l2-1 11 4 2 12-2 6-8 3-6-10zM814 107l12 5 5 10-7 12-12-11zM103 98l7-3 8 10 1 2-4 8-8 1-7-10zM41 -1l7-10 13 13 0 1-4 8-8 2zM455 662l9-4 8 7-1 18-2 2-13-14zM769 102l2-2 12 7 4 14-3 1-14-3-1-2zM98 319l5-7 8 2 3 6-4 11-6-1-7-8zM364 9l4 0 9 12-3 10-14-4-2-5zM905 199l1-8 6-4 12 14-4 8-7 2-4-3zM145 620l7-8 4 1 5 6 2 9-3 7-2 1-10-6zM42 403l11-1 5 11-3 7-10 4-6-11zM758 469l7 0 5 8 0 10-1 2-11-2-3-7zM384 630l4-11 2-1 12 13-1 9-13 3zM167 178l6-6 2 0 8 10 0 3-10 12-7-9zM496 133l7-1 4 3 4 10-10 10-11-11zM23 79l6-9 1 0 9 7 1 3-4 12-9-2-4-4zM778 623l6-4 11 8 2 13-12 3-9-12zM181 682l2-1 6 3 6 10-6 12-13-8zM241 115l4-1 10 5 1 3-4 12-3 1-6-2-2-3zM593 599l1-3 8-3 7 6 2 12-10 5-7-11zM344 352l6-3 4 2 7 12 0 4-7 5-12-6 0-2zM584 549l1-3 8-2 5 3 3 8-5 12-10-2zM-15 695l1-2 10-4 5 2 3 10-4 12-10-8zM892 338l11-6 4 13-4 13-4-2-5-5zM505 187l5-4 9 2 3 4 1 6-6 9-9-6zM219 59l0-7 6-6 8 8 3 12 0 4-9 1zM835 691l8-9 6 5 2 10-3 6-9 0zM188 514l8-5 2 1 5 8-4 15-4 0-7-6-1-1zM246 540l1-2 11 2 2 3-2 17-3 0-6-5zM122 626l1-4 7-7 6 1 3 16-8 7-5-3zM234 685l9-5 6 2 3 5 0 8-1 2-10 2zM690 149l8-4 9 7 1 6-5 4-8 0-3-3zM632 22l8 2 5 7 3 11-2 0-11 0zM31 410l8 3 6 11 0 1-9 8-8-2-3-6zM875 27l2-6 7-5 8 7-3 18-2 1-9-5zM83 272l4-7 10 1 8 11-4 13-3 1-9-3zM432 92l3-8 8 4 4 11-4 8-8-4zM568 581l6-4 7 2 0 1-1 15-3 3-7-5-3-4zM188 473l12 3 1 3-1 15-6 3-11-11zM898 550l2-1 12 7 2 7-9 10-7-7zM425 320l8-9 7 2 4 11-7 10-1 0zM641 357l8-3 1 0 6 15-8 6-9-9zM156 581l2-9 8 1 4 11-1 5-10 0zM514 106l13 3 1 2-1 6-5 7-8-3-2-5zM843 619l1-1 14 2 5 10 0 3-7 6-7-3-5-7zM98 291l3-1 11 9 1 12-2 3-8-2-4-5zM636 328l10 4 3 6-2 8-10 0-4-7zM680 249l3-10 6-2 10 15-3 10-5-1zM368 9l6-12 0 1 8 8 2 12-3 3-4 0zM658 135l0-5 7-4 8 7 1 2-4 10-6-1zM28 36l8-2 8 10 0 5-9 6-4-4zM531 566l13 4 1 5-6 9-5-1-4-7zM755 496l3-9 11 2 1 13-5 4zM49 591l9-11 8 9 0 13-13-1zM482 434l7-9 9 9 0 10-2 1-9-1zM652 627l4-2 9 9-1 13-4 0-9-10zM137 472l9-7 6 15-2 4-14 0zM722 328l8-5 6 9-2 12-13-7zM84 500l1-2 9-1 6 18-12-2-1-1zM173 301l9-1 9 11-5 7-1 0-10-7zM758 425l6-2 2 1 5 10 0 5-9 1-6-7zM784 549l5-7 10 6-1 15-1 1-8-3zM-14 636l1-4 2-1 10 5 0 11-8 3-2-3zM69 685l7-9 8 2 3 3 1 13-8 2-11-10zM118 364l5 1 4 4-1 12-7 4-7-7zM158 698l4-8 14 8-1 10-6 2-7-3zM880 382l0-1 9 7 3 15-13-5-2-3zM797 564l1-1 11 8 0 7-6 4-7-5zM520 512l3-3 11 12 0 5-6 3-8-6zM739 459l4-4 8 4 2 7-6 8-3-1zM784 122l3-1 7 7 0 2-5 11-8 0-2-7zM45 346l5-9 1 0 9 12-4 11-5-2zM630 684l12-1 5 6 0 1-6 10-10-3zM799 693l2-7 10 4 2 5-2 6-6 2zM810 35l8-1 5 11 0 3-8 4-5-7zM515 568l5-6 10 3 1 1-1 10-11 1zM374 482l5-9 11 6 2 5-6 10-8-4zM869 112l10-3 2 2 2 5-5 12-7-5zM83 248l1-4 13 5 2 9-2 8-10-1zM390 479l2-6 12 1 3 10-5 7-10-7zM670 203l4-5 4 1 7 9-4 10-3 0-8-10zM559 388l8-2 4 4 1 10-1 0-10 1-4-3zM580 81l1-4 2-1 12 6-2 14-7-2zM386 429l6 2 5 11 0 1-8 9-9-10zM402 631l2-2 6 1 7 11-6 7-7-2-3-6zM293 466l13-3 5 18-6 0-10-8zM708 511l7-7 7 10 0 5-9 2zM312 270l4-9 5-1 6 6 0 12 0 1-13-1zM72 223l4-7 8 1 3 12-4 8zM192 146l2-10 11 6 1 16-4 1-4-1zM848 57l6-1 4 9-1 5-11 4 0-1-1-4zM706 122l1-3 11 6 2 10-4 2-10-3zM537 488l4-3 9 2 1 9-9 4zM537 99l10-2 3 3 1 12-12-1-2-6zM507 312l4-5 3 0 5 6-1 13-8-2zM541 645l6-1 9 11-2 8-13-4zM532 253l12 6 1 3-7 6-7-3zM583 482l5-4 7 8 1 10-10 3-3-5zM841 347l7-4 5 6-3 13-9-7zM427 286l11-1 3 4-2 10-10 0-1-1zM251 626l6-5 10 10-3 6-10-2zM582 46l6-5 2 0 4 9 0 6-9 0-4-5zM239 31l3-3 11 7 2 9-4 3-6-1zM730 414l3-3 9 5 2 13-11-1-3-3zM233 456l6-5 4 5-1 13-2 2-6-4zM165 80l0-3 8-3 6 5 1 5-4 6zM838 483l1-1 11 8 0 1-7 11-7-9zM369 167l3-4 11 3 2 4-1 5-7 3-7-7zM900 4l9 0 6 11 0 1-1 1-10 1-4-3zM611 454l5-8 11 9 0 4-9 6zM495 480l11-7 1 1 5 12-9 8zM225 -2l6-7 9 11-1 4-12-1-1-2zM887 -23l10 7-2 14-10-1zM472 182l5-8 4 4 4 13-2 4-9-3zM598 152l5-1 5 9-1 8-9-1-2-4zM23 16l14 12-1 6-8 2-4-2-1-2zM106 19l6-5 12 12-1 2-9 6zM294 557l3-4 7 1 3 7-4 8-8-9zM482 5l12 5 2 8-5 3-9-4zM139 374l9 3 3 6-1 9-12-3-1-2zM429 299l10 0 4 11-3 3-7-2zM559 633l6-8 10 9 0 2-8 6-5-2zM363 589l11 8-5 7-7-7zM663 273l18 6-6 10-7-3zM864 366l9-3 8 16-1 2 0 1-13-6zM783 569l1-4 5-4 8 3-1 13-6 3zM176 90l4-6 7 5 1 4-5 7-7-4zM132 312l0-3 12-2 0 1-3 14-1 0zM841 97l6-1 5 7-6 6-6-6zM441 270l3 1 7 8-4 9-6 1-3-4zM540 461l6-7 6 6-5 13-2 0zM605 106l8 6-7 9-8-8zM826 112l4-9 5 2 3 16-7 1zM687 48l14 1 0 5-11 7-2-2zM832 587l4-8 8 13-3 5-3-1zM222 281l11-5 5 7-1 8-12 0zM382 6l7-2 3 6-3 9-5-1zM794 673l5 6 2 7-2 7-7-1-5-7zM451 279l4 2 3 8-3 5-8-6zM306 463l3-4 12 13-10 10 0-1zM874 42l4-5 9 5-6 12zM575 636l0-2 9-4 4 5-3 14zM372 47l11 14-2 6-15-6zM136 616l1 0 8 4 3 10-3 4-6-2zM319 114l5-6 7 5 2 8-6 5zM506 300l5 7-4 5-8-5zM714 640l11-5 2 15-2 3zM826 661l1-1 13 1 1 3-2 8-13-4zM487 205l11 1 3 3-6 13-9-10zM427 -10l8-5 4 13-10 1zM-2 171l5-5 7 11-7 7zM256 498l10-6 2 1 2 18-2 0zM472 595l2 0 7 6 0 10-9-1-4-5zM736 69l7 5-1 9-9-6zM353 467l10 1 3 12-4 3-4-1zM40 80l8 8-2 7-7 1-3-4zM208 50l11 2 0 7-7 7-4-5zM523 474l7-2 1 2 3 13-11 3zM331 113l10-3 3 3-5 10-6-2zM128 342l12 11-5 7-6-5zM885 461l2 0 5 20-12-4zM686 459l6 4-1 6-6 3-5-5zM426 107l2 1 4 9-2 7-9-2-1-3zM177 575l7-3 5 11-4 5-7-6zM731 1l4-8 5 3-1 14-3-1zM239 256l6-5 4 3-1 9-9-4zM561 348l8-5 5 10-10 4-2-3zM611 562l6-2 6 5-3 8-6 0zM784 167l10 4 1 6-9 5-2-2zM116 71l7-4 9 10-1 3-5 2-9-6zM355 586l6-1 2 4-1 8-7-2zM177 65l8 6-6 8-6-5zM568 672l4-7 7 5 1 8-9-2zM-11 222l10 9-5 6zM371 531l10-5 0 12-9-4zM754 50l7-2 5 13-7 2-4-4zM118 609l2-4 10 10-7 7zM841 513l2-10 9 6 0 13-1 0zM363 141l13 0-7 13-3-1zM539 -4l7 0 0 13-7-2zM838 57l1-5 9 5-3 12zM176 520l11 6 1 1-13 6zM849 273l5-6 7 11-3 3zM859 38l4-4 5 7-5 5zM125 662l7-2 3 8-6 1zM438 588l6-8 5 8-5 8-3-1zM534 96l3 3 0 6-6-1zM609 599l3-1 5 7-5 7-1-1zM445 340l4-1 6 8-10 9zM390 618l0-2 10-2 4 15-2 2zM816 487l5-4 2 2 4 8-4 6zM201 479l7 9-3 10-5-4zM866 20l1-2 10 3-2 6zM505 167l4 2 1 14-5 4-6-4zM397 163l5 9-6 5-4-6zM790 77l0-2 7-2 3 16-2 0zM224 386l6 0 6 14-13-3zM844 629l5 7-11 11-4-5zM531 104l6 1 2 6-3 3-8-3-1-2zM436 261l11-2-3 12-3-1zM240 471l2-2 7 5-3 7-3-2zM726 5l5-4 5 8-5 3zM55 435l4-3 5 2 2 5-10 7zM649 494l1 0 6 11-3 3-7-3zM874 516l11 8 0 4-2 2-3 0-1 0zM94 310l5-3 4 5-5 7zM740 607l0-3 7 0 4 6-4 5zM663 365l11 6-3 7zM438 506l6-1 3 7-1 6-9-5zM270 -2l1 1 3 9-11 0zM623 608l4-1 3 7-6 1zM666 58l7-5 5 5-4 8-8-5zM892 481l12 2 0 2-5 8zM29 323l3-6 13 8 0 2-10 5zM518 387l11 7 1 3-10-1zM406 -5l6 3-1 10-8-8zM468 197l1 0 3 11-9 0-1 0zM439 159l6-5 5 15-1 0z"/><path fill="#b070dc" d="M467 687l2-2 2-2 5 1 10 5 7 9 2 6-3 12-7 5-11-2-9-13zM796 231l2-5 11-8 3 0 11 13 3 15-5 12-5 1-14-9-2-1zM603 29l4-11 11-5 8 2 6 7 3 20 0 2-10 8-9-1-6-6zM-28 400l3-11 12-4 10 11 3 7-1 14-11 5-6-1-6-7zM393 185l3-8 6-5 9 3 4 5 2 7-3 14-8 4-10-10zM597 348l3-11 12 1 8 11 2 9-3 7-10 2-4-2-5-7zM467 359l5-3 5 1 9 9 3 12-1 4-7 6-11-1-6-15zM377 140l0-2 8-5 11 1 3 2 2 6 0 10-5 8-10-3zM799 548l3-3 11 3 9 13-6 9-7 1-11-8zM-4 553l0-3 7-9 8 1 5 12-1 12-1 0-11-1zM598 547l6-13 2-1 11 12 0 15-6 2-3 0-7-7zM889 388l6-10 6 1 8 11 2 13 0 1-18 0-1 0 0-1zM765 398l6-10 9 4 6 8 1 2-6 12-8-1-4-4zM469 197l5-5 9 3 4 10-1 7-9 3-5-7zM682 634l2-1 8 0 11 13-1 10-12 2-3-2-5-10zM711 548l10 1 7 10-2 9-11 2-7-9zM305 178l7-9 4 1 9 11-4 12-7 0-9-12zM240 493l11 1 3 4-1 15-8 2-8-7zM83 237l4-8 13 3 2 3 0 10-5 4-13-5zM587 280l7-4 4 2 6 8-1 9-9 3-4-2zM371 453l3-11 1-1 5 1 9 10 1 9-12 6-2-2zM727 279l8-3 2 0 3 3 3 11-2 5-7 1-6-4zM883 612l2-1 14 6 1 2-4 14-5 3-7-11zM894 433l7-2 9 19-2 4-9 2-8-11zM262 8l1 0 11 0 7 8-2 11-7 3-9-6zM636 574l8-3 8 12-7 8-10-3zM737 519l6-9 6 2 2 3 5 13-7 8-2 0-8-7zM526 222l3-8 4-2 10 11 1 10-13 1zM89 609l2-2 13 5 3 18-14-4zM146 127l9-7 9 9 0 3-8 8-9-10zM660 647l4 0 3 3 1 18-1 1-13-5-1-3zM141 322l3-14 13 10 3 7-4 5-4 1zM801 90l11-9 3 2 4 12-6 10zM20 375l1-3 8-6 12 11-8 10zM53 602l0-1 13 1 5 15 0 1-10 3-5-5zM784 153l9-1 4 5 1 2-4 12-10-4-2-3zM114 34l9-6 5 15-7 6-9-5zM178 326l7-8 1 0 5 9-1 12-9-2zM547 173l5-5 11 11-3 10-9 3zM273 569l2-6 9 1 7 10-9 8zM-1 49l7-2 9 14-2 5-9 2-4-4zM187 251l1-2 7-4 8 5 5 11-1 4-6 3-12-11zM62 335l3-4 10 2 5 8 0 4-5 6-11-4zM645 591l7-8 7 4 1 10-4 8-8-3zM287 678l0-5 6-3 10 6-1 7-6 4-5-1zM469 343l3-7 2 1 9 13-6 7-5-1zM45 26l3-5 12 6 1 6-6 8-5-3zM555 690l4-10 9 4 3 9-4 6-9-2zM857 70l1-5 8 0 4 6-2 8-6 1zM743 259l7-2 6 12-5 7-9-9zM790 25l2-5 7 0 6 11-8 7-4-3zM240 218l10-8 5 11-3 8-12-4zM895 71l13 6 2 4 0 6-16 3zM428 108l7-5 8 4 1 1-6 12-6-3zM173 -13l3-2 11 8-3 9-10 0zM-5 664l9-2 6 7-5 8-10-7zM387 644l1-1 13-3 3 6-2 11-11-3zM254 498l2 0 12 13-11 5-4-3zM433 382l4-9 8 4 1 0-4 14zM130 405l9-1 1 1 2 15-11-1zM118 703l5-6 6 4 0 12-9-3zM700 568l5-7 3 0 7 9 0 5-8 9zM185 588l4-5 8 7 0 10-2 1-9-7zM616 113l4-8 4-1 8 14-10 5zM609 685l6-1 6 12-9 6-4-4zM273 66l2-3 9-1 2 1 1 15-8 0-2-1zM171 289l10-3 3 4-2 10-9 1-1 0zM-5 528l8 13-7 9-4-3-3-6zM316 170l11-6 4 8-1 8-5 1zM287 554l7 3 1 3-4 14-7-10zM859 109l7 0 3 3 2 11-6 3-6-6zM360 272l0-7 8 0 6 10-5 10zM832 75l14-2 0 1 2 6-3 7-6 2-5-4zM208 290l7-3 7 6-4 13-5-3zM594 263l7 0 3 5-6 10-4-2zM553 138l2-8 8 2-1 14 0 1zM882 165l6-4 6 3-3 15-6-1zM627 455l4-5 12 11-1 7-13-5-2-4zM680 5l2-6 14 8 1 3-3 3-8-1zM580 388l4-5 5 2 2 10-5 2zM30 599l8 10-4 9-7-2zM652 218l11 3 0 1-5 9-6-5zM554 356l8-2 2 3 2 5-4 6-8-5zM718 282l6-6 3 3 1 13-4 0zM407 269l12-2 3 12-13 1zM540 477l5-4 2 0 5 10-2 4-9-2zM482 24l7 3 1 10-10-2zM563 179l9 0 1 3-5 12-8-5zM185 426l1 0 11 20-1 2-9 1-4-5zM637 531l6-7 6 8-1 4-8 1zM468 392l2-5 11 1 5 10-1 4zM653 421l5 12-5 5-6-3zM69 308l1-4 12 2 1 10-6 4zM883 303l10 3 2 12-10-1zM720 370l1 0 5 11-7 8-5-6zM106 546l8 1 1 11-5 2-4-5zM781 549l3 0 5 12-5 4-5-7zM604 576l8 3 2 6-2 3-7-2zM131 44l5-2 5 7-7 4zM109 456l4 2 4 8-1 2-10 1-3-3zM475 436l7-2 5 10-2 4-5-1zM136 91l6-1 5 8 0 2-10 1-2-4zM866 672l10 13-6 5-2-1zM129 669l6-1 5 5-9 4-1 0zM111 89l1-1 8 9-2 8-8-10zM68 84l8 14-3 3-10-4-1-1zM539 50l9 9-1 5-10-2-1-3zM59 303l10 1 1 0-1 4-10 4zM482 5l0 12-1 0-7-5zM111 314l2-3 8 3-3 7-4-1zM687 620l7 9-2 4-8 0zM752 318l2-7 8 11-4 3zM811 2l9-5 2 2-1 13zM489 425l1-5 9 3 3 7-4 4zM295 560l8 9 0 1-9 6-3-2zM567 275l4-9 9 13-3 3-7-1zM367 454l4-1 5 12-9-3zM35 55l9-6 4 5-2 9zM633 653l8-2 2 3-4 9-6-5z"/><path fill="#3cc07a" d="M255 423l2-2 11-4 3 1 8 13 0 10-4 8-9 0-10-11zM121 502l1-6 6-11 2-1 5 1 8 12 2 12-1 7-3 4-7 0-8-7zM18 483l2-4 14 0 4 11 0 8-8 6-8-6zM77 320l6-4 8 9 1 10-12 6-5-8zM625 473l4-10 13 5 2 9-5 8-5 2-5-3zM730 400l5-7 11 3 3 12-1 3-6 5-9-5zM757 601l5-10 9 6 3 6-4 11-9 2-3-5zM777 314l2-2 13 0 2 8-2 13-4 1-13-11zM198 510l8-11 10 8 1 3-7 11-7-3zM573 182l-1-3 2-3 14 3 4 3-1 15-9 1zM842 247l9-8 7 5 3 8-8 8-7-5zM647 209l6-8 3-2 9 13-2 9-11-3zM233 184l10-6 8 11-3 11-13-7zM666 -9l4-9 10 7 2 10-2 6-1 0-10-5zM198 62l10-1 4 5 1 5-7 5-6-4zM314 193l7 0 5 7-1 8-3 2-9-4-1-2zM718 5l8 0 5 7-1 6-3 3-6-1-4-6zM104 330l6 1 5 7-6 12-4 0-5-10zM5 329l4-4 9 3 2 13-8 3-6-7zM67 133l2-4 10-1 5 9-8 10zM170 377l5-7 6 5 2 10-8 2-4-4zM498 550l8-1 5 17-12 2-2-5zM434 363l6-7 5 1 3 9-3 11-8-4zM331 -14l2-3 5-1 8 16-8 3-5-5zM600 217l9 6 0 10-9 2-5-7zM523 680l9-5 5 10-3 10-11-3-1-3zM254 80l5-3 10 11-3 7-10-5zM39 77l8-7 5 5-1 13-3 0-8-8zM848 273l1 0 9 8-3 10-10-5zM746 152l2-5 12 0 0 13-8 2zM762 440l9-1 1 1-2 16-3 1-6-7zM592 359l8-1 5 7-5 7-9-5zM629 359l2-6 5-3 5 7-2 9-2 1zM770 152l11-5 3 6-2 11-9-4zM613 91l6-5 6 4 2 8-3 6-4 1zM893 404l18 0 0 13-6 4zM604 268l5 2 0 16-5 0-6-8zM110 429l12-7 3 2 2 12-9 5zM257 516l11-5 2 0 2 2 0 11-3 4-8-2zM369 604l5-7 6 1 1 5-3 9-5 1zM186 594l9 7-3 9-11-4 0-2zM103 596l5-5 11 10 1 4-2 4-12-2zM216 471l9-1 1 0 4 13-10 5zM691 67l7 8 0 9-3 2-9-5-1-2zM894 68l7-7 5 3 2 13-13-6zM537 62l10 2 3 12-2 1-9-2-2-4zM67 114l1-1 1 0 11 10-1 5-10 1zM836 190l4-7 8 5-3 8-6 0zM882 585l9 1 8 13-12 1zM524 414l10-4 1 10-7 5zM46 108l4-4 4 1 5 8-6 8zM703 162l5-4 8 14-2 5-10-6zM666 328l1 0 6 1 4 7 0 7-9-3zM427 384l6-2 9 9-10 6zM570 657l14 1 1 2-6 10-7-5zM608 78l4-4 2 0 5 12-6 5-2-1zM759 121l10-4 1 2 1 10-7 3zM20 569l6-2 5 10-6 4zM722 396l8 4 3 11-3 3-9-6zM494 -15l2 0 7 11-8 6-3-5zM866 574l14 8 1 2-13 7-4-5zM272 513l11 4-2 12-9-5zM261 526l8 2 0 7-9 1zM640 99l9 0 4 13-3 2-6-3zM691 413l5-9 10 11-4 8zM576 166l7 0 5 13-14-3zM358 415l6-5 5 15-7 0zM719 670l3-1 2 1 3 14-6 2zM839 196l6 0 1 9-6-1zM-4 18l6-1 5 14-14-3zM439 658l7 4-1 7-7 0-1-3zM813 657l13 4 0 7-10-1zM82 153l6-5 5 8-2 5-3 0zM488 78l5-5 5 11-5 2zM457 436l9-4 2 1-4 13-5-4zM506 242l11 2-1 18-11-9zM389 4l1-3 10 2-1 6-7 1zM770 477l7 2 4 10-11-2zM305 260l1-3 10 4-4 9zM326 200l11 4 0 1 1 3-5 4-8-4zM656 241l2-1 8 10-7 5-1-1zM602 92l2 1-1 9-8-6zM430 346l1 0 9 10-6 7-2-2zM430 124l2-7 6 3 0 11-1 0zM911 249l7 0 2 3-3 17-3 1-1-1zM762 677l8-10 6 17-2 1zM428 667l9-1 1 3-1 9-8-3zM753 466l5 3-3 11-5-2-3-4zM88 513l12 2-3 8-5-2z"/><path fill="#6fe06a" d="M25 -2l13-1 3 2 8 14-1 8-3 5-8 2-14-12-1-1zM19 628l6-12 2 0 7 2 8 13-3 10-6 4-9-5zM562 368l4-6 10 0 7 7 1 14-4 5-9 2-4-4-5-10zM446 5l11-6 2 0 9 13-2 10-4 6-8 1-8-12zM316 564l9-8 6 1 5 7 3 11-2 5-9 6-11-6zM624 229l6-8 3 0 13 13 1 1-5 13-5 2-10-4-4-6zM485 402l1-4 7-3 6 2 4 6 3 13-1 1-6 6-9-3zM381 603l-1-5 10-9 11 12 0 10-1 3-10 2zM34 479l1-6 5-5 13 4 1 1 3 13-7 9-12-5zM426 2l3-3 10-1 7 7 0 12-9 5-11-10zM445 154l0-4 4-6 7 1 8 12 0 6-7 8-3 0-4-2zM255 560l3 0 1 0 10 10-1 16-5 4-9-6-3-10zM904 654l6-9 14 10 0 17-5 3-2-1zM242 440l9-2 2 2 4 14-4 4-10-2-4-5zM912 502l1-1 3 1 8 12-6 12-8-6-3-7zM263 456l3-7 9 0 10 11-9 13-11-7zM725 41l9-7 4 0 1 3 3 14 0 3-9 4-6-6zM260 297l11 1 5 8-7 19-9-9zM295 391l3-7 7 0 6 9-6 12-5-1zM131 639l8-7 6 2 3 10-4 9-7-2zM812 679l2-2 12 7 2 3-6 11-9-3-2-5zM615 684l3-6 7 0 5 6 1 13-2 2-8-3zM250 159l8-1 5 5-1 13-3 4-12-10zM379 551l5-7 7 3 7 15-12 4-5-5zM361 199l7-2 2 0 6 14-8 8-9-12zM145 250l10 3 3 10-6 6-9-8zM797 73l3-7 4-2 8 17-11 9-1-1zM271 551l3-5 8 0 5 8-3 10-9-1-4-8zM907 682l10-8 2 1 2 17-6 4-4-2-4-7zM195 46l6-3 7 7 0 11-10 1-5-4 0-2zM97 642l10-10 8 11 0 11-13 1zM823 48l0-3 6-5 1 0 8 8 1 4-1 5-9 2zM704 234l2-3 14 7-1 14-14-4zM369 626l2-2 13 6 4 13-1 1-11 2-7-7zM128 225l13 9 0 10-10 3-7-7zM321 639l3-8 10-1 1 2 1 12-4 4-5-1-5-5zM868 529l11 1 1 0-1 15-6 0-6-8zM15 -21l9-2 3 6-2 15-11-8zM176 698l13 8 1 7-7 4-6-5-2-4zM174 2l10 0 5 7 2 11-15 0 0-1zM361 340l6-3 8 9 0 7-9 2-6-8zM455 294l3-5 7 3 3 5-4 9-6-3zM787 493l1 0 3 3 5 15-5 5-5-2-4-7zM684 375l1 0 12-1 3 4-7 16-9-7zM535 332l14 1 3 11-1 4-10 0-4-5zM630 630l5-6 6 2 3 11-3 5-7-3zM202 646l0-1 8-4 9 10-2 10-7 1zM682 487l5 1 2 16-6 5-10-13zM674 41l6-2 7 9 1 11-10-1-5-5zM270 50l4-5 6 2 4 15-9 1zM66 504l4-4 6 2 4 12-1 3-11 3-1-1zM384 511l2-2 8 2 6 11-5 5-10-4zM3 166l1-3 11-4 5 13-5 6-5-1zM731 533l0-3 8-1 8 7-4 9-4 1zM552 114l15 7 1 5-5 6-8-2-4-5zM643 131l8-9 7 8 0 5-6 5-9-8zM493 86l5-2 6 4 2 7-7 5-7-7zM781 223l6-11 7 3 4 11-2 5-8 0zM301 185l4-4 9 12-2 11-9-4zM269 570l4-1 9 13 0 2-14 2zM748 198l5-5 5 2 6 9 0 7-14 0zM438 651l7-6 6 14-5 3-7-4zM298 320l6-7 8 10-1 6-7 2zM39 549l6 2 1 2-4 16-1 0-9-10zM486 95l6-2 7 7 0 9-11-1-5-3zM533 87l7-2 3 2 4 10-10 2-3-3zM243 178l2-7 2-1 12 10 0 2-8 7zM53 373l5-7 9 9 0 5-8 4zM359 34l1-7 14 4 2 5-4 11zM854 387l10 0 3 6-4 8-8-3zM715 504l0-1 8-6 7 9 0 4-8 4zM884 568l7 3 4 9-4 6-9-1-1-1-1-2zM303 569l4-8 8 2 1 1 1 16-2 1-12-11zM827 69l5 6 2 10-6 4-6-8zM110 130l8 2 1 4-3 12-8-7zM721 370l3-4 5 0 6 13-2 4-7-2zM898 459l1-3 9-2 4 11-8 1zM511 635l5-10 9 10-4 8-8-2zM287 220l2-4 11 15-2 4-7 1-4-5zM433 563l8-2 5 5-3 9-10-8zM174 601l7 3 0 2-2 10-10-6-1-1zM353 387l12 7 2 9-2 3-11-3zM304 343l8 9-9 5-5-6zM309 456l11-3 3 4-2 15-12-13zM180 249l7 2 2 6-7 10-9-9zM666 176l2-5 14 5 1 2-1 2-9 6zM249 254l5-1 6 12-7 5-5-7zM-1 -8l2-5 8 5-3 9-3 1zM21 127l1-2 5-2 7 8-2 9-5-1zM-15 460l10-3 1 1 2 3-3 19-10-13zM586 94l7 2 1 15-9 0zM275 365l15 8-4 10-9 0zM158 98l7-7 6 7-2 6-9 1zM892 227l7-7 2 1 2 3 0 19-2 0-7-6zM300 43l8 7-1 10-12-6zM99 540l7 6 0 9-9 1-1-1zM909 208l4 3 3 13-13 0-2-3zM423 237l7-8 5 10-5 5zM115 686l5 3 3 8-5 6-7-4zM358 503l6 1 1 3-4 10-7-3zM665 64l1-3 8 5 3 7-3 5-6-3zM858 620l1-5 10-2 2 11-8 6zM698 447l5-6 5 4 0 13-7-2zM464 658l1-9 6 0 5 14-4 2zM103 144l5-3 8 7 0 1-12 5zM197 658l5-12 8 16-4 4zM889 351l5 0 5 5-8 10-5-7zM115 115l4-8 9 10-8 8zM109 276l4-7 11 7-4 8zM378 212l6-5 6 4 0 9-2 2zM175 636l5-4 8 8-3 7-9-8zM73 663l11 2 0 13-8-2zM596 401l7 4 1 0-7 11-8-8zM751 183l3-4 7 4-3 12-5-2zM678 199l7-5 4 4-2 9-2 1zM545 316l3-6 5 2 3 9-5 3zM39 96l7-1 4 9-4 4-5-2zM806 274l9 4 4 8-14 2zM747 536l2 0 5 10-3 8-8-9zM639 485l5-8 9 8-3 9-1 0zM206 244l3-1 6 7-7 11-5-11zM599 649l0-1 12 1 1 6-2 4-8-1zM792 253l8-4 2 1-2 15-3-1zM278 696l4-1 1 0 4 13-9 3-2-1 0-2zM194 400l5 3 3 15-13-2zM663 408l2 0 7 10-2 6-10-8zM864 254l7-4 2 10-2 2zM734 518l3 1 2 10-8 1-1-1zM579 549l5 0 2 16-6-5zM547 629l0 1 0 14-6 1-6-7zM72 450l8 2-2 10-8-4zM78 364l7 1 3 7-9 3-3-3zM678 590l6 2 4 11-4 5-4-2zM810 528l2-4 4-1 8 10-2 5-7 2zM177 221l5-4 4 9-5 5-4-5zM773 413l8 1 1 9-7 2-2-2zM674 78l3-5 8 6 1 2-4 5zM323 457l8 8-7 8-3-1zM561 401l10-1-4 13-1-1zM348 632l6-1 6 9-8 3zM586 147l12 5-2 11-6-3zM590 41l7-2 2 5-5 6zM531 474l9 3 1 8-4 3-3-1zM149 574l9-3 0 1-2 9-6-2zM340 445l4-6 9 3-8 14zM538 268l7-6 3 5-4 12zM293 362l6 5-7 8-2-2zM864 429l3-4 7 7-4 4zM627 188l1-4 13 4 0 1-12 4zM683 365l1-4 13 12 0 1-12 1zM240 246l5 5-6 5-3-5zM870 71l6 3 3 10-11-5zM317 680l10 10-10 6zM336 56l6 3-1 10-8-1zM38 490l12 5 1 4-2 5-11-6zM224 239l7 11-3 5-10-5zM521 643l4-8 5 3-3 13z"/><path fill="#e6c8ee" d="M449 326l6-7 12 4 5 13-3 7-9 6-5-2-6-8zM196 312l2-7 6-4 9 2 5 3 4 11-1 1-9 9-10-2zM586 565l10 2 5 4 3 5 1 10-3 7-8 3-13-16 0-1zM894 164l2-1 7 2 10 11 1 3-2 8-6 4-11-6-4-6zM903 224l13 0 3 2 3 5 1 8-5 10-7 0-8-6zM318 610l12 0 5 14-1 6-10 1-6-9zM140 598l0-1 9-9 9 4 3 12-5 9-4-1zM187 89l3-12 7 0 9 9 1 7-3 8-9 1-7-9zM125 218l5-10 8 0 6 5 2 5-3 14-2 2-13-9zM269 528l3-4 9 5 4 10-3 7-8 0-5-11zM212 525l7 2 4 6-1 13 0 1-10-3-4-4zM-9 566l2-1 8 5 3 8-7 9-3-1-8-10zM764 250l10-9 3 2 7 14-1 3-6 5-8 0zM56 653l6-8 9 2 2 16-11 0-4-4zM828 89l6-4 5 4 2 8-1 6-5 2-5-2-3-6zM281 16l1 0 12 6 2 11-11 1-6-7zM568 473l3-12 8 2 9 13 0 2-5 4-9-2zM634 487l5-2 10 9-3 11-5 3-6-6zM714 177l2-5 15 3-1 17-2 2-8-5zM53 121l6-8 8 1 2 15-2 4-8 1-6-8zM84 217l7-7 11 11-2 11-13-3zM418 324l5-4 2 0 11 14-5 12-1 0-10-4zM154 428l9 3 5 13-6 7-8-9zM404 255l12-1 4 6-1 7-12 2-1 0zM208 338l6-5 7 7 2 5-6 7-8-4zM336 523l4-1 8 12-1 12-10-3-5-11zM719 389l7-8 7 2 2 10-5 7-8-4zM736 704l7-12 8 8 1 9-3 4-11-4zM77 56l5-2 10 13-1 6-15-3-2-5zM304 313l4-8 5 1 7 13 0 1-8 3zM815 83l7-2 6 8-1 8-8-2zM762 620l-1-4 9-2 8 9-2 8-5 0zM252 641l2-6 10 2 3 10-3 7-3 1-1-1zM336 308l7-1 3 11-8 4-5-5zM747 615l4-5 7 1 3 5 1 4-3 4-8 2zM90 374l6-4 10 6-8 14-2-1zM480 674l9 1 2 6-5 8-10-5zM452 314l6-11 6 3 5 11-2 6-12-4zM730 688l12 3 1 1-7 12-8-9zM305 446l6-8 9 3 0 12-11 3zM772 559l7-1 5 7-1 4-6 3-5-5zM743 487l7-9 5 2 3 7-3 9-3 1-6-4zM91 161l2-5 10 0 0 10-7 2zM281 -7l0-5 10 3 4 10-3 3-4 0zM203 518l7 3 2 4-4 15-1 0-8-7zM381 21l3-3 5 1 5 9-8 7zM181 375l9 2 2 5-3 7-6-4zM357 253l12-1 2 2-3 11-8 0zM82 584l2 0 10 11-3 12-2 2-6-4zM747 604l4-7 6 4 1 10-7-1zM312 323l8-3 3 11-6 5-6-7zM774 603l8 5 2 11-6 4-8-9zM79 6l3-7 1 0 9 15-9 5zM844 286l1 0 10 5 1 3-9 7zM643 524l1-6 8 3-1 11-2 0zM751 434l5-1 6 7-1 10-7-1-1-2zM14 241l6 11-6 6-5-6zM303 357l9-5 1 0 3 15-10 1-1-1zM161 374l3-1 6 4 1 6-5 4-6-5zM-9 123l6-8 10 11-2 5-12 0zM96 168l7-2 3 11-8 1-2-2zM555 380l0-1 7-3 5 10-8 2zM165 80l11 10 0 6-5 2-6-7zM759 624l3-4 9 11-7 6zM692 463l5-1 5 10-4 4-7-7zM196 344l12 4-2 12-3 3zM476 663l13 3 0 9-9-1zM454 235l10 3-4 10-7-5zM88 161l3 0 5 7 0 8-10-1zM748 411l1-3 9 0 3 4-5 5zM41 160l0-3 14 3-5 9zM528 31l6-4 4 5-2 9-7-5zM595 82l7 10-7 4-2 0zM109 238l5-5 9 6-11 5zM576 132l3 0 7 14-8-1zM675 584l9 2 0 6-6-2zM886 250l9 6-7 5zM555 525l8-3 4 14-12-7z"/><path fill="#e8e040" d="M749 105l7-11 13 8 0 15-10 4-4-3zM445 357l0-1 10-9 5 2 7 10-3 13-8 0-8-6zM225 14l2-9 12 1 6 12-3 10-3 3-2-1-9-7zM430 244l5-5 8 1 4 5 1 12-1 2-11 2-4-3zM223 550l-1-3 0-1 12-4 2 1 6 14-7 7-4-1zM849 129l3-8 7-1 6 6 0 9-7 5-4 0zM102 19l4 0 8 15-2 10-1 1-10-6-1-2zM140 -17l1-4 2 0 12 5 0 16-11-2-1-1zM67 691l2-5 11 10 0 10-3 4-8-4zM442 436l4-6 4 0 7 6 2 6-7 10zM728 559l9 0 4 5 1 7-6 6-8-5-2-4zM-15 296l2-5 13-1-2 19-12-10zM771 325l4-2 13 11-3 10-8 1-4-4zM826 470l9-9 6 3-2 18-1 1-9-7zM156 141l0-1 8-8 6 6 0 12-7 2zM35 55l11 8 1 7-8 7-9-7zM442 230l4-4 3 0 5 9-1 8-6 2-4-5zM112 299l8-2 4 5 0 9-3 3-8-3zM673 186l9-6 3 14-7 5-4-1zM16 403l13 3 2 4-6 15-7-6zM817 433l6-6 3 0 7 11-4 8-10-7zM366 61l15 6 2 14-8 2-9-8zM721 599l2-1 2 1 5 9-5 9-6-2-2-4zM427 65l5-2 6 7-4 13-8-7zM551 537l4-8 12 7 0 1 0 1-6 10-6 0zM639 663l4-9 10 7 1 3-2 6-9 0zM881 635l10 1 2 6-5 9-10-5-1 0zM567 699l4-6 7 2 4 10-5 11zM564 316l8-2 4 10-7 7-7-8zM425 404l7-5 8 14-12 3zM819 439l10 7 1 7-8 2-6-6zM1 691l6-3 3 2 4 11-1 3-9-3zM143 497l9 0 4 7-3 6-8-1zM226 613l14 5-4 13-10-3zM736 640l10 0 3 12-10 3-4-5zM517 662l5-1 10 10 0 4-9 5zM387 294l10 6 1 9-6 2-5-5zM682 89l0-3 4-5 9 5-1 11-3 1zM282 96l8-1 4 11-6 2-5-4zM260 543l11 8 0 4-12 5-1 0zM433 497l2-6 9 3 0 11-6 1zM488 264l7-4 5 9-2 6-9-3zM32 113l1 0 7 12-6 6-7-8zM166 573l4-5 7 7 1 7-8 2zM49 13l8-2 5 12-2 4-12-6zM609 367l10-2 2 11-6 1zM719 480l3-2 10 9-9 5zM503 403l10 6-7 7zM744 473l3 1 3 4-7 9-2-3zM695 162l8 0 1 9-6 3zM296 687l6-4 5 12-1 2zM704 188l2 0 4 8-1 5-7-4zM60 146l8 9-1 5-10-1zM229 565l2-2 4 1 4 4-5 7zM827 164l3-3 6 5 0 9-4-1zM41 569l1 0 1 1 1 17-6-2-4-7zM197 77l3-5 6 4 0 10zM882 191l5 3 1 8-6 0z"/><path fill="#f8962e" d="M716 339l5-2 13 7 2 4 1 10-8 8-5 0-10-14zM502 500l1-6 9-8 10 5 3 13-2 5-3 3-12-3zM381 238l8-3 2 1 9 17-9 13-2-1-9-10zM115 643l11-7 5 3 6 12-5 9-7 2-7-4-3-4zM591 317l7-9 7 2 3 4 2 13-11 6zM381 411l4-3 10 3 6 8 0 4-9 8-6-2-4-7zM868 461l7-8 10 8-5 16-7 0-3-5zM386 121l4-10 8 0 6 16-5 9-3-2zM4 366l-1-4 3-7 5-1 8 9 2 9-1 3-5 3-7-4zM468 433l7 3 5 11-5 10-9-4-2-7zM14 258l6-6 10 4 0 12-4 4-10-4zM695 86l3-2 9 7 1 8-3 5-11-7zM714 416l7-8 9 6 0 11-11 1zM36 163l5-3 9 9 0 9-7 4-8-5zM226 470l8-3 6 4 3 8-6 8-7-4zM209 232l11-1 4 6 0 2-6 11-3 0-6-7zM123 -12l7 2 5 7 1 12-6 3-10-11zM132 660l5-9 7 2 2 4 0 14-5 3-1-1-5-5zM120 524l11 4 4 8-10 10-3-3zM288 192l0-9 13 2 2 15-9 2zM467 128l5-1 10 16-8 9-10-12zM238 283l12-1 9 15-15 6-7-12zM-6 273l2-4 14 8 1 6-11 7zM600 439l9-3 7 5 0 5-5 8-9-5zM447 245l6-2 7 5 3 15-15-6zM83 541l7 4 3 9-6 4-8-7zM64 247l5 3 3 18-6 2-11-10zM258 540l2-4 9-1 5 11-3 5-11-8zM451 675l5-4 13 14-2 2-14 0-3-4zM301 594l9 2 5 11-8 7-7-2zM810 193l7-4 5 4 4 14-11 3zM833 29l12 4-7 15-8-8zM249 367l5-3 5 4 0 12-11-1-1-1zM427 179l7 7-1 10-3 3-7-10zM557 460l4-5 6 1 4 5-3 12-1 0zM362 483l4-3 8 2 4 8-5 9-6-2zM558 671l10 1 3 4-3 8-9-4zM132 171l8-4 5 3 1 8-4 3-9-7zM454 171l3 0 9 11-2 5-8-3zM732 487l9-3 2 3 3 6-5 6-5-2zM555 47l13-6 4 9-6 8-10-8zM850 491l8 10-6 8-9-6 0-1zM686 147l4 2 2 10-10 3-4-7zM734 296l7-1 5 8-8 8-1-1zM777 243l7-1 7 10-7 5zM145 509l8 1-1 9-8-3zM648 536l1-4 2 0 9 10-3 3-4 0zM271 253l6-7 11 12-1 1-16-3zM553 604l11 2-2 9-9-6zM840 427l7 1 3 6-3 7-7-5zM460 604l8 1 4 5-6 11-1-1zM154 200l7 5 0 8-5 1-3-6zM107 204l10 11-7 8-6-3zM605 586l7 2 0 10-3 1-7-6zM242 56l0-1 8 2 3 6-4 4-6-7zM817 619l2 1 3 10-8 3-3-6zM658 370l5-5 8 13-1 4-3 0zM494 121l3 0 6 11-7 1-5-6zM167 478l2-3 11 11-4 5zM90 545l8-5 1 0-3 15-3-1zM771 300l5-2 3 14-2 2zM9 460l1-5 12 1 1 3-6 10zM429 520l2 0 9 7-1 12-2 0zM415 149l9 12-10 1-2-5zM777 265l6-5 7 9-2 8zM736 497l5 2 1 10-10-4zM92 521l5 2-1 10-9-6z"/></g><rect width="910" height="696" filter="url(#nz1)"/><path fill="#050505" stroke="#050505" stroke-width="1.2" stroke-linejoin="round" d="M475 69l5-10 8 2 6 11-1 1-5 5-9-1zM705 62l10 0 5 13-7 5-8-8zM625 52l10-8 7 13-3 5-11 0zM327 506l6-2 7 18-4 1-8-6zM179 139l2-5 10-2 3 4-2 10-9 1zM87 558l6-4 3 1 1 1 3 14-9 0zM280 47l5-2 8 9-7 9-2-1zM0 403l8 3 1 12-8 2-2-3zM551 77l14 4-5 14-1 0zM629 338l4 1 4 7-1 4-5 3-4-7zM448 366l8 6-2 8-8-3-1 0zM313 306l4-5 8 5 1 8-6 5zM620 349l7-3 4 7-2 6-7-1zM8 406l8-3 2 16-9-1zM90 488l5 5-1 4-9 1zM610 300l4-8 4 2 1 13-2 2zM488 128l3-1 5 6-6 11-3-1zM216 278l6 3 3 10-3 2-7-6zM188 149 181 151 168 149 165 140 166 133 169 126 180 128 189 129 194 142zM546 86 546 79 556 73 564 77 571 81 571 86 569 92 561 97 552 95zM706 66 706 54 711 57 720 57 723 66 723 76 722 79 712 80 708 79zM624 367 617 369 610 354 616 343 618 335 631 342 640 349 643 355 634 369zM654 391 651 388 645 385 646 370 651 368 659 369 662 375 666 380 662 389zM609 298 609 291 612 284 617 284 624 285 629 296 624 302 622 303 616 302zM440 378 445 371 448 367 455 373 458 381 454 386 453 392 445 391 439 386zM230 291 226 298 216 301 211 299 204 292 208 283 214 281 225 281 230 284zM5 417 -4 410 3 404 7 397 17 399 20 406 21 413 20 419 10 418zM-5 488 -2 481 1 476 9 472 14 478 18 485 14 490 8 492 0 491zM904 263 900 263 892 260 895 250 899 245 905 246 911 247 917 257 914 261zM280 47 284 40 288 42 293 40 296 47 294 54 290 59 286 59 283 54zM326 516 323 513 323 509 324 502 329 503 336 507 341 507 337 516 333 520zM415 542 410 547 405 541 399 535 402 531 408 525 414 529 419 532 417 540zM106 571 100 574 97 573 90 568 89 563 92 557 101 560 108 562 109 567zM847 492 843 491 841 485 842 481 845 477 850 479 853 482 855 484 853 489z"/></g></svg><rect x="216.5" y="382.5" width="38" height="27" fill="#fff"/><text x="225.3" y="399.7" font-size="20">(c)</text><rect x="504" y="700" width="167" height="32" fill="#fff"/><text x="587.7" y="716.7" font-size="20" text-anchor="middle">25 μm</text><path d="M511 727h154" stroke="#231f20" stroke-width="1.4"/><svg x="217" y="756" width="455" height="348" viewBox="0 0 910 696" preserveAspectRatio="none"><rect width="910" height="696" fill="#555"/><g filter="url(#bl)"><g stroke="#111" stroke-width="0.7" stroke-opacity="0.5" stroke-linejoin="round"><path fill="#f05ab8" d="M897 91l16-3 3 1 11 10 2 18-12 18-1 1-7 1-8-4-20-19zM895 450l26-12 3 0 16 20-1 17-11 13-16 2-15-8-6-10zM451 -5l8-13 5-1 23 0 16 18 0 11-18 21-16-1-14-7-5-11zM523 192l1 0 23-5 6 2 6 11-1 10-8 14-12 6-7-2-14-15zM635 591l6-8 27 1 3 3 5 22-14 16-16 3-16-15 0-1zM84 125l0-3 10-10 12-1 15 6 7 8 1 7-3 7-10 10-13 2-14-10zM401 132l25-16 10 9 4 11-2 11-10 9-11 1-12-10zM507 527l9-7 11-3 6 3 8 20-7 11-8 3-11-1-10-9zM739 345l8-13 15 0 14 15-9 17-16 5-10-9zM526 495l23-13 13 12-1 22-7 3-21 1-6-3zM210 247l6-6 11-1 15 11-2 22-13 2-14-3-2-2zM909 246l11-8 17 7 5 14-4 8-19 8-14-17zM858 127l13-4 13 19 1 7-9 12-13 0-10-11zM391 499l15-2 10 4-1 20-17 12-3 0-15-14zM437 550l13-5 15 6 6 21-20 8-20-18zM402 301l1-1 14-4 5 1 11 14-5 13-14 2-10-11zM435 75l1-2 7-4 19 5 1 1 0 12-4 10-15-2zM101 613l11-11 2 1 12 9 4 13-2 6-10 5-17-4-2-4zM18 120l2-1 4-3 16 5 0 16-7 8-7 1-11-5zM634 240l20-13 7 3 4 7-14 23-10-1zM728 272l21 0 5 10-11 17-15-1-5-9zM801 662l0-2 18-9 9 2 0 25-21 2zM102 586l21-15 17 19-1 1-25 12-2-1zM708 238l10-4 12-2 5 2 5 17-12 8-16-5-8-9zM645 204l8-8 18 6 1 2 0 10-11 16-7-3zM321 140l1-3 22-9 4 2 3 21-17 9zM96 505l1-1 14 4 5 15-4 6-13 0-7-7zM136 -9l16 7-1 13-4 3-21-4zM463 111l14-2 7 5 1 10-3 9-1 0-22-10zM890 37l9-3 14 5 1 20-19 3-11-8-1-6zM417 157l11-1 9 13-3 5-13 4-13-7zM786 288l17-5 9 9-12 12-12-6zM32 -22l1-1 14 0 9 8-6 15-15 5-1-2zM373 554l4-6 9-1 9 9-2 9-14 6-1 0zM1 634l5-8 16 5-6 16-9 0zM855 562l18-3 3 10-8 9-12-5zM348 130l9-1 15 24-17 1-4-3zM76 325l9-4 12 9-6 13-13-1zM101 632l17 4-3 17-4 2-14-11zM837 8l10-6 12 14-6 14-15-4zM666 274l10-5 7 1 10 14-2 4-25 2zM143 507l5 0 4 2 3 17-18 4-4-7zM583 104l13-1 3 15-8 6-12-11zM78 342l13 1 3 13-16 5-6-7zM566 286l6-9 14 12 0 6-9 5zM889 235l6 0 14 11-4 12-18-2zM310 385l11 0 6 11-5 8-17-8zM722 375l4-1 11 8-1 5-18 4-1-1zM794 355l14-4 5 8-8 10-9-3zM252 236l12-13 11 20-1 5-22-5zM823 -5l8-6 16 12 0 1-10 6-13-4zM863 161l13 0 3 7-15 12-6-10zM524 332l3 0 11 15-20 10-2 0 0-1zM92 33l4 0 7 7-1 9-19 2-1-3zM895 62l19-3 1 1-5 15-13-5zM171 436l14 5-5 20-17-10zM602 -5l11 1 2 12-6 5-9-5zM597 542l19-5 8 17-7 10 0 1zM165 98l4-4 21 7 1 2-22 12zM524 432l8 15-13 4-10-6zM660 497l6-4 15 9-2 6-15 0zM681 431l23-10-2 23 0 1-22-7 0-1zM162 577l2 3-2 16-8 3-14-9zM460 98l17 1 0 10-14 2zM21 393l9-4 5 12-12 1zM611 154l2 0 7 13-8 5-7-6zM273 307l9-7 11 8-11 13zM527 -5l15-2 0 11-10 0zM677 640l12-9 4 3 1 14-17 4zM596 82l16-1-2 13-9 1zM563 35l2-1 7 17-13 5zM-4 532l14 1 0 18-7 4zM139 591l-13 21-12-9zM830 184l11 13-16 2zM199 80l10 7 0 1-18 15-1-2zM746 142l10 2 5 14-5 7-10-5zM242 468l10-8 4 14-11 4-1-1zM49 649l1 12-14-1-2-3zM362 33l5 0 2 3 0 15-11 5-4-5zM815 201l6 2-1 12-12 0-3-7zM522 237l9-9 7 2 2 17-3 5z"/><path fill="#f23636" d="M874 262l13-6 18 2 14 17 0 11-16 20-30-1-4-3-3-19zM457 492l13-9 21-2 10 17 0 10-5 13-20 10-21-10-1-2zM196 346l13-9 20 3 7 11 0 17-8 4-25 2-4-2zM271 511l2-2 8-2 16 7 7 21-1 1-19 9-7-1-9-14zM239 557l1-4 15-10 18 5 3 15-5 14-23 4-6-8zM75 242l19-14 16 11 1 5-8 18-15 4-1 0-10-15zM702 24l2-11 8-6 18 0 11 15 0 7-4 8-9 4-14-2zM735 234l7-10 10-4 18 18-2 3-18 15-10-5zM111 244l15 3 14 15-15 13-14-2-8-11zM369 89l20-9 6 3 6 11 1 7-14 12-12-3zM358 202l4-5 20 1 1 20-18 11-8-11zM164 580l15-1 11 7-1 12-9 10-13-4-5-8zM546 87l22-4 5 2 2 11-7 13-15 2-8-7zM191 531l20-4 7 9-10 22-21-10-1-4zM83 51l19-2 7 11-3 8-8 5-13-2-3-3zM864 180l15-12 5 2 9 14-2 8-9 3-17-8zM74 484l15-1 9 17-1 4-1 1-14 4-15-10zM618 653l6-9 18 0 11 19-8 6-22-4zM237 295l9-16 17 4-1 21-4 3-18-3zM271 366l17-4 4 6-10 27-4-2-11-15zM251 -5l8 1 5 4 1 7-10 14-14-3-2-5zM555 58l3 0 6 6 4 19-22 4-4-13zM840 490l4-7 8-4 12 2-1 18-13 8-3 0-6-4zM652 445l9-9 19 1 0 1-7 24-7 3zM714 39l14 2 0 21-7 6-19-9zM242 625l4-3 19 14-2 13-2 2-18-4zM311 89l14-14 15 7 2 4-12 21-5 0-12-11zM874 626l18-10 2 1 7 23-12 7-2-1zM252 513l19-2-3 19-14 4-4-3zM736 432l6-8 7-1 12 10 1 6-2 3-6 1-15-6zM146 650l12-10 12 16-10 13-10 2-1-1zM309 663l12-8 6 8-3 16-7-2zM211 131l3-7 12-4 10 14-5 7-14 0zM767 644l4-10 21 5 0 6-9 9-11-2zM40 121l9-2 8 12-5 13-12-7zM566 14l19-1-1 17-18 3zM646 92l5-8 15 10-7 13-9-3zM558 382l8-11 20 13 0 2-19 13zM394 12l12 6-2 13-1 2-15-4-2-4zM250 334l11-6 9 5-11 18-10-5zM14 141l1 0 11 5 0 13-10 7-9-13zM768 241l4 19-20 0-2-4zM799 693l4-2 21 18-11 11-13-8zM82 509l14-4-4 17-12-1zM211 304l17 13-19 7-4-5zM603 682l11 2 1 2-11 16-6-6zM169 25l17 4-6 15-8 0zM38 534l17-6 7 9-23 8zM665 237l5 6-1 13-15 5-3-1zM817 106l12-4 4 10-9 7-6-5zM120 96l2 2-1 19-15-6zM863 499l9 4 1 5-5 6-18-7zM724 221l3-4 15 7-7 10-5-2zM918 2l11 3-7 12-10-8zM213 272l14 3-4 14-4 1zM753 -20l1 0 8 11-14 9-4-3zM804 411l13-7 5 14-18-5zM308 379l4-5 9 3 0 8-11 0zM219 82l2 9-12-3 0-1z"/><path fill="#4a66dc" d="M555 666l4-5 17-4 16 1 11 24-5 14-7 6-11 6-10 1-10-7-8-15zM283 57l17-15 3-1 19 10 3 24-14 14-16-3-14-15zM814 248l5-12 2-1 18-3 5 3 6 17-7 12-17 4-1 0zM54 306l0-7 12-12 16 2 12 17-9 15-9 4-17-8zM91 561l6-11 12-1 15 15-1 7-21 15-2-1-7-8zM139 101l12-7 14 4 4 17-1 3-10 6-6 1-12-10zM451 663l5-5 8-1 14 6 2 20-10 7-20-12zM264 481l7-7 13 0 10 10-3 10-10 13-8 2-12-16zM231 141l5-7 5-1 19 6 1 14-8 9-21 2zM891 -12l10-6 12 3 5 17-6 7-9 3-16-6zM210 420l7-7 23 8 5 10 0 3-22 14-12-16zM649 400l19-12 14 7 0 14-7 9-16-1zM42 256l1-3 5-5 10 1 11 11 3 7-8 13-16-6zM609 13l6-5 15 0 6 9-4 15-21-1zM524 432l3-10 16-6 11 3-1 25-19 4-2-1zM607 302l1-1 19-5 13 10-11 16-21 0zM191 509l20 0 0 18-20 4-8-9zM399 475l7-7 21 4-4 26-7 3-10-4zM52 356l20-2 6 7 0 6-14 15-17-12zM63 220l2-2 26-1 3 11-19 14-1-1zM292 368l1 0 15 11 2 6-5 11-21 4-1-1-1-4zM356 345l15-7 1 1 3 22-4 4-15-1-4-4zM241 370l19-12 11 8-4 12-12 5zM101 6l12-4 13 8-4 14-9 3-8-4zM215 150l2-9 14 0 1 23-6-2zM359 417l6-1 8 11-8 12-14 1-2-2zM393 60l14 6 1 12-13 5-6-3zM236 351l13-5 10 5 1 7-19 12-5-2zM436 498l14-10 7 4-3 27zM120 685l1 0 11 14-6 10-9 2-8-8zM564 64l15-4 7 17-13 8-5-2zM871 123l10-9 20 19-17 9zM85 71l13 2 2 11-10 7-6-5zM143 261l2-2 22-1 3 4-2 12-15 4zM245 478l11-4 1 1 7 6-3 12-15-1zM502 699l13-1 3 3-4 15-17 0zM607 120l12-4 4 14-8 5zM12 577l17-6 1 10-19-1zM265 410l18-11 1 1-3 28-1 0-14-3zM416 416l15-3 1 16-17-8zM410 696l2-8 20 2-1 18-5 0zM3 476l9-4 1 1-1 14-8 1zM831 341l16 10 0 4-18 2zM400 243l1 0 2 3-5 16-16-10zM271 160l9-5 6 2 0 14-15-2zM294 484l7 0 8 12-7 5-11-7zM437 194l11 4-3 19-3 0zM436 125l22-1-1 6-17 6zM624 640l20-7-2 11-18 0z"/><path fill="#6fe06a" d="M-39 411l6-7 15-8 12 3 8 5 8 16 2 14-1 2-30 9-19-15zM698 588l10-12 24 3 13 19-5 18-16 9-14-2-8-7-6-13zM868 514l5-6 11-1 21 6 2 2 0 16-6 10-13 8-10 0-17-14zM669 -25l17-2 14 12 1 4-4 18-13 5-20-1-6-16zM781 473l15-12 23 4 4 23-4 11-19 13-17-9-5-16zM43 326l16-9 17 8 2 17-6 12-20 2-13-14zM691 288l2-4 12-3 18 8 5 9-8 20-2 2-23-4-6-13zM648 67l4-6 16-9 16 3 5 5-2 25-10 9-11 0-15-10zM56 -15l12-5 17 7 6 15-17 19-13-4-11-17zM732 495l25-3 8 11 2 16-16 9-17-3-4-3zM42 682l16-8 4 1 10 11-5 25-12 2-16-11-2-9zM357 129l19-19 12 3 9 18-16 21-8 2-1-1zM252 684l1-3 9-6 18 2 10 13-1 6-9 10-20 3-8-12zM348 5l10-5 20 5 1 18-12 10-5 0-10-6zM370 402l14-6 14 9 2 3-4 16-12 7-11-4-8-11zM538 577l7-8 18-3 5 2 2 6-6 22-5 4-22-7zM672 564l17-7 19 19-10 12-27-1-3-3zM773 -6l13-10 16 2 0 18-6 7-10 2-10-5zM208 165l18-3 6 2-1 22-16 10-14-16zM534 165l0-2 13-12 15 8 4 15-13 15-6-2zM554 419l11-7 13 5 8 10-2 15-14 8-14-3-3-3zM700 359l9-1 3 2 10 15-5 15-19-2-5-16zM912 490l16-2 5 4 1 19-27 4-2-2 0-8zM115 497l15-4 5 2 8 12-10 16-17 0-5-15zM162 227l8-12 15 0 7 10-5 16-14 1zM750 306l11-13 12 1 7 11-2 13-10 3-18-13zM614 495l11-1 13 11-3 20-12 2-13-12zM808 317l13-11 20 11-12 21-10-1zM280 14l8-5 5 2 11 21-1 9-3 1-22-7-4-5zM134 211l17 0 7 16-14 10-12-4-2-3zM569 223l14-6 9 5 0 14-8 10-18-2-2-13zM395 656l12-11 10 5 6 17-14 13-16-9zM7 647l9 0 6 7-3 18-4 3-21-7zM573 85l13-8 10 5 5 13-5 8-13 1-8-8zM748 0l14-9 11 3 3 14-10 11-15-8zM778 505l5-2 17 9-1 9-16 11-15-12zM431 413l6-10 9 1 12 10-7 16-18 0-1-1zM321 638l12-10 10 0 5 14-8 12-16-6zM168 118l1-3 22-12 4 8-3 21-13 1zM78 522l2-1 12 1 7 7-6 17-17-2-3-4zM624 49l11-9 6 2 11 19-4 6-22 0zM181 306l6-11 24 8 0 1-6 15-21 0zM591 124l8-6 8 2 8 15-1 3-7 7-16-3zM723 434l13-2 3 5-1 11-12 13-12-16zM824 119l9-7 18 14-19 12-8-9zM361 -16l10-4 9 8 0 16-2 1-20-5zM752 260l20 0 5 5-1 13-19 5-3-1-5-10zM618 371l12-7 6 4 1 21-17-4zM49 227l14-7 11 21-16 8-10-1zM861 333l16-1 5 4-8 17-6-1-10-9zM64 382l14-15 10 10-4 16-2 1-18-9zM263 283l8-3 1 0 10 10 0 10-9 7-11-3zM127 292l19 3 4 10-18 10-6-3zM225 570l17 3 6 8-1 6-22 1zM118 -14l17 0 1 5-10 19-13-8zM716 554l6 0 13 16 1 3-4 6-24-3zM508 571l12-3 6 8-5 11-11-1-3-2zM905 309l15 2 7 8-5 10-17-2zM528 368l15-3 2 15-7 3-9-5zM64 385l18 9-15 16-9-7zM258 392l20 1 4 2 1 4-18 11-10-5zM585 174l2-3 18-5 7 6-2 20-19-5zM115 433l18 8-10 14-13-6zM767 558l17-6 4 18-8 6-12-4zM348 5l4 22-14 6-7-14zM367 383l3-1 15 12-1 2-14 6-4-7zM400 408l9 0 7 8-1 5-14 8-5-5zM-9 127l7-6 20-1-3 21-1 0zM712 254l16 5 0 13-16 0zM556 447l14 3 2 11-13 4-6-6zM521 616l9-4 8 8-7 14-2 1-10-8zM381 252l1 0 16 10 2 8-18 6zM456 634l3-2 14 15-9 10-8 1zM194 180l7 0 14 16-1 4-17 0zM856 573l12 5 2 9-14 10-7-10zM372 521l8-2 15 14-9 14-9 1zM492 645l-1-2 7-12 3-1 10 24-1 3-3 2zM322 234l2-4 11-5 12 18-3 3-16-1zM789 28l17-6 2 1-4 16-20-3zM734 363l7-3 10 9-4 8-10 5-11-8zM503 225l4-1 12 13-14 8-5-4zM886 495l7-2 12 12 0 8-21-6zM500 390l4-2 3 1 5 13 0 1-16 0zM109 60l14 5-7 12-10-9zM2 404l11-4 5 4-8 16zM877 -12l8-5 6 5-4 18-2 1zM345 659l19-8 4 1 0 2-15 16-3 0zM682 395l2-2 10 0 4 16-16 0zM340 400l10-3 2 13-12 0zM699 129l17 9-1 9-12 8-3-2zM575 96l8 8-4 9-11-4zM19 197l24 4-5 13-15 0zM-3 691l17-3 1 1-4 13-14-4zM684 187l3 1-2 16-13 0-1-2zM582 324l19 6 0 4-21 3zM797 208l8 0 3 7-10 10-2-1zM163 390l14 16-1 1-24-2-1-2zM801 236l1-4 17 4-5 12zM376 687l3-2 9 14-5 8-11-1zM276 563l11 4-2 10-11 2-3-2zM726 660l7-5 11 14-8 8zM253 162l8-9 10 7 0 9-4 4zM152 125l6-1 4 10-13 5-3-5zM846 199l14-5 2 12-10 7zM548 465l5-6 6 6-9 11z"/><path fill="#8ce6d6" d="M526 302l4-11 14-11 6 0 16 6 11 14-2 17-19 17-1 0-20-9-7-10zM553 111l15-2 11 4 12 11 0 18-9 12-20 5-15-8-7-17zM598 404l0-3 12-13 10-3 17 4 4 3 3 6-8 23-4 4-10 4-9-1-13-17zM881 404l7-3 27 1 2 1 4 35-26 12-5-1-20-17zM559 600l5-4 16 2 13 12 0 18-5 7-19 4-7-1-10-19zM92 -27l13-4 8 4 5 13-5 16-12 4-10-4-6-15zM39 546l0-1 23-8 11 3 3 4 2 18-5 10-6 4-14-2-10-8zM518 701l21-3 7 7 2 23-3 2-25 1-6-15zM228 317l12-13 18 3 3 21-11 6-17-3zM705 416l14-16 19 6 1 1 3 17-6 8-13 2-18-15zM677 652l17-4 16 7 1 1-10 23-16 3-14-19zM896 153l13-16 7-1 10 16 0 13-12 9-8-1-8-8zM103 474l1-2 22-6 9 6-5 21-15 4-6-4zM655 514l9-6 15 0 5 8-1 14-9 8-7 2-12-6-5-9zM289 261l16-8 8 6 5 18-15 11-6-2-9-13zM721 68l7-6 19-3 7 18-11 12-16 3-3-1zM11 436l1-2 29-8 6 5 2 14-16 13-18-13zM318 188l17-15 3 1 13 11-1 17-11 12-20-9zM503 600l7-14 11 1 13 7-4 18-9 4-16-2zM821 203l4-4 16-2 5 2 6 14-13 14-16-8-3-4zM859 42l24 6 1 6-12 24-25-7-3-6zM196 273l15-3 2 2 6 18-8 13-24-8-1-7zM582 154l9-12 16 3 4 9-6 12-18 5zM258 661l3-10 2-2 19 4 6 12-8 12-18-2zM724 625l16-9 11 8 0 1-7 20-6 2-14-11zM152 509l16-8 6 0 7 21-11 9-7 1-8-6zM10 71l15 4 3 7-8 16-18 0-6-8zM476 531l20-10 11 6-2 17-14 7-14-12zM867 238l18-7 4 4-2 21-13 6-6-3-5-7zM128 631l2-6 21 0 8 11-1 4-12 10-12-4zM759 576l9-4 12 4 0 22-11 4-9-6zM465 59l7-7 5 0 12 18-7 10-19-5-1-1zM353 558l20-4 5 17-17 8-9-9zM465 551l12-12 14 12-1 10-13 12-6-1zM186 7l17-6 6 2-2 21-18 3zM750 698l9-1 8 6 3 14-24 2zM187 259l5-12 18 0 1 23-15 3zM554 519l7-3 9 3 7 20-21 4-7-4zM192 225l19 0 5 16-6 6-18 0-5-6zM702 214l7-11 14 0 4 14-3 4-4 2-13-1zM772 121l11-1 3 24-3 5-6 0-11-9zM677 94l10-9 18 13-11 19-14-6zM694 393l4-5 19 2 1 1 1 9-14 16-7-7zM288 665l9 0 3 16-10 9-10-13zM247 587l1-6 23-4 3 2-2 17-22 5zM423 667l4 1 10 14-5 8-20-2-3-8zM880 12l5-5 2-1 16 6-4 22-9 3zM433 430l18 0 6 15-25 7zM351 440l14-1 12 10-3 10-15 4-6-3zM691 535l6-2 15 3 1 14-23 2-1-6zM876 83l16 1 5 7-16 23zM599 495l12-2 3 2-4 20-8 3-8-8zM602 518l8-3 13 12-7 10-19 5-1 0zM543 365l0-1 21 2 2 5-8 11-13-2zM742 323l8-15 18 13-6 11-15 0zM485 124l11-7 9 5 3 9-7 7-19-5zM-2 510l20 4 3 9-11 10-14-1zM112 529l4-6 17 0 4 7-2 8-20-2zM827 149l4-3 14 6-1 15-13 6zM426 600l2-6 18-1 3 11-19 10zM278 35l22 7-17 15-9-7zM160 611l7-7 13 4 1 5-14 7-8-6zM558 271l8-1 6 4 0 3-6 9-16-6zM534 265l2-4 18 1 4 9-8 9-6 0zM128 125l12-10 12 10-6 9-17-2zM78 562l13-1 2 16-20-5zM783 120l2-1 20 12-1 0-18 13zM537 252l3-5 22 2-1 6-7 7-18-1zM823 488l17 2 1 13-22-4zM280 706l9-10 10 22-13 0zM392 321l12-6 10 11-9 9-8 0zM850 252l13 0 5 7-12 12-13-7zM22 654l12 3 2 3-5 12-12 0zM734 525l17 3-3 9-9-1zM897 70l13 5 3 13-16 3-5-7zM592 222l16-1-8 18-8-3zM33 145l7-8 12 7 1 2-7 12-2-1zM401 243l16-9 10 8-3 13-21-9zM384 431l12-7 5 5-4 13-11 0zM303 536l1-1 8 2 8 20-19 0zM455 23l14 7-6 10-9-2-4-4zM738 448l8 5 0 2-20 6zM224 658l15-7 5 13 0 1-19 2-1-1zM204 421l6-1 1 12-8 6-7-3zM190 586l2-1 17 15-5 4-15-6zM69 260l8-9 10 15-15 1zM469 177l17 6 0 1-12 11-8-9zM320 323l15 0 2 11-19-3z"/><path fill="#cdeee0" d="M284 400l21-4 17 8 6 16 0 10-15 13-14-1-18-14zM705 98l19-7 3 1 13 18 1 14-3 11-22 3-17-9-3-3-2-9zM756 165l5-7 16-9 6 0 16 13 4 15-17 15-19-1-9-9zM620 273l1-2 20-12 10 1 3 1 12 13 0 16-4 12-8 6-14-2-13-10zM567 344l13-7 21-3 11 20-1 13-10 11-15 6-20-13-2-5zM250 601l22-5 16 7 1 6-4 21-20 6-19-14zM889 647l12-7 22 5 1 2 4 18-6 11-22 7-14-9-1-2zM726 461l20-6 13 5 7 9-2 14-7 9-25 3-3-2-3-5zM624 460l6-10 14-6 8 1 14 20-5 10-10 5-18-1-9-12zM343 628l8-13 15-1 15 16-7 17-6 5-4-1-16-9zM71 188l7-11 10-2 14 3 8 11 0 7-19 18-16-10zM853 30l6-14 21-4 10 25-7 11-24-6zM535 18l9-11 13-1 9 8 0 19-1 1-2 1-17 4-6-3zM49 606l1-2 19-8 10 4 7 13-1 8-14 17-14-2zM365 229l18-11 13 5 4 20-18 9-1 0-18-14zM651 183l2-4 22-9 9 17-13 15-18-6zM139 591l1-1 14 9 6 12-1 3-8 11-21 0-4-13zM49 649l4-10 4-3 14 2 10 11 0 7-19 19-4-1-8-13zM304 32l16-17 11 4 7 14-3 10-13 8-19-10zM470 690l10-7 10 2 12 14-5 17-2 2-21-5-6-8zM410 542l14-9 7 2 6 15-6 12-3 2-16-7-2-3zM798 225l10-10 12 0 3 4-2 16-2 1-17-4zM448 198l9-3 16 12-11 14-13-1-4-3zM642 159l0-1 13-9 7 0 13 21-22 9zM115 536l20 2 4 13-15 13-15-15zM541 540l8-1 7 4 7 23-18 3-11-18zM403 246l21 9 1 2-18 17-7-4-2-8zM323 558l7-4 16-1 7 5-1 12-11 8-12-3zM700 474l-1-4 27-9 0 27-13-2zM859 437l2-2 9-3 20 17-9 10-13 1-9-8zM792 639l12-9 12 8 3 13-18 9-9-15zM747 59l1-1 21-6 2 17-11 10-6-2zM325 107l5 0 14 21-22 9-5-11zM491 551l14-7 10 9 0 5-9 11-16-8zM860 194l5-7 17 8-4 13-16-2zM242 498l4-6 15 1 12 16-2 2-19 2zM847 507l3 0 18 7-7 21-2 0-10-4zM103 453l7-4 13 6 3 11-22 6zM202 453l21-5 3 14-12 9-15-9zM-7 -12l12-1 6 5 1 8-16 11-6-15zM402 703l8-7 16 12-15 10-10-8zM713 -2l18-8 5 6-6 11-18 0zM707 191l7-4 13 6-4 10-14 0zM89 483l14-9 6 19-11 7zM562 159l20-5 5 17-2 3-19 0zM397 131l4 1 4 15-12 9-12-4zM160 316l-1-4 22-6 3 13-1 2-12 3zM793 599l22-1 2 4-13 14zM277 73l4-2 14 15-8 10-13-4zM254 534l14-4 9 14-4 4-18-5zM864 481l4-1 9 14-5 9-9-4zM380 -12l9-2-2 17-7 1zM651 480l10-5 5 18-6 4-6 0zM467 473l5-6 18 7 2 6-1 1-21 2zM189 406l23-5 5 12-7 7-6 1zM239 651l4-4 18 4-3 10-14 3zM408 276l6 5 3 15-14 4zM526 576l12 1-1 16-3 1-13-7zM847 351l11-8 10 9-13 9-8-6zM351 185l7 1 4 11-4 5-8 0z"/><path fill="#f0503c" d="M287 567l6-7 8-3 19 0 3 1 6 17-4 13-12 10-19-1-9-20zM62 454l20-19 21 18 1 19-1 2-14 9-15 1-10-10-3-7zM815 561l4-4 16-8 16 7 4 6 1 11-7 14-16 4-13-5-8-14zM-19 445l30-9 4 9-3 27-9 4-17 0-9-6zM689 60l13-1 19 9 3 23-19 7-18-13zM406 201l3-4 14-5 13 1 1 1 5 23-10 8-15 2-11-10zM799 162l13-15 15 2 4 24-3 3-23 2-2-1zM379 571l14-6 10 4 6 9-1 11-8 11-3 0-17-12zM835 685l18-3 13 20-7 10-14 5-17-9zM355 154l17-1 1 1-3 24-12 8-7-1-13-11zM197 200l17 0 0 20-3 5-19 0-7-10zM570 519l10-9 14 0 8 8-6 24-13 1-6-4zM308 341l10-10 19 3 3 3-3 20-6 3-14-3zM-15 325l0-4 16-7 4 1 8 20-9 8-18-6zM803 691l4-11 21-2 7 7-7 23-4 1zM-17 571l10-12 9-3 10 21-1 3-9 6-11-2zM214 600l9-7 27 8-4 21-4 3-17-2zM-21 375l8-6 14 6 2 9-9 15-12-3-5-12zM687 188l6-2 14 5 2 12-7 11-15-5-2-5zM501 630l2-2 16-1 10 8-3 9-15 10zM56 185l15 3 4 16-10 11-19-15zM633 479l18 1 3 17-6 7-10 1-13-11zM-9 499l13-11 8-1 11 11-5 16-20-4-8-9zM613 154l9-8 6-1 14 13 0 1-10 9-12-1zM524 136l10-4 6 2 7 17-13 12-13-10zM478 362l11-8 11 9 1 10-9 5-13-5zM427 668l9-11 15 6-1 15-13 4zM209 324l19-7 5 14-4 9-20-3zM768 241l2-3 11-2 9 7 2 14-15 8-5-5zM126 247l6-14 12 4 1 22-2 2-3 1zM265 636l20-6 8 7-1 6-10 10-19-4zM381 630l25 9 1 6-12 11-21-9zM171 324l12-3 7 22-23 2-2-5zM313 259l11-4 12 9 0 2-15 12-3-1zM641 42l18-7 9 17-16 9zM185 441l1 0 16 11 0 1-3 9-17 3-2-4zM78 361l16-5 6 5-1 15-11 1-10-10zM700 474l13 12-7 15-14-5zM569 639l19-4 7 19-3 4-16-1zM741 558l15 2-2 11-18 2-1-3zM849 531l10 4-8 21-16-7-1-5zM891 592l17 1 1 14-15 10-2-1zM733 655l5-8 6-2 5 3 1 19-6 2zM4 343l9-8 3 0 12 10-6 14-10 1-7-5zM214 471l12-9 2 1 1 12-9 8zM229 -20l5 0 6 9-6 18-19-5zM457 130l1-6 1-1 22 10-14 10zM884 170l14-5 8 8-13 11zM417 650l14-2 5 9-9 11-4-1zM341 578l11-8 9 9 0 2-15 6zM289 609l18 19 0 1-14 8-8-7zM818 114l6 5 0 10-19 1zM727 92l16-3 11 11 0 3-14 7zM593 610l2-1 10 14-12 5zM663 15l1-4 20 1-1 12-20-6zM754 443l6-1-1 18-13-5 0-2zM151 211l6-6 13 10-8 12-4 0zM707 222l13 1-2 11-10 4zM369 36l12 4 2 12-14-1z"/><path fill="#48d24a" d="M583 543l13-1 1 0 20 23-12 23-19-1-16-13-2-6zM251 112l4-12 4-4 15-4 13 4 8 11-1 18-5 8-6 2-19-2-12-16zM829 102l1-12 17-19 25 7 4 5 5 31-10 9-13 4-7-1-18-14zM747 377l4-8 16-5 20 10 7 21-1 4-14 13-14 3-8-3-6-6-6-12zM389 -14l6-10 16-6 19 8 5 17-4 14-7 8-18 1-12-6-7-9zM289 696l1-6 10-9 17-4 7 2 8 7 0 23-9 7-21 4-3-2zM908 380l4-11 15-6 15 4 5 15-2 9-13 12-15 0-2-1zM116 77l7-12 14-6 19 13 1 1-6 21-12 7-17-3-2-2-5-9zM198 710l15-15 15-1 3 4 8 20-4 12-12 7-10 0-12-9zM767 612l2-10 11-4 11 0 2 1 11 17 0 14-12 9-21-5-1-1zM124 564l15-13 16 2 7 10 0 14-22 13-17-19zM180 44l6-15 3-2 18-3 19 18-13 20-16 5-8-4zM282 321l11-13 12-6 7 4 8 17-2 8-10 10-17 1-10-11zM908 205l12-15 16 0 9 8 1 6-8 17-1 1-19 4-1-1zM434 174l3-5 12-7 11 0 9 15-3 9-9 9-9 3-11-4-1-1zM242 251l10-8 22 5 3 8-6 24-8 3-17-4-6-6zM767 673l5-8 11-6 18 3 6 18-4 11-4 2-18 3-3-1-9-9zM654 308l8-6 27 1 6 13-15 21-19-7-5-10zM643 553l20 1 9 10-4 20-27-1-5-11zM748 537l3-9 16-9 1 1 15 12 1 20-17 6-10 0-9-12zM53 146l16-3 10 8 1 7-6 13-18 2-10-15zM588 635l5-7 12-5 13 2 6 15 0 4-6 9-23 1zM387 608l10-8 3 0 9 6 8 15-11 18-25-9zM556 -10l12-9 19 1 3 1 0 1-3 26-2 3-19 1-9-8zM30 389l6-16 11-3 17 12 0 3-6 18-16 4-7-6zM876 366l2-7 22-6 12 16-4 11-17 5-11-6zM497 327l14-7 5 2 8 10-8 24-3 0-21-9 0-1zM847 2l0-1 10-15 20 2 8 19-5 5-21 4zM292 643l1-6 14-8 14 9 3 10-3 7-12 8-10 0zM604 702l11-16 22 9 4 11-8 7-16 4-13-11zM223 448l22-14 9 23-2 3-10 8-14-5-2-1zM183 381l16-9 4 2 10 14-1 13-23 5-7-2zM907 515l27-4 6 4 2 5-7 18-13 3-15-10zM595 609l11-20 14 7 10 16 0 1-12 12-13-2zM539 347l16-13 1 0 11 10-3 22-21-2zM862 667l7-1 16 6 1 2-8 26-12 2-13-20zM501 373l15-16 2 0 10 11 1 10-6 11-16 0-3-1zM478 663l4-6 7-1 18 3-1 11-16 15-10-2zM490 685l16-15 16 13-7 15-13 1zM885 217l17-13 6 1 9 20-22 10-6 0-4-4zM417 621l10-2 12 15-8 14-14 2-10-5-1-6zM-20 264l6-11 2-1 15 4 7 15-18 10-8-3zM10 533l11-10 17 11 1 11 0 1-12 8-17-3zM617 565l0-1 19 8 5 11-6 8-15 5-14-7-1-1zM198 -19l7-8 17 1 7 6-14 22-6 1-6-2zM732 579l4-6 18-2 5 5 1 20-15 2zM741 124l20-9 11 6-6 19-10 4-10-2-7-6-1-1zM760 442l2-3 21 3 3 8-13 18-7 1-7-9zM612 172l8-5 12 1 4 15-4 5-22 4zM613 250l11-12 10 2 7 19-20 12zM633 -2l21-5 4 2 6 16-1 4-27 2-6-9zM567 399l19-13 12 15 0 3-20 13-13-5zM42 407l16-4 9 7 2 13-22 8-6-5zM133 191l12-6 9 1 3 19-6 6-17 0-4-6zM392 340l5-5 8 0 16 21-14 11-16-10zM696 170l8-6 13 9-3 14-7 4-14-5zM477 573l13-12 16 8 2 2-1 13-20 4zM167 620l14-7 10 7-3 18-7 2-17-7zM155 425l12 3 4 8-8 15-10 4-13-14zM501 498l19-9 6 6 1 22-11 3-15-12zM538 620l14-1 10 19-4 5-16 3-11-12zM477 99l6-9 19 11-7 12-11 1-7-5zM819 465l7-4 10 4 8 18-4 7-17-2zM126 139l3-7 17 2 3 5-1 14-16 7zM111 655l4-2 6 2 11 17-11 13-1 0-18-15zM681 502l11-6 14 5 2 3 0 10-10 5-14-3-5-8zM329 481l14-1 12 10-3 12-15 3-11-11zM274 248l1-5 13-8 16 11 1 7-16 8-12-5zM787 374l9-8 9 3 7 8 0 8-18 10zM429 456l2-2 19 6 3 14-4 6-13-1-9-7zM780 305l8-7 12 6 2 11-19 6-5-3zM407 66l9-6 20 13-1 2-9 8-15-1-3-4zM177 -6l7-15 14 2 5 20-17 6-1 0zM231 698l21-1 8 12-2 5-19 4zM610 192l22-4 5 14-23 7zM126 10l21 4 1 13-6 9-20-12zM293 11l21-6 6 10-16 17zM518 481l8-11 22 10 1 2-23 13-6-6zM696 126l3 3 1 24-14 1-7-12zM463 40l6-10 16 1 4 11-12 10-5 0zM264 223l2-7 20 6 2 13-13 8zM608 221l2-1 14 18-11 12-11-3-2-8zM408 171l13 7 2 14-14 5-6-14zM125 354l14-7 16 18-15 6-19-7-1-2zM736 -4l8 1 4 3 3 11-10 11-11-15zM486 184l0-1 16-8 11 16-9 9-7 0zM511 654l15-10 12 6 2 11-9 6-21-10zM289 133l5-8 23 1 5 11-1 3-25 1zM538 650l4-4 16-3 1 18-4 5-15-5zM766 19l10-11 10 5 3 15-5 8-9 4-10-12zM565 34l1-1 18-3 8 7-12 18-8-4zM868 578l8-9 16 5-2 18-20-5zM728 259l12-8 10 5 2 4-3 12-21 0zM891 385l17-5 7 22-27-1zM313 598l12-10 16 11 0 2-20 11-1 0zM628 355l13-11 5 1 6 17-16 6-6-4zM180 560l7-12 21 10 1 2-14 10-11-4zM718 391l18-4 6 8-4 11-19-6zM640 306l14 2 2 12-18 11-9-9zM507 659l3-2 21 10-4 15-5 1-16-13zM378 288l21 13-12 11-9-6zM310 365l7-8 14 3-10 17-9-3zM885 149l11 4 2 12-14 5-5-2-3-7zM524 174l10-9 13 22-23 5zM793 399l11 12 0 2-15 11-10-12zM528 267l6-2 10 15-14 11-8-4zM-8 157l15-4 9 13-5 10-16-2zM704 421l1-2 18 15-9 11-12-1zM868 352l6 1 4 6-2 7-15 4-6-9zM570 450l14-8 8 8-1 12-7 5-12-6zM94 306l2 0 15 14-1 5-13 5-12-9zM88 377l11-1 3 3-1 17-1 1-16-4zM192 157l3-1 9 2 4 7-7 15-7 0-4-3zM794 395l18-10 8 15-3 4-13 7-11-12zM666 94l11 0 3 17-17 4-4-8zM689 557l1-5 23-2 3 4-8 22zM157 73l8 2 4 19-4 4-14-4zM403 33l1-2 20 0 2 3-11 14-11-5zM897 482l15 8-7 15-12-12zM166 52l6-8 8 0 9 19-12 2zM426 83l9-8 9 20-14 9zM435 -5l16 0-1 17-19-3zM99 529l13 0 3 7-6 13-12 1-4-4zM510 157l11-4 13 10 0 2-10 9-16-7zM740 694l10 4-4 21-14-15zM41 58l12 18-3 5-22 1-3-7zM868 259l6 3-8 21-10-12zM525 392l5 3 1 7-8 10-11-9 0-1zM612 354l16 1 2 9-12 7-7-4zM320 612l1 0 12 16-12 10-14-9 0-1zM638 331l18-11 5 10-15 15-5-1zM522 683l5-1 13 11-1 5-21 3-3-3zM666 290l25-2-2 15-27-1zM129 167l16 18-12 6-10-8zM378 5l2-1 7-1 7 9-8 13-7-2zM98 73l8-5 10 9-1 10-15-3zM459 386l2 1 9 22-12 5-12-10zM399 301l3 0 2 14-12 6-5-4 0-5zM507 224l10-10 0-1 14 15-9 9-3 0zM739 407l12-1 6 6-8 11-7 1zM2 104l0-6 18 0 4 18-4 3zM329 575l12 3 5 9-5 12-16-11zM-15 301l4-1 12 14-16 7-2-3zM241 195l14 1 4 14-23 0zM772 652l11 2 0 5-11 6zM278 194l3 0 7 14-18 4zM808 23l1-1 14 12-4 14-15-9zM395 556l15-2 2 3-9 12-10-4zM722 554l15-4 4 8-6 12zM701 -11l12 9-1 9-8 6-7-6zM796 11l6-7 10 8-3 10-1 1-2-1zM366 614l8-8 13 2-6 22zM335 323l5-6 11 5-9 15-2 0-3-3zM624 554l18-1 1 0-7 19-19-8zM348 642l16 9-19 8-5-4 0-1zM130 230l2 3-6 14-15-3-1-5zM75 204l16 10 0 3-26 1 0-3zM507 389l16 0 2 3-13 10zM198 666l8 6-1 13-16 0zM820 545l14-1 1 5-16 8zM283 135l6-2 7 8-10 16-6-2zM747 190l11-8 9 9-11 12zM515 558l5 5 0 5-12 3-2-2zM783 654l9-9 9 15 0 2-18-3zM559 56l13-5 8 4-1 5-15 4-6-6zM185 7l1 0 3 20-3 2-17-4-1-1zM742 395l3-1 6 12-12 1-1-1zM529 378l9 5-8 12-5-3-2-3zM441 38l9-4 4 4-7 15zM769 686l9 9-11 8-8-6z"/><path fill="#e8e040" d="M812 377l11-16 6-4 18-2 8 6 6 9 2 12-5 14-15 11-2 1-21-8-8-15zM661 230l11-16 15-5 15 5 5 8 1 16-4 7-11 4-23-6-5-6zM723 203l4-10 7-4 13 1 9 13-4 17-10 4-15-7zM67 410l15-16 2-1 16 4 2 26-20 12-13-12zM22 631l11-4 20 12-4 10-15 8-12-3-6-7zM592 658l3-4 23-1 5 12-9 19-11-2zM630 133l11-8 8 3 6 21-13 9-14-13zM611 430l2-2 9 1 8 21-6 10-12-4-8-11zM13 473l21-2 3 13-14 14-11-11zM183 321l1-2 21 0 4 5 0 13-13 9-6-3zM29 571l1-1 13-4 10 8-9 18-14-11zM757 492l7-9 14 4 5 16-5 2-13-2zM282 290l15-4 6 2 2 14-12 6-11-8zM146 491l2-4 12-3 8 17-16 8-4-2zM844 235l10-5 13 8-4 14-13 0zM776 347l3-1 15 9 2 11-9 8-20-10zM236 86l0-2 17-13 6 25-4 4zM72 686l10 1 8 13-4 9-18 3-1-1zM526 468l9-9 13 6 2 11-2 4-22-10zM235 230l17 6 0 7-10 8-15-11zM56 173l18-2 4 6-7 11-15-3zM262 31l12-1 4 5-4 15-9 0-7-9zM80 158l12 7-4 10-10 2-4-6zM316 209l3-4 20 9 0 1-4 10-11 5zM463 87l19-3 1 6-6 9-17-1-1-1zM277 256l12 5-1 12-16 7-1 0zM817 73l3 1 5 13-13 3-3-8zM757 283l19-5 4 7-7 9-12-1zM516 322l12-7 7 10-8 7-3 0zM3 256l9-10 7 5-5 20-4 0zM501 508l15 12-9 7-11-6zM683 612l13-9 6 13-13 4zM223 593l2-5 22-1 3 14z"/><path fill="#5ab8e8" d="M579 60l1-5 12-18 16-2 16 14 2 18-6 9-8 5-16 1-10-5zM213 388l15-16 8-4 5 2 14 13 3 9-3 13-15 16-23-8-5-12zM-30 629l19-2 12 7 6 13-13 21-5 3-20-12-4-9zM530 395l8-12 7-3 13 2 9 17-2 13-11 7-11-3-12-14zM20 98l8-16 22-1 10 19 0 6-11 13-9 2-16-5zM1 375l11-15 10-1 14 14-6 16-9 4-7-1-11-8zM449 363l12-11 17 10 1 11-18 14-2-1-5-3zM685 682l16-3 15 11 1 14-10 11-17-4-10-11zM584 467l7-5 14 4 7 6-1 21-12 2-16-8zM433 311l23-5 2 19-8 8-17-1-5-8zM482 80l7-10 9-3 19 11 1 6-5 15-11 2-19-11-1-6zM566 174l19 0 6 13-12 15-20-2-6-11zM312 306l18-10 2 1 10 9-2 11-5 6-15 0zM689 30l13-6 12 15-12 20-13 1-5-5zM693 249l11-4 8 9 0 18-7 9-12 3-10-14zM123 455l10-14 7 0 13 14-3 8-13 9-2 0-9-6zM369 324l18-7 5 4 5 14-5 5-20-1-1-1zM225 667l19-2 9 16-1 3-23 10zM321 612l20-11 10 14-8 13-10 0zM327 663l13-8 5 4 5 11-11 14-7 2-8-7zM288 603l6-6 19 1 7 14-13 16-18-19zM900 688l0-5 22-7 7 17-17 13-3 0zM206 672l18-6 1 1 4 27-1 0-15 1-8-10zM304 246l18-12 6 11-4 10-11 4-8-6zM-31 192l20-8 9 18-3 6-16 1-10-9zM121 655l13-9 12 4 3 20-17 2zM-2 202l18-8 3 3 4 17-13 9-8-3-7-12zM265 7l15 7-6 16-12 1-7-10zM53 574l14 2 2 20-19 8-6-12zM36 660l14 1 8 13-16 8-11-10zM-10 240l4-3 16 4 2 5-9 10-15-4zM-2 60l5 0 7 11-14 19-2-1-9-12zM820 74l17-11 7 2 3 6-17 19-5-3zM137 472l13-9 12 17-2 4-12 3zM636 112l14-8 9 3 4 8-4 8-10 5-8-3zM618 625l12-12 16 15-2 5-20 7zM804 131l1 0 0-1 19-1 8 9-1 8-4 3-15-2zM173 242l14-1 5 6-5 12-17 3-3-4zM158 640l1-4 5-3 17 7-8 14-3 2zM50 81l3-5 13 1 5 10-11 13zM177 158l15-1-2 20-14-4zM211 225l3-5 19-1 2 11-8 10-11 1zM787 88l22-6 3 8-2 8-19 1zM680 376l13-4 5 16-4 5-10 0zM163 390l2-12 18 3-1 23-5 2zM501 56l15-1 6 17-5 6-19-11zM66 77l16-9 3 3-1 15-13 1zM88 266l15-4 8 11-7 11-12-5zM786 13l10-2 10 11-17 6zM786 450l10 11-15 12-8-5zM322 404l5-8 13 4 0 10-12 10zM431 535l21-11-2 21-13 5zM644 398l5 2 10 17-2 4-21 0zM197 662l19-10 8 6 0 8-18 6-8-6zM427 472l9 7-5 18-8 1zM356 68l11 20-25-2-2-4zM740 110l14-7 7 12-20 9zM570 574l16 13-6 11-16-2zM868 460l13-1 2 11-12 5zM519 451l13-4 2 1 1 11-9 9zM-9 584l11 2-6 14-8-2zM505 614l16 2-2 11-16 1zM675 170l5-3 16 3-3 16-6 2-3-1zM293 368l17-3 2 9-4 5zM153 692l6 4 1 5-6 8-12-5-1-2zM492 378l9-5 3 15-4 2zM840 608l15-6 4 14-15 4zM228 463l14 5 2 9-15-2zM754 282l3 1 4 10-11 13-7-7zM720 223l4-2 6 11-12 2zM887 646l2 1-4 25-16-6zM554 262l7-7 5 15-8 1zM515 553l11 1-6 9-5-5zM612 456l12 4 0 7-12 5-7-6zM463 75l19 5 0 4-19 3z"/><path fill="#e8309c" d="M174 479l8-14 17-3 15 9 6 12 0 15-9 11-20 0-15-9zM826 268l17-4 13 7 10 12 3 19-20 14-8 1-20-11-6-13zM286 157l10-16 25-1 13 20 1 13-17 15-24-3-8-14zM-5 13l1-2 16-11 19 2 3 1 1 2 5 21-16 15-12 1-12-8zM154 186l10-10 12-3 14 4 4 3 3 20-12 15-15 0-13-10zM10 223l13-9 15 0 11 13-1 21-5 5-24-2-7-5-2-5zM330 107l12-21 25 2 2 1 7 21-19 19-9 1-4-2zM167 345l23-2 6 3 3 26-16 9-18-3-9-13zM195 570l14-10 16 9 0 1 0 18-2 5-9 7-5 0-17-15zM213 62l13-20 3-1 10 5 16 20 0 2-2 3-17 13-15-6zM339 529l22-12 11 4 5 27-4 6-20 4-7-5zM485 31l18-21 17 11 1 18-2 3-21 5-9-5zM464 617l14-4 5 2 15 16-7 12-12 6-6-2-14-15zM82 687l12-16 8-1 18 15-11 18-3 1-16-4zM12 42l12-1 17 16 0 1-16 17-15-4-7-11zM160 669l10-13 3-2 21 5 3 3 1 4-9 19-7 4-9-2zM142 36l6-9 18-4 2 1 1 1 3 19-6 8-6 2-16-6zM424 17l7-8 19 3 5 11-5 11-9 4-15-4-2-3zM777 265l15-8 7 3 7 12-3 11-17 5-6-3-4-7zM176 407l1-1 5-2 7 2 15 15-8 14-10 6-1 0-14-5-4-8zM561 255l1-6 4-5 18 2 6 6-2 17-16 5-6-4zM901 345l21-8 8 10-3 16-15 6-12-16zM893 184l13-11 8 1 6 16-12 15-6-1-11-12zM835 437l24 0 0 15-13 12-10 1-10-4zM125 275l15-13 3-1 10 17-7 17-19-3-1-1zM-29 223l8-14 16-1 7 12-8 17-4 3-17-5zM680 438l22 7-5 23-24-6zM646 345l15-15 19 7 2 9-10 14-18 3-2-1zM332 686l7-2 15 6 1 14-4 4-16 3-3-2zM903 12l9-3 10 8-1 19-8 3-14-5zM91 2l10 4 4 17-9 10-4 0-18-12zM612 472l12-5 9 12-8 15-11 1-3-2zM703 155l12-8 11 6 4 12-3 6-10 2-13-9zM33 287l1 0 20 12 0 7-16 13-11-3-3-4zM745 598l15-2 9 6-2 10-16 12-11-8zM783 532l16-11 10 17-7 10-18 4zM671 587l27 1-2 15-13 9-7-3zM19 251l24 2-1 3-16 21-12-6zM265 50l9 0 9 7-2 14-4 2-22-5 0-2zM-20 536l16-4 7 23-1 1-9 3-12-8zM82 435l20-12 7 1 6 9-5 16-7 4zM819 337l10 1 2 3-2 16-6 4-10-2-5-8zM260 139l4-6 19 2-3 20-9 5-10-7zM139 347l1-11 10-3 15 7 2 5-11 20-1 0zM832 138l19-12 7 1-5 23-8 2-14-6zM636 368l16-6 2 1 2 15-15 14-4-3zM576 493l7-6 16 8-5 15-14 0zM267 173l4-4 15 2 8 14-3 4-10 5-3 0-12-8zM449 220l13 1 8 10 0 2-16 11-9-7zM502 175l6-8 16 7 0 18-1 0-10-1zM111 320l15-8 6 3 5 18-14 3-13-11zM786 144l18-13 8 16-13 15-16-13zM27 316l11 3 5 7-4 16-11 3-12-10zM861 370l15-4 4 13-9 7-8-4zM833 591l16-4 7 10-1 5-15 6-8-6zM751 625l19 8 1 1-4 10-18 4-5-3zM586 427l1-1 24 4-7 15-12 5-8-8zM43 201l3-1 19 15 0 3-2 2-14 7-11-13zM82 289l10-10 12 5 1 4-9 18-2 0zM255 405l10 5 1 15-21 6-5-10zM396 223l10-6 11 10 0 7-16 9-1 0zM702 445l0-1 12 1 12 16-27 9-2-2zM252 460l2-3 16 3-1 12-12 3-1-1zM657 421l2-4 16 1 6 13-1 6-19-1zM714 641l10-5 14 11-5 8-7 5-15-4-1-1zM234 539l16-8 4 3 1 9-15 10zM330 -20l9-5 13 2 9 7-3 16-10 5zM-12 673l1-2 5-3 21 7-1 13-17 3zM150 671l10-2 13 18-14 9-6-4zM514 301l12 1 2 13-12 7-5-2zM144 48l16 6-4 18-19-13zM767 703l11-8 3 1 2 20-4 5-3 0-6-4zM520 21l10-4 5 1 5 18-19 3zM284 545l19-9-2 21-8 3zM15 445l18 13 1 12 0 1-21 2-1-1zM160 54l6-2 11 13-12 10-8-2-1-1zM69 135l15-10 5 16-10 10-10-8zM-14 476l17 0 1 12-13 11zM739 437l15 6-8 10-8-5zM342 306l7-3 11 16-9 3-11-5zM572 277l0-3 16-5 6 8-8 12zM888 549l13-8 6 14-11 5zM2 220l8 3 0 18-16-4zM863 382l8 4 1 11-14-1zM252 684l0 13-21 1-3-4 1 0zM100 361l20 1 1 2-1 4-18 11-3-3zM116 149l10-10 6 21-3 4-6-2zM592 236l8 3 2 8-12 5-6-6zM754 77l6 2 5 7-11 14-11-11zM339 529l7 24-16 1zM872 316l5 16-16 1-1-5zM57 131l12 4 0 8-16 3-1-2zM487 588l20-4 3 2-7 14-16-8zM409 606l17-6 4 14-3 5-10 2zM436 479l13 1 1 8-14 10-5-1zM483 615l22-1-2 14-2 2-3 1zM74 241l1 1 2 9-8 9-11-11zM203 374l25-2-15 16zM395 83l13-5 3 4-10 12zM667 383l10-8 3 1 4 17-2 2-14-7zM98 500l11-7 6 4-4 11-14-4zM240 -11l11 6-12 18-5-6zM26 146l7-1 11 12-18 2zM756 144l10-4 11 9-16 9zM823 219l16 8 0 5-18 3zM295 86l16 3 2 7-18 11-8-11zM513 356l3 0 0 1-15 16-1-10z"/><path fill="#3b4fd0" d="M769 52l6-12 9-4 20 3 15 9 1 1-3 24-8 9-22 6-7-4-9-15zM23 498l14-14 15 3 15 12-1 16-11 13-17 6-17-11-3-9zM466 298l21-16 14 2 9 7 4 10-3 19-14 7-18-1zM278 -23l14-10 13-2 21 16-12 24-21 6-5-2-8-12zM211 509l9-11 22 0 10 15-2 18-16 8-16-3-7-9zM519 42l2-3 19-3 6 3 9 19-13 16-20-2-6-17zM451 580l20-8 6 1 10 15 0 4-9 21-14 4-15-13-3-11zM446 271l12-12 16-2 9 8 4 17-21 16-3 0zM103 40l10-13 9-3 20 12 2 12-7 11-14 6-14-5-7-11zM-29 96l23-7 2 1 6 8 0 6-4 17-7 6-6 2-18-20 0-2zM601 334l0-4 7-8 21 0 9 9 3 13-13 11-16-1zM371 365l4-4 16-4 16 10 0 16-10 8-12 3-15-12zM894 617l15-10 17-1 9 17 0 3-12 19-22-5zM209 3l6-1 19 5 5 6 2 5-12 23-3 1-19-18zM401 429l14-8 17 8 1 1-1 22-1 2-2 2-20 1-12-15zM426 283l14-12 6 0 17 27-7 8-23 5-11-14zM484 214l3 0 16 11-3 16-10 5-12-1-8-12 0-2zM105 288l21 3 1 1-1 20-15 8-15-14zM828 176l3-3 13-6 14 3 6 10 1 7-5 7-14 5-5-2-11-13zM505 245l14-8 3 0 15 15-1 9-2 4-6 2-17-2-7-9zM18 404l5-2 12-1 7 6-1 19-29 8-2-14zM841 317l8-1 11 12 1 5-3 10-11 8-16-10-2-3zM737 37l4-8 24-1 10 12-6 12-21 6zM828 653l3-2 20 1 11 15-9 15-18 3-7-7zM659 123l4-8 17-4 14 6 2 9-17 16-10 0zM28 345l11-3 13 14-5 14-11 3-14-14zM379 685l6-10 8-4 16 9 3 8-2 8-8 7-14-4zM170 262l17-3 9 14-10 15-18-14zM700 -15l11-15 20 12 0 8-18 8-12-9zM219 290l4-1 14 6 3 9-12 13-17-13 0-1zM90 91l10-7 15 3 5 9-14 15-12 1zM241 18l14 3 7 10-4 10-19 5-10-5zM132 315l18-10 9 7 1 4-10 17-10 3-3-3zM182 689l7-4 16 0 8 10-15 15-13-5zM220 483l9-8 15 2 1 1 1 14-4 6-22 0zM100 585l2 1 10 16-11 11-15 0-7-13zM11 702l4-13 22 4 2 9-6 11-9 3-11-7zM382 276l18-6 7 4 1 2-5 24-1 1-3 0-21-13-1-2zM662 149l7-7 10 0 7 12-6 13-5 3zM150 463l3-8 10-4 17 10 2 4-8 14-12 1zM174 138l5-5 13-1 1 1 2 23-3 1-15 1-2-2zM558 210l1-10 20 2 4 15-14 6zM892 574l2-1 16 1 3 4-4 15-1 0-17-1-1 0zM768 321l10-3 5 3-4 25-3 1-14-15zM55 528l11-13 12 7-5 18-11-3zM871 386l9-7 11 6-3 16-7 3-9-7zM859 535l2 0 17 14-5 10-18 3-4-6zM693 634l14-1 7 8-4 14-16-7zM643 545l12-11 12 6-4 14-20-1-1 0zM454 38l9 2 9 12-7 7-17-2-1-4zM227 275l13-2 6 6-9 16-14-6zM686 154l14-1 3 2 1 9-8 6-16-3zM35 5l15-5 11 17-16 11-5-2zM613 -4l7-5 12 5 1 2-3 10-15 0zM378 465l19 10-12 11-11-5zM393 156l12-9 12 10-9 14zM654 363l18-3 5 15-10 8-11-5zM448 57l17 2-3 15-19-5zM590 -16l12 11-2 13-13 2zM350 670l3 0 6 15-5 5-15-6zM273 -24l5 1 2 20-16 3-5-4zM812 90l13-3 5 3-1 12-12 4-7-8zM710 623l14 2 0 11-10 5-7-8zM475 331l4-5 18 1-5 19zM135 472l2 0 11 15-2 4-11 4-5-2zM361 579l17-8 1 0 1 17-6 3-13-10zM884 142l17-9 8 4-13 16-11-4zM767 612l3 21-19-8 0-1zM620 596l15-5-5 21zM600 411l13 17-2 2-24-4zM908 593l1 0 18 7-1 6-17 1zM616 97l10-6 6 4-2 13-6 1zM489 354l3-7 21 9-13 7zM510 291l12-4 8 4-4 11-12-1zM439 363l10 0 5 20-13-1zM607 145l7-7 8 8-9 8-2 0zM105 23l8 4-10 13-7-7zM683 530l8 5-2 11-15-8zM877 494l9 1-2 12-11 1-1-5zM591 702l7-6 6 6 0 4-8 4zM361 383l6 0-1 12-11-2z"/><path fill="#9048c8" d="M336 266l0-2 8-18 3-3 16-5 18 14 1 24-5 10-24 3-8-5-2-2zM789 424l15-11 18 5 7 5 6 14-9 24-7 4-23-4-10-11-3-8zM467 143l14-10 1 0 19 5 9 19-2 10-6 8-16 8-17-6-9-15zM321 377l10-17 6-3 15 3 4 4 5 19-6 10-5 4-10 3-13-4-6-11zM823 34l15-8 15 4 6 12-15 23-7-2-17-14-1-1zM451 430l7-16 12-5 14 3 7 31-22 8-11-4-1-2zM735 682l1-5 8-8 6-2 17 6 2 13-10 11-9 1-10-4zM341 599l5-12 15-6 13 10 0 15-8 8-15 1-10-14zM165 75l12-10 12-2 8 4 2 13-9 21-21-7zM313 443l15-13 21 8 2 2 2 20-3 3-27 7zM218 536l16 3 6 14-1 4-14 12-16-9-1-2zM765 415l14-3 10 12-6 18-21-3-1-6zM60 100l11-13 13-1 6 5 4 21-10 10-24-16zM438 147l2-11 17-6 10 13-7 19-11 0zM868 480l3-5 12-5 8 2 6 10-4 11-7 2-9-1zM49 119l11-13 24 16 0 3-15 10-12-4zM67 576l6-4 20 5 7 8-21 15-10-4zM718 320l2-2 22 5 5 9-8 13-19-4zM382 198l2-2 22 5 0 16-10 6-13-5zM784 552l18-4 13 13-3 11-15 3-9-5zM797 575l15-3 8 14-5 12-22 1-2-1zM85 621l14 7 2 4-4 12-16 5-10-11zM623 665l22 4-8 26-22-9-1-2zM518 84l28 3-1 17-11 6-21-10 0-1zM474 195l12-11 11 16-10 14-3 0-11-7zM884 54l11 8 2 8-5 14-16-1-4-5zM47 431l22-8 13 12-20 19-13-9zM253 71l2-3 22 5-3 19-15 4zM469 451l22-8 3 2-4 29-18-7zM739 136l7 6 0 18-16 5-4-12zM728 298l15 1 7 7 0 2-8 15-22-5zM689 620l13-4 8 7-3 10-14 1-4-3zM575 317l7 7-2 13-13 7-11-10zM452 524l3-3 21 10 1 8-12 12-15-6zM814 248l11 20-19 4-7-12zM432 225l10-8 3 0 4 3-4 17-12 1zM425 257l15 14-14 12-12-2-6-5-1-2zM76 544l17 2 4 4-6 11-13 1zM301 484l21-13 7 10-3 13-17 2zM751 11l15 8-1 9-24 1 0-7zM780 576l8-6 9 5-6 23-11 0zM612 81l8-5 6 15-10 6-6-3zM152 405l24 2-9 21-12-3zM103 151l13-2 7 13-20 2-2-1zM717 173l10-2 7 18-7 4-13-6zM74 21l18 12-10 15-12-9zM162 563l18-3 4 6-5 13-15 1-2-3zM406 18l18-1 0 14-20 0zM42 256l6 18-14 13-1 0-7-10zM297 665l2-2 10 0 8 14-17 4zM-10 39l10-5 12 8-9 18-5 0zM272 280l16-7 9 13-15 4zM611 367l7 4 2 14-10 3-9-10zM186 441l10-6 7 3-1 14zM52 487l12-13 10 10-7 15zM428 156l10-9 11 15-12 7zM478 245l12 1 3 10-10 9-9-8zM67 499l15 10-2 12-2 1-12-7zM174 501l2-1 15 9-8 13-2 0zM-6 617l3-1 9 10-5 8-12-7zM546 39l17-4-4 21-1 2-3 0zM184 566l11 4-3 15-2 1-11-7zM765 503l13 2-10 15-1-1zM239 557l3 16-17-3 0-1zM916 559l4-1 8 18-15 2-3-4zM813 359l10 2-11 16-7-8zM713 486l13 2 3 5-21 11-2-3zM773 294l7-9 6 3 2 10-8 7zM147 14l4-3 15 12-18 4zM490 246l10-5 5 4-1 11-11 0zM417 227l15-2 1 13-6 4-10-8zM917 225l1 1 2 12-11 8-14-11zM852 213l2 17-10 5-5-3 0-5z"/><path fill="#b070dc" d="M-4 600l6-14 9-6 19 1 14 11 6 12-1 2-16 21-11 4-16-5-9-10zM11 176l5-10 10-7 18-2 2 1 10 15 0 12-10 15-3 1-24-4-3-3zM645 669l8-6 18 0 14 19-5 18-11 9-25-1-3-2-4-11zM756 203l11-12 19 1 11 16-1 16-15 12-11 2-18-18zM91 214l19-18 20 9 4 6-4 19-20 9-16-11-3-11zM484 412l12-9 16 0 11 9 4 10-3 10-15 13-15 0-3-2zM41 57l10-15 19-3 12 9 1 3-1 17-16 9-13-1-12-18zM302 501l7-5 17-2 11 11 1 23-26 9-8-2-7-21zM804 616l13-14 15 0 8 6 4 12-2 12-10 8-16-2-12-8zM232 164l21-2 14 11-1 13-11 10-14-1-10-9zM610 220l4-11 23-7 8 2 9 23-20 13-10-2zM577 300l9-5 21 7 1 20-7 8-19-6-7-7zM373 154l8-2 12 4 15 15-5 12-19 11-14-16zM461 387l18-14 13 5 8 12-4 13-12 9-14-3zM851 637l18-12 5 1 13 20-18 20-7 1-11-15zM415 48l11-14 15 4 6 15 1 4-5 12-7 4-20-13zM191 103l18-15 12 3 6 3 4 19-5 7-12 4-19-13zM791 99l19-1 7 8 1 8-13 16 0 1-20-12zM430 104l14-9 15 2 1 1 3 13-4 12-1 1-22 1-10-9-1-4zM620 76l6-9 22 0 3 17-5 8-14 3-6-4zM137 530l18-4 8 6-8 21-16-2-4-13zM427 619l3-5 19-10 15 13-5 15-3 2-17 0zM585 13l2-3 13-2 9 5 2 18-3 4-16 2-8-7zM749 648l18-4 5 8 0 13-5 8-17-6zM672 360l10-14 18 13-7 13-13 4-3-1zM61 17l13 4-4 18-19 3-6-14zM291 342l17-1 9 16-7 8-17 3-1 0-4-6zM483 265l10-9 11 0 7 9-10 19-14-2zM291 189l3-4 24 3 1 17-3 4-22 0zM802 -14l4-3 17 12 1 9-12 8-10-8zM520 563l6-9 8-3 11 18-7 8-12-1-6-8zM388 113l14-12 23 11 1 4-25 16-4-1zM103 164l20-2 6 2 0 3-6 16-13 6-8-11zM33 458l16-13 13 9-1 13-27 3zM350 397l5-4 11 2 4 7-5 14-6 1-7-7zM418 393l14 2 5 8-6 10-15 3-7-8zM197 67l16-5 8 16-2 4-10 5-10-7zM49 606l8 30-4 3-20-12zM562 494l14-1 4 17-10 9-9-3zM501 138l7-7 16 5-3 17-11 4zM255 196l11-10 12 8-8 18-4 4-7-6zM358 186l12-8 14 16 0 2-2 2-20-1zM800 304l12-12 3 1 6 13-13 11-6-2zM805 178l23-2 2 8-5 15-4 4-6-2zM456 306l7-8 3 0 13 28-4 5 0 1-17-7zM412 557l16 7-6 10-13 4-6-9zM832 640l10-8 9 5 0 15-20-1zM534 448l19-4 3 3-3 12-5 6-13-6zM698 519l10-5 10 11-6 11-15-3zM180 608l9-10 15 6-7 14-6 2-10-7zM540 693l12-6 8 15-14 3-7-7zM450 333l8-8 17 7-14 16zM533 520l21-1-5 20-8 1zM274 579l11-2 9 20-6 6-16-7zM11 -8l12-10 8 20-19-2zM806 272l19-4 1 0-11 25-3-1-9-9zM181 640l7-2 4 3 2 18-21-5zM556 543l21-4 6 4-15 25-5-2zM684 12l13-5 7 6-2 11-13 6-6-6zM100 397l1-1 15 7-7 21-7-1zM622 429l10-4 12 19-14 6zM820 49l17 14-17 11-3-1zM378 306l9 6 0 5-18 7-4-4zM270 460l11-5 1 0 2 19-13 0-2-2zM255 383l12-5 11 15-20-1zM919 286l3 3-2 22-15-2-2-3zM160 484l2-4 12-1 2 21-2 1-6 0zM728 41l9-4 11 21-1 1-19 3zM385 486l12-11 2 0 7 22-15 2zM158 124l10-6 11 15-5 5-12-4zM586 386l0-2 15-6 9 10-12 13zM92 165l9-2 2 1-1 14-14-3zM195 111l19 13-3 7-18 2-1-1zM504 200l9-9 10 1-6 21 0 1zM636 526l14-1 5 9-12 11zM712 360l22 3-8 11-4 1zM252 117l12 16-4 6-19-6zM523 412l8-10 12 14-16 6zM457 445l1 2-8 13-19-6 1-2zM757 412l8 3-4 18-12-10zM409 578l13-4 1 14-15 1zM816 638l16 2-1 11-3 2-9-2zM529 635l2-1 11 12-4 4-12-6zM281 194l10-5 3 20-1 1-5-2zM257 475l12-3 2 2-7 7z"/><path fill="#e6c8ee" d="M799 521l1-9 19-13 22 4 6 4 2 24-15 13-14 1-11-7zM-8 281l18-10 4 0 12 6 7 10-9 25-19 3-4-1-12-14zM754 103l0-3 11-14 15-2 7 4 4 11-6 20-2 1-11 1-11-6zM407 367l14-11 5-1 13 8 2 19-9 13-14-2-11-10zM872 316l1-11 30 1 2 3 0 18-8 11-15-2-5-4zM140 371l15-6 1 0 9 13-2 12-12 13-20-8 0-14zM579 202l12-15 19 5 4 17-4 11-2 1-16 1-9-5zM843 407l15-11 14 1 9 7-11 28-9 3zM358 56l11-5 14 1 8 5 2 3-4 20-20 9-2-1-11-20zM550 476l9-11 13-4 12 6-1 20-7 6-14 1-13-12-1-2zM503 -1l2-2 21-3 1 1 5 9-2 13-10 4-17-11zM295 107l18-11 12 11-8 19-23-1zM326 -19l4-1 18 25-17 14-11-4-6-10zM708 504l21-11 3 2-2 27-12 3-10-11zM632 425l4-4 21 0 4 15-9 9-8-1zM-16 130l1-1 6-2 23 14-7 12-15 4-11-10zM2 556l1-1 7-4 17 3 3 16-1 1-17 6zM873 559l5-10 10 0 8 11-2 13-2 1-16-5zM846 464l13-12 9 8 3 15-3 5-4 1-12-2zM682 409l16 0 7 7 0 3-1 2-23 10-6-13zM720 341l19 4 2 15-7 3-22-3-3-2zM676 609l7 3 6 8 0 11-12 9-15-15zM404 43l11 5 1 12-9 6-14-6-2-3zM882 336l15 2 4 7-1 8-22 6-4-6zM354 690l5-5 17 2-4 19-1 0-16-2zM48 274l16 6 2 7-12 12-20-12zM511 265l17 2-6 20-12 4-9-7zM790 243l11-7 13 12-15 12-7-3zM215 196l16-10 10 9-5 15-22-10zM40 26l5 2 6 14-10 15-17-16zM844 620l15-4 10 9-18 12-9-5zM203 438l8-6 12 16-21 5 0-1zM368 654l0-2 6-5 21 9-2 15-8 4zM882 195l9-3 11 12-17 13-7-9zM638 505l10-1 7 10-5 11-14 1-1-1zM477 52l12-10 9 5 3 9-3 11-9 3zM487 -19l1-2 16-5 3 17-2 6-2 2zM449 480l4-6 14-1 3 10-13 9-7-4zM226 120l5-7 20-1 1 5-11 16-5 1zM766 469l7-1 8 5-3 14-14-4zM881 459l9-10 5 1-4 22-8-2zM340 337l2 0 14 8-4 15-15-3zM350 202l8 0-1 16-18-3 0-1zM334 160l17-9 4 3-17 20-3-1zM502 101l11-2 0 1-8 22-9-5-1-4zM2 104l18 15-2 1-20 1zM280 428l1 0 18 14-17 13-1 0zM656 378l11 5 1 5-19 12-5-2-3-6zM760 79l11-10 9 15-15 2zM492 645l15 14-18-3zM118 636l10-5 6 15-13 9-6-2zM23 -18l1-1 8-3 2 25-3-1zM672 204l13 0 2 5-15 5zM120 368l1-4 19 7-9 10z"/><path fill="#5b42c8" d="M116 403l15-8 20 8 1 2 3 20-15 16-7 0-18-8-6-9zM355 490l11-9 8 0 11 5 6 13-11 20-8 2-11-4-9-15zM661 475l5-10 7-3 24 6 2 2 1 4-8 22-11 6-15-9zM286 222l7-12 1-1 22 0 8 21-2 4-18 12-16-11zM153 278l15-4 18 14 1 7-6 11-22 6-9-7-4-10zM680 337l15-21 23 4 2 21-11 17-9 1-18-13zM416 501l7-3 8-1 5 1 18 21 1 2-3 3-21 11-7-2-9-12zM322 51l13-8 19 8 4 5-2 12-16 14-15-7zM270 333l11-2 10 11-3 20-17 4-11-8-1-7zM102 379l18-11 11 13 0 14-15 8-15-7zM211 635l0-3 14-9 17 2 1 22-4 4-15 7-8-6zM132 672l17-2 1 1 3 21-12 10-9-3-11-14zM152 -2l6-8 19 4 8 13-17 17-2-1-15-12zM144 237l14-10 4 0 11 15-6 16-22 1zM712 536l6-11 12-3 4 3 5 11 0 12-2 2-15 4-6 0-3-4zM233 219l3-9 23 0 7 6-2 7-12 13-17-6zM829 -23l12-10 7 2 9 17-10 15-16-12zM812 12l12-8 13 4 1 18-15 8-14-12zM351 322l9-3 5 1 4 4 2 14-15 7-14-8zM204 604l5-4 5 0 11 23-14 9-14-14zM401 94l10-12 15 1 4 21-5 8-23-11zM450 460l8-13 11 4 3 16-5 6-14 1zM381 40l7-11 15 4 1 10-13 14-8-5zM227 94l9-8 19 14-4 12-20 1zM669 256l1-13 23 6-10 21-7-1zM538 230l12-6 14 7 2 13-4 5-22-2zM81 656l13 15-12 16-10-1-10-11zM497 200l7 0 13 14-10 10-4 1-16-11zM335 225l4-10 18 3 8 11-2 9-16 5zM81 656l0-7 16-5 14 11-9 15-8 1zM901 541l6-10 15 10 0 14-2 3-4 1-9-4zM913 578l15-2 6 5-1 14-6 5-18-7zM34 471l0-1 27-3 3 7-12 13-15-3zM829 423l12-15 2-1 18 28-2 2-24 0zM338 33l14-6 10 6-8 18-19-8zM915 60l7 1 12 10-1 6-17 12-3-1-3-13zM487 592l16 8 2 14-22 1-5-2zM619 116l5-7 6-1 6 4 5 13-11 8-7-3zM15 675l4-3 12 0 11 10-5 11-22-4-1-1zM312 537l26-9 1 1-9 25-7 4-3-1zM527 332l8-7 20 9-16 13-1 0zM586 587l19 1 1 1-11 20-2 1-13-12zM258 307l4-3 11 3 9 14-1 10-11 2-9-5zM-21 17l16-4 5 21-10 5-13-8zM372 339l20 1-1 17-16 4zM415 521l9 12-14 9-12-9zM408 589l15-1 5 6-2 6-17 6-9-6zM373 427l11 4 2 11-9 7-12-10zM632 168l10-9 11 20-2 4-15 0zM160 316l11 8-6 16-15-7zM409 457l20-1-2 16-21-4zM716 690l19-8 5 12-8 10-15 0zM273 548l4-4 7 1 9 15-6 7-11-4zM632 95l14-3 4 12-14 8-6-4zM649 128l10-5 10 19-7 7-7 0zM374 591l6-3 17 12-10 8-13-2zM632 188l4-5 15 0 2 13-8 8-8-2zM441 382l13 1 5 3-13 18-9-1-5-8zM817 404l3-4 21 8-12 15-7-5zM712 272l16 0-5 17-18-8zM244 665l0-1 14-3 4 14-9 6zM534 110l11-6 8 7-13 23-6-2zM264 0l16-3 8 12-8 5-15-7zM886 674l14 9 0 5-20 13-2-1zM345 284l8 5-4 14-7 3-10-9zM282 653l10-10 7 20-2 2-9 0zM322 471l1-1 27-7-7 17-14 1zM229 340l4-9 17 3-1 12-13 5zM379 23l7 2 2 4-7 11-12-4-2-3zM614 138l1-3 8-5 7 3-2 12-6 1zM498 47l21-5-3 13-15 1zM491 481l1-1 26 1 2 8-19 9zM384 194l19-11 6 14-3 4-22-5zM473 207l11 7-14 17-8-10zM716 138l22-3 1 1-13 17-11-6zM327 284l16-2 2 2-13 13-2-1zM27 554l12-8 4 20-13 4zM737 382l10-5-2 17-3 1-6-8zM324 648l16 6 0 1-13 8-6-8z"/><path fill="#3cc07a" d="M282 455l17-13 14 1 10 27-1 1-21 13-7 0-10-10zM855 602l1-5 14-10 20 5 1 0 1 24-18 10-5-1-10-9zM432 690l5-8 13-4 20 12-2 15-20 13-7 0-10-10zM644 633l2-5 16-3 15 15 0 12-6 11-18 0-11-19zM245 434l0-3 21-6 14 3 1 27-11 5-16-3zM531 667l9-6 15 5-3 21-12 6-13-11zM596 103l5-8 9-1 6 3 8 12-5 7-12 4-8-2zM659 35l4-17 20 6 6 6-5 25-16-3zM353 289l24-3 1 2 0 18-13 14-5-1-11-16zM-20 341l6-4 18 6 1 12-18 13-11-12zM431 648l8-14 17 0 0 24-5 5-15-6zM193 133l18-2 6 10-2 9-11 8-9-2zM422 574l6-10 3-2 20 18-5 13-18 1-5-6zM786 192l17-15 2 1 10 23-10 7-8 0zM192 641l19-6 5 17-19 10-3-3zM395 533l3 0 12 9 0 12-15 2-9-9zM350 463l3-3 6 3 7 18-11 9-12-10zM72 267l15-1 1 0 4 13-10 10-16-2-2-7zM79 151l10-10 14 10-2 12-9 2-12-7zM781 696l18-3 1 19-17 4zM896 560l11-5 9 4-6 15-16-1zM122 98l17 3 1 14-12 10-7-8zM191 620l6-2 14 14 0 3-19 6-4-3zM3 384l11 8-1 8-11 4-8-5zM845 152l8-2 10 11-5 9-14-3zM796 224l2 1 4 7-1 4-11 7-9-7zM542 -7l8-6 6 3 1 16-13 1-2-3zM162 162l13-6 2 2-1 15-12 3zM802 548l7-10 11 7-1 12-4 4zM517 78l5-6 20 2 4 13-28-3zM204 158l11-8 11 12-18 3zM592 450l12-5 8 11-7 10-14-4zM905 327l17 2 0 8-21 8-4-7zM684 516l14 3-1 14-6 2-8-5zM291 494l11 7-5 13-16-7zM558 210l11 13-5 8-14-7zM558 643l4-5 7 1 7 18-17 4zM214 200l22 10-3 9-19 1zM457 195l9-9 8 9-1 12zM356 364l15 1-1 17-3 1-6 0zM610 279l10-6 7 23-19 5zM86 613l15 0-2 15-14-7zM608 35l3-4 21 1 3 8-11 9zM54 306l5 11-16 9-5-7zM181 522l2 0 8 9-5 13-16-13zM648 504l6-7 6 0 4 11-9 6zM737 550l2-2 9-2 9 12-1 2-15-2zM421 178l13-4 2 19-13-1zM598 404l2 7-13 15-1 1-8-10zM384 396l1-2 12-3 1 14zM869 302l4 3-1 11-12 12-11-12zM14 392l7 1 2 9-5 2-5-4zM756 560l1-2 10 0 1 14-9 4-5-5zM654 261l15-5 7 13-10 5zM135 -14l2-3 20 2 1 5-6 8-16-7zM270 212l18-4 5 2-7 12-20-6zM836 465l10-1 6 15-8 4zM473 647l6 2 3 8-4 6-14-6zM154 599l8-3 5 8-7 7zM532 4l10 0 2 3-9 11-5-1zM479 649l12-6 1 2-3 11-7 1z"/><path fill="#f8962e" d="M494 445l15 0 10 6 7 17 0 2-8 11-26-1-2-6zM783 321l19-6 6 2 11 20-11 14-14 4-15-9zM505 122l8-22 21 10 0 22-10 4-16-5zM91 343l6-13 13-5 13 11 2 18-5 8-20-1-6-5zM427 242l6-4 12-1 9 7 4 15-12 12-6 0-15-14-1-2zM852 213l10-7 16 2 7 9 0 14-18 7-13-8zM129 167l0-3 3-4 16-7 14 9 2 14-10 10-9-1zM433 332l17 1 11 15 0 4-12 11-10 0-13-8zM711 656l15 4 10 17-1 5-19 8-15-11zM374 459l3-10 9-7 11 0 12 15-3 11-7 7-2 0-19-10zM353 670l15-16 17 21-6 10-3 2-17-2zM590 252l12-5 11 3 8 21-1 2-10 6-16-2-6-8zM163 532l7-1 16 13 1 4-7 12-18 3-7-10zM727 171l3-6 16-5 10 5 2 17-11 8-13-1zM149 139l13-5 12 4 1 18-13 6-14-9zM636 17l27-2 0 3-4 17-18 7-6-2-3-8zM534 594l3-1 22 7-7 19-14 1-8-8zM616 537l7-10 12-2 1 1 7 19-1 8-18 1zM303 288l15-11 3 1 6 6 3 12-18 10-7-4zM328 420l12-10 12 0 7 7-10 21-21-8zM397 391l10-8 11 10-9 15-9 0-2-3zM405 335l9-9 14-2 5 8-7 23-5 1zM159 696l14-9 9 2 3 16-11 8-14-12zM475 332l0-1 17 15 0 1-3 7-11 8-17-10 0-4zM880 701l20-13 9 18-19 8zM586 289l8-12 16 2-2 22-1 1-21-7zM337 505l15-3 9 15-22 12-1-1zM454 244l16-11 8 12-4 12-16 2zM518 357l20-10 1 0 4 17 0 1-15 3zM-11 184l6-10 16 2 5 18-18 8zM111 273l14 2 1 16-21-3-1-4zM110 189l13-6 10 8-3 14-20-9zM328 245l16 1-8 18-12-9zM123 336l14-3 3 3-1 11-14 7zM336 266l7 16-16 2-6-6zM359 463l15-4 4 6-4 16-8 0zM5 315l19-3 3 4-11 19-3 0zM5 355l7 5-11 15-14-6 0-1zM219 82l2-4 15 6 0 2-9 8-6-3zM414 281l12 2-4 14-5-1zM151 625l8-11 8 6-3 13-5 3zM820 586l13 5-1 11-15 0-2-4zM739 536l9 1 0 9-9 2zM484 114l11-1 1 4-11 7z"/></g><g stroke="#111" stroke-width=".8" stroke-opacity=".6"><ellipse cx="51.2" cy="304" rx="48" ry="32" transform="rotate(0 51.2 304)" fill="#7468d0"/><ellipse cx="592" cy="274" rx="24" ry="54" transform="rotate(22 592 274)" fill="#8ee0a6"/><ellipse cx="637.2" cy="130" rx="20" ry="66" transform="rotate(8 637.2 130)" fill="#dcb4ea"/><ellipse cx="458" cy="89.2" rx="26" ry="30" transform="rotate(0 458 89.2)" fill="#7ee06a"/><ellipse cx="464" cy="361.2" rx="30" ry="20" transform="rotate(0 464 361.2)" fill="#f04236"/><ellipse cx="292" cy="164" rx="30" ry="40" transform="rotate(-20 292 164)" fill="#b040c0"/><ellipse cx="131" cy="304" rx="28" ry="28" transform="rotate(0 131 304)" fill="#52d050"/><ellipse cx="383.2" cy="653" rx="28" ry="28" transform="rotate(0 383.2 653)" fill="#7ce050"/><ellipse cx="346" cy="428" rx="24" ry="24" transform="rotate(0 346 428)" fill="#5a50d0"/><ellipse cx="114" cy="150" rx="32" ry="26" transform="rotate(0 114 150)" fill="#7a8ee6"/></g><rect width="910" height="696" filter="url(#nz2)"/><path fill="#050505" stroke="#050505" stroke-width="1.2" stroke-linejoin="round" d="M667 540l7-2 15 8 1 6-1 5-17 7-9-10zM239 46l19-5 7 9-10 16zM135 495l11-4 2 16-5 0zM9 238 5 230 14 224 21 223 30 226 31 231 34 239 28 248 18 243zM55 81 46 85 42 80 38 77 43 69 47 63 52 63 56 71 57 76zM330 164 325 158 321 155 324 145 327 143 331 138 335 146 339 155 336 160zM68 606 70 600 83 598 96 598 95 607 93 613 89 622 79 617 73 611zM83 661 75 654 74 648 81 641 88 635 97 641 101 648 96 658 90 665zM280 612 270 612 263 612 262 605 270 597 282 592 292 591 289 604 292 609zM314 659 305 660 300 658 300 650 300 643 309 637 317 639 323 647 318 654zM219 666 209 671 202 675 193 671 193 662 196 657 202 656 209 657 219 663zM372 633 373 630 380 628 383 629 389 632 386 636 383 638 377 641 375 638zM250 62 245 57 244 51 251 49 261 49 264 52 267 57 263 61 257 64zM796 1 798 -1 803 -5 809 -6 812 -3 810 2 810 4 804 5 799 5zM692 65 688 66 684 65 679 64 681 59 682 55 687 54 692 54 691 60zM676 558 672 555 669 553 666 548 669 544 675 545 678 546 680 550 681 555z"/></g></svg><rect x="216.5" y="755.5" width="38" height="27" fill="#fff"/><text x="225.3" y="772.7" font-size="20">(e)</text><rect x="504" y="1073" width="167" height="32" fill="#fff"/><text x="587.7" y="1089.7" font-size="20" text-anchor="middle">25 μm</text><path d="M511 1100h154" stroke="#231f20" stroke-width="1.4"/><g fill="#ed2226" stroke="#7d1518" stroke-width="1"><rect x="779.0" y="240.2" width="7.9" height="66.2"/><rect x="789.3" y="78.8" width="7.9" height="227.6"/><rect x="799.6" y="32.2" width="7.9" height="274.2"/><rect x="809.9" y="80.2" width="7.9" height="226.2"/><rect x="820.2" y="63.8" width="7.9" height="242.6"/><rect x="830.5" y="85.9" width="7.9" height="220.5"/><rect x="840.8" y="115.3" width="7.9" height="191.1"/><rect x="851.1" y="144.8" width="7.9" height="161.6"/><rect x="861.4" y="176.2" width="7.9" height="130.2"/><rect x="871.7" y="183.8" width="7.9" height="122.6"/><rect x="882.0" y="253.1" width="7.9" height="53.3"/><rect x="892.3" y="260.9" width="7.9" height="45.5"/><rect x="902.6" y="272.6" width="7.9" height="33.8"/><rect x="912.9" y="282.2" width="7.9" height="24.2"/><rect x="923.2" y="302.9" width="7.9" height="3.5"/><rect x="933.5" y="302.3" width="7.9" height="4.1"/><rect x="943.8" y="301.7" width="7.9" height="4.7"/><rect x="964.4" y="300.2" width="7.9" height="6.2"/><rect x="974.7" y="298.8" width="7.9" height="7.6"/></g><path d="M775.7 19.3H1138.5V306.4H775.7zM788.5 306.4v-5.2M842.3 306.4v-5.2M896.1 306.4v-5.2M949.9 306.4v-5.2M1003.7 306.4v-5.2M1057.5 306.4v-5.2M1111.3 306.4v-5.2M775.7 265.4h5.4M775.7 224.4h5.4M775.7 183.4h5.4M775.7 142.3h5.4M775.7 101.3h5.4M775.7 60.3h5.4" fill="none" stroke="#231f20" stroke-width="1.25"/><g font-size="20"><text x="788.2" y="328.7" text-anchor="middle">0.5</text><text x="842.0" y="328.7" text-anchor="middle">1.5</text><text x="895.8" y="328.7" text-anchor="middle">2.5</text><text x="949.6" y="328.7" text-anchor="middle">3.5</text><text x="1003.4" y="328.7" text-anchor="middle">4.5</text><text x="1057.2" y="328.7" text-anchor="middle">5.5</text><text x="1111.0" y="328.7" text-anchor="middle">6.5</text><text x="767.3" y="313.6" text-anchor="end">0</text><text x="767.3" y="272.6" text-anchor="end">2</text><text x="767.3" y="231.6" text-anchor="end">4</text><text x="767.3" y="190.6" text-anchor="end">6</text><text x="767.3" y="149.5" text-anchor="end">8</text><text x="767.3" y="108.5" text-anchor="end">10</text><text x="767.3" y="67.5" text-anchor="end">12</text><text x="767.3" y="26.5" text-anchor="end">14</text><text x="957.3" y="356.0" text-anchor="middle">晶粒尺寸 / μm</text><text transform="translate(733.5 162.7) rotate(-90)" text-anchor="middle">区间粒度分布（面积分数）/ %</text><text x="810.5" y="38.2">(b)</text></g><g fill="#ed2226" stroke="#7d1518" stroke-width="1"><rect x="776.3" y="637.7" width="5.9" height="41.9"/><rect x="784.4" y="539.4" width="6.0" height="140.2"/><rect x="792.7" y="539.6" width="6.0" height="140.0"/><rect x="800.9" y="457.3" width="6.0" height="222.3"/><rect x="809.2" y="445.4" width="6.0" height="234.2"/><rect x="817.4" y="468.6" width="6.0" height="211.0"/><rect x="825.6" y="438.7" width="6.0" height="240.9"/><rect x="833.9" y="499.0" width="6.0" height="180.6"/><rect x="842.1" y="482.2" width="6.0" height="197.4"/><rect x="850.4" y="481.0" width="6.0" height="198.6"/><rect x="858.6" y="522.7" width="6.0" height="156.9"/><rect x="866.8" y="548.0" width="6.0" height="131.6"/><rect x="875.1" y="597.8" width="6.0" height="81.8"/><rect x="883.3" y="612.1" width="6.0" height="67.5"/><rect x="891.6" y="633.2" width="6.0" height="46.4"/><rect x="899.8" y="641.1" width="6.0" height="38.5"/><rect x="908.0" y="650.9" width="6.0" height="28.7"/><rect x="924.5" y="671.0" width="6.0" height="8.6"/><rect x="932.8" y="665.0" width="6.0" height="14.6"/></g><path d="M775.7 392.5H1138.5V679.6H775.7zM786.3 679.6v-5.2M840.3 679.6v-5.2M894.4 679.6v-5.2M948.4 679.6v-5.2M1002.5 679.6v-5.2M1056.5 679.6v-5.2M1110.6 679.6v-5.2M775.7 631.8h5.4M775.7 583.9h5.4M775.7 536.0h5.4M775.7 488.2h5.4M775.7 440.4h5.4" fill="none" stroke="#231f20" stroke-width="1.25"/><g font-size="20"><text x="786.0" y="701.9" text-anchor="middle">0.5</text><text x="840.0" y="701.9" text-anchor="middle">1.5</text><text x="894.1" y="701.9" text-anchor="middle">2.5</text><text x="948.1" y="701.9" text-anchor="middle">3.5</text><text x="1002.2" y="701.9" text-anchor="middle">4.5</text><text x="1056.2" y="701.9" text-anchor="middle">5.5</text><text x="1110.3" y="701.9" text-anchor="middle">6.5</text><text x="767.3" y="686.8" text-anchor="end">0</text><text x="767.3" y="639.0" text-anchor="end">2</text><text x="767.3" y="591.1" text-anchor="end">4</text><text x="767.3" y="543.2" text-anchor="end">6</text><text x="767.3" y="495.4" text-anchor="end">8</text><text x="767.3" y="447.6" text-anchor="end">10</text><text x="767.3" y="399.7" text-anchor="end">12</text><text x="957.3" y="729.2" text-anchor="middle">晶粒尺寸 / μm</text><text transform="translate(733.5 535.8) rotate(-90)" text-anchor="middle">区间粒度分布（面积分数）/ %</text><text x="784" y="411.9">(d)</text></g><g fill="#ed2226" stroke="#7d1518" stroke-width="1"><rect x="778.5" y="976.1" width="13.6" height="76.9"/><rect x="796.0" y="875.1" width="13.6" height="177.9"/><rect x="813.4" y="861.7" width="13.6" height="191.3"/><rect x="830.9" y="822.0" width="13.6" height="231.0"/><rect x="848.3" y="803.3" width="13.6" height="249.7"/><rect x="865.8" y="838.8" width="13.6" height="214.2"/><rect x="883.2" y="823.0" width="13.6" height="230.0"/><rect x="900.6" y="865.4" width="13.6" height="187.6"/><rect x="918.1" y="942.9" width="13.6" height="110.1"/><rect x="935.5" y="954.6" width="13.6" height="98.4"/><rect x="953.0" y="966.9" width="13.6" height="86.1"/><rect x="970.5" y="975.5" width="13.6" height="77.5"/><rect x="987.9" y="1022.2" width="13.6" height="30.8"/><rect x="1005.4" y="1008.5" width="13.6" height="44.5"/><rect x="1022.8" y="1032.5" width="13.6" height="20.5"/><rect x="1040.2" y="1041.1" width="13.6" height="11.9"/><rect x="1110.0" y="1034.5" width="13.6" height="18.4"/></g><path d="M775.7 766H1138.5V1053H775.7zM788.5 1053v-5.2M842.5 1053v-5.2M896.5 1053v-5.2M950.5 1053v-5.2M1004.5 1053v-5.2M1058.5 1053v-5.2M1112.5 1053v-5.2M775.7 1012.0h5.4M775.7 971.0h5.4M775.7 930.0h5.4M775.7 889.0h5.4M775.7 848.0h5.4M775.7 807.0h5.4" fill="none" stroke="#231f20" stroke-width="1.25"/><g font-size="20"><text x="788.2" y="1075.3" text-anchor="middle">0.5</text><text x="842.2" y="1075.3" text-anchor="middle">1.5</text><text x="896.2" y="1075.3" text-anchor="middle">2.5</text><text x="950.2" y="1075.3" text-anchor="middle">3.5</text><text x="1004.2" y="1075.3" text-anchor="middle">4.5</text><text x="1058.2" y="1075.3" text-anchor="middle">5.5</text><text x="1112.2" y="1075.3" text-anchor="middle">6.5</text><text x="767.3" y="1060.2" text-anchor="end">0</text><text x="767.3" y="1019.2" text-anchor="end">2</text><text x="767.3" y="978.2" text-anchor="end">4</text><text x="767.3" y="937.2" text-anchor="end">6</text><text x="767.3" y="896.2" text-anchor="end">8</text><text x="767.3" y="855.2" text-anchor="end">10</text><text x="767.3" y="814.2" text-anchor="end">12</text><text x="767.3" y="773.2" text-anchor="end">14</text><text x="957.3" y="1102.6" text-anchor="middle">晶粒尺寸 / μm</text><text transform="translate(733.5 909.3) rotate(-90)" text-anchor="middle">区间粒度分布（面积分数）/ %</text><text x="784" y="786">(f)</text></g></svg>
<div class="ln" style="top:1120.9px"><span class="a cb" style="left:-1.0px;">图</span><span class="a lb" style="left:31.2px;">6</span><span class="a c" style="left:68.8px;letter-spacing:3.15px">不同钛原料制备的钨钛合金电子背散射衍射形貌及晶粒尺寸分布</span><span class="a c" style="left:801.4px;">：</span><span class="a c" style="left:813.0px;">（</span><span class="a l" style="left:842.5px;">a</span><span class="a c" style="left:857.0px;">）</span><span class="a c" style="left:871.0px;">、</span><span class="a c" style="left:879.0px;">（</span><span class="a l" style="left:908.6px;">b</span><span class="a c" style="left:925.0px;">）</span><span class="a l" style="left:949.8px;">TiH</span><span class="a s" style="left:984.8px;top:5px">2</span><span class="a c" style="left:993.0px;">；</span><span class="a c" style="left:1002.0px;">（</span><span class="a l" style="left:1033.0px;">c</span><span class="a c" style="left:1047.8px;">）</span><span class="a c" style="left:1060.5px;">、</span><span class="a c" style="left:1070.0px;">（</span><span class="a l" style="left:1099.7px;">d</span><span class="a c" style="left:1116.0px;">）</span><span class="a c" style="left:1138.1px;letter-spacing:3.1px">不规则形状</span><span class="a l" style="left:1275.3px;">Ti</span><span class="a c" style="left:1295.0px;">；</span></div>
<div class="ln" style="top:1162.4px"><span class="a c" style="left:-13.0px;">（</span><span class="a l" style="left:13.3px;">e</span><span class="a c" style="left:26.0px;">）</span><span class="a c" style="left:37.5px;">、</span><span class="a c" style="left:44.5px;">（</span><span class="a l" style="left:72.3px;">f</span><span class="a c" style="left:83.5px;">）</span><span class="a c" style="left:105.2px;letter-spacing:1.0px">球形</span><span class="a l" style="left:159.8px;">Ti</span></div>
<div class="ln j" style="top:1203px;width:1311px"><b>Fig.6</b><span class="g2"></span>EBSD images and grain size distribution of the W–Ti alloys prepared by different titanium raw material powders: (a), (b) TiH<sub>2</sub>;</div>
<div class="ln" style="top:1243.7px">(c), (d) irregular shaped Ti; (e), (f) spherical Ti</div>

</body></html>
